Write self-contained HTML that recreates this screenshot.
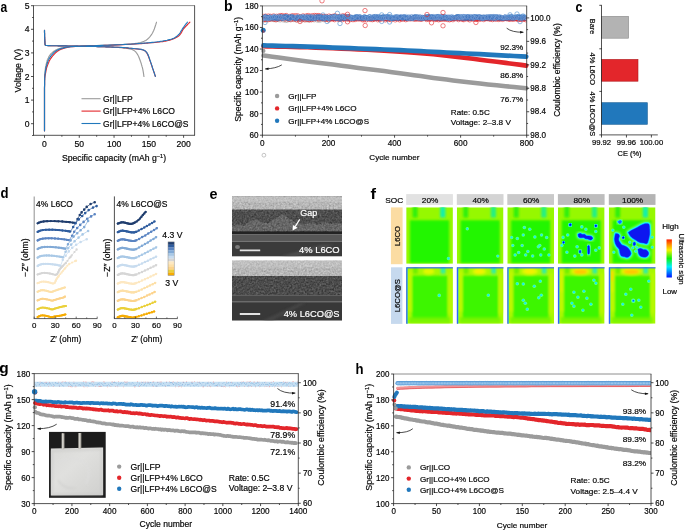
<!DOCTYPE html>
<html><head><meta charset="utf-8"><title>figure</title>
<style>
html,body{margin:0;padding:0;background:#fff;}
svg{display:block;will-change:transform;}
text{font-family:"Liberation Sans",sans-serif;}
</style></head><body>
<svg width="685" height="530" viewBox="0 0 685 530">
<defs>
<filter id="bl1" x="-20%" y="-20%" width="140%" height="140%"><feGaussianBlur stdDeviation="0.9"/></filter>
<filter id="bl2" x="-30%" y="-30%" width="160%" height="160%"><feGaussianBlur stdDeviation="0.45"/></filter>
<filter id="bl3" x="-30%" y="-30%" width="160%" height="160%"><feGaussianBlur stdDeviation="0.8"/></filter>
<filter id="semtexA" x="0" y="0" width="100%" height="100%" color-interpolation-filters="sRGB"><feTurbulence type="fractalNoise" baseFrequency="0.55" numOctaves="2" seed="4" result="n"/><feColorMatrix in="n" type="matrix" values="0.5 0.5 0 0 0  0.5 0.5 0 0 0  0.5 0.5 0 0 0  0 0 0 0 1" result="g"/><feComposite in="SourceGraphic" in2="g" operator="arithmetic" k1="0" k2="1" k3="0.42" k4="-0.21"/></filter>
<filter id="semtexB" x="0" y="0" width="100%" height="100%" color-interpolation-filters="sRGB"><feTurbulence type="fractalNoise" baseFrequency="0.55" numOctaves="2" seed="9" result="n"/><feColorMatrix in="n" type="matrix" values="0.5 0.5 0 0 0  0.5 0.5 0 0 0  0.5 0.5 0 0 0  0 0 0 0 1" result="g"/><feComposite in="SourceGraphic" in2="g" operator="arithmetic" k1="0" k2="1" k3="0.42" k4="-0.21"/></filter>
<clipPath id="clipb"><rect x="262.4" y="0" width="264.3" height="135.2"/></clipPath>
<clipPath id="clipd1"><rect x="34.6" y="195" width="70" height="123.2"/></clipPath>
<clipPath id="clipd2"><rect x="114.8" y="195" width="70" height="123.2"/></clipPath>
<clipPath id="clipg"><rect x="34.2" y="373.6" width="264.1" height="130"/></clipPath>
<clipPath id="cliph"><rect x="393.6" y="374" width="257.4" height="129.6"/></clipPath>
<clipPath id="cf00"><rect x="406.2" y="207.3" width="46.7" height="56.5"/></clipPath>
<clipPath id="cf01"><rect x="406.2" y="267.2" width="46.7" height="56.5"/></clipPath>
<clipPath id="cf10"><rect x="456.8" y="207.3" width="46.7" height="56.5"/></clipPath>
<clipPath id="cf11"><rect x="456.8" y="267.2" width="46.7" height="56.5"/></clipPath>
<clipPath id="cf20"><rect x="507.3" y="207.3" width="46.7" height="56.5"/></clipPath>
<clipPath id="cf21"><rect x="507.3" y="267.2" width="46.7" height="56.5"/></clipPath>
<clipPath id="cf30"><rect x="557.9" y="207.3" width="46.7" height="56.5"/></clipPath>
<clipPath id="cf31"><rect x="557.9" y="267.2" width="46.7" height="56.5"/></clipPath>
<clipPath id="cf40"><rect x="608.8" y="207.3" width="46.7" height="56.5"/></clipPath>
<clipPath id="cf41"><rect x="608.8" y="267.2" width="46.7" height="56.5"/></clipPath>
<linearGradient id="jet" x1="0" y1="1" x2="0" y2="0"><stop offset="0" stop-color="#0010ff"/><stop offset="0.14" stop-color="#0080ff"/><stop offset="0.28" stop-color="#00f0ff"/><stop offset="0.5" stop-color="#10f010"/><stop offset="0.72" stop-color="#f8f000"/><stop offset="0.86" stop-color="#ff9000"/><stop offset="1" stop-color="#ff2000"/></linearGradient>
<linearGradient id="pouch" x1="0" y1="0" x2="1" y2="1"><stop offset="0" stop-color="#d9d9d7"/><stop offset="0.4" stop-color="#e0e0de"/><stop offset="1" stop-color="#d0d0ce"/></linearGradient>
</defs>
<rect width="685" height="530" fill="#fff"/>
<text transform="translate(0.59 11.5) scale(0.79 1)" font-size="15.3" font-weight="bold" fill="#000">a</text>
<text transform="translate(223.97 11.4) scale(0.92 1)" font-size="15.3" font-weight="bold" fill="#000">b</text>
<text transform="translate(575.45 11.7) scale(0.81 1)" font-size="15.3" font-weight="bold" fill="#000">c</text>
<text transform="translate(0.52 198.4) scale(0.86 1)" font-size="15.3" font-weight="bold" fill="#000">d</text>
<text transform="translate(209.58 198.8) scale(0.94 1)" font-size="15.3" font-weight="bold" fill="#000">e</text>
<text transform="translate(370.42 198.6) scale(1.08 1)" font-size="15.3" font-weight="bold" fill="#000">f</text>
<text transform="translate(-0.67 373.3) scale(1.03 1)" font-size="15" font-weight="bold" fill="#000">g</text>
<text transform="translate(355.53 373.5) scale(0.86 1)" font-size="15.3" font-weight="bold" fill="#000">h</text>
<line x1="33.1" y1="5.6" x2="195" y2="5.6" stroke="#8e8e8e" stroke-width="1"/>
<line x1="33.5" y1="5.6" x2="33.5" y2="135.3" stroke="#262626" stroke-width="0.8"/>
<line x1="194.6" y1="5.6" x2="194.6" y2="135.3" stroke="#262626" stroke-width="0.8"/>
<line x1="33.1" y1="135.3" x2="195" y2="135.3" stroke="#262626" stroke-width="0.8"/>
<line x1="31" y1="123.7" x2="33.5" y2="123.7" stroke="#222" stroke-width="0.8"/>
<text x="29.5" y="126.7" font-size="9.12" text-anchor="end" stroke="#111" stroke-width="0.2" textLength="4.78" lengthAdjust="spacingAndGlyphs">0</text>
<line x1="31" y1="100.1" x2="33.5" y2="100.1" stroke="#222" stroke-width="0.8"/>
<text x="29.5" y="103.1" font-size="9.12" text-anchor="end" stroke="#111" stroke-width="0.2" textLength="4.78" lengthAdjust="spacingAndGlyphs">1</text>
<line x1="31" y1="76.5" x2="33.5" y2="76.5" stroke="#222" stroke-width="0.8"/>
<text x="29.5" y="79.5" font-size="9.12" text-anchor="end" stroke="#111" stroke-width="0.2" textLength="4.78" lengthAdjust="spacingAndGlyphs">2</text>
<line x1="31" y1="52.9" x2="33.5" y2="52.9" stroke="#222" stroke-width="0.8"/>
<text x="29.5" y="55.9" font-size="9.12" text-anchor="end" stroke="#111" stroke-width="0.2" textLength="4.78" lengthAdjust="spacingAndGlyphs">3</text>
<line x1="31" y1="29.3" x2="33.5" y2="29.3" stroke="#222" stroke-width="0.8"/>
<text x="29.5" y="32.3" font-size="9.12" text-anchor="end" stroke="#111" stroke-width="0.2" textLength="4.78" lengthAdjust="spacingAndGlyphs">4</text>
<line x1="31" y1="5.7" x2="33.5" y2="5.7" stroke="#222" stroke-width="0.8"/>
<text x="29.5" y="8.7" font-size="9.12" text-anchor="end" stroke="#111" stroke-width="0.2" textLength="4.78" lengthAdjust="spacingAndGlyphs">5</text>
<line x1="32.1" y1="135.5" x2="33.5" y2="135.5" stroke="#222" stroke-width="0.8"/>
<line x1="32.1" y1="111.9" x2="33.5" y2="111.9" stroke="#222" stroke-width="0.8"/>
<line x1="32.1" y1="88.3" x2="33.5" y2="88.3" stroke="#222" stroke-width="0.8"/>
<line x1="32.1" y1="64.7" x2="33.5" y2="64.7" stroke="#222" stroke-width="0.8"/>
<line x1="32.1" y1="41.1" x2="33.5" y2="41.1" stroke="#222" stroke-width="0.8"/>
<line x1="32.1" y1="17.5" x2="33.5" y2="17.5" stroke="#222" stroke-width="0.8"/>
<line x1="44.5" y1="135.3" x2="44.5" y2="137.8" stroke="#222" stroke-width="0.8"/>
<text x="44.5" y="146.6" font-size="9.12" text-anchor="middle" stroke="#111" stroke-width="0.2" textLength="4.78" lengthAdjust="spacingAndGlyphs">0</text>
<line x1="79.28" y1="135.3" x2="79.28" y2="137.8" stroke="#222" stroke-width="0.8"/>
<text x="79.28" y="146.6" font-size="9.12" text-anchor="middle" stroke="#111" stroke-width="0.2" textLength="9.56" lengthAdjust="spacingAndGlyphs">50</text>
<line x1="114.05" y1="135.3" x2="114.05" y2="137.8" stroke="#222" stroke-width="0.8"/>
<text x="114.05" y="146.6" font-size="9.12" text-anchor="middle" stroke="#111" stroke-width="0.2" textLength="14.34" lengthAdjust="spacingAndGlyphs">100</text>
<line x1="148.82" y1="135.3" x2="148.82" y2="137.8" stroke="#222" stroke-width="0.8"/>
<text x="148.82" y="146.6" font-size="9.12" text-anchor="middle" stroke="#111" stroke-width="0.2" textLength="14.34" lengthAdjust="spacingAndGlyphs">150</text>
<line x1="183.6" y1="135.3" x2="183.6" y2="137.8" stroke="#222" stroke-width="0.8"/>
<text x="183.6" y="146.6" font-size="9.12" text-anchor="middle" stroke="#111" stroke-width="0.2" textLength="14.34" lengthAdjust="spacingAndGlyphs">200</text>
<line x1="61.89" y1="135.3" x2="61.89" y2="136.7" stroke="#222" stroke-width="0.8"/>
<line x1="96.66" y1="135.3" x2="96.66" y2="136.7" stroke="#222" stroke-width="0.8"/>
<line x1="131.44" y1="135.3" x2="131.44" y2="136.7" stroke="#222" stroke-width="0.8"/>
<line x1="166.21" y1="135.3" x2="166.21" y2="136.7" stroke="#222" stroke-width="0.8"/>
<text x="61.98" y="161.1" font-size="8.5" textLength="104.15" lengthAdjust="spacingAndGlyphs" stroke="#111" stroke-width="0.2">Specific capacity (mAh g<tspan dy="-3" font-size="5.6">−1</tspan><tspan dy="3">)</tspan></text>
<text x="21.5" y="92.52" font-size="8.5" textLength="43.75" lengthAdjust="spacingAndGlyphs" transform="rotate(-90 21.5 92.52)" stroke="#111" stroke-width="0.2">Voltage (V)</text>
<path d="M44.5 130.8L44.5 125.8L44.5 118.6L44.5 110.2L44.5 101.7L44.5 94L44.5 88.3L44.6 84.6L44.6 82.2L44.6 80.6L44.6 79.6L44.6 78.7L44.7 77.7L44.7 76.6L44.7 75.7L44.8 75L44.8 74.4L44.9 73.7L44.9 73L45 72.1L45.1 71.2L45.2 70.2L45.3 69.3L45.4 68.4L45.5 67.5L45.7 66.7L45.9 65.9L46 65L46.2 64.3L46.4 63.5L46.6 62.8L46.7 62.2L46.9 61.7L47 61.2L47.1 60.7L47.3 60.1L47.6 59.5L47.9 58.8L48.3 58L48.7 57.1L49.1 56.3L49.6 55.5L50.1 54.8L50.6 54.2L51.1 53.6L51.6 53.1L52.2 52.6L52.7 52.1L53.3 51.7L53.8 51.3L54.3 51L54.8 50.7L55.3 50.4L55.8 50.1L56.3 49.8L56.9 49.6L57.4 49.3L57.9 49.1L58.5 48.9L59.2 48.7L60.1 48.4L61.1 48.1L62.3 47.8L63.6 47.5L65 47.3L66.4 47L68 46.8L69.6 46.6L71.3 46.5L73.1 46.3L74.9 46.2L77 46.2L79.3 46.1L81.8 45.9L84.7 45.8L87.7 45.7L90.7 45.6L93.8 45.6L96.7 45.5L99.5 45.4L102.3 45.3L105 45.2L107.7 45.2L110.3 45.1L112.7 45L114.9 44.9L117 44.8L119 44.7L120.9 44.6L122.7 44.5L124.5 44.4L126.2 44.3L127.8 44.2L129.4 44.1L130.8 44L132.2 43.8L133.5 43.7L134.8 43.6L135.9 43.4L137 43.3L138 43.1L138.9 42.9L139.8 42.8L140.6 42.6L141.4 42.3L142 42.1L142.7 41.9L143.3 41.6L144 41.3L144.6 41L145.2 40.7L145.8 40.4L146.4 40L146.9 39.6L147.4 39.2L147.9 38.8L148.4 38.4L148.9 37.9L149.3 37.4L149.8 36.9L150.2 36.4L150.6 35.8L151.1 35.2L151.5 34.6L151.9 34L152.3 33.3L152.7 32.6L153 31.9L153.3 31.2L153.7 30.5L154 29.7L154.3 29L154.6 28.1L154.9 27.2L155.3 26L155.7 24.9L156 23.8L156.3 22.9L156.5 22.2" fill="none" stroke="#9b9b9b" stroke-width="1.15" stroke-linejoin="round" stroke-linecap="round"/>
<path d="M44.5 30.2L44.5 31.1L44.5 32.2L44.6 33.5L44.6 35L44.6 36.3L44.7 37.6L44.7 38.7L44.8 39.8L44.8 40.9L44.9 41.9L44.9 42.7L45 43.5L45 44L45.1 44.4L45.1 44.7L45.2 44.9L45.3 45.1L45.5 45.2L45.7 45.4L45.8 45.5L46 45.5L46.4 45.5L47 45.5L48 45.6L49.4 45.6L51.2 45.7L53.3 45.7L55.5 45.7L57.7 45.8L59.8 45.8L61.8 45.9L63.9 45.9L65.9 45.9L68 46L70.1 46L72.3 46.1L74.6 46.1L76.9 46.1L79.2 46.2L81.5 46.2L83.9 46.2L86.2 46.3L88.6 46.3L90.9 46.4L93.3 46.5L95.6 46.5L97.9 46.6L100.1 46.6L102.4 46.7L104.6 46.8L106.7 46.9L108.8 46.9L110.8 47L112.7 47.1L114.3 47.2L115.9 47.3L117.3 47.4L118.6 47.5L119.8 47.6L121 47.7L122.1 47.8L123.1 47.9L124 48.1L124.9 48.2L125.8 48.3L126.6 48.4L127.4 48.5L128.1 48.6L128.8 48.7L129.5 48.9L130.1 49L130.7 49.1L131.3 49.3L131.8 49.5L132.2 49.6L132.7 49.8L133.1 50.1L133.5 50.3L134 50.6L134.4 50.8L134.8 51.1L135.2 51.4L135.6 51.8L136 52.2L136.3 52.6L136.7 53.1L137 53.6L137.4 54.1L137.7 54.7L138 55.3L138.4 55.9L138.7 56.6L138.9 57.3L139.2 58L139.5 58.7L139.8 59.5L140.1 60.3L140.4 61.2L140.7 62L141 62.9L141.3 63.8L141.5 64.7L141.8 65.5L142 66.4L142.3 67.2L142.5 68.1L142.7 68.9L142.9 69.9L143.1 71L143.3 72.2L143.5 73.5L143.7 74.7L143.8 75.8L144 76.5" fill="none" stroke="#9b9b9b" stroke-width="1.15" stroke-linejoin="round" stroke-linecap="round"/>
<path d="M44.5 130.8L44.5 125.8L44.5 118.6L44.5 110.2L44.5 101.7L44.5 94L44.5 88.3L44.6 84.6L44.6 82.2L44.6 80.6L44.7 79.6L44.7 78.7L44.8 77.7L44.9 76.6L45 75.7L45.2 75L45.3 74.4L45.5 73.7L45.6 73L45.8 72.1L45.9 71.2L46.1 70.2L46.3 69.3L46.5 68.4L46.7 67.5L47 66.7L47.3 65.9L47.6 65L47.9 64.3L48.2 63.5L48.5 62.8L48.8 62.2L49 61.6L49.2 61.1L49.4 60.6L49.7 60.1L50.1 59.5L50.5 58.8L51 58.1L51.5 57.4L52.1 56.7L52.6 55.9L53.2 55.3L53.8 54.6L54.4 54L55 53.3L55.6 52.8L56.2 52.2L56.8 51.7L57.3 51.3L57.8 51L58.3 50.6L58.8 50.4L59.3 50.1L59.8 49.8L60.3 49.6L60.9 49.3L61.4 49.1L62 48.9L62.7 48.6L63.4 48.4L64.2 48.2L65.1 47.9L66.1 47.7L67.1 47.4L68.2 47.2L69.5 47L70.8 46.8L72.2 46.7L73.7 46.6L75.3 46.5L77.2 46.4L79.3 46.3L81.8 46.2L84.6 46.1L87.6 46L90.7 45.9L93.8 45.8L96.7 45.7L99.4 45.6L102.1 45.5L104.8 45.4L107.4 45.3L110 45.2L112.7 45.1L115.3 45L117.9 44.9L120.6 44.8L123.1 44.6L125.6 44.5L128 44.4L130.2 44.3L132.3 44.2L134.3 44L136.2 43.9L138 43.8L139.8 43.7L141.4 43.6L142.9 43.5L144.3 43.4L145.7 43.3L147.2 43.1L148.8 43L150.7 42.8L152.8 42.6L154.9 42.5L157.1 42.3L159.1 42L161 41.8L162.7 41.6L164.2 41.3L165.6 41.1L167 40.8L168.4 40.5L169.7 40.2L171 39.7L172.4 39.3L173.7 38.7L174.9 38.2L176.1 37.6L177.1 37.1L177.9 36.5L178.6 36L179.3 35.4L179.8 34.8L180.3 34.2L180.8 33.5L181.3 32.9L181.6 32.3L181.9 31.6L182.2 31L182.5 30.4L182.9 29.8L183.3 29.2L183.7 28.7L184.2 28.1L184.6 27.6L185.1 27.1L185.7 26.5L186.3 25.8L187.1 25L187.9 24.1L188.7 23.4L189.4 22.7L189.9 22.2" fill="none" stroke="#e3262b" stroke-width="1.15" stroke-linejoin="round" stroke-linecap="round"/>
<path d="M44.5 30.2L44.5 31.1L44.5 32.2L44.6 33.5L44.6 35L44.6 36.3L44.7 37.6L44.7 38.7L44.8 39.8L44.8 40.9L44.9 41.9L44.9 42.7L45 43.5L45 44L45.1 44.4L45.1 44.7L45.2 44.9L45.3 45.1L45.5 45.2L45.7 45.4L45.8 45.5L46 45.5L46.4 45.5L47 45.5L48 45.6L49.4 45.6L51.2 45.7L53.3 45.7L55.5 45.7L57.7 45.8L59.8 45.8L61.8 45.9L63.9 45.9L65.9 45.9L68 46L70.1 46L72.3 46.1L74.6 46.1L76.9 46.1L79.2 46.2L81.5 46.2L83.9 46.2L86.2 46.3L88.6 46.3L90.9 46.4L93.3 46.5L95.6 46.5L97.9 46.6L100.1 46.6L102.3 46.7L104.4 46.8L106.5 46.9L108.6 46.9L110.6 47L112.7 47.1L114.7 47.2L116.8 47.3L118.9 47.4L121 47.5L122.8 47.6L124.5 47.7L125.9 47.8L127 47.9L128 48.1L129 48.2L129.9 48.3L131 48.4L132.2 48.5L133.5 48.7L134.9 48.8L136.1 48.9L137.3 49L138.4 49.1L139.3 49.2L140.1 49.3L140.8 49.4L141.4 49.5L142 49.7L142.6 49.8L143.1 50L143.6 50.2L144.1 50.4L144.5 50.6L144.9 50.9L145.3 51.2L145.7 51.6L146.1 52L146.4 52.4L146.8 52.9L147.1 53.5L147.4 54.1L147.8 54.8L148.1 55.6L148.5 56.5L148.9 57.5L149.2 58.4L149.5 59.3L149.8 60.1L150.1 60.9L150.4 61.8L150.7 62.6L151 63.4L151.3 64.2L151.6 65.1L151.9 66L152.2 66.9L152.4 67.8L152.7 68.6L153 69.4L153.3 70.2L153.5 70.9L153.7 71.6L154 72.2L154.2 72.8L154.4 73.4L154.6 74L154.8 74.6L155 75.2L155.2 75.7L155.3 76.2L155.4 76.5" fill="none" stroke="#e3262b" stroke-width="1.15" stroke-linejoin="round" stroke-linecap="round"/>
<path d="M44.5 130.8L44.5 125.8L44.5 118.6L44.5 110.2L44.5 101.7L44.5 94L44.5 88.3L44.6 84.6L44.6 82.2L44.6 80.6L44.7 79.6L44.7 78.7L44.7 77.7L44.8 76.6L44.9 75.7L44.9 75L45 74.4L45.1 73.7L45.2 73L45.3 72.1L45.4 71.2L45.6 70.2L45.7 69.3L45.9 68.4L46 67.5L46.2 66.7L46.5 65.9L46.7 65L46.9 64.3L47.2 63.5L47.4 62.8L47.6 62.2L47.8 61.6L48 61.1L48.1 60.6L48.4 60.1L48.7 59.5L49 58.8L49.5 58.1L49.9 57.4L50.4 56.7L50.9 55.9L51.5 55.3L52 54.6L52.6 54L53.2 53.3L53.8 52.8L54.4 52.2L54.9 51.7L55.5 51.3L56 51L56.5 50.6L57 50.4L57.5 50.1L58.1 49.8L58.6 49.6L59.1 49.3L59.5 49.1L60.1 48.9L60.7 48.7L61.5 48.4L62.5 48.2L63.6 47.9L64.8 47.6L66 47.3L67.4 47.1L68.8 46.9L70.3 46.7L71.8 46.6L73.4 46.5L75.2 46.4L77.1 46.3L79.3 46.2L81.8 46.1L84.6 46L87.6 45.9L90.7 45.8L93.8 45.7L96.7 45.6L99.4 45.5L102.1 45.4L104.8 45.3L107.4 45.2L110 45.1L112.7 45L115.3 44.9L117.9 44.8L120.6 44.7L123.1 44.5L125.6 44.4L128 44.3L130.2 44.2L132.3 44L134.3 43.9L136.2 43.7L138 43.6L139.8 43.5L141.4 43.3L143 43.2L144.4 43.1L145.8 43L147.3 42.9L148.8 42.8L150.5 42.6L152.3 42.4L154 42.2L155.8 42L157.6 41.8L159.3 41.6L160.9 41.3L162.5 41.1L164 40.8L165.5 40.5L167 40.2L168.3 39.9L169.5 39.6L170.7 39.3L171.7 39L172.7 38.6L173.7 38.2L174.6 37.8L175.4 37.3L176.1 36.8L176.8 36.3L177.5 35.7L178.1 35.1L178.7 34.5L179.3 33.8L179.9 33L180.4 32.2L180.9 31.3L181.4 30.5L181.9 29.8L182.3 29.1L182.8 28.4L183.3 27.7L183.7 27L184.2 26.4L184.6 25.8L185.1 25.1L185.7 24.4L186.2 23.7L186.7 23.1L187.1 22.6L187.4 22.2" fill="none" stroke="#2178bc" stroke-width="1.15" stroke-linejoin="round" stroke-linecap="round"/>
<path d="M44.5 30.2L44.5 31.1L44.5 32.2L44.6 33.5L44.6 35L44.6 36.3L44.7 37.6L44.7 38.7L44.8 39.8L44.8 40.9L44.9 41.9L44.9 42.7L45 43.5L45 44L45.1 44.4L45.1 44.7L45.2 44.9L45.3 45.1L45.5 45.2L45.7 45.4L45.8 45.5L46 45.5L46.4 45.5L47 45.5L48 45.6L49.4 45.6L51.2 45.7L53.3 45.7L55.5 45.7L57.7 45.8L59.8 45.8L61.8 45.9L63.9 45.9L65.9 45.9L68 46L70.1 46L72.3 46.1L74.6 46.1L76.9 46.1L79.2 46.2L81.5 46.2L83.9 46.2L86.2 46.3L88.6 46.3L90.9 46.4L93.3 46.5L95.6 46.5L97.9 46.6L100.1 46.6L102.3 46.7L104.4 46.8L106.5 46.9L108.6 46.9L110.6 47L112.7 47.1L114.7 47.2L116.8 47.2L118.9 47.3L121 47.4L122.8 47.5L124.5 47.6L125.9 47.7L127 47.8L128 47.9L129 48.1L129.9 48.2L131 48.3L132.2 48.4L133.5 48.5L134.9 48.7L136.1 48.8L137.3 48.9L138.4 49L139.3 49.1L140.1 49.2L140.8 49.3L141.4 49.4L142 49.6L142.6 49.7L143.1 49.9L143.6 50.1L144.1 50.2L144.5 50.5L144.9 50.7L145.3 51L145.7 51.3L146.1 51.7L146.4 52.1L146.8 52.5L147.1 53L147.4 53.6L147.8 54.3L148.1 55.1L148.5 56L148.9 57L149.2 57.9L149.5 58.8L149.8 59.7L150.1 60.5L150.4 61.4L150.7 62.3L151 63.1L151.3 64L151.6 64.9L151.9 65.8L152.2 66.6L152.4 67.5L152.7 68.4L153 69.2L153.3 70L153.5 70.7L153.7 71.4L154 72.1L154.2 72.8L154.4 73.4L154.6 74L154.8 74.7L155 75.2L155.2 75.7L155.3 76.2L155.4 76.5" fill="none" stroke="#2178bc" stroke-width="1.15" stroke-linejoin="round" stroke-linecap="round"/>
<line x1="81.5" y1="98.7" x2="100.6" y2="98.7" stroke="#9b9b9b" stroke-width="1.1"/>
<text x="103.08" y="101.7" font-size="8.45" textLength="29.54" lengthAdjust="spacingAndGlyphs" stroke="#111" stroke-width="0.2">Gr||LFP</text>
<line x1="81.5" y1="111.1" x2="100.6" y2="111.1" stroke="#e3262b" stroke-width="1.1"/>
<text x="103.08" y="114.1" font-size="8.45" textLength="71.94" lengthAdjust="spacingAndGlyphs" stroke="#111" stroke-width="0.2">Gr||LFP+4% L6CO</text>
<line x1="81.5" y1="123.5" x2="100.6" y2="123.5" stroke="#2178bc" stroke-width="1.1"/>
<text x="103.08" y="126.5" font-size="8.45" textLength="85.44" lengthAdjust="spacingAndGlyphs" stroke="#111" stroke-width="0.2">Gr||LFP+4% L6CO@S</text>
<g clip-path="url(#clipb)">
<path d="M261.4 19.8a2.1 2.1 0 1 0 4.2 0a2.1 2.1 0 1 0 -4.2 0M263.1 20.2a2.1 2.1 0 1 0 4.2 0a2.1 2.1 0 1 0 -4.2 0M264.7 20a2.1 2.1 0 1 0 4.2 0a2.1 2.1 0 1 0 -4.2 0M266.9 19.6a2.1 2.1 0 1 0 4.2 0a2.1 2.1 0 1 0 -4.2 0M269.3 19.5a2.1 2.1 0 1 0 4.2 0a2.1 2.1 0 1 0 -4.2 0M271.5 19.6a2.1 2.1 0 1 0 4.2 0a2.1 2.1 0 1 0 -4.2 0M273.2 19.9a2.1 2.1 0 1 0 4.2 0a2.1 2.1 0 1 0 -4.2 0M276.2 19.6a2.1 2.1 0 1 0 4.2 0a2.1 2.1 0 1 0 -4.2 0M278 20.1a2.1 2.1 0 1 0 4.2 0a2.1 2.1 0 1 0 -4.2 0M281.3 20.1a2.1 2.1 0 1 0 4.2 0a2.1 2.1 0 1 0 -4.2 0M283.5 20.5a2.1 2.1 0 1 0 4.2 0a2.1 2.1 0 1 0 -4.2 0M285 20.4a2.1 2.1 0 1 0 4.2 0a2.1 2.1 0 1 0 -4.2 0M287 19.6a2.1 2.1 0 1 0 4.2 0a2.1 2.1 0 1 0 -4.2 0M288.7 19.8a2.1 2.1 0 1 0 4.2 0a2.1 2.1 0 1 0 -4.2 0M291.7 19.7a2.1 2.1 0 1 0 4.2 0a2.1 2.1 0 1 0 -4.2 0M294.3 20.1a2.1 2.1 0 1 0 4.2 0a2.1 2.1 0 1 0 -4.2 0M296.4 20a2.1 2.1 0 1 0 4.2 0a2.1 2.1 0 1 0 -4.2 0M298 19.6a2.1 2.1 0 1 0 4.2 0a2.1 2.1 0 1 0 -4.2 0M299.8 20.2a2.1 2.1 0 1 0 4.2 0a2.1 2.1 0 1 0 -4.2 0M302.1 19.8a2.1 2.1 0 1 0 4.2 0a2.1 2.1 0 1 0 -4.2 0M304.6 20a2.1 2.1 0 1 0 4.2 0a2.1 2.1 0 1 0 -4.2 0M306.7 20.3a2.1 2.1 0 1 0 4.2 0a2.1 2.1 0 1 0 -4.2 0M309.4 19.7a2.1 2.1 0 1 0 4.2 0a2.1 2.1 0 1 0 -4.2 0M312 20a2.1 2.1 0 1 0 4.2 0a2.1 2.1 0 1 0 -4.2 0M315.1 20.2a2.1 2.1 0 1 0 4.2 0a2.1 2.1 0 1 0 -4.2 0M317.1 20.5a2.1 2.1 0 1 0 4.2 0a2.1 2.1 0 1 0 -4.2 0M318.8 19.9a2.1 2.1 0 1 0 4.2 0a2.1 2.1 0 1 0 -4.2 0M321.7 19.7a2.1 2.1 0 1 0 4.2 0a2.1 2.1 0 1 0 -4.2 0M324 19.5a2.1 2.1 0 1 0 4.2 0a2.1 2.1 0 1 0 -4.2 0M326.8 20.3a2.1 2.1 0 1 0 4.2 0a2.1 2.1 0 1 0 -4.2 0" fill="none" stroke="#a8a8a8" stroke-width="0.55"/>
<path d="M261.4 19.8a2.1 2.1 0 1 0 4.2 0a2.1 2.1 0 1 0 -4.2 0M262.8 19.6a2.1 2.1 0 1 0 4.2 0a2.1 2.1 0 1 0 -4.2 0M264.5 19.4a2.1 2.1 0 1 0 4.2 0a2.1 2.1 0 1 0 -4.2 0M266 19.8a2.1 2.1 0 1 0 4.2 0a2.1 2.1 0 1 0 -4.2 0M268.2 19.3a2.1 2.1 0 1 0 4.2 0a2.1 2.1 0 1 0 -4.2 0M270 18.7a2.1 2.1 0 1 0 4.2 0a2.1 2.1 0 1 0 -4.2 0M271.9 19.5a2.1 2.1 0 1 0 4.2 0a2.1 2.1 0 1 0 -4.2 0M274.1 19.8a2.1 2.1 0 1 0 4.2 0a2.1 2.1 0 1 0 -4.2 0M275.4 19.1a2.1 2.1 0 1 0 4.2 0a2.1 2.1 0 1 0 -4.2 0M277.2 18.6a2.1 2.1 0 1 0 4.2 0a2.1 2.1 0 1 0 -4.2 0M278.8 18.8a2.1 2.1 0 1 0 4.2 0a2.1 2.1 0 1 0 -4.2 0M279.9 18.7a2.1 2.1 0 1 0 4.2 0a2.1 2.1 0 1 0 -4.2 0M281.8 18.8a2.1 2.1 0 1 0 4.2 0a2.1 2.1 0 1 0 -4.2 0M283.1 19.1a2.1 2.1 0 1 0 4.2 0a2.1 2.1 0 1 0 -4.2 0M285.2 18.7a2.1 2.1 0 1 0 4.2 0a2.1 2.1 0 1 0 -4.2 0M286.7 19.4a2.1 2.1 0 1 0 4.2 0a2.1 2.1 0 1 0 -4.2 0M288.8 19.7a2.1 2.1 0 1 0 4.2 0a2.1 2.1 0 1 0 -4.2 0M290.9 19a2.1 2.1 0 1 0 4.2 0a2.1 2.1 0 1 0 -4.2 0M292.4 19.1a2.1 2.1 0 1 0 4.2 0a2.1 2.1 0 1 0 -4.2 0M294.5 19.9a2.1 2.1 0 1 0 4.2 0a2.1 2.1 0 1 0 -4.2 0M295.6 18.8a2.1 2.1 0 1 0 4.2 0a2.1 2.1 0 1 0 -4.2 0M296.9 18.9a2.1 2.1 0 1 0 4.2 0a2.1 2.1 0 1 0 -4.2 0M298.5 19.4a2.1 2.1 0 1 0 4.2 0a2.1 2.1 0 1 0 -4.2 0M299.8 18.6a2.1 2.1 0 1 0 4.2 0a2.1 2.1 0 1 0 -4.2 0M301.2 19.1a2.1 2.1 0 1 0 4.2 0a2.1 2.1 0 1 0 -4.2 0M302.9 19.9a2.1 2.1 0 1 0 4.2 0a2.1 2.1 0 1 0 -4.2 0M304.8 19.3a2.1 2.1 0 1 0 4.2 0a2.1 2.1 0 1 0 -4.2 0M306.5 19.5a2.1 2.1 0 1 0 4.2 0a2.1 2.1 0 1 0 -4.2 0M307.6 19.9a2.1 2.1 0 1 0 4.2 0a2.1 2.1 0 1 0 -4.2 0M309.5 19.8a2.1 2.1 0 1 0 4.2 0a2.1 2.1 0 1 0 -4.2 0M311.5 19.1a2.1 2.1 0 1 0 4.2 0a2.1 2.1 0 1 0 -4.2 0M313 18.7a2.1 2.1 0 1 0 4.2 0a2.1 2.1 0 1 0 -4.2 0M314.7 18.7a2.1 2.1 0 1 0 4.2 0a2.1 2.1 0 1 0 -4.2 0M315.8 18.9a2.1 2.1 0 1 0 4.2 0a2.1 2.1 0 1 0 -4.2 0M317 19.1a2.1 2.1 0 1 0 4.2 0a2.1 2.1 0 1 0 -4.2 0M318 18.6a2.1 2.1 0 1 0 4.2 0a2.1 2.1 0 1 0 -4.2 0M319.1 18.7a2.1 2.1 0 1 0 4.2 0a2.1 2.1 0 1 0 -4.2 0M320.6 18.6a2.1 2.1 0 1 0 4.2 0a2.1 2.1 0 1 0 -4.2 0M322.6 19.5a2.1 2.1 0 1 0 4.2 0a2.1 2.1 0 1 0 -4.2 0M323.8 19a2.1 2.1 0 1 0 4.2 0a2.1 2.1 0 1 0 -4.2 0M325.2 19.1a2.1 2.1 0 1 0 4.2 0a2.1 2.1 0 1 0 -4.2 0M326.3 19.8a2.1 2.1 0 1 0 4.2 0a2.1 2.1 0 1 0 -4.2 0M328.5 19.3a2.1 2.1 0 1 0 4.2 0a2.1 2.1 0 1 0 -4.2 0M330.1 18.7a2.1 2.1 0 1 0 4.2 0a2.1 2.1 0 1 0 -4.2 0M331.2 19.1a2.1 2.1 0 1 0 4.2 0a2.1 2.1 0 1 0 -4.2 0M332.5 19.8a2.1 2.1 0 1 0 4.2 0a2.1 2.1 0 1 0 -4.2 0M333.7 18.6a2.1 2.1 0 1 0 4.2 0a2.1 2.1 0 1 0 -4.2 0M335.9 19.3a2.1 2.1 0 1 0 4.2 0a2.1 2.1 0 1 0 -4.2 0M337 19.4a2.1 2.1 0 1 0 4.2 0a2.1 2.1 0 1 0 -4.2 0M338 19.3a2.1 2.1 0 1 0 4.2 0a2.1 2.1 0 1 0 -4.2 0M340.2 19.8a2.1 2.1 0 1 0 4.2 0a2.1 2.1 0 1 0 -4.2 0M342.1 19a2.1 2.1 0 1 0 4.2 0a2.1 2.1 0 1 0 -4.2 0M343.5 18.8a2.1 2.1 0 1 0 4.2 0a2.1 2.1 0 1 0 -4.2 0M345.4 19.3a2.1 2.1 0 1 0 4.2 0a2.1 2.1 0 1 0 -4.2 0M347.4 19.1a2.1 2.1 0 1 0 4.2 0a2.1 2.1 0 1 0 -4.2 0M348.6 19.7a2.1 2.1 0 1 0 4.2 0a2.1 2.1 0 1 0 -4.2 0M350.9 19.8a2.1 2.1 0 1 0 4.2 0a2.1 2.1 0 1 0 -4.2 0M352.9 19.7a2.1 2.1 0 1 0 4.2 0a2.1 2.1 0 1 0 -4.2 0M354.8 18.9a2.1 2.1 0 1 0 4.2 0a2.1 2.1 0 1 0 -4.2 0M356.4 19.1a2.1 2.1 0 1 0 4.2 0a2.1 2.1 0 1 0 -4.2 0M357.4 18.6a2.1 2.1 0 1 0 4.2 0a2.1 2.1 0 1 0 -4.2 0M358.7 19a2.1 2.1 0 1 0 4.2 0a2.1 2.1 0 1 0 -4.2 0M360.5 19.9a2.1 2.1 0 1 0 4.2 0a2.1 2.1 0 1 0 -4.2 0M362.1 19.9a2.1 2.1 0 1 0 4.2 0a2.1 2.1 0 1 0 -4.2 0M364.3 19.9a2.1 2.1 0 1 0 4.2 0a2.1 2.1 0 1 0 -4.2 0M365.7 18.9a2.1 2.1 0 1 0 4.2 0a2.1 2.1 0 1 0 -4.2 0M367 18.9a2.1 2.1 0 1 0 4.2 0a2.1 2.1 0 1 0 -4.2 0M368.2 19.5a2.1 2.1 0 1 0 4.2 0a2.1 2.1 0 1 0 -4.2 0M370.3 19.8a2.1 2.1 0 1 0 4.2 0a2.1 2.1 0 1 0 -4.2 0M371.9 19.5a2.1 2.1 0 1 0 4.2 0a2.1 2.1 0 1 0 -4.2 0M373.9 18.7a2.1 2.1 0 1 0 4.2 0a2.1 2.1 0 1 0 -4.2 0M375.7 19.9a2.1 2.1 0 1 0 4.2 0a2.1 2.1 0 1 0 -4.2 0M377.6 19.7a2.1 2.1 0 1 0 4.2 0a2.1 2.1 0 1 0 -4.2 0M379.2 18.8a2.1 2.1 0 1 0 4.2 0a2.1 2.1 0 1 0 -4.2 0M381.2 19.1a2.1 2.1 0 1 0 4.2 0a2.1 2.1 0 1 0 -4.2 0M383.2 20a2.1 2.1 0 1 0 4.2 0a2.1 2.1 0 1 0 -4.2 0M384.6 19.2a2.1 2.1 0 1 0 4.2 0a2.1 2.1 0 1 0 -4.2 0M386.8 19.6a2.1 2.1 0 1 0 4.2 0a2.1 2.1 0 1 0 -4.2 0M388 18.8a2.1 2.1 0 1 0 4.2 0a2.1 2.1 0 1 0 -4.2 0M389.1 19.9a2.1 2.1 0 1 0 4.2 0a2.1 2.1 0 1 0 -4.2 0M391.1 18.8a2.1 2.1 0 1 0 4.2 0a2.1 2.1 0 1 0 -4.2 0M393.1 20a2.1 2.1 0 1 0 4.2 0a2.1 2.1 0 1 0 -4.2 0M394.9 19.1a2.1 2.1 0 1 0 4.2 0a2.1 2.1 0 1 0 -4.2 0M396.6 18.8a2.1 2.1 0 1 0 4.2 0a2.1 2.1 0 1 0 -4.2 0M397.6 20a2.1 2.1 0 1 0 4.2 0a2.1 2.1 0 1 0 -4.2 0M399.4 19.3a2.1 2.1 0 1 0 4.2 0a2.1 2.1 0 1 0 -4.2 0M401.5 19.2a2.1 2.1 0 1 0 4.2 0a2.1 2.1 0 1 0 -4.2 0M403.6 19.8a2.1 2.1 0 1 0 4.2 0a2.1 2.1 0 1 0 -4.2 0M404.8 19a2.1 2.1 0 1 0 4.2 0a2.1 2.1 0 1 0 -4.2 0M406.2 18.9a2.1 2.1 0 1 0 4.2 0a2.1 2.1 0 1 0 -4.2 0M407.9 19a2.1 2.1 0 1 0 4.2 0a2.1 2.1 0 1 0 -4.2 0M409.4 18.8a2.1 2.1 0 1 0 4.2 0a2.1 2.1 0 1 0 -4.2 0M411.5 19.1a2.1 2.1 0 1 0 4.2 0a2.1 2.1 0 1 0 -4.2 0M413.1 19.4a2.1 2.1 0 1 0 4.2 0a2.1 2.1 0 1 0 -4.2 0M415.2 19.2a2.1 2.1 0 1 0 4.2 0a2.1 2.1 0 1 0 -4.2 0M417.3 19.3a2.1 2.1 0 1 0 4.2 0a2.1 2.1 0 1 0 -4.2 0M418.9 19.3a2.1 2.1 0 1 0 4.2 0a2.1 2.1 0 1 0 -4.2 0M419.9 19.2a2.1 2.1 0 1 0 4.2 0a2.1 2.1 0 1 0 -4.2 0M421.1 18.6a2.1 2.1 0 1 0 4.2 0a2.1 2.1 0 1 0 -4.2 0M423.1 18.8a2.1 2.1 0 1 0 4.2 0a2.1 2.1 0 1 0 -4.2 0M424.7 19.6a2.1 2.1 0 1 0 4.2 0a2.1 2.1 0 1 0 -4.2 0M426.3 19.1a2.1 2.1 0 1 0 4.2 0a2.1 2.1 0 1 0 -4.2 0M428 19.4a2.1 2.1 0 1 0 4.2 0a2.1 2.1 0 1 0 -4.2 0M429.9 18.7a2.1 2.1 0 1 0 4.2 0a2.1 2.1 0 1 0 -4.2 0M431.6 18.9a2.1 2.1 0 1 0 4.2 0a2.1 2.1 0 1 0 -4.2 0M432.9 19.7a2.1 2.1 0 1 0 4.2 0a2.1 2.1 0 1 0 -4.2 0M434.5 19.4a2.1 2.1 0 1 0 4.2 0a2.1 2.1 0 1 0 -4.2 0M436.5 19.9a2.1 2.1 0 1 0 4.2 0a2.1 2.1 0 1 0 -4.2 0M438 19.5a2.1 2.1 0 1 0 4.2 0a2.1 2.1 0 1 0 -4.2 0M439.6 19.3a2.1 2.1 0 1 0 4.2 0a2.1 2.1 0 1 0 -4.2 0M441.4 19.2a2.1 2.1 0 1 0 4.2 0a2.1 2.1 0 1 0 -4.2 0M443.1 19.3a2.1 2.1 0 1 0 4.2 0a2.1 2.1 0 1 0 -4.2 0M445.3 19.6a2.1 2.1 0 1 0 4.2 0a2.1 2.1 0 1 0 -4.2 0M447.3 19.9a2.1 2.1 0 1 0 4.2 0a2.1 2.1 0 1 0 -4.2 0M448.6 19.4a2.1 2.1 0 1 0 4.2 0a2.1 2.1 0 1 0 -4.2 0M450.8 19.8a2.1 2.1 0 1 0 4.2 0a2.1 2.1 0 1 0 -4.2 0M451.9 18.8a2.1 2.1 0 1 0 4.2 0a2.1 2.1 0 1 0 -4.2 0M453.5 18.7a2.1 2.1 0 1 0 4.2 0a2.1 2.1 0 1 0 -4.2 0M454.7 18.7a2.1 2.1 0 1 0 4.2 0a2.1 2.1 0 1 0 -4.2 0M456.5 19.7a2.1 2.1 0 1 0 4.2 0a2.1 2.1 0 1 0 -4.2 0M458.7 18.8a2.1 2.1 0 1 0 4.2 0a2.1 2.1 0 1 0 -4.2 0M460.5 19.5a2.1 2.1 0 1 0 4.2 0a2.1 2.1 0 1 0 -4.2 0M461.7 19.8a2.1 2.1 0 1 0 4.2 0a2.1 2.1 0 1 0 -4.2 0M463.9 18.9a2.1 2.1 0 1 0 4.2 0a2.1 2.1 0 1 0 -4.2 0M466 19.2a2.1 2.1 0 1 0 4.2 0a2.1 2.1 0 1 0 -4.2 0M467.6 20a2.1 2.1 0 1 0 4.2 0a2.1 2.1 0 1 0 -4.2 0M469.7 18.8a2.1 2.1 0 1 0 4.2 0a2.1 2.1 0 1 0 -4.2 0M471.2 19.3a2.1 2.1 0 1 0 4.2 0a2.1 2.1 0 1 0 -4.2 0M472.6 18.9a2.1 2.1 0 1 0 4.2 0a2.1 2.1 0 1 0 -4.2 0M473.9 19.6a2.1 2.1 0 1 0 4.2 0a2.1 2.1 0 1 0 -4.2 0M474.9 19.4a2.1 2.1 0 1 0 4.2 0a2.1 2.1 0 1 0 -4.2 0M476.4 18.6a2.1 2.1 0 1 0 4.2 0a2.1 2.1 0 1 0 -4.2 0M477.8 19.5a2.1 2.1 0 1 0 4.2 0a2.1 2.1 0 1 0 -4.2 0M479.4 18.7a2.1 2.1 0 1 0 4.2 0a2.1 2.1 0 1 0 -4.2 0M481.7 19.7a2.1 2.1 0 1 0 4.2 0a2.1 2.1 0 1 0 -4.2 0M483.9 18.7a2.1 2.1 0 1 0 4.2 0a2.1 2.1 0 1 0 -4.2 0M485.2 18.7a2.1 2.1 0 1 0 4.2 0a2.1 2.1 0 1 0 -4.2 0M487.1 19a2.1 2.1 0 1 0 4.2 0a2.1 2.1 0 1 0 -4.2 0M488.2 19.2a2.1 2.1 0 1 0 4.2 0a2.1 2.1 0 1 0 -4.2 0M490.4 19.7a2.1 2.1 0 1 0 4.2 0a2.1 2.1 0 1 0 -4.2 0M491.7 18.8a2.1 2.1 0 1 0 4.2 0a2.1 2.1 0 1 0 -4.2 0M493.8 19.4a2.1 2.1 0 1 0 4.2 0a2.1 2.1 0 1 0 -4.2 0M495.7 18.7a2.1 2.1 0 1 0 4.2 0a2.1 2.1 0 1 0 -4.2 0M496.7 19.6a2.1 2.1 0 1 0 4.2 0a2.1 2.1 0 1 0 -4.2 0M498.2 18.7a2.1 2.1 0 1 0 4.2 0a2.1 2.1 0 1 0 -4.2 0M500.4 19.5a2.1 2.1 0 1 0 4.2 0a2.1 2.1 0 1 0 -4.2 0M502.3 18.7a2.1 2.1 0 1 0 4.2 0a2.1 2.1 0 1 0 -4.2 0M504.4 18.7a2.1 2.1 0 1 0 4.2 0a2.1 2.1 0 1 0 -4.2 0M506.5 19.2a2.1 2.1 0 1 0 4.2 0a2.1 2.1 0 1 0 -4.2 0M507.9 19.4a2.1 2.1 0 1 0 4.2 0a2.1 2.1 0 1 0 -4.2 0M510 19a2.1 2.1 0 1 0 4.2 0a2.1 2.1 0 1 0 -4.2 0M511.1 19.3a2.1 2.1 0 1 0 4.2 0a2.1 2.1 0 1 0 -4.2 0M512.4 18.8a2.1 2.1 0 1 0 4.2 0a2.1 2.1 0 1 0 -4.2 0M513.6 18.7a2.1 2.1 0 1 0 4.2 0a2.1 2.1 0 1 0 -4.2 0M514.8 19a2.1 2.1 0 1 0 4.2 0a2.1 2.1 0 1 0 -4.2 0M516.1 19.7a2.1 2.1 0 1 0 4.2 0a2.1 2.1 0 1 0 -4.2 0M517.5 19.3a2.1 2.1 0 1 0 4.2 0a2.1 2.1 0 1 0 -4.2 0M518.6 19.1a2.1 2.1 0 1 0 4.2 0a2.1 2.1 0 1 0 -4.2 0M519.6 19a2.1 2.1 0 1 0 4.2 0a2.1 2.1 0 1 0 -4.2 0M520.6 19.6a2.1 2.1 0 1 0 4.2 0a2.1 2.1 0 1 0 -4.2 0M522.3 18.9a2.1 2.1 0 1 0 4.2 0a2.1 2.1 0 1 0 -4.2 0M523.8 19.9a2.1 2.1 0 1 0 4.2 0a2.1 2.1 0 1 0 -4.2 0M261.4 16.4a2.1 2.1 0 1 0 4.2 0a2.1 2.1 0 1 0 -4.2 0M263.5 16a2.1 2.1 0 1 0 4.2 0a2.1 2.1 0 1 0 -4.2 0M266.3 15.9a2.1 2.1 0 1 0 4.2 0a2.1 2.1 0 1 0 -4.2 0M268.5 16.2a2.1 2.1 0 1 0 4.2 0a2.1 2.1 0 1 0 -4.2 0M271.5 15.8a2.1 2.1 0 1 0 4.2 0a2.1 2.1 0 1 0 -4.2 0M274.3 16.2a2.1 2.1 0 1 0 4.2 0a2.1 2.1 0 1 0 -4.2 0M276.8 15.9a2.1 2.1 0 1 0 4.2 0a2.1 2.1 0 1 0 -4.2 0M278.7 15.5a2.1 2.1 0 1 0 4.2 0a2.1 2.1 0 1 0 -4.2 0M280.2 15.5a2.1 2.1 0 1 0 4.2 0a2.1 2.1 0 1 0 -4.2 0M282.9 15.7a2.1 2.1 0 1 0 4.2 0a2.1 2.1 0 1 0 -4.2 0M284.5 15.5a2.1 2.1 0 1 0 4.2 0a2.1 2.1 0 1 0 -4.2 0M287.3 16.4a2.1 2.1 0 1 0 4.2 0a2.1 2.1 0 1 0 -4.2 0M289.8 15.7a2.1 2.1 0 1 0 4.2 0a2.1 2.1 0 1 0 -4.2 0M291.5 15.8a2.1 2.1 0 1 0 4.2 0a2.1 2.1 0 1 0 -4.2 0M293.6 15.6a2.1 2.1 0 1 0 4.2 0a2.1 2.1 0 1 0 -4.2 0M295.7 15.7a2.1 2.1 0 1 0 4.2 0a2.1 2.1 0 1 0 -4.2 0M298.8 16.6a2.1 2.1 0 1 0 4.2 0a2.1 2.1 0 1 0 -4.2 0M301 15.7a2.1 2.1 0 1 0 4.2 0a2.1 2.1 0 1 0 -4.2 0M304.1 15.8a2.1 2.1 0 1 0 4.2 0a2.1 2.1 0 1 0 -4.2 0M306 15.4a2.1 2.1 0 1 0 4.2 0a2.1 2.1 0 1 0 -4.2 0M308 16a2.1 2.1 0 1 0 4.2 0a2.1 2.1 0 1 0 -4.2 0M310.2 15.6a2.1 2.1 0 1 0 4.2 0a2.1 2.1 0 1 0 -4.2 0M312.4 15.4a2.1 2.1 0 1 0 4.2 0a2.1 2.1 0 1 0 -4.2 0M314.2 15.5a2.1 2.1 0 1 0 4.2 0a2.1 2.1 0 1 0 -4.2 0M316.2 15.5a2.1 2.1 0 1 0 4.2 0a2.1 2.1 0 1 0 -4.2 0M317.6 15.8a2.1 2.1 0 1 0 4.2 0a2.1 2.1 0 1 0 -4.2 0M319.3 16.1a2.1 2.1 0 1 0 4.2 0a2.1 2.1 0 1 0 -4.2 0M321.6 16.3a2.1 2.1 0 1 0 4.2 0a2.1 2.1 0 1 0 -4.2 0M324 16.3a2.1 2.1 0 1 0 4.2 0a2.1 2.1 0 1 0 -4.2 0M326.9 15.9a2.1 2.1 0 1 0 4.2 0a2.1 2.1 0 1 0 -4.2 0M328.8 16.6a2.1 2.1 0 1 0 4.2 0a2.1 2.1 0 1 0 -4.2 0M330.4 16.3a2.1 2.1 0 1 0 4.2 0a2.1 2.1 0 1 0 -4.2 0M332.8 15.5a2.1 2.1 0 1 0 4.2 0a2.1 2.1 0 1 0 -4.2 0M335.6 16.5a2.1 2.1 0 1 0 4.2 0a2.1 2.1 0 1 0 -4.2 0M338.1 16.3a2.1 2.1 0 1 0 4.2 0a2.1 2.1 0 1 0 -4.2 0M340.8 15.6a2.1 2.1 0 1 0 4.2 0a2.1 2.1 0 1 0 -4.2 0M343 16a2.1 2.1 0 1 0 4.2 0a2.1 2.1 0 1 0 -4.2 0M345.8 16.4a2.1 2.1 0 1 0 4.2 0a2.1 2.1 0 1 0 -4.2 0" fill="none" stroke="#e3262b" stroke-width="0.55"/>
<path d="M330 20.4L526 20.6" fill="none" stroke="#e3262b" stroke-width="1" stroke-linejoin="round" stroke-linecap="round"/>
<path d="M261.4 17.8a2.1 2.1 0 1 0 4.2 0a2.1 2.1 0 1 0 -4.2 0M262.1 18a2.1 2.1 0 1 0 4.2 0a2.1 2.1 0 1 0 -4.2 0M262.8 17a2.1 2.1 0 1 0 4.2 0a2.1 2.1 0 1 0 -4.2 0M263.1 16.8a2.1 2.1 0 1 0 4.2 0a2.1 2.1 0 1 0 -4.2 0M263.6 16.7a2.1 2.1 0 1 0 4.2 0a2.1 2.1 0 1 0 -4.2 0M264.3 17.7a2.1 2.1 0 1 0 4.2 0a2.1 2.1 0 1 0 -4.2 0M264.9 17.9a2.1 2.1 0 1 0 4.2 0a2.1 2.1 0 1 0 -4.2 0M265.5 17.6a2.1 2.1 0 1 0 4.2 0a2.1 2.1 0 1 0 -4.2 0M265.9 18.3a2.1 2.1 0 1 0 4.2 0a2.1 2.1 0 1 0 -4.2 0M266.5 17.6a2.1 2.1 0 1 0 4.2 0a2.1 2.1 0 1 0 -4.2 0M267.1 18a2.1 2.1 0 1 0 4.2 0a2.1 2.1 0 1 0 -4.2 0M267.4 18.1a2.1 2.1 0 1 0 4.2 0a2.1 2.1 0 1 0 -4.2 0M267.9 16.7a2.1 2.1 0 1 0 4.2 0a2.1 2.1 0 1 0 -4.2 0M268.3 18.1a2.1 2.1 0 1 0 4.2 0a2.1 2.1 0 1 0 -4.2 0M268.7 18.1a2.1 2.1 0 1 0 4.2 0a2.1 2.1 0 1 0 -4.2 0M269.5 17.6a2.1 2.1 0 1 0 4.2 0a2.1 2.1 0 1 0 -4.2 0M270 17.6a2.1 2.1 0 1 0 4.2 0a2.1 2.1 0 1 0 -4.2 0M270.6 18.2a2.1 2.1 0 1 0 4.2 0a2.1 2.1 0 1 0 -4.2 0M271.2 17.9a2.1 2.1 0 1 0 4.2 0a2.1 2.1 0 1 0 -4.2 0M271.6 16.8a2.1 2.1 0 1 0 4.2 0a2.1 2.1 0 1 0 -4.2 0M272 18.1a2.1 2.1 0 1 0 4.2 0a2.1 2.1 0 1 0 -4.2 0M272.5 17.7a2.1 2.1 0 1 0 4.2 0a2.1 2.1 0 1 0 -4.2 0M272.8 16.6a2.1 2.1 0 1 0 4.2 0a2.1 2.1 0 1 0 -4.2 0M273.3 18a2.1 2.1 0 1 0 4.2 0a2.1 2.1 0 1 0 -4.2 0M273.9 18a2.1 2.1 0 1 0 4.2 0a2.1 2.1 0 1 0 -4.2 0M274.4 17.6a2.1 2.1 0 1 0 4.2 0a2.1 2.1 0 1 0 -4.2 0M274.9 17.5a2.1 2.1 0 1 0 4.2 0a2.1 2.1 0 1 0 -4.2 0M275.3 18.5a2.1 2.1 0 1 0 4.2 0a2.1 2.1 0 1 0 -4.2 0M275.7 18.7a2.1 2.1 0 1 0 4.2 0a2.1 2.1 0 1 0 -4.2 0M276.5 16.5a2.1 2.1 0 1 0 4.2 0a2.1 2.1 0 1 0 -4.2 0M277 18.3a2.1 2.1 0 1 0 4.2 0a2.1 2.1 0 1 0 -4.2 0M277.7 17.5a2.1 2.1 0 1 0 4.2 0a2.1 2.1 0 1 0 -4.2 0M278.2 17a2.1 2.1 0 1 0 4.2 0a2.1 2.1 0 1 0 -4.2 0M278.9 17a2.1 2.1 0 1 0 4.2 0a2.1 2.1 0 1 0 -4.2 0M279.5 16.8a2.1 2.1 0 1 0 4.2 0a2.1 2.1 0 1 0 -4.2 0M280.1 18.6a2.1 2.1 0 1 0 4.2 0a2.1 2.1 0 1 0 -4.2 0M280.5 18.3a2.1 2.1 0 1 0 4.2 0a2.1 2.1 0 1 0 -4.2 0M281 18.5a2.1 2.1 0 1 0 4.2 0a2.1 2.1 0 1 0 -4.2 0M281.7 17a2.1 2.1 0 1 0 4.2 0a2.1 2.1 0 1 0 -4.2 0M282.4 17.6a2.1 2.1 0 1 0 4.2 0a2.1 2.1 0 1 0 -4.2 0M282.7 16.5a2.1 2.1 0 1 0 4.2 0a2.1 2.1 0 1 0 -4.2 0M283.3 17.5a2.1 2.1 0 1 0 4.2 0a2.1 2.1 0 1 0 -4.2 0M283.7 16.8a2.1 2.1 0 1 0 4.2 0a2.1 2.1 0 1 0 -4.2 0M284.2 17.2a2.1 2.1 0 1 0 4.2 0a2.1 2.1 0 1 0 -4.2 0M284.9 16.5a2.1 2.1 0 1 0 4.2 0a2.1 2.1 0 1 0 -4.2 0M285.6 18.3a2.1 2.1 0 1 0 4.2 0a2.1 2.1 0 1 0 -4.2 0M286 18.5a2.1 2.1 0 1 0 4.2 0a2.1 2.1 0 1 0 -4.2 0M286.6 18.5a2.1 2.1 0 1 0 4.2 0a2.1 2.1 0 1 0 -4.2 0M287.1 17.3a2.1 2.1 0 1 0 4.2 0a2.1 2.1 0 1 0 -4.2 0M287.6 18.7a2.1 2.1 0 1 0 4.2 0a2.1 2.1 0 1 0 -4.2 0M288.2 17.3a2.1 2.1 0 1 0 4.2 0a2.1 2.1 0 1 0 -4.2 0M288.7 17.1a2.1 2.1 0 1 0 4.2 0a2.1 2.1 0 1 0 -4.2 0M289 16.7a2.1 2.1 0 1 0 4.2 0a2.1 2.1 0 1 0 -4.2 0M289.7 17.1a2.1 2.1 0 1 0 4.2 0a2.1 2.1 0 1 0 -4.2 0M290.5 17a2.1 2.1 0 1 0 4.2 0a2.1 2.1 0 1 0 -4.2 0M290.9 17.6a2.1 2.1 0 1 0 4.2 0a2.1 2.1 0 1 0 -4.2 0M291.3 17.3a2.1 2.1 0 1 0 4.2 0a2.1 2.1 0 1 0 -4.2 0M292.1 18.4a2.1 2.1 0 1 0 4.2 0a2.1 2.1 0 1 0 -4.2 0M292.8 17.9a2.1 2.1 0 1 0 4.2 0a2.1 2.1 0 1 0 -4.2 0M293.5 18.6a2.1 2.1 0 1 0 4.2 0a2.1 2.1 0 1 0 -4.2 0M294.1 18.1a2.1 2.1 0 1 0 4.2 0a2.1 2.1 0 1 0 -4.2 0M294.4 18.1a2.1 2.1 0 1 0 4.2 0a2.1 2.1 0 1 0 -4.2 0M295 18.2a2.1 2.1 0 1 0 4.2 0a2.1 2.1 0 1 0 -4.2 0M295.6 17.1a2.1 2.1 0 1 0 4.2 0a2.1 2.1 0 1 0 -4.2 0M295.9 18.5a2.1 2.1 0 1 0 4.2 0a2.1 2.1 0 1 0 -4.2 0M296.3 17.5a2.1 2.1 0 1 0 4.2 0a2.1 2.1 0 1 0 -4.2 0M296.8 17.2a2.1 2.1 0 1 0 4.2 0a2.1 2.1 0 1 0 -4.2 0M297.4 18.6a2.1 2.1 0 1 0 4.2 0a2.1 2.1 0 1 0 -4.2 0M297.9 17.9a2.1 2.1 0 1 0 4.2 0a2.1 2.1 0 1 0 -4.2 0M298.3 17.7a2.1 2.1 0 1 0 4.2 0a2.1 2.1 0 1 0 -4.2 0M298.9 16.9a2.1 2.1 0 1 0 4.2 0a2.1 2.1 0 1 0 -4.2 0M299.3 17a2.1 2.1 0 1 0 4.2 0a2.1 2.1 0 1 0 -4.2 0M300 17.6a2.1 2.1 0 1 0 4.2 0a2.1 2.1 0 1 0 -4.2 0M300.4 18.5a2.1 2.1 0 1 0 4.2 0a2.1 2.1 0 1 0 -4.2 0M301.2 17.5a2.1 2.1 0 1 0 4.2 0a2.1 2.1 0 1 0 -4.2 0M301.6 16.9a2.1 2.1 0 1 0 4.2 0a2.1 2.1 0 1 0 -4.2 0M301.9 17.3a2.1 2.1 0 1 0 4.2 0a2.1 2.1 0 1 0 -4.2 0M302.3 17a2.1 2.1 0 1 0 4.2 0a2.1 2.1 0 1 0 -4.2 0M302.8 17.8a2.1 2.1 0 1 0 4.2 0a2.1 2.1 0 1 0 -4.2 0M303.5 18.1a2.1 2.1 0 1 0 4.2 0a2.1 2.1 0 1 0 -4.2 0M304 17.4a2.1 2.1 0 1 0 4.2 0a2.1 2.1 0 1 0 -4.2 0M304.5 17.3a2.1 2.1 0 1 0 4.2 0a2.1 2.1 0 1 0 -4.2 0M305 16.6a2.1 2.1 0 1 0 4.2 0a2.1 2.1 0 1 0 -4.2 0M305.5 18.6a2.1 2.1 0 1 0 4.2 0a2.1 2.1 0 1 0 -4.2 0M305.9 17.6a2.1 2.1 0 1 0 4.2 0a2.1 2.1 0 1 0 -4.2 0M306.5 18.4a2.1 2.1 0 1 0 4.2 0a2.1 2.1 0 1 0 -4.2 0M306.9 17.1a2.1 2.1 0 1 0 4.2 0a2.1 2.1 0 1 0 -4.2 0M307.3 17.4a2.1 2.1 0 1 0 4.2 0a2.1 2.1 0 1 0 -4.2 0M307.9 18.6a2.1 2.1 0 1 0 4.2 0a2.1 2.1 0 1 0 -4.2 0M308.6 18.4a2.1 2.1 0 1 0 4.2 0a2.1 2.1 0 1 0 -4.2 0M308.9 16.6a2.1 2.1 0 1 0 4.2 0a2.1 2.1 0 1 0 -4.2 0M309.5 18.5a2.1 2.1 0 1 0 4.2 0a2.1 2.1 0 1 0 -4.2 0M310.1 17.8a2.1 2.1 0 1 0 4.2 0a2.1 2.1 0 1 0 -4.2 0M310.4 17.4a2.1 2.1 0 1 0 4.2 0a2.1 2.1 0 1 0 -4.2 0M311.1 18.3a2.1 2.1 0 1 0 4.2 0a2.1 2.1 0 1 0 -4.2 0M311.9 18.6a2.1 2.1 0 1 0 4.2 0a2.1 2.1 0 1 0 -4.2 0M312.3 16.7a2.1 2.1 0 1 0 4.2 0a2.1 2.1 0 1 0 -4.2 0M312.7 17.6a2.1 2.1 0 1 0 4.2 0a2.1 2.1 0 1 0 -4.2 0M313.3 18.6a2.1 2.1 0 1 0 4.2 0a2.1 2.1 0 1 0 -4.2 0M314 17.9a2.1 2.1 0 1 0 4.2 0a2.1 2.1 0 1 0 -4.2 0M314.6 17.5a2.1 2.1 0 1 0 4.2 0a2.1 2.1 0 1 0 -4.2 0M315.2 16.6a2.1 2.1 0 1 0 4.2 0a2.1 2.1 0 1 0 -4.2 0M315.9 17a2.1 2.1 0 1 0 4.2 0a2.1 2.1 0 1 0 -4.2 0M316.6 17.9a2.1 2.1 0 1 0 4.2 0a2.1 2.1 0 1 0 -4.2 0M317.1 16.8a2.1 2.1 0 1 0 4.2 0a2.1 2.1 0 1 0 -4.2 0M317.5 17.9a2.1 2.1 0 1 0 4.2 0a2.1 2.1 0 1 0 -4.2 0M318.2 16.7a2.1 2.1 0 1 0 4.2 0a2.1 2.1 0 1 0 -4.2 0M318.5 17.7a2.1 2.1 0 1 0 4.2 0a2.1 2.1 0 1 0 -4.2 0M319.1 17.4a2.1 2.1 0 1 0 4.2 0a2.1 2.1 0 1 0 -4.2 0M319.5 17.8a2.1 2.1 0 1 0 4.2 0a2.1 2.1 0 1 0 -4.2 0M319.9 17.2a2.1 2.1 0 1 0 4.2 0a2.1 2.1 0 1 0 -4.2 0M320.4 18.6a2.1 2.1 0 1 0 4.2 0a2.1 2.1 0 1 0 -4.2 0M321 18.4a2.1 2.1 0 1 0 4.2 0a2.1 2.1 0 1 0 -4.2 0M321.6 17a2.1 2.1 0 1 0 4.2 0a2.1 2.1 0 1 0 -4.2 0M322 18.6a2.1 2.1 0 1 0 4.2 0a2.1 2.1 0 1 0 -4.2 0M322.6 17.2a2.1 2.1 0 1 0 4.2 0a2.1 2.1 0 1 0 -4.2 0M323 17.6a2.1 2.1 0 1 0 4.2 0a2.1 2.1 0 1 0 -4.2 0M323.6 17.4a2.1 2.1 0 1 0 4.2 0a2.1 2.1 0 1 0 -4.2 0M324 18a2.1 2.1 0 1 0 4.2 0a2.1 2.1 0 1 0 -4.2 0M324.8 17a2.1 2.1 0 1 0 4.2 0a2.1 2.1 0 1 0 -4.2 0M325.1 17.2a2.1 2.1 0 1 0 4.2 0a2.1 2.1 0 1 0 -4.2 0M325.6 18a2.1 2.1 0 1 0 4.2 0a2.1 2.1 0 1 0 -4.2 0M326.1 18.3a2.1 2.1 0 1 0 4.2 0a2.1 2.1 0 1 0 -4.2 0M326.7 17.6a2.1 2.1 0 1 0 4.2 0a2.1 2.1 0 1 0 -4.2 0M327.1 18.6a2.1 2.1 0 1 0 4.2 0a2.1 2.1 0 1 0 -4.2 0M327.6 18.3a2.1 2.1 0 1 0 4.2 0a2.1 2.1 0 1 0 -4.2 0M328 17a2.1 2.1 0 1 0 4.2 0a2.1 2.1 0 1 0 -4.2 0M328.7 17.1a2.1 2.1 0 1 0 4.2 0a2.1 2.1 0 1 0 -4.2 0M329.4 17.6a2.1 2.1 0 1 0 4.2 0a2.1 2.1 0 1 0 -4.2 0M329.9 17a2.1 2.1 0 1 0 4.2 0a2.1 2.1 0 1 0 -4.2 0M330.4 18a2.1 2.1 0 1 0 4.2 0a2.1 2.1 0 1 0 -4.2 0M331.1 16.8a2.1 2.1 0 1 0 4.2 0a2.1 2.1 0 1 0 -4.2 0M331.6 17a2.1 2.1 0 1 0 4.2 0a2.1 2.1 0 1 0 -4.2 0M332.4 16.8a2.1 2.1 0 1 0 4.2 0a2.1 2.1 0 1 0 -4.2 0M332.7 16.6a2.1 2.1 0 1 0 4.2 0a2.1 2.1 0 1 0 -4.2 0M333.2 18.5a2.1 2.1 0 1 0 4.2 0a2.1 2.1 0 1 0 -4.2 0M334 18.1a2.1 2.1 0 1 0 4.2 0a2.1 2.1 0 1 0 -4.2 0M334.7 18.5a2.1 2.1 0 1 0 4.2 0a2.1 2.1 0 1 0 -4.2 0M335.2 16.9a2.1 2.1 0 1 0 4.2 0a2.1 2.1 0 1 0 -4.2 0M335.9 18.1a2.1 2.1 0 1 0 4.2 0a2.1 2.1 0 1 0 -4.2 0M336.3 18a2.1 2.1 0 1 0 4.2 0a2.1 2.1 0 1 0 -4.2 0M336.8 17.3a2.1 2.1 0 1 0 4.2 0a2.1 2.1 0 1 0 -4.2 0M337.3 16.9a2.1 2.1 0 1 0 4.2 0a2.1 2.1 0 1 0 -4.2 0M337.6 17.1a2.1 2.1 0 1 0 4.2 0a2.1 2.1 0 1 0 -4.2 0M338.1 18.6a2.1 2.1 0 1 0 4.2 0a2.1 2.1 0 1 0 -4.2 0M338.5 18.6a2.1 2.1 0 1 0 4.2 0a2.1 2.1 0 1 0 -4.2 0M338.9 17.3a2.1 2.1 0 1 0 4.2 0a2.1 2.1 0 1 0 -4.2 0M339.6 18.3a2.1 2.1 0 1 0 4.2 0a2.1 2.1 0 1 0 -4.2 0M340.1 16.6a2.1 2.1 0 1 0 4.2 0a2.1 2.1 0 1 0 -4.2 0M340.6 17.3a2.1 2.1 0 1 0 4.2 0a2.1 2.1 0 1 0 -4.2 0M341.4 16.9a2.1 2.1 0 1 0 4.2 0a2.1 2.1 0 1 0 -4.2 0M341.9 18.5a2.1 2.1 0 1 0 4.2 0a2.1 2.1 0 1 0 -4.2 0M342.2 17.4a2.1 2.1 0 1 0 4.2 0a2.1 2.1 0 1 0 -4.2 0M342.9 18.2a2.1 2.1 0 1 0 4.2 0a2.1 2.1 0 1 0 -4.2 0M343.2 16.6a2.1 2.1 0 1 0 4.2 0a2.1 2.1 0 1 0 -4.2 0M343.6 18.5a2.1 2.1 0 1 0 4.2 0a2.1 2.1 0 1 0 -4.2 0M344 18.1a2.1 2.1 0 1 0 4.2 0a2.1 2.1 0 1 0 -4.2 0M344.8 17.2a2.1 2.1 0 1 0 4.2 0a2.1 2.1 0 1 0 -4.2 0M345.2 18.6a2.1 2.1 0 1 0 4.2 0a2.1 2.1 0 1 0 -4.2 0M345.8 17.1a2.1 2.1 0 1 0 4.2 0a2.1 2.1 0 1 0 -4.2 0M346.5 17.2a2.1 2.1 0 1 0 4.2 0a2.1 2.1 0 1 0 -4.2 0M346.9 16.5a2.1 2.1 0 1 0 4.2 0a2.1 2.1 0 1 0 -4.2 0M347.6 18.5a2.1 2.1 0 1 0 4.2 0a2.1 2.1 0 1 0 -4.2 0M348.2 18.6a2.1 2.1 0 1 0 4.2 0a2.1 2.1 0 1 0 -4.2 0M348.5 17a2.1 2.1 0 1 0 4.2 0a2.1 2.1 0 1 0 -4.2 0M349.1 18.6a2.1 2.1 0 1 0 4.2 0a2.1 2.1 0 1 0 -4.2 0M349.8 17.4a2.1 2.1 0 1 0 4.2 0a2.1 2.1 0 1 0 -4.2 0M350.2 17.4a2.1 2.1 0 1 0 4.2 0a2.1 2.1 0 1 0 -4.2 0M350.8 18.5a2.1 2.1 0 1 0 4.2 0a2.1 2.1 0 1 0 -4.2 0M351.2 18.3a2.1 2.1 0 1 0 4.2 0a2.1 2.1 0 1 0 -4.2 0M351.9 18.3a2.1 2.1 0 1 0 4.2 0a2.1 2.1 0 1 0 -4.2 0M352.5 17.8a2.1 2.1 0 1 0 4.2 0a2.1 2.1 0 1 0 -4.2 0M353 17.2a2.1 2.1 0 1 0 4.2 0a2.1 2.1 0 1 0 -4.2 0M353.5 18.2a2.1 2.1 0 1 0 4.2 0a2.1 2.1 0 1 0 -4.2 0M353.9 16.9a2.1 2.1 0 1 0 4.2 0a2.1 2.1 0 1 0 -4.2 0M354.5 17a2.1 2.1 0 1 0 4.2 0a2.1 2.1 0 1 0 -4.2 0M354.9 16.6a2.1 2.1 0 1 0 4.2 0a2.1 2.1 0 1 0 -4.2 0M355.5 17.2a2.1 2.1 0 1 0 4.2 0a2.1 2.1 0 1 0 -4.2 0M356.2 18.4a2.1 2.1 0 1 0 4.2 0a2.1 2.1 0 1 0 -4.2 0M357 17.1a2.1 2.1 0 1 0 4.2 0a2.1 2.1 0 1 0 -4.2 0M357.3 16.7a2.1 2.1 0 1 0 4.2 0a2.1 2.1 0 1 0 -4.2 0M357.9 18.1a2.1 2.1 0 1 0 4.2 0a2.1 2.1 0 1 0 -4.2 0M358.4 17a2.1 2.1 0 1 0 4.2 0a2.1 2.1 0 1 0 -4.2 0M358.9 17.9a2.1 2.1 0 1 0 4.2 0a2.1 2.1 0 1 0 -4.2 0M359.6 18.1a2.1 2.1 0 1 0 4.2 0a2.1 2.1 0 1 0 -4.2 0M360.3 18a2.1 2.1 0 1 0 4.2 0a2.1 2.1 0 1 0 -4.2 0M360.6 18.3a2.1 2.1 0 1 0 4.2 0a2.1 2.1 0 1 0 -4.2 0M361.1 17.7a2.1 2.1 0 1 0 4.2 0a2.1 2.1 0 1 0 -4.2 0M361.6 18.1a2.1 2.1 0 1 0 4.2 0a2.1 2.1 0 1 0 -4.2 0M362 17a2.1 2.1 0 1 0 4.2 0a2.1 2.1 0 1 0 -4.2 0M362.5 16.8a2.1 2.1 0 1 0 4.2 0a2.1 2.1 0 1 0 -4.2 0M363.2 17.8a2.1 2.1 0 1 0 4.2 0a2.1 2.1 0 1 0 -4.2 0M363.6 17.4a2.1 2.1 0 1 0 4.2 0a2.1 2.1 0 1 0 -4.2 0M364.4 17.6a2.1 2.1 0 1 0 4.2 0a2.1 2.1 0 1 0 -4.2 0M364.8 18.3a2.1 2.1 0 1 0 4.2 0a2.1 2.1 0 1 0 -4.2 0M365.5 18.7a2.1 2.1 0 1 0 4.2 0a2.1 2.1 0 1 0 -4.2 0M365.8 17.5a2.1 2.1 0 1 0 4.2 0a2.1 2.1 0 1 0 -4.2 0M366.5 18.3a2.1 2.1 0 1 0 4.2 0a2.1 2.1 0 1 0 -4.2 0M367.3 16.6a2.1 2.1 0 1 0 4.2 0a2.1 2.1 0 1 0 -4.2 0M367.7 16.8a2.1 2.1 0 1 0 4.2 0a2.1 2.1 0 1 0 -4.2 0M368.1 18.6a2.1 2.1 0 1 0 4.2 0a2.1 2.1 0 1 0 -4.2 0M368.7 18.5a2.1 2.1 0 1 0 4.2 0a2.1 2.1 0 1 0 -4.2 0M369.2 18.4a2.1 2.1 0 1 0 4.2 0a2.1 2.1 0 1 0 -4.2 0M369.7 17.1a2.1 2.1 0 1 0 4.2 0a2.1 2.1 0 1 0 -4.2 0M370.4 18.6a2.1 2.1 0 1 0 4.2 0a2.1 2.1 0 1 0 -4.2 0M370.8 17.8a2.1 2.1 0 1 0 4.2 0a2.1 2.1 0 1 0 -4.2 0M371.4 17a2.1 2.1 0 1 0 4.2 0a2.1 2.1 0 1 0 -4.2 0M371.9 16.8a2.1 2.1 0 1 0 4.2 0a2.1 2.1 0 1 0 -4.2 0M372.3 17.1a2.1 2.1 0 1 0 4.2 0a2.1 2.1 0 1 0 -4.2 0M372.9 17.9a2.1 2.1 0 1 0 4.2 0a2.1 2.1 0 1 0 -4.2 0M373.3 16.5a2.1 2.1 0 1 0 4.2 0a2.1 2.1 0 1 0 -4.2 0M373.8 18a2.1 2.1 0 1 0 4.2 0a2.1 2.1 0 1 0 -4.2 0M374.2 17.2a2.1 2.1 0 1 0 4.2 0a2.1 2.1 0 1 0 -4.2 0M374.6 18.2a2.1 2.1 0 1 0 4.2 0a2.1 2.1 0 1 0 -4.2 0M375.2 16.6a2.1 2.1 0 1 0 4.2 0a2.1 2.1 0 1 0 -4.2 0M375.6 17.4a2.1 2.1 0 1 0 4.2 0a2.1 2.1 0 1 0 -4.2 0M376.1 17.9a2.1 2.1 0 1 0 4.2 0a2.1 2.1 0 1 0 -4.2 0M376.5 16.9a2.1 2.1 0 1 0 4.2 0a2.1 2.1 0 1 0 -4.2 0M377.1 17.4a2.1 2.1 0 1 0 4.2 0a2.1 2.1 0 1 0 -4.2 0M377.6 17.2a2.1 2.1 0 1 0 4.2 0a2.1 2.1 0 1 0 -4.2 0M378.4 17.2a2.1 2.1 0 1 0 4.2 0a2.1 2.1 0 1 0 -4.2 0M378.9 17.3a2.1 2.1 0 1 0 4.2 0a2.1 2.1 0 1 0 -4.2 0M379.4 18.4a2.1 2.1 0 1 0 4.2 0a2.1 2.1 0 1 0 -4.2 0M380.2 17.3a2.1 2.1 0 1 0 4.2 0a2.1 2.1 0 1 0 -4.2 0M380.6 18.1a2.1 2.1 0 1 0 4.2 0a2.1 2.1 0 1 0 -4.2 0M381 16.5a2.1 2.1 0 1 0 4.2 0a2.1 2.1 0 1 0 -4.2 0M381.8 17.4a2.1 2.1 0 1 0 4.2 0a2.1 2.1 0 1 0 -4.2 0M382.5 17.4a2.1 2.1 0 1 0 4.2 0a2.1 2.1 0 1 0 -4.2 0M383.2 17.5a2.1 2.1 0 1 0 4.2 0a2.1 2.1 0 1 0 -4.2 0M383.6 16.5a2.1 2.1 0 1 0 4.2 0a2.1 2.1 0 1 0 -4.2 0M384.2 17.9a2.1 2.1 0 1 0 4.2 0a2.1 2.1 0 1 0 -4.2 0M384.9 16.7a2.1 2.1 0 1 0 4.2 0a2.1 2.1 0 1 0 -4.2 0M385.5 17.3a2.1 2.1 0 1 0 4.2 0a2.1 2.1 0 1 0 -4.2 0M386 16.8a2.1 2.1 0 1 0 4.2 0a2.1 2.1 0 1 0 -4.2 0M386.5 17.6a2.1 2.1 0 1 0 4.2 0a2.1 2.1 0 1 0 -4.2 0M387.2 16.7a2.1 2.1 0 1 0 4.2 0a2.1 2.1 0 1 0 -4.2 0M387.8 18.3a2.1 2.1 0 1 0 4.2 0a2.1 2.1 0 1 0 -4.2 0M388.5 16.9a2.1 2.1 0 1 0 4.2 0a2.1 2.1 0 1 0 -4.2 0M388.9 18.6a2.1 2.1 0 1 0 4.2 0a2.1 2.1 0 1 0 -4.2 0M389.7 17.6a2.1 2.1 0 1 0 4.2 0a2.1 2.1 0 1 0 -4.2 0M390 18.5a2.1 2.1 0 1 0 4.2 0a2.1 2.1 0 1 0 -4.2 0M390.5 18.5a2.1 2.1 0 1 0 4.2 0a2.1 2.1 0 1 0 -4.2 0M391.1 18.3a2.1 2.1 0 1 0 4.2 0a2.1 2.1 0 1 0 -4.2 0M391.5 18.2a2.1 2.1 0 1 0 4.2 0a2.1 2.1 0 1 0 -4.2 0M392 17.4a2.1 2.1 0 1 0 4.2 0a2.1 2.1 0 1 0 -4.2 0M392.7 18.3a2.1 2.1 0 1 0 4.2 0a2.1 2.1 0 1 0 -4.2 0M393.1 17a2.1 2.1 0 1 0 4.2 0a2.1 2.1 0 1 0 -4.2 0M393.6 17.6a2.1 2.1 0 1 0 4.2 0a2.1 2.1 0 1 0 -4.2 0M394.1 16.8a2.1 2.1 0 1 0 4.2 0a2.1 2.1 0 1 0 -4.2 0M394.5 18.1a2.1 2.1 0 1 0 4.2 0a2.1 2.1 0 1 0 -4.2 0M395.3 16.6a2.1 2.1 0 1 0 4.2 0a2.1 2.1 0 1 0 -4.2 0M395.8 18.2a2.1 2.1 0 1 0 4.2 0a2.1 2.1 0 1 0 -4.2 0M396.2 18.3a2.1 2.1 0 1 0 4.2 0a2.1 2.1 0 1 0 -4.2 0M396.6 17.8a2.1 2.1 0 1 0 4.2 0a2.1 2.1 0 1 0 -4.2 0M397.1 17.9a2.1 2.1 0 1 0 4.2 0a2.1 2.1 0 1 0 -4.2 0M397.6 17.4a2.1 2.1 0 1 0 4.2 0a2.1 2.1 0 1 0 -4.2 0M398.2 17.4a2.1 2.1 0 1 0 4.2 0a2.1 2.1 0 1 0 -4.2 0M398.8 17.5a2.1 2.1 0 1 0 4.2 0a2.1 2.1 0 1 0 -4.2 0M399.3 16.6a2.1 2.1 0 1 0 4.2 0a2.1 2.1 0 1 0 -4.2 0M399.9 17.6a2.1 2.1 0 1 0 4.2 0a2.1 2.1 0 1 0 -4.2 0M400.4 18.2a2.1 2.1 0 1 0 4.2 0a2.1 2.1 0 1 0 -4.2 0M401 17.5a2.1 2.1 0 1 0 4.2 0a2.1 2.1 0 1 0 -4.2 0M401.4 17.5a2.1 2.1 0 1 0 4.2 0a2.1 2.1 0 1 0 -4.2 0M401.8 16.8a2.1 2.1 0 1 0 4.2 0a2.1 2.1 0 1 0 -4.2 0M402.3 16.7a2.1 2.1 0 1 0 4.2 0a2.1 2.1 0 1 0 -4.2 0M402.9 17.6a2.1 2.1 0 1 0 4.2 0a2.1 2.1 0 1 0 -4.2 0M403.2 17.9a2.1 2.1 0 1 0 4.2 0a2.1 2.1 0 1 0 -4.2 0M403.6 18.1a2.1 2.1 0 1 0 4.2 0a2.1 2.1 0 1 0 -4.2 0M404.2 17.6a2.1 2.1 0 1 0 4.2 0a2.1 2.1 0 1 0 -4.2 0M404.6 17.6a2.1 2.1 0 1 0 4.2 0a2.1 2.1 0 1 0 -4.2 0M405.1 18.6a2.1 2.1 0 1 0 4.2 0a2.1 2.1 0 1 0 -4.2 0M405.5 18.4a2.1 2.1 0 1 0 4.2 0a2.1 2.1 0 1 0 -4.2 0M406.3 18.1a2.1 2.1 0 1 0 4.2 0a2.1 2.1 0 1 0 -4.2 0M406.9 16.9a2.1 2.1 0 1 0 4.2 0a2.1 2.1 0 1 0 -4.2 0M407.7 17.6a2.1 2.1 0 1 0 4.2 0a2.1 2.1 0 1 0 -4.2 0M408.5 18.5a2.1 2.1 0 1 0 4.2 0a2.1 2.1 0 1 0 -4.2 0M408.9 18.2a2.1 2.1 0 1 0 4.2 0a2.1 2.1 0 1 0 -4.2 0M409.6 16.6a2.1 2.1 0 1 0 4.2 0a2.1 2.1 0 1 0 -4.2 0M410.1 18.2a2.1 2.1 0 1 0 4.2 0a2.1 2.1 0 1 0 -4.2 0M410.5 18.5a2.1 2.1 0 1 0 4.2 0a2.1 2.1 0 1 0 -4.2 0M410.9 18.3a2.1 2.1 0 1 0 4.2 0a2.1 2.1 0 1 0 -4.2 0M411.3 17.6a2.1 2.1 0 1 0 4.2 0a2.1 2.1 0 1 0 -4.2 0M412.1 17a2.1 2.1 0 1 0 4.2 0a2.1 2.1 0 1 0 -4.2 0M412.5 17.6a2.1 2.1 0 1 0 4.2 0a2.1 2.1 0 1 0 -4.2 0M413 16.6a2.1 2.1 0 1 0 4.2 0a2.1 2.1 0 1 0 -4.2 0M413.4 16.9a2.1 2.1 0 1 0 4.2 0a2.1 2.1 0 1 0 -4.2 0M414.1 18a2.1 2.1 0 1 0 4.2 0a2.1 2.1 0 1 0 -4.2 0M414.9 16.9a2.1 2.1 0 1 0 4.2 0a2.1 2.1 0 1 0 -4.2 0M415.5 16.8a2.1 2.1 0 1 0 4.2 0a2.1 2.1 0 1 0 -4.2 0M416.1 17.9a2.1 2.1 0 1 0 4.2 0a2.1 2.1 0 1 0 -4.2 0M416.6 18.4a2.1 2.1 0 1 0 4.2 0a2.1 2.1 0 1 0 -4.2 0M417.2 17.8a2.1 2.1 0 1 0 4.2 0a2.1 2.1 0 1 0 -4.2 0M417.9 16.7a2.1 2.1 0 1 0 4.2 0a2.1 2.1 0 1 0 -4.2 0M418.6 17.9a2.1 2.1 0 1 0 4.2 0a2.1 2.1 0 1 0 -4.2 0M419.1 18.3a2.1 2.1 0 1 0 4.2 0a2.1 2.1 0 1 0 -4.2 0M419.6 18.7a2.1 2.1 0 1 0 4.2 0a2.1 2.1 0 1 0 -4.2 0M420.2 17.3a2.1 2.1 0 1 0 4.2 0a2.1 2.1 0 1 0 -4.2 0M420.8 17.5a2.1 2.1 0 1 0 4.2 0a2.1 2.1 0 1 0 -4.2 0M421.3 18.1a2.1 2.1 0 1 0 4.2 0a2.1 2.1 0 1 0 -4.2 0M421.6 18.3a2.1 2.1 0 1 0 4.2 0a2.1 2.1 0 1 0 -4.2 0M422 17.9a2.1 2.1 0 1 0 4.2 0a2.1 2.1 0 1 0 -4.2 0M422.8 17.8a2.1 2.1 0 1 0 4.2 0a2.1 2.1 0 1 0 -4.2 0M423.4 17.2a2.1 2.1 0 1 0 4.2 0a2.1 2.1 0 1 0 -4.2 0M423.8 16.6a2.1 2.1 0 1 0 4.2 0a2.1 2.1 0 1 0 -4.2 0M424.2 17.9a2.1 2.1 0 1 0 4.2 0a2.1 2.1 0 1 0 -4.2 0M424.7 17.6a2.1 2.1 0 1 0 4.2 0a2.1 2.1 0 1 0 -4.2 0M425.4 16.8a2.1 2.1 0 1 0 4.2 0a2.1 2.1 0 1 0 -4.2 0M425.8 17.9a2.1 2.1 0 1 0 4.2 0a2.1 2.1 0 1 0 -4.2 0M426.2 16.5a2.1 2.1 0 1 0 4.2 0a2.1 2.1 0 1 0 -4.2 0M426.7 16.7a2.1 2.1 0 1 0 4.2 0a2.1 2.1 0 1 0 -4.2 0M427.1 17a2.1 2.1 0 1 0 4.2 0a2.1 2.1 0 1 0 -4.2 0M427.7 17.8a2.1 2.1 0 1 0 4.2 0a2.1 2.1 0 1 0 -4.2 0M428.1 17.9a2.1 2.1 0 1 0 4.2 0a2.1 2.1 0 1 0 -4.2 0M428.7 16.8a2.1 2.1 0 1 0 4.2 0a2.1 2.1 0 1 0 -4.2 0M429.4 17a2.1 2.1 0 1 0 4.2 0a2.1 2.1 0 1 0 -4.2 0M429.8 16.7a2.1 2.1 0 1 0 4.2 0a2.1 2.1 0 1 0 -4.2 0M430.4 18.4a2.1 2.1 0 1 0 4.2 0a2.1 2.1 0 1 0 -4.2 0M431.1 17.4a2.1 2.1 0 1 0 4.2 0a2.1 2.1 0 1 0 -4.2 0M431.6 16.5a2.1 2.1 0 1 0 4.2 0a2.1 2.1 0 1 0 -4.2 0M432.2 17.7a2.1 2.1 0 1 0 4.2 0a2.1 2.1 0 1 0 -4.2 0M432.7 17.9a2.1 2.1 0 1 0 4.2 0a2.1 2.1 0 1 0 -4.2 0M433.2 18.6a2.1 2.1 0 1 0 4.2 0a2.1 2.1 0 1 0 -4.2 0M433.8 17a2.1 2.1 0 1 0 4.2 0a2.1 2.1 0 1 0 -4.2 0M434.6 16.6a2.1 2.1 0 1 0 4.2 0a2.1 2.1 0 1 0 -4.2 0M435.1 17.4a2.1 2.1 0 1 0 4.2 0a2.1 2.1 0 1 0 -4.2 0M435.6 16.6a2.1 2.1 0 1 0 4.2 0a2.1 2.1 0 1 0 -4.2 0M436.2 16.5a2.1 2.1 0 1 0 4.2 0a2.1 2.1 0 1 0 -4.2 0M436.8 18.6a2.1 2.1 0 1 0 4.2 0a2.1 2.1 0 1 0 -4.2 0M437.2 16.9a2.1 2.1 0 1 0 4.2 0a2.1 2.1 0 1 0 -4.2 0M437.8 17.6a2.1 2.1 0 1 0 4.2 0a2.1 2.1 0 1 0 -4.2 0M438.4 18.3a2.1 2.1 0 1 0 4.2 0a2.1 2.1 0 1 0 -4.2 0M438.8 17.2a2.1 2.1 0 1 0 4.2 0a2.1 2.1 0 1 0 -4.2 0M439.3 16.6a2.1 2.1 0 1 0 4.2 0a2.1 2.1 0 1 0 -4.2 0M440 18.2a2.1 2.1 0 1 0 4.2 0a2.1 2.1 0 1 0 -4.2 0M440.6 16.5a2.1 2.1 0 1 0 4.2 0a2.1 2.1 0 1 0 -4.2 0M441.3 18.1a2.1 2.1 0 1 0 4.2 0a2.1 2.1 0 1 0 -4.2 0M441.9 18.1a2.1 2.1 0 1 0 4.2 0a2.1 2.1 0 1 0 -4.2 0M442.4 17a2.1 2.1 0 1 0 4.2 0a2.1 2.1 0 1 0 -4.2 0M442.8 17a2.1 2.1 0 1 0 4.2 0a2.1 2.1 0 1 0 -4.2 0M443.1 17.2a2.1 2.1 0 1 0 4.2 0a2.1 2.1 0 1 0 -4.2 0M443.8 18a2.1 2.1 0 1 0 4.2 0a2.1 2.1 0 1 0 -4.2 0M444.5 18.1a2.1 2.1 0 1 0 4.2 0a2.1 2.1 0 1 0 -4.2 0M444.9 17.7a2.1 2.1 0 1 0 4.2 0a2.1 2.1 0 1 0 -4.2 0M445.5 18.2a2.1 2.1 0 1 0 4.2 0a2.1 2.1 0 1 0 -4.2 0M446 17.1a2.1 2.1 0 1 0 4.2 0a2.1 2.1 0 1 0 -4.2 0M446.6 18.6a2.1 2.1 0 1 0 4.2 0a2.1 2.1 0 1 0 -4.2 0M447.1 18.4a2.1 2.1 0 1 0 4.2 0a2.1 2.1 0 1 0 -4.2 0M447.4 17.1a2.1 2.1 0 1 0 4.2 0a2.1 2.1 0 1 0 -4.2 0M447.8 18.1a2.1 2.1 0 1 0 4.2 0a2.1 2.1 0 1 0 -4.2 0M448.6 18.1a2.1 2.1 0 1 0 4.2 0a2.1 2.1 0 1 0 -4.2 0M449 18.4a2.1 2.1 0 1 0 4.2 0a2.1 2.1 0 1 0 -4.2 0M449.5 17a2.1 2.1 0 1 0 4.2 0a2.1 2.1 0 1 0 -4.2 0M450.3 17.9a2.1 2.1 0 1 0 4.2 0a2.1 2.1 0 1 0 -4.2 0M450.9 18a2.1 2.1 0 1 0 4.2 0a2.1 2.1 0 1 0 -4.2 0M451.6 17.5a2.1 2.1 0 1 0 4.2 0a2.1 2.1 0 1 0 -4.2 0M452.3 18a2.1 2.1 0 1 0 4.2 0a2.1 2.1 0 1 0 -4.2 0M453.1 17.5a2.1 2.1 0 1 0 4.2 0a2.1 2.1 0 1 0 -4.2 0M453.7 17.8a2.1 2.1 0 1 0 4.2 0a2.1 2.1 0 1 0 -4.2 0M454.2 17a2.1 2.1 0 1 0 4.2 0a2.1 2.1 0 1 0 -4.2 0M454.8 16.7a2.1 2.1 0 1 0 4.2 0a2.1 2.1 0 1 0 -4.2 0M455.5 16.8a2.1 2.1 0 1 0 4.2 0a2.1 2.1 0 1 0 -4.2 0M455.8 16.7a2.1 2.1 0 1 0 4.2 0a2.1 2.1 0 1 0 -4.2 0M456.6 17.3a2.1 2.1 0 1 0 4.2 0a2.1 2.1 0 1 0 -4.2 0M457 16.6a2.1 2.1 0 1 0 4.2 0a2.1 2.1 0 1 0 -4.2 0M457.3 18a2.1 2.1 0 1 0 4.2 0a2.1 2.1 0 1 0 -4.2 0M457.9 18a2.1 2.1 0 1 0 4.2 0a2.1 2.1 0 1 0 -4.2 0M458.6 16.6a2.1 2.1 0 1 0 4.2 0a2.1 2.1 0 1 0 -4.2 0M459.2 17.3a2.1 2.1 0 1 0 4.2 0a2.1 2.1 0 1 0 -4.2 0M459.9 18.3a2.1 2.1 0 1 0 4.2 0a2.1 2.1 0 1 0 -4.2 0M460.6 16.6a2.1 2.1 0 1 0 4.2 0a2.1 2.1 0 1 0 -4.2 0M461.3 18.5a2.1 2.1 0 1 0 4.2 0a2.1 2.1 0 1 0 -4.2 0M462 16.7a2.1 2.1 0 1 0 4.2 0a2.1 2.1 0 1 0 -4.2 0M462.5 16.7a2.1 2.1 0 1 0 4.2 0a2.1 2.1 0 1 0 -4.2 0M462.8 18.4a2.1 2.1 0 1 0 4.2 0a2.1 2.1 0 1 0 -4.2 0M463.5 17.9a2.1 2.1 0 1 0 4.2 0a2.1 2.1 0 1 0 -4.2 0M464.2 17.9a2.1 2.1 0 1 0 4.2 0a2.1 2.1 0 1 0 -4.2 0M464.6 16.7a2.1 2.1 0 1 0 4.2 0a2.1 2.1 0 1 0 -4.2 0M465 18.2a2.1 2.1 0 1 0 4.2 0a2.1 2.1 0 1 0 -4.2 0M465.4 17.2a2.1 2.1 0 1 0 4.2 0a2.1 2.1 0 1 0 -4.2 0M466 16.5a2.1 2.1 0 1 0 4.2 0a2.1 2.1 0 1 0 -4.2 0M466.4 17.1a2.1 2.1 0 1 0 4.2 0a2.1 2.1 0 1 0 -4.2 0M467 17.3a2.1 2.1 0 1 0 4.2 0a2.1 2.1 0 1 0 -4.2 0M467.5 18.6a2.1 2.1 0 1 0 4.2 0a2.1 2.1 0 1 0 -4.2 0M468.1 18.4a2.1 2.1 0 1 0 4.2 0a2.1 2.1 0 1 0 -4.2 0M468.7 16.6a2.1 2.1 0 1 0 4.2 0a2.1 2.1 0 1 0 -4.2 0M469.2 17.5a2.1 2.1 0 1 0 4.2 0a2.1 2.1 0 1 0 -4.2 0M469.9 17.3a2.1 2.1 0 1 0 4.2 0a2.1 2.1 0 1 0 -4.2 0M470.5 17.7a2.1 2.1 0 1 0 4.2 0a2.1 2.1 0 1 0 -4.2 0M470.9 18.4a2.1 2.1 0 1 0 4.2 0a2.1 2.1 0 1 0 -4.2 0M471.3 18.3a2.1 2.1 0 1 0 4.2 0a2.1 2.1 0 1 0 -4.2 0M471.7 16.5a2.1 2.1 0 1 0 4.2 0a2.1 2.1 0 1 0 -4.2 0M472.1 18.2a2.1 2.1 0 1 0 4.2 0a2.1 2.1 0 1 0 -4.2 0M472.9 16.5a2.1 2.1 0 1 0 4.2 0a2.1 2.1 0 1 0 -4.2 0M473.4 17.6a2.1 2.1 0 1 0 4.2 0a2.1 2.1 0 1 0 -4.2 0M474.1 16.9a2.1 2.1 0 1 0 4.2 0a2.1 2.1 0 1 0 -4.2 0M474.6 17.3a2.1 2.1 0 1 0 4.2 0a2.1 2.1 0 1 0 -4.2 0M475.3 17.1a2.1 2.1 0 1 0 4.2 0a2.1 2.1 0 1 0 -4.2 0M476.1 17.1a2.1 2.1 0 1 0 4.2 0a2.1 2.1 0 1 0 -4.2 0M476.5 18a2.1 2.1 0 1 0 4.2 0a2.1 2.1 0 1 0 -4.2 0M477.1 16.7a2.1 2.1 0 1 0 4.2 0a2.1 2.1 0 1 0 -4.2 0M477.7 16.7a2.1 2.1 0 1 0 4.2 0a2.1 2.1 0 1 0 -4.2 0M478.3 18a2.1 2.1 0 1 0 4.2 0a2.1 2.1 0 1 0 -4.2 0M479 17.9a2.1 2.1 0 1 0 4.2 0a2.1 2.1 0 1 0 -4.2 0M479.5 17.4a2.1 2.1 0 1 0 4.2 0a2.1 2.1 0 1 0 -4.2 0M480 18.5a2.1 2.1 0 1 0 4.2 0a2.1 2.1 0 1 0 -4.2 0M480.4 18.5a2.1 2.1 0 1 0 4.2 0a2.1 2.1 0 1 0 -4.2 0M480.7 17a2.1 2.1 0 1 0 4.2 0a2.1 2.1 0 1 0 -4.2 0M481.2 18.5a2.1 2.1 0 1 0 4.2 0a2.1 2.1 0 1 0 -4.2 0M481.7 17.3a2.1 2.1 0 1 0 4.2 0a2.1 2.1 0 1 0 -4.2 0M482.4 17a2.1 2.1 0 1 0 4.2 0a2.1 2.1 0 1 0 -4.2 0M483 17.7a2.1 2.1 0 1 0 4.2 0a2.1 2.1 0 1 0 -4.2 0M483.6 18.2a2.1 2.1 0 1 0 4.2 0a2.1 2.1 0 1 0 -4.2 0M484.2 17.3a2.1 2.1 0 1 0 4.2 0a2.1 2.1 0 1 0 -4.2 0M484.7 16.8a2.1 2.1 0 1 0 4.2 0a2.1 2.1 0 1 0 -4.2 0M485.4 18a2.1 2.1 0 1 0 4.2 0a2.1 2.1 0 1 0 -4.2 0M486.1 16.9a2.1 2.1 0 1 0 4.2 0a2.1 2.1 0 1 0 -4.2 0M486.6 18.2a2.1 2.1 0 1 0 4.2 0a2.1 2.1 0 1 0 -4.2 0M487.2 16.8a2.1 2.1 0 1 0 4.2 0a2.1 2.1 0 1 0 -4.2 0M487.7 18.4a2.1 2.1 0 1 0 4.2 0a2.1 2.1 0 1 0 -4.2 0M488.2 16.9a2.1 2.1 0 1 0 4.2 0a2.1 2.1 0 1 0 -4.2 0M488.6 18a2.1 2.1 0 1 0 4.2 0a2.1 2.1 0 1 0 -4.2 0M489.3 16.8a2.1 2.1 0 1 0 4.2 0a2.1 2.1 0 1 0 -4.2 0M489.7 17a2.1 2.1 0 1 0 4.2 0a2.1 2.1 0 1 0 -4.2 0M490.2 17.6a2.1 2.1 0 1 0 4.2 0a2.1 2.1 0 1 0 -4.2 0M490.6 17.2a2.1 2.1 0 1 0 4.2 0a2.1 2.1 0 1 0 -4.2 0M491 18.6a2.1 2.1 0 1 0 4.2 0a2.1 2.1 0 1 0 -4.2 0M491.7 16.7a2.1 2.1 0 1 0 4.2 0a2.1 2.1 0 1 0 -4.2 0M492.4 16.7a2.1 2.1 0 1 0 4.2 0a2.1 2.1 0 1 0 -4.2 0M492.9 18.7a2.1 2.1 0 1 0 4.2 0a2.1 2.1 0 1 0 -4.2 0M493.6 18.1a2.1 2.1 0 1 0 4.2 0a2.1 2.1 0 1 0 -4.2 0M494.1 16.9a2.1 2.1 0 1 0 4.2 0a2.1 2.1 0 1 0 -4.2 0M494.7 16.7a2.1 2.1 0 1 0 4.2 0a2.1 2.1 0 1 0 -4.2 0M495.1 17.4a2.1 2.1 0 1 0 4.2 0a2.1 2.1 0 1 0 -4.2 0M495.5 17.4a2.1 2.1 0 1 0 4.2 0a2.1 2.1 0 1 0 -4.2 0M496.2 18a2.1 2.1 0 1 0 4.2 0a2.1 2.1 0 1 0 -4.2 0M496.7 17.9a2.1 2.1 0 1 0 4.2 0a2.1 2.1 0 1 0 -4.2 0M497.2 16.8a2.1 2.1 0 1 0 4.2 0a2.1 2.1 0 1 0 -4.2 0M497.8 17.4a2.1 2.1 0 1 0 4.2 0a2.1 2.1 0 1 0 -4.2 0M498.5 18.5a2.1 2.1 0 1 0 4.2 0a2.1 2.1 0 1 0 -4.2 0M499 17.8a2.1 2.1 0 1 0 4.2 0a2.1 2.1 0 1 0 -4.2 0M499.7 17.4a2.1 2.1 0 1 0 4.2 0a2.1 2.1 0 1 0 -4.2 0M500.1 18.1a2.1 2.1 0 1 0 4.2 0a2.1 2.1 0 1 0 -4.2 0M500.8 18.2a2.1 2.1 0 1 0 4.2 0a2.1 2.1 0 1 0 -4.2 0M501.5 18.4a2.1 2.1 0 1 0 4.2 0a2.1 2.1 0 1 0 -4.2 0M502.1 17.9a2.1 2.1 0 1 0 4.2 0a2.1 2.1 0 1 0 -4.2 0M502.6 17.2a2.1 2.1 0 1 0 4.2 0a2.1 2.1 0 1 0 -4.2 0M503.2 16.7a2.1 2.1 0 1 0 4.2 0a2.1 2.1 0 1 0 -4.2 0M503.7 18.2a2.1 2.1 0 1 0 4.2 0a2.1 2.1 0 1 0 -4.2 0M504.4 17.9a2.1 2.1 0 1 0 4.2 0a2.1 2.1 0 1 0 -4.2 0M504.8 17.4a2.1 2.1 0 1 0 4.2 0a2.1 2.1 0 1 0 -4.2 0M505.4 17.9a2.1 2.1 0 1 0 4.2 0a2.1 2.1 0 1 0 -4.2 0M505.9 18a2.1 2.1 0 1 0 4.2 0a2.1 2.1 0 1 0 -4.2 0M506.6 16.9a2.1 2.1 0 1 0 4.2 0a2.1 2.1 0 1 0 -4.2 0M507.2 18.2a2.1 2.1 0 1 0 4.2 0a2.1 2.1 0 1 0 -4.2 0M507.7 17.6a2.1 2.1 0 1 0 4.2 0a2.1 2.1 0 1 0 -4.2 0M508.5 16.6a2.1 2.1 0 1 0 4.2 0a2.1 2.1 0 1 0 -4.2 0M509.1 16.9a2.1 2.1 0 1 0 4.2 0a2.1 2.1 0 1 0 -4.2 0M509.7 18.6a2.1 2.1 0 1 0 4.2 0a2.1 2.1 0 1 0 -4.2 0M510.3 16.7a2.1 2.1 0 1 0 4.2 0a2.1 2.1 0 1 0 -4.2 0M510.9 17.7a2.1 2.1 0 1 0 4.2 0a2.1 2.1 0 1 0 -4.2 0M511.5 17.6a2.1 2.1 0 1 0 4.2 0a2.1 2.1 0 1 0 -4.2 0M512.1 18.3a2.1 2.1 0 1 0 4.2 0a2.1 2.1 0 1 0 -4.2 0M512.7 17.4a2.1 2.1 0 1 0 4.2 0a2.1 2.1 0 1 0 -4.2 0M513.4 17a2.1 2.1 0 1 0 4.2 0a2.1 2.1 0 1 0 -4.2 0M514.1 17.4a2.1 2.1 0 1 0 4.2 0a2.1 2.1 0 1 0 -4.2 0M514.7 16.8a2.1 2.1 0 1 0 4.2 0a2.1 2.1 0 1 0 -4.2 0M515.5 17.3a2.1 2.1 0 1 0 4.2 0a2.1 2.1 0 1 0 -4.2 0M515.8 17.1a2.1 2.1 0 1 0 4.2 0a2.1 2.1 0 1 0 -4.2 0M516.4 16.5a2.1 2.1 0 1 0 4.2 0a2.1 2.1 0 1 0 -4.2 0M516.9 17.4a2.1 2.1 0 1 0 4.2 0a2.1 2.1 0 1 0 -4.2 0M517.5 17.3a2.1 2.1 0 1 0 4.2 0a2.1 2.1 0 1 0 -4.2 0M518 17a2.1 2.1 0 1 0 4.2 0a2.1 2.1 0 1 0 -4.2 0M518.6 18.6a2.1 2.1 0 1 0 4.2 0a2.1 2.1 0 1 0 -4.2 0M519.2 17a2.1 2.1 0 1 0 4.2 0a2.1 2.1 0 1 0 -4.2 0M519.9 17.4a2.1 2.1 0 1 0 4.2 0a2.1 2.1 0 1 0 -4.2 0M520.3 16.8a2.1 2.1 0 1 0 4.2 0a2.1 2.1 0 1 0 -4.2 0M520.9 18.3a2.1 2.1 0 1 0 4.2 0a2.1 2.1 0 1 0 -4.2 0M521.6 17.5a2.1 2.1 0 1 0 4.2 0a2.1 2.1 0 1 0 -4.2 0M522.1 17a2.1 2.1 0 1 0 4.2 0a2.1 2.1 0 1 0 -4.2 0M522.9 17.3a2.1 2.1 0 1 0 4.2 0a2.1 2.1 0 1 0 -4.2 0M523.5 18.3a2.1 2.1 0 1 0 4.2 0a2.1 2.1 0 1 0 -4.2 0" fill="none" stroke="#4279c2" stroke-width="0.6"/>
<path d="M261.4 17.5a2.1 2.1 0 1 0 4.2 0a2.1 2.1 0 1 0 -4.2 0M263.2 17.7a2.1 2.1 0 1 0 4.2 0a2.1 2.1 0 1 0 -4.2 0M264.8 18.4a2.1 2.1 0 1 0 4.2 0a2.1 2.1 0 1 0 -4.2 0M266.7 18.4a2.1 2.1 0 1 0 4.2 0a2.1 2.1 0 1 0 -4.2 0M268.5 17.3a2.1 2.1 0 1 0 4.2 0a2.1 2.1 0 1 0 -4.2 0M270.3 17.4a2.1 2.1 0 1 0 4.2 0a2.1 2.1 0 1 0 -4.2 0M271.9 16.4a2.1 2.1 0 1 0 4.2 0a2.1 2.1 0 1 0 -4.2 0M274.5 17.1a2.1 2.1 0 1 0 4.2 0a2.1 2.1 0 1 0 -4.2 0M276.3 17.1a2.1 2.1 0 1 0 4.2 0a2.1 2.1 0 1 0 -4.2 0M278.4 17.4a2.1 2.1 0 1 0 4.2 0a2.1 2.1 0 1 0 -4.2 0M280.9 18a2.1 2.1 0 1 0 4.2 0a2.1 2.1 0 1 0 -4.2 0M282.8 18.6a2.1 2.1 0 1 0 4.2 0a2.1 2.1 0 1 0 -4.2 0M285.7 16.5a2.1 2.1 0 1 0 4.2 0a2.1 2.1 0 1 0 -4.2 0M288.4 18.6a2.1 2.1 0 1 0 4.2 0a2.1 2.1 0 1 0 -4.2 0M291.1 16.7a2.1 2.1 0 1 0 4.2 0a2.1 2.1 0 1 0 -4.2 0M293.9 17.9a2.1 2.1 0 1 0 4.2 0a2.1 2.1 0 1 0 -4.2 0M295.3 16.4a2.1 2.1 0 1 0 4.2 0a2.1 2.1 0 1 0 -4.2 0M298.3 18a2.1 2.1 0 1 0 4.2 0a2.1 2.1 0 1 0 -4.2 0M300 16.6a2.1 2.1 0 1 0 4.2 0a2.1 2.1 0 1 0 -4.2 0M301.6 17a2.1 2.1 0 1 0 4.2 0a2.1 2.1 0 1 0 -4.2 0M304.3 17.2a2.1 2.1 0 1 0 4.2 0a2.1 2.1 0 1 0 -4.2 0M305.9 18.6a2.1 2.1 0 1 0 4.2 0a2.1 2.1 0 1 0 -4.2 0M308.6 16.8a2.1 2.1 0 1 0 4.2 0a2.1 2.1 0 1 0 -4.2 0M311.5 17.9a2.1 2.1 0 1 0 4.2 0a2.1 2.1 0 1 0 -4.2 0M314.2 18a2.1 2.1 0 1 0 4.2 0a2.1 2.1 0 1 0 -4.2 0M317.1 18.3a2.1 2.1 0 1 0 4.2 0a2.1 2.1 0 1 0 -4.2 0M319.8 16.9a2.1 2.1 0 1 0 4.2 0a2.1 2.1 0 1 0 -4.2 0M322.4 17.7a2.1 2.1 0 1 0 4.2 0a2.1 2.1 0 1 0 -4.2 0M325 17.5a2.1 2.1 0 1 0 4.2 0a2.1 2.1 0 1 0 -4.2 0M327.9 17.7a2.1 2.1 0 1 0 4.2 0a2.1 2.1 0 1 0 -4.2 0M329.7 17a2.1 2.1 0 1 0 4.2 0a2.1 2.1 0 1 0 -4.2 0M331.2 17.6a2.1 2.1 0 1 0 4.2 0a2.1 2.1 0 1 0 -4.2 0M332.7 17.5a2.1 2.1 0 1 0 4.2 0a2.1 2.1 0 1 0 -4.2 0M334.2 17.6a2.1 2.1 0 1 0 4.2 0a2.1 2.1 0 1 0 -4.2 0M336.4 17.7a2.1 2.1 0 1 0 4.2 0a2.1 2.1 0 1 0 -4.2 0M339.3 16.4a2.1 2.1 0 1 0 4.2 0a2.1 2.1 0 1 0 -4.2 0M342.1 17.5a2.1 2.1 0 1 0 4.2 0a2.1 2.1 0 1 0 -4.2 0M344.4 18a2.1 2.1 0 1 0 4.2 0a2.1 2.1 0 1 0 -4.2 0M347.2 17.3a2.1 2.1 0 1 0 4.2 0a2.1 2.1 0 1 0 -4.2 0M349.2 18.7a2.1 2.1 0 1 0 4.2 0a2.1 2.1 0 1 0 -4.2 0M350.7 17.9a2.1 2.1 0 1 0 4.2 0a2.1 2.1 0 1 0 -4.2 0M353.1 16.5a2.1 2.1 0 1 0 4.2 0a2.1 2.1 0 1 0 -4.2 0M355.5 18a2.1 2.1 0 1 0 4.2 0a2.1 2.1 0 1 0 -4.2 0M358.5 17.2a2.1 2.1 0 1 0 4.2 0a2.1 2.1 0 1 0 -4.2 0M361.5 17.6a2.1 2.1 0 1 0 4.2 0a2.1 2.1 0 1 0 -4.2 0M363.7 18.6a2.1 2.1 0 1 0 4.2 0a2.1 2.1 0 1 0 -4.2 0M365.1 18.1a2.1 2.1 0 1 0 4.2 0a2.1 2.1 0 1 0 -4.2 0M367.5 17.2a2.1 2.1 0 1 0 4.2 0a2.1 2.1 0 1 0 -4.2 0M370.3 17.3a2.1 2.1 0 1 0 4.2 0a2.1 2.1 0 1 0 -4.2 0M372.5 17.7a2.1 2.1 0 1 0 4.2 0a2.1 2.1 0 1 0 -4.2 0M375.2 16.9a2.1 2.1 0 1 0 4.2 0a2.1 2.1 0 1 0 -4.2 0M377.3 17.4a2.1 2.1 0 1 0 4.2 0a2.1 2.1 0 1 0 -4.2 0M379.6 18.4a2.1 2.1 0 1 0 4.2 0a2.1 2.1 0 1 0 -4.2 0M381.4 18.4a2.1 2.1 0 1 0 4.2 0a2.1 2.1 0 1 0 -4.2 0M383.4 17.6a2.1 2.1 0 1 0 4.2 0a2.1 2.1 0 1 0 -4.2 0M385.2 17.6a2.1 2.1 0 1 0 4.2 0a2.1 2.1 0 1 0 -4.2 0M388.3 18a2.1 2.1 0 1 0 4.2 0a2.1 2.1 0 1 0 -4.2 0M391 17.2a2.1 2.1 0 1 0 4.2 0a2.1 2.1 0 1 0 -4.2 0M392.8 17.1a2.1 2.1 0 1 0 4.2 0a2.1 2.1 0 1 0 -4.2 0M395.2 17.9a2.1 2.1 0 1 0 4.2 0a2.1 2.1 0 1 0 -4.2 0M397.9 16.5a2.1 2.1 0 1 0 4.2 0a2.1 2.1 0 1 0 -4.2 0M400.5 18.5a2.1 2.1 0 1 0 4.2 0a2.1 2.1 0 1 0 -4.2 0M402.8 16.5a2.1 2.1 0 1 0 4.2 0a2.1 2.1 0 1 0 -4.2 0M404.6 16.4a2.1 2.1 0 1 0 4.2 0a2.1 2.1 0 1 0 -4.2 0M406.3 18.6a2.1 2.1 0 1 0 4.2 0a2.1 2.1 0 1 0 -4.2 0M408.7 18a2.1 2.1 0 1 0 4.2 0a2.1 2.1 0 1 0 -4.2 0M411.4 18.6a2.1 2.1 0 1 0 4.2 0a2.1 2.1 0 1 0 -4.2 0M413.8 17.9a2.1 2.1 0 1 0 4.2 0a2.1 2.1 0 1 0 -4.2 0M416.2 18.1a2.1 2.1 0 1 0 4.2 0a2.1 2.1 0 1 0 -4.2 0M418.6 18a2.1 2.1 0 1 0 4.2 0a2.1 2.1 0 1 0 -4.2 0M420.3 18a2.1 2.1 0 1 0 4.2 0a2.1 2.1 0 1 0 -4.2 0M422.4 18.2a2.1 2.1 0 1 0 4.2 0a2.1 2.1 0 1 0 -4.2 0M423.9 16.8a2.1 2.1 0 1 0 4.2 0a2.1 2.1 0 1 0 -4.2 0M425.3 18.3a2.1 2.1 0 1 0 4.2 0a2.1 2.1 0 1 0 -4.2 0M428.2 18a2.1 2.1 0 1 0 4.2 0a2.1 2.1 0 1 0 -4.2 0M430.2 18.4a2.1 2.1 0 1 0 4.2 0a2.1 2.1 0 1 0 -4.2 0M432.9 17.7a2.1 2.1 0 1 0 4.2 0a2.1 2.1 0 1 0 -4.2 0M434.6 17.1a2.1 2.1 0 1 0 4.2 0a2.1 2.1 0 1 0 -4.2 0M436.7 17.2a2.1 2.1 0 1 0 4.2 0a2.1 2.1 0 1 0 -4.2 0M438.8 17.9a2.1 2.1 0 1 0 4.2 0a2.1 2.1 0 1 0 -4.2 0M441.7 16.5a2.1 2.1 0 1 0 4.2 0a2.1 2.1 0 1 0 -4.2 0M444.1 16.5a2.1 2.1 0 1 0 4.2 0a2.1 2.1 0 1 0 -4.2 0M445.6 18.3a2.1 2.1 0 1 0 4.2 0a2.1 2.1 0 1 0 -4.2 0M447.9 18.6a2.1 2.1 0 1 0 4.2 0a2.1 2.1 0 1 0 -4.2 0M450 16.4a2.1 2.1 0 1 0 4.2 0a2.1 2.1 0 1 0 -4.2 0M452 17.8a2.1 2.1 0 1 0 4.2 0a2.1 2.1 0 1 0 -4.2 0M455 18.8a2.1 2.1 0 1 0 4.2 0a2.1 2.1 0 1 0 -4.2 0M457.2 17.4a2.1 2.1 0 1 0 4.2 0a2.1 2.1 0 1 0 -4.2 0M458.7 17.9a2.1 2.1 0 1 0 4.2 0a2.1 2.1 0 1 0 -4.2 0M460.4 16.8a2.1 2.1 0 1 0 4.2 0a2.1 2.1 0 1 0 -4.2 0M461.7 16.4a2.1 2.1 0 1 0 4.2 0a2.1 2.1 0 1 0 -4.2 0M464.2 16.7a2.1 2.1 0 1 0 4.2 0a2.1 2.1 0 1 0 -4.2 0M467.2 16.6a2.1 2.1 0 1 0 4.2 0a2.1 2.1 0 1 0 -4.2 0M470.1 16.7a2.1 2.1 0 1 0 4.2 0a2.1 2.1 0 1 0 -4.2 0M471.4 18.1a2.1 2.1 0 1 0 4.2 0a2.1 2.1 0 1 0 -4.2 0M473.2 18.2a2.1 2.1 0 1 0 4.2 0a2.1 2.1 0 1 0 -4.2 0M474.8 16.5a2.1 2.1 0 1 0 4.2 0a2.1 2.1 0 1 0 -4.2 0M477.5 18.1a2.1 2.1 0 1 0 4.2 0a2.1 2.1 0 1 0 -4.2 0M480.4 18.2a2.1 2.1 0 1 0 4.2 0a2.1 2.1 0 1 0 -4.2 0M481.8 17.9a2.1 2.1 0 1 0 4.2 0a2.1 2.1 0 1 0 -4.2 0M484.4 17.5a2.1 2.1 0 1 0 4.2 0a2.1 2.1 0 1 0 -4.2 0M487.3 17a2.1 2.1 0 1 0 4.2 0a2.1 2.1 0 1 0 -4.2 0M490.4 18.1a2.1 2.1 0 1 0 4.2 0a2.1 2.1 0 1 0 -4.2 0M491.7 16.4a2.1 2.1 0 1 0 4.2 0a2.1 2.1 0 1 0 -4.2 0M494.2 18.4a2.1 2.1 0 1 0 4.2 0a2.1 2.1 0 1 0 -4.2 0M495.6 17.1a2.1 2.1 0 1 0 4.2 0a2.1 2.1 0 1 0 -4.2 0M498.2 16.8a2.1 2.1 0 1 0 4.2 0a2.1 2.1 0 1 0 -4.2 0M501.1 17.6a2.1 2.1 0 1 0 4.2 0a2.1 2.1 0 1 0 -4.2 0M502.5 17.3a2.1 2.1 0 1 0 4.2 0a2.1 2.1 0 1 0 -4.2 0M504.8 17.5a2.1 2.1 0 1 0 4.2 0a2.1 2.1 0 1 0 -4.2 0M507.3 16.7a2.1 2.1 0 1 0 4.2 0a2.1 2.1 0 1 0 -4.2 0M510.1 17.3a2.1 2.1 0 1 0 4.2 0a2.1 2.1 0 1 0 -4.2 0M512.5 17.9a2.1 2.1 0 1 0 4.2 0a2.1 2.1 0 1 0 -4.2 0M514.6 17.3a2.1 2.1 0 1 0 4.2 0a2.1 2.1 0 1 0 -4.2 0M517.3 18.7a2.1 2.1 0 1 0 4.2 0a2.1 2.1 0 1 0 -4.2 0M520 17.8a2.1 2.1 0 1 0 4.2 0a2.1 2.1 0 1 0 -4.2 0M521.8 16.5a2.1 2.1 0 1 0 4.2 0a2.1 2.1 0 1 0 -4.2 0" fill="none" stroke="#7da6dc" stroke-width="0.45"/>
<path d="M319.8 0.8a2.2 2.2 0 1 0 4.4 0a2.2 2.2 0 1 0 -4.4 0M362.8 10.6a2.2 2.2 0 1 0 4.4 0a2.2 2.2 0 1 0 -4.4 0M363 25.5a2.2 2.2 0 1 0 4.4 0a2.2 2.2 0 1 0 -4.4 0M440.8 12.5a2.2 2.2 0 1 0 4.4 0a2.2 2.2 0 1 0 -4.4 0M440.8 25.8a2.2 2.2 0 1 0 4.4 0a2.2 2.2 0 1 0 -4.4 0M473.7 22.5a2.2 2.2 0 1 0 4.4 0a2.2 2.2 0 1 0 -4.4 0M424.8 14.5a2.2 2.2 0 1 0 4.4 0a2.2 2.2 0 1 0 -4.4 0M429.3 22.8a2.2 2.2 0 1 0 4.4 0a2.2 2.2 0 1 0 -4.4 0M345.3 14.3a2.2 2.2 0 1 0 4.4 0a2.2 2.2 0 1 0 -4.4 0M345.3 21.8a2.2 2.2 0 1 0 4.4 0a2.2 2.2 0 1 0 -4.4 0M297.8 21.5a2.2 2.2 0 1 0 4.4 0a2.2 2.2 0 1 0 -4.4 0" fill="none" stroke="#e3262b" stroke-width="0.6"/>
<path d="M262.8 22.5a2.2 2.2 0 1 0 4.4 0a2.2 2.2 0 1 0 -4.4 0M335.2 13.3a2.2 2.2 0 1 0 4.4 0a2.2 2.2 0 1 0 -4.4 0M337.8 23.5a2.2 2.2 0 1 0 4.4 0a2.2 2.2 0 1 0 -4.4 0M379.5 14.9a2.2 2.2 0 1 0 4.4 0a2.2 2.2 0 1 0 -4.4 0M379.5 21.4a2.2 2.2 0 1 0 4.4 0a2.2 2.2 0 1 0 -4.4 0M387.4 14.6a2.2 2.2 0 1 0 4.4 0a2.2 2.2 0 1 0 -4.4 0M387.4 22a2.2 2.2 0 1 0 4.4 0a2.2 2.2 0 1 0 -4.4 0M320.8 15a2.2 2.2 0 1 0 4.4 0a2.2 2.2 0 1 0 -4.4 0M324.8 21.5a2.2 2.2 0 1 0 4.4 0a2.2 2.2 0 1 0 -4.4 0M507.8 14.8a2.2 2.2 0 1 0 4.4 0a2.2 2.2 0 1 0 -4.4 0M514.8 14a2.2 2.2 0 1 0 4.4 0a2.2 2.2 0 1 0 -4.4 0M517.8 21.6a2.2 2.2 0 1 0 4.4 0a2.2 2.2 0 1 0 -4.4 0M520.8 16a2.2 2.2 0 1 0 4.4 0a2.2 2.2 0 1 0 -4.4 0" fill="none" stroke="#4a8fd0" stroke-width="0.6"/>
</g>
<path d="M262 155.2a1.9 1.9 0 1 0 3.8 0a1.9 1.9 0 1 0 -3.8 0" fill="none" stroke="#a0a0a0" stroke-width="0.6"/>
<path d="M263.5 55.5L267.3 56L272.5 56.7L278.6 57.6L285.5 58.6L292.7 59.5L300 60.5L307.6 61.5L315.7 62.5L324.2 63.6L332.8 64.6L341.5 65.7L350 66.8L358.4 67.9L367 69L375.6 70L384.1 71.1L392.2 72.2L400 73.2L407.2 74.2L414.1 75.2L420.6 76.1L427 77L433.4 77.9L440 78.8L446.6 79.6L453.1 80.5L459.6 81.3L466.2 82L473 82.8L480 83.6L487.9 84.4L496.7 85.3L505.6 86.2L514 87L521.1 87.7L526.2 88.2" fill="none" stroke="#9b9b9b" stroke-width="4.5" stroke-linejoin="round" stroke-linecap="round"/>
<path d="M263.5 46.3L267.3 46.4L272.5 46.5L278.6 46.6L285.5 46.7L292.7 46.9L300 47.1L307.6 47.3L315.7 47.6L324.2 47.9L332.8 48.3L341.5 48.6L350 49L358.4 49.4L367 49.8L375.6 50.2L384.1 50.6L392.2 51.1L400 51.6L407.2 52.1L414.1 52.6L420.6 53.2L427 53.7L433.4 54.3L440 55L446.6 55.7L453.1 56.4L459.6 57.2L466.2 58L473 58.8L480 59.7L487.9 60.7L496.7 61.8L505.6 62.9L514 64L521.1 64.9L526.2 65.6" fill="none" stroke="#e3262b" stroke-width="4.6" stroke-linejoin="round" stroke-linecap="round"/>
<path d="M263.5 45.4L267.3 45.5L272.5 45.6L278.6 45.8L285.5 46L292.7 46.2L300 46.4L307.6 46.7L315.7 46.9L324.2 47.2L332.8 47.6L341.5 47.9L350 48.2L358.4 48.5L367 48.9L375.6 49.2L384.1 49.5L392.2 49.9L400 50.2L407.2 50.5L414.1 50.9L420.6 51.2L427 51.5L433.4 51.9L440 52.2L446.6 52.5L453.1 52.8L459.6 53.2L466.2 53.5L473 53.8L480 54.2L487.9 54.6L496.7 55.1L505.6 55.6L514 56L521.1 56.4L526.2 56.7" fill="none" stroke="#2178bc" stroke-width="4.7" stroke-linejoin="round" stroke-linecap="round"/>
<path d="M261.3 50.9a2.1 2.1 0 1 0 4.2 0a2.1 2.1 0 1 0 -4.2 0" fill="#9b9b9b"/>
<path d="M260.7 30.2a2.5 2.5 0 1 0 5 0a2.5 2.5 0 1 0 -5 0" fill="#2178bc"/>
<path d="M262 31.6a1.4 1.4 0 1 0 2.8 0a1.4 1.4 0 1 0 -2.8 0" fill="#e3262b" opacity="0.5"/>
<line x1="262" y1="5.9" x2="527.1" y2="5.9" stroke="#8e8e8e" stroke-width="1"/>
<line x1="262.4" y1="5.9" x2="262.4" y2="135.2" stroke="#262626" stroke-width="0.8"/>
<line x1="526.7" y1="5.9" x2="526.7" y2="135.2" stroke="#262626" stroke-width="0.8"/>
<line x1="262" y1="135.2" x2="527.1" y2="135.2" stroke="#262626" stroke-width="0.8"/>
<line x1="259.9" y1="135.2" x2="262.4" y2="135.2" stroke="#222" stroke-width="0.8"/>
<text x="258.5" y="138.1" font-size="8.91" text-anchor="end" stroke="#111" stroke-width="0.2" textLength="9.01" lengthAdjust="spacingAndGlyphs">60</text>
<line x1="259.9" y1="113.65" x2="262.4" y2="113.65" stroke="#222" stroke-width="0.8"/>
<text x="258.5" y="116.55" font-size="8.91" text-anchor="end" stroke="#111" stroke-width="0.2" textLength="9.01" lengthAdjust="spacingAndGlyphs">80</text>
<line x1="259.9" y1="92.1" x2="262.4" y2="92.1" stroke="#222" stroke-width="0.8"/>
<text x="258.5" y="95" font-size="8.91" text-anchor="end" stroke="#111" stroke-width="0.2" textLength="13.51" lengthAdjust="spacingAndGlyphs">100</text>
<line x1="259.9" y1="70.55" x2="262.4" y2="70.55" stroke="#222" stroke-width="0.8"/>
<text x="258.5" y="73.45" font-size="8.91" text-anchor="end" stroke="#111" stroke-width="0.2" textLength="13.51" lengthAdjust="spacingAndGlyphs">120</text>
<line x1="259.9" y1="49" x2="262.4" y2="49" stroke="#222" stroke-width="0.8"/>
<text x="258.5" y="51.9" font-size="8.91" text-anchor="end" stroke="#111" stroke-width="0.2" textLength="13.51" lengthAdjust="spacingAndGlyphs">140</text>
<line x1="259.9" y1="27.45" x2="262.4" y2="27.45" stroke="#222" stroke-width="0.8"/>
<text x="258.5" y="30.35" font-size="8.91" text-anchor="end" stroke="#111" stroke-width="0.2" textLength="13.51" lengthAdjust="spacingAndGlyphs">160</text>
<line x1="259.9" y1="5.9" x2="262.4" y2="5.9" stroke="#222" stroke-width="0.8"/>
<text x="258.5" y="8.8" font-size="8.91" text-anchor="end" stroke="#111" stroke-width="0.2" textLength="13.51" lengthAdjust="spacingAndGlyphs">180</text>
<line x1="261" y1="124.42" x2="262.4" y2="124.42" stroke="#222" stroke-width="0.8"/>
<line x1="261" y1="102.87" x2="262.4" y2="102.87" stroke="#222" stroke-width="0.8"/>
<line x1="261" y1="81.32" x2="262.4" y2="81.32" stroke="#222" stroke-width="0.8"/>
<line x1="261" y1="59.77" x2="262.4" y2="59.77" stroke="#222" stroke-width="0.8"/>
<line x1="261" y1="38.22" x2="262.4" y2="38.22" stroke="#222" stroke-width="0.8"/>
<line x1="261" y1="16.67" x2="262.4" y2="16.67" stroke="#222" stroke-width="0.8"/>
<line x1="526.7" y1="135.2" x2="529.2" y2="135.2" stroke="#222" stroke-width="0.8"/>
<text x="530.2" y="137.95" font-size="8.91" stroke="#111" stroke-width="0.2" textLength="15.76" lengthAdjust="spacingAndGlyphs">98.0</text>
<line x1="526.7" y1="123.47" x2="528.1" y2="123.47" stroke="#222" stroke-width="0.8"/>
<line x1="526.7" y1="111.74" x2="529.2" y2="111.74" stroke="#222" stroke-width="0.8"/>
<text x="530.2" y="114.49" font-size="8.91" stroke="#111" stroke-width="0.2" textLength="15.76" lengthAdjust="spacingAndGlyphs">98.4</text>
<line x1="526.7" y1="100.01" x2="528.1" y2="100.01" stroke="#222" stroke-width="0.8"/>
<line x1="526.7" y1="88.28" x2="529.2" y2="88.28" stroke="#222" stroke-width="0.8"/>
<text x="530.2" y="91.03" font-size="8.91" stroke="#111" stroke-width="0.2" textLength="15.76" lengthAdjust="spacingAndGlyphs">98.8</text>
<line x1="526.7" y1="76.55" x2="528.1" y2="76.55" stroke="#222" stroke-width="0.8"/>
<line x1="526.7" y1="64.82" x2="529.2" y2="64.82" stroke="#222" stroke-width="0.8"/>
<text x="530.2" y="67.57" font-size="8.91" stroke="#111" stroke-width="0.2" textLength="15.76" lengthAdjust="spacingAndGlyphs">99.2</text>
<line x1="526.7" y1="53.09" x2="528.1" y2="53.09" stroke="#222" stroke-width="0.8"/>
<line x1="526.7" y1="41.36" x2="529.2" y2="41.36" stroke="#222" stroke-width="0.8"/>
<text x="530.2" y="44.11" font-size="8.91" stroke="#111" stroke-width="0.2" textLength="15.76" lengthAdjust="spacingAndGlyphs">99.6</text>
<line x1="526.7" y1="29.63" x2="528.1" y2="29.63" stroke="#222" stroke-width="0.8"/>
<line x1="526.7" y1="17.9" x2="529.2" y2="17.9" stroke="#222" stroke-width="0.8"/>
<text x="530.2" y="20.65" font-size="8.91" stroke="#111" stroke-width="0.2" textLength="20.27" lengthAdjust="spacingAndGlyphs">100.0</text>
<line x1="262.4" y1="135.2" x2="262.4" y2="137.7" stroke="#222" stroke-width="0.8"/>
<text x="262.4" y="146.3" font-size="9.02" text-anchor="middle" stroke="#111" stroke-width="0.2" textLength="4.56" lengthAdjust="spacingAndGlyphs">0</text>
<line x1="328.48" y1="135.2" x2="328.48" y2="137.7" stroke="#222" stroke-width="0.8"/>
<text x="328.48" y="146.3" font-size="9.02" text-anchor="middle" stroke="#111" stroke-width="0.2" textLength="13.68" lengthAdjust="spacingAndGlyphs">200</text>
<line x1="394.55" y1="135.2" x2="394.55" y2="137.7" stroke="#222" stroke-width="0.8"/>
<text x="394.55" y="146.3" font-size="9.02" text-anchor="middle" stroke="#111" stroke-width="0.2" textLength="13.68" lengthAdjust="spacingAndGlyphs">400</text>
<line x1="460.62" y1="135.2" x2="460.62" y2="137.7" stroke="#222" stroke-width="0.8"/>
<text x="460.62" y="146.3" font-size="9.02" text-anchor="middle" stroke="#111" stroke-width="0.2" textLength="13.68" lengthAdjust="spacingAndGlyphs">600</text>
<line x1="526.7" y1="135.2" x2="526.7" y2="137.7" stroke="#222" stroke-width="0.8"/>
<text x="526.7" y="146.3" font-size="9.02" text-anchor="middle" stroke="#111" stroke-width="0.2" textLength="13.68" lengthAdjust="spacingAndGlyphs">800</text>
<line x1="295.44" y1="135.2" x2="295.44" y2="136.6" stroke="#222" stroke-width="0.8"/>
<line x1="361.51" y1="135.2" x2="361.51" y2="136.6" stroke="#222" stroke-width="0.8"/>
<line x1="427.59" y1="135.2" x2="427.59" y2="136.6" stroke="#222" stroke-width="0.8"/>
<line x1="493.66" y1="135.2" x2="493.66" y2="136.6" stroke="#222" stroke-width="0.8"/>
<text x="369.3" y="159.5" font-size="8" textLength="50.2" lengthAdjust="spacingAndGlyphs" stroke="#111" stroke-width="0.2">Cycle number</text>
<text x="241.3" y="121.83" font-size="8.5" textLength="105.05" lengthAdjust="spacingAndGlyphs" transform="rotate(-90 241.3 121.83)" stroke="#111" stroke-width="0.2">Specific capacity (mAh g<tspan dy="-3" font-size="5.6">−1</tspan><tspan dy="3">)</tspan></text>
<text x="559.7" y="116.83" font-size="8.5" textLength="93.65" lengthAdjust="spacingAndGlyphs" transform="rotate(-90 559.7 116.83)" stroke="#111" stroke-width="0.2">Coulombic efficiency (%)</text>
<path d="M274.9 96a2.2 2.2 0 1 0 4.4 0a2.2 2.2 0 1 0 -4.4 0" fill="#9b9b9b"/>
<text x="288.3" y="98.9" font-size="8.05" textLength="28.11" lengthAdjust="spacingAndGlyphs" stroke="#111" stroke-width="0.2">Gr||LFP</text>
<path d="M274.9 108.4a2.2 2.2 0 1 0 4.4 0a2.2 2.2 0 1 0 -4.4 0" fill="#e3262b"/>
<text x="288.3" y="111.3" font-size="8.05" textLength="68.21" lengthAdjust="spacingAndGlyphs" stroke="#111" stroke-width="0.2">Gr||LFP+4% L6CO</text>
<path d="M274.9 120.8a2.2 2.2 0 1 0 4.4 0a2.2 2.2 0 1 0 -4.4 0" fill="#2178bc"/>
<text x="288.3" y="123.7" font-size="8.05" textLength="80.71" lengthAdjust="spacingAndGlyphs" stroke="#111" stroke-width="0.2">Gr||LFP+4% L6CO@S</text>
<text x="500.2" y="50.4" font-size="8" textLength="23.1" lengthAdjust="spacingAndGlyphs" stroke="#111" stroke-width="0.2">92.3%</text>
<text x="500.2" y="77.5" font-size="8" textLength="23.1" lengthAdjust="spacingAndGlyphs" stroke="#111" stroke-width="0.2">86.8%</text>
<text x="500.2" y="101.8" font-size="8" textLength="23.1" lengthAdjust="spacingAndGlyphs" stroke="#111" stroke-width="0.2">76.7%</text>
<text x="450.8" y="114.6" font-size="8.05" textLength="39" lengthAdjust="spacingAndGlyphs" stroke="#111" stroke-width="0.2">Rate: 0.5C</text>
<text x="450.8" y="124.5" font-size="8.1" textLength="60.11" lengthAdjust="spacingAndGlyphs" stroke="#111" stroke-width="0.2">Voltage: 2–3.8 V</text>
<path d="M281.8 64.9 Q276 68.5 265.3 68.9" fill="none" stroke="#111" stroke-width="0.75"/>
<path d="M264.8 68.92 L268.45 67.48 L268.55 70.08 Z" fill="#111"/>
<path d="M506.7 28.2 Q512 32.5 523.3 32.2" fill="none" stroke="#111" stroke-width="0.75"/>
<path d="M523.8 32.19 L520.14 33.58 L520.07 30.99 Z" fill="#111"/>
<rect x="601.5" y="16.3" width="27.13" height="21.9" fill="#b3b3b3" stroke="#8a8a8a" stroke-width="0.6"/>
<rect x="601.5" y="59.4" width="36.49" height="21.8" fill="#e3262b" stroke="#b0181c" stroke-width="0.6"/>
<rect x="601.5" y="102.7" width="45.85" height="21.6" fill="#2178bc" stroke="#1a5f96" stroke-width="0.6"/>
<line x1="601.5" y1="5.3" x2="601.5" y2="134.9" stroke="#262626" stroke-width="0.8"/>
<line x1="601.5" y1="134.9" x2="657.8" y2="134.9" stroke="#555" stroke-width="1"/>
<line x1="599.3" y1="5.3" x2="601.9" y2="5.3" stroke="#222" stroke-width="0.8"/>
<line x1="599.3" y1="48.8" x2="601.9" y2="48.8" stroke="#222" stroke-width="0.8"/>
<line x1="599.3" y1="91.4" x2="601.9" y2="91.4" stroke="#222" stroke-width="0.8"/>
<line x1="599.3" y1="134.9" x2="601.9" y2="134.9" stroke="#222" stroke-width="0.8"/>
<line x1="601.5" y1="134.9" x2="601.5" y2="137.5" stroke="#222" stroke-width="0.8"/>
<line x1="626.45" y1="134.9" x2="626.45" y2="137.5" stroke="#222" stroke-width="0.8"/>
<line x1="651.4" y1="134.9" x2="651.4" y2="137.5" stroke="#222" stroke-width="0.8"/>
<text x="601.5" y="144.7" font-size="7.7" text-anchor="middle" stroke="#111" stroke-width="0.2">99.92</text>
<text x="626.45" y="144.7" font-size="7.7" text-anchor="middle" stroke="#111" stroke-width="0.2">99.96</text>
<text x="651.4" y="144.7" font-size="7.7" text-anchor="middle" stroke="#111" stroke-width="0.2">100.00</text>
<text x="617.52" y="156.4" font-size="7.6" textLength="23.96" lengthAdjust="spacingAndGlyphs" stroke="#111" stroke-width="0.2">CE (%)</text>
<text x="590.2" y="18.73" font-size="7.5" textLength="15.55" lengthAdjust="spacingAndGlyphs" transform="rotate(90 590.2 18.73)" stroke="#111" stroke-width="0.2">Bare</text>
<text x="590.2" y="52.62" font-size="7.5" textLength="32.35" lengthAdjust="spacingAndGlyphs" transform="rotate(90 590.2 52.62)" stroke="#111" stroke-width="0.2">4% L6CO</text>
<text x="590.2" y="91.62" font-size="7.5" textLength="44.65" lengthAdjust="spacingAndGlyphs" transform="rotate(90 590.2 91.62)" stroke="#111" stroke-width="0.2">4% L6CO@S</text>
<g clip-path="url(#clipd1)">
<path d="M37.6 223.3L38.2 223.1L38.9 222.7L39.8 222.3L40.9 222L42.1 221.7L43.6 221.5L45.3 221.3L47.1 221.2L49 221.1L50.9 221.1L52.7 221.1L54.6 221.1L56.5 221.2L58.4 221.3L60.3 221.4L62.3 221.5L64.3 221.7L66.3 221.9L68.2 222L69.8 222.2L71.3 222.4L72.6 222.6L73.8 222.7L74.8 222.9L75.5 223" fill="none" stroke="#1f3d6e" stroke-width="1.9" stroke-linejoin="round" stroke-linecap="round"/>
<path d="M36.5 223.3a1.15 1.15 0 1 0 2.3 0a1.15 1.15 0 1 0 -2.3 0M37.7 222.7a1.15 1.15 0 1 0 2.3 0a1.15 1.15 0 1 0 -2.3 0M39.7 222a1.15 1.15 0 1 0 2.3 0a1.15 1.15 0 1 0 -2.3 0M42.5 221.5a1.15 1.15 0 1 0 2.3 0a1.15 1.15 0 1 0 -2.3 0M46 221.2a1.15 1.15 0 1 0 2.3 0a1.15 1.15 0 1 0 -2.3 0M49.7 221.1a1.15 1.15 0 1 0 2.3 0a1.15 1.15 0 1 0 -2.3 0M53.5 221.1a1.15 1.15 0 1 0 2.3 0a1.15 1.15 0 1 0 -2.3 0M57.3 221.3a1.15 1.15 0 1 0 2.3 0a1.15 1.15 0 1 0 -2.3 0M61.1 221.5a1.15 1.15 0 1 0 2.3 0a1.15 1.15 0 1 0 -2.3 0M65.1 221.9a1.15 1.15 0 1 0 2.3 0a1.15 1.15 0 1 0 -2.3 0M68.7 222.2a1.15 1.15 0 1 0 2.3 0a1.15 1.15 0 1 0 -2.3 0M71.5 222.6a1.15 1.15 0 1 0 2.3 0a1.15 1.15 0 1 0 -2.3 0M73.6 222.9a1.15 1.15 0 1 0 2.3 0a1.15 1.15 0 1 0 -2.3 0" fill="#1f3d6e"/>
<path d="M75.5 223L77.6 219L79.8 215L81.6 212.4L84.2 209.6L86.7 206.9L90.6 204L94.7 202.2" fill="none" stroke="#1f3d6e" stroke-width="0.7" stroke-linejoin="round" stroke-linecap="round"/>
<path d="M76.3 219a1.3 1.3 0 1 0 2.6 0a1.3 1.3 0 1 0 -2.6 0M78.5 215a1.3 1.3 0 1 0 2.6 0a1.3 1.3 0 1 0 -2.6 0M80.3 212.4a1.3 1.3 0 1 0 2.6 0a1.3 1.3 0 1 0 -2.6 0M82.9 209.6a1.3 1.3 0 1 0 2.6 0a1.3 1.3 0 1 0 -2.6 0M85.4 206.9a1.3 1.3 0 1 0 2.6 0a1.3 1.3 0 1 0 -2.6 0M89.3 204a1.3 1.3 0 1 0 2.6 0a1.3 1.3 0 1 0 -2.6 0M93.4 202.2a1.3 1.3 0 1 0 2.6 0a1.3 1.3 0 1 0 -2.6 0" fill="#1f3d6e"/>
<path d="M37.6 231.9L38.1 231.7L38.7 231.3L39.5 230.9L40.5 230.6L41.5 230.3L42.8 230.1L44.3 229.9L45.9 229.8L47.5 229.7L49.1 229.7L50.7 229.7L52.4 229.7L54 229.8L55.7 229.9L57.3 230L59 230.1L60.8 230.3L62.5 230.5L64.1 230.6L65.6 230.8L66.8 231L68 231.2L69 231.3L69.9 231.5L70.5 231.6" fill="none" stroke="#2e5c9e" stroke-width="1.9" stroke-linejoin="round" stroke-linecap="round"/>
<path d="M36.5 231.9a1.15 1.15 0 1 0 2.3 0a1.15 1.15 0 1 0 -2.3 0M37.6 231.3a1.15 1.15 0 1 0 2.3 0a1.15 1.15 0 1 0 -2.3 0M39.3 230.6a1.15 1.15 0 1 0 2.3 0a1.15 1.15 0 1 0 -2.3 0M41.7 230.1a1.15 1.15 0 1 0 2.3 0a1.15 1.15 0 1 0 -2.3 0M44.7 229.8a1.15 1.15 0 1 0 2.3 0a1.15 1.15 0 1 0 -2.3 0M48 229.7a1.15 1.15 0 1 0 2.3 0a1.15 1.15 0 1 0 -2.3 0M51.2 229.7a1.15 1.15 0 1 0 2.3 0a1.15 1.15 0 1 0 -2.3 0M54.5 229.9a1.15 1.15 0 1 0 2.3 0a1.15 1.15 0 1 0 -2.3 0M57.9 230.1a1.15 1.15 0 1 0 2.3 0a1.15 1.15 0 1 0 -2.3 0M61.4 230.5a1.15 1.15 0 1 0 2.3 0a1.15 1.15 0 1 0 -2.3 0M64.4 230.8a1.15 1.15 0 1 0 2.3 0a1.15 1.15 0 1 0 -2.3 0M66.9 231.2a1.15 1.15 0 1 0 2.3 0a1.15 1.15 0 1 0 -2.3 0M68.7 231.5a1.15 1.15 0 1 0 2.3 0a1.15 1.15 0 1 0 -2.3 0" fill="#2e5c9e"/>
<path d="M70.5 231.6L73.2 227L75.6 223.2L78.8 219.4L82.2 216L85.2 213.1L88.7 210.1L93 207.6L96.6 206.1" fill="none" stroke="#2e5c9e" stroke-width="0.7" stroke-linejoin="round" stroke-linecap="round"/>
<path d="M71.9 227a1.3 1.3 0 1 0 2.6 0a1.3 1.3 0 1 0 -2.6 0M74.3 223.2a1.3 1.3 0 1 0 2.6 0a1.3 1.3 0 1 0 -2.6 0M77.5 219.4a1.3 1.3 0 1 0 2.6 0a1.3 1.3 0 1 0 -2.6 0M80.9 216a1.3 1.3 0 1 0 2.6 0a1.3 1.3 0 1 0 -2.6 0M83.9 213.1a1.3 1.3 0 1 0 2.6 0a1.3 1.3 0 1 0 -2.6 0M87.4 210.1a1.3 1.3 0 1 0 2.6 0a1.3 1.3 0 1 0 -2.6 0M91.7 207.6a1.3 1.3 0 1 0 2.6 0a1.3 1.3 0 1 0 -2.6 0M95.3 206.1a1.3 1.3 0 1 0 2.6 0a1.3 1.3 0 1 0 -2.6 0" fill="#2e5c9e"/>
<path d="M37.6 240.5L38.1 240.3L38.7 239.9L39.4 239.5L40.4 239.2L41.4 238.9L42.6 238.7L44 238.5L45.5 238.4L47.1 238.3L48.7 238.3L50.2 238.3L51.8 238.3L53.4 238.4L55 238.5L56.6 238.6L58.2 238.7L59.9 238.9L61.5 239.1L63.1 239.2L64.5 239.4L65.7 239.6L66.8 239.8L67.8 239.9L68.6 240.1L69.2 240.2" fill="none" stroke="#5a84c2" stroke-width="1.9" stroke-linejoin="round" stroke-linecap="round"/>
<path d="M36.5 240.5a1.15 1.15 0 1 0 2.3 0a1.15 1.15 0 1 0 -2.3 0M37.5 239.9a1.15 1.15 0 1 0 2.3 0a1.15 1.15 0 1 0 -2.3 0M39.2 239.2a1.15 1.15 0 1 0 2.3 0a1.15 1.15 0 1 0 -2.3 0M41.5 238.7a1.15 1.15 0 1 0 2.3 0a1.15 1.15 0 1 0 -2.3 0M44.4 238.4a1.15 1.15 0 1 0 2.3 0a1.15 1.15 0 1 0 -2.3 0M47.5 238.3a1.15 1.15 0 1 0 2.3 0a1.15 1.15 0 1 0 -2.3 0M50.6 238.3a1.15 1.15 0 1 0 2.3 0a1.15 1.15 0 1 0 -2.3 0M53.8 238.5a1.15 1.15 0 1 0 2.3 0a1.15 1.15 0 1 0 -2.3 0M57 238.7a1.15 1.15 0 1 0 2.3 0a1.15 1.15 0 1 0 -2.3 0M60.4 239.1a1.15 1.15 0 1 0 2.3 0a1.15 1.15 0 1 0 -2.3 0M63.3 239.4a1.15 1.15 0 1 0 2.3 0a1.15 1.15 0 1 0 -2.3 0M65.7 239.8a1.15 1.15 0 1 0 2.3 0a1.15 1.15 0 1 0 -2.3 0M67.5 240.1a1.15 1.15 0 1 0 2.3 0a1.15 1.15 0 1 0 -2.3 0" fill="#5a84c2"/>
<path d="M69.2 240.2L72.1 235.7L74.2 231.8L77.2 228L80.2 224.9L83.6 221.9L87.2 218.8L91.1 216.4L94.7 214.2" fill="none" stroke="#5a84c2" stroke-width="0.7" stroke-linejoin="round" stroke-linecap="round"/>
<path d="M70.8 235.7a1.3 1.3 0 1 0 2.6 0a1.3 1.3 0 1 0 -2.6 0M72.9 231.8a1.3 1.3 0 1 0 2.6 0a1.3 1.3 0 1 0 -2.6 0M75.9 228a1.3 1.3 0 1 0 2.6 0a1.3 1.3 0 1 0 -2.6 0M78.9 224.9a1.3 1.3 0 1 0 2.6 0a1.3 1.3 0 1 0 -2.6 0M82.3 221.9a1.3 1.3 0 1 0 2.6 0a1.3 1.3 0 1 0 -2.6 0M85.9 218.8a1.3 1.3 0 1 0 2.6 0a1.3 1.3 0 1 0 -2.6 0M89.8 216.4a1.3 1.3 0 1 0 2.6 0a1.3 1.3 0 1 0 -2.6 0M93.4 214.2a1.3 1.3 0 1 0 2.6 0a1.3 1.3 0 1 0 -2.6 0" fill="#5a84c2"/>
<path d="M37.6 249.1L38 248.9L38.6 248.5L39.2 248.1L40 247.8L41 247.5L42 247.3L43.3 247.1L44.6 247L46 246.9L47.4 246.9L48.8 246.9L50.2 246.9L51.6 247L53 247.1L54.4 247.2L55.8 247.3L57.3 247.5L58.8 247.7L60.2 247.8L61.4 248L62.5 248.2L63.5 248.4L64.4 248.5L65.1 248.7L65.6 248.8" fill="none" stroke="#80a9d6" stroke-width="1.9" stroke-linejoin="round" stroke-linecap="round"/>
<path d="M36.5 249.1a1.15 1.15 0 1 0 2.3 0a1.15 1.15 0 1 0 -2.3 0M37.4 248.5a1.15 1.15 0 1 0 2.3 0a1.15 1.15 0 1 0 -2.3 0M38.9 247.8a1.15 1.15 0 1 0 2.3 0a1.15 1.15 0 1 0 -2.3 0M40.9 247.3a1.15 1.15 0 1 0 2.3 0a1.15 1.15 0 1 0 -2.3 0M43.5 247a1.15 1.15 0 1 0 2.3 0a1.15 1.15 0 1 0 -2.3 0M46.2 246.9a1.15 1.15 0 1 0 2.3 0a1.15 1.15 0 1 0 -2.3 0M49 246.9a1.15 1.15 0 1 0 2.3 0a1.15 1.15 0 1 0 -2.3 0M51.8 247.1a1.15 1.15 0 1 0 2.3 0a1.15 1.15 0 1 0 -2.3 0M54.7 247.3a1.15 1.15 0 1 0 2.3 0a1.15 1.15 0 1 0 -2.3 0M57.7 247.7a1.15 1.15 0 1 0 2.3 0a1.15 1.15 0 1 0 -2.3 0M60.3 248a1.15 1.15 0 1 0 2.3 0a1.15 1.15 0 1 0 -2.3 0M62.3 248.4a1.15 1.15 0 1 0 2.3 0a1.15 1.15 0 1 0 -2.3 0M63.9 248.7a1.15 1.15 0 1 0 2.3 0a1.15 1.15 0 1 0 -2.3 0" fill="#80a9d6"/>
<path d="M65.6 248.8L68 244.2L70.6 240.4L73.6 236.6L77.2 233.2L80.6 230.2L84.2 227.1L88.1 220.9" fill="none" stroke="#80a9d6" stroke-width="0.7" stroke-linejoin="round" stroke-linecap="round"/>
<path d="M66.7 244.2a1.3 1.3 0 1 0 2.6 0a1.3 1.3 0 1 0 -2.6 0M69.3 240.4a1.3 1.3 0 1 0 2.6 0a1.3 1.3 0 1 0 -2.6 0M72.3 236.6a1.3 1.3 0 1 0 2.6 0a1.3 1.3 0 1 0 -2.6 0M75.9 233.2a1.3 1.3 0 1 0 2.6 0a1.3 1.3 0 1 0 -2.6 0M79.3 230.2a1.3 1.3 0 1 0 2.6 0a1.3 1.3 0 1 0 -2.6 0M82.9 227.1a1.3 1.3 0 1 0 2.6 0a1.3 1.3 0 1 0 -2.6 0M86.8 220.9a1.3 1.3 0 1 0 2.6 0a1.3 1.3 0 1 0 -2.6 0" fill="#80a9d6"/>
<path d="M37.6 257.7L38 257.5L38.5 257.1L39.1 256.7L39.8 256.4L40.7 256.1L41.6 255.9L42.8 255.7L44 255.6L45.3 255.5L46.5 255.5L47.8 255.5L49 255.5L50.3 255.6L51.6 255.7L52.9 255.8L54.2 255.9L55.6 256.1L56.9 256.3L58.2 256.4L59.3 256.6L60.3 256.8L61.2 257L62 257.1L62.6 257.3L63.1 257.4" fill="none" stroke="#a8c8e6" stroke-width="1.9" stroke-linejoin="round" stroke-linecap="round"/>
<path d="M36.5 257.7a1.15 1.15 0 1 0 2.3 0a1.15 1.15 0 1 0 -2.3 0M37.3 257.1a1.15 1.15 0 1 0 2.3 0a1.15 1.15 0 1 0 -2.3 0M38.7 256.4a1.15 1.15 0 1 0 2.3 0a1.15 1.15 0 1 0 -2.3 0M40.5 255.9a1.15 1.15 0 1 0 2.3 0a1.15 1.15 0 1 0 -2.3 0M42.9 255.6a1.15 1.15 0 1 0 2.3 0a1.15 1.15 0 1 0 -2.3 0M45.4 255.5a1.15 1.15 0 1 0 2.3 0a1.15 1.15 0 1 0 -2.3 0M47.9 255.5a1.15 1.15 0 1 0 2.3 0a1.15 1.15 0 1 0 -2.3 0M50.5 255.7a1.15 1.15 0 1 0 2.3 0a1.15 1.15 0 1 0 -2.3 0M53.1 255.9a1.15 1.15 0 1 0 2.3 0a1.15 1.15 0 1 0 -2.3 0M55.8 256.3a1.15 1.15 0 1 0 2.3 0a1.15 1.15 0 1 0 -2.3 0M58.1 256.6a1.15 1.15 0 1 0 2.3 0a1.15 1.15 0 1 0 -2.3 0M60 257a1.15 1.15 0 1 0 2.3 0a1.15 1.15 0 1 0 -2.3 0M61.5 257.3a1.15 1.15 0 1 0 2.3 0a1.15 1.15 0 1 0 -2.3 0" fill="#a8c8e6"/>
<path d="M63.1 257.4L65.6 251.8L68.2 248.1L71.2 244.6L74.6 241.2L78.6 237.6L82.6 234.4L88.1 231" fill="none" stroke="#a8c8e6" stroke-width="0.7" stroke-linejoin="round" stroke-linecap="round"/>
<path d="M64.3 251.8a1.3 1.3 0 1 0 2.6 0a1.3 1.3 0 1 0 -2.6 0M66.9 248.1a1.3 1.3 0 1 0 2.6 0a1.3 1.3 0 1 0 -2.6 0M69.9 244.6a1.3 1.3 0 1 0 2.6 0a1.3 1.3 0 1 0 -2.6 0M73.3 241.2a1.3 1.3 0 1 0 2.6 0a1.3 1.3 0 1 0 -2.6 0M77.3 237.6a1.3 1.3 0 1 0 2.6 0a1.3 1.3 0 1 0 -2.6 0M81.3 234.4a1.3 1.3 0 1 0 2.6 0a1.3 1.3 0 1 0 -2.6 0M86.8 231a1.3 1.3 0 1 0 2.6 0a1.3 1.3 0 1 0 -2.6 0" fill="#a8c8e6"/>
<path d="M37.6 266.1L37.9 265.9L38.4 265.5L38.9 265.1L39.6 264.8L40.4 264.5L41.2 264.3L42.3 264.1L43.4 264L44.5 263.9L45.6 263.9L46.8 263.9L47.9 263.9L49.1 264L50.2 264.1L51.4 264.2L52.6 264.3L53.8 264.5L55 264.7L56.1 264.8L57.2 265L58 265.2L58.9 265.4L59.6 265.5L60.2 265.7L60.6 265.8" fill="none" stroke="#c8dcef" stroke-width="1.9" stroke-linejoin="round" stroke-linecap="round"/>
<path d="M36.5 266.1a1.15 1.15 0 1 0 2.3 0a1.15 1.15 0 1 0 -2.3 0M37.2 265.5a1.15 1.15 0 1 0 2.3 0a1.15 1.15 0 1 0 -2.3 0M38.5 264.8a1.15 1.15 0 1 0 2.3 0a1.15 1.15 0 1 0 -2.3 0M40.1 264.3a1.15 1.15 0 1 0 2.3 0a1.15 1.15 0 1 0 -2.3 0M42.2 264a1.15 1.15 0 1 0 2.3 0a1.15 1.15 0 1 0 -2.3 0M44.5 263.9a1.15 1.15 0 1 0 2.3 0a1.15 1.15 0 1 0 -2.3 0M46.8 263.9a1.15 1.15 0 1 0 2.3 0a1.15 1.15 0 1 0 -2.3 0M49.1 264.1a1.15 1.15 0 1 0 2.3 0a1.15 1.15 0 1 0 -2.3 0M51.4 264.3a1.15 1.15 0 1 0 2.3 0a1.15 1.15 0 1 0 -2.3 0M53.9 264.7a1.15 1.15 0 1 0 2.3 0a1.15 1.15 0 1 0 -2.3 0M56 265a1.15 1.15 0 1 0 2.3 0a1.15 1.15 0 1 0 -2.3 0M57.7 265.4a1.15 1.15 0 1 0 2.3 0a1.15 1.15 0 1 0 -2.3 0M59 265.7a1.15 1.15 0 1 0 2.3 0a1.15 1.15 0 1 0 -2.3 0" fill="#c8dcef"/>
<path d="M60.6 265.8L62.8 259.8L65.6 255.8L68.8 251.4L72.2 247.8L76.2 244.8L80.6 242L86.7 239.2" fill="none" stroke="#c8dcef" stroke-width="0.7" stroke-linejoin="round" stroke-linecap="round"/>
<path d="M61.5 259.8a1.3 1.3 0 1 0 2.6 0a1.3 1.3 0 1 0 -2.6 0M64.3 255.8a1.3 1.3 0 1 0 2.6 0a1.3 1.3 0 1 0 -2.6 0M67.5 251.4a1.3 1.3 0 1 0 2.6 0a1.3 1.3 0 1 0 -2.6 0M70.9 247.8a1.3 1.3 0 1 0 2.6 0a1.3 1.3 0 1 0 -2.6 0M74.9 244.8a1.3 1.3 0 1 0 2.6 0a1.3 1.3 0 1 0 -2.6 0M79.3 242a1.3 1.3 0 1 0 2.6 0a1.3 1.3 0 1 0 -2.6 0M85.4 239.2a1.3 1.3 0 1 0 2.6 0a1.3 1.3 0 1 0 -2.6 0" fill="#c8dcef"/>
<path d="M37.6 274.5L38.4 274.2L39.4 273.9L40.6 273.5L42 273.1L43.2 272.9L44.5 272.9L45.8 273L47.1 273.1L48.5 273.3L49.8 273.5L51.2 273.8L52.6 274.2L54 274.6L55.3 274.8L56.4 274.7L57.2 274.1L57.8 273.1L58.4 271.9L58.8 270.7L59.4 269.7L60.1 268.8L60.8 268L61.5 267.2L62.2 266.6L62.6 266.1" fill="none" stroke="#d6d6d6" stroke-width="1.9" stroke-linejoin="round" stroke-linecap="round"/>
<path d="M62.6 266.1L65.8 262.9L70.5 256.9L76.6 249.5" fill="none" stroke="#d6d6d6" stroke-width="0.7" stroke-linejoin="round" stroke-linecap="round"/>
<path d="M61.4 266.1a1.2 1.2 0 1 0 2.4 0a1.2 1.2 0 1 0 -2.4 0M64.6 262.9a1.2 1.2 0 1 0 2.4 0a1.2 1.2 0 1 0 -2.4 0M69.3 256.9a1.2 1.2 0 1 0 2.4 0a1.2 1.2 0 1 0 -2.4 0M75.4 249.5a1.2 1.2 0 1 0 2.4 0a1.2 1.2 0 1 0 -2.4 0M36.5 274.5a1.1 1.1 0 1 0 2.2 0a1.1 1.1 0 1 0 -2.2 0M38.3 273.9a1.1 1.1 0 1 0 2.2 0a1.1 1.1 0 1 0 -2.2 0M40.9 273.1a1.1 1.1 0 1 0 2.2 0a1.1 1.1 0 1 0 -2.2 0M43.4 272.9a1.1 1.1 0 1 0 2.2 0a1.1 1.1 0 1 0 -2.2 0M46 273.1a1.1 1.1 0 1 0 2.2 0a1.1 1.1 0 1 0 -2.2 0M48.7 273.5a1.1 1.1 0 1 0 2.2 0a1.1 1.1 0 1 0 -2.2 0M51.5 274.2a1.1 1.1 0 1 0 2.2 0a1.1 1.1 0 1 0 -2.2 0M54.2 274.8a1.1 1.1 0 1 0 2.2 0a1.1 1.1 0 1 0 -2.2 0M56.1 274.1a1.1 1.1 0 1 0 2.2 0a1.1 1.1 0 1 0 -2.2 0M57.3 271.9a1.1 1.1 0 1 0 2.2 0a1.1 1.1 0 1 0 -2.2 0M58.3 269.7a1.1 1.1 0 1 0 2.2 0a1.1 1.1 0 1 0 -2.2 0M59.6 268.1a1.1 1.1 0 1 0 2.2 0a1.1 1.1 0 1 0 -2.2 0M60.9 266.8a1.1 1.1 0 1 0 2.2 0a1.1 1.1 0 1 0 -2.2 0M62.1 265.5a1.1 1.1 0 1 0 2.2 0a1.1 1.1 0 1 0 -2.2 0M63.3 264.4a1.1 1.1 0 1 0 2.2 0a1.1 1.1 0 1 0 -2.2 0M64.7 262.9a1.1 1.1 0 1 0 2.2 0a1.1 1.1 0 1 0 -2.2 0M66.4 260.8a1.1 1.1 0 1 0 2.2 0a1.1 1.1 0 1 0 -2.2 0M68.3 258.2a1.1 1.1 0 1 0 2.2 0a1.1 1.1 0 1 0 -2.2 0M70.6 255.4a1.1 1.1 0 1 0 2.2 0a1.1 1.1 0 1 0 -2.2 0M73.4 252a1.1 1.1 0 1 0 2.2 0a1.1 1.1 0 1 0 -2.2 0M75.5 249.5a1.1 1.1 0 1 0 2.2 0a1.1 1.1 0 1 0 -2.2 0" fill="#d6d6d6"/>
<path d="M37.6 283.2L38.3 282.9L39.2 282.6L40.2 282.2L41.4 281.8L42.5 281.6L43.6 281.6L44.7 281.7L45.9 281.8L47 282L48.2 282.2L49.4 282.5L50.6 282.9L51.9 283.3L53 283.5L53.9 283.4L54.6 283L55.1 282.2L55.5 281.3L55.8 280.4L56.2 279.6L56.7 278.9L57.2 278.1L57.7 277.4L58.1 276.8L58.4 276.4" fill="none" stroke="#fde8c2" stroke-width="1.9" stroke-linejoin="round" stroke-linecap="round"/>
<path d="M58.4 276.4L61.6 272.4L64.9 268.5L69.2 264L76 260.8" fill="none" stroke="#fde8c2" stroke-width="0.7" stroke-linejoin="round" stroke-linecap="round"/>
<path d="M57.2 276.4a1.2 1.2 0 1 0 2.4 0a1.2 1.2 0 1 0 -2.4 0M60.4 272.4a1.2 1.2 0 1 0 2.4 0a1.2 1.2 0 1 0 -2.4 0M63.7 268.5a1.2 1.2 0 1 0 2.4 0a1.2 1.2 0 1 0 -2.4 0M68 264a1.2 1.2 0 1 0 2.4 0a1.2 1.2 0 1 0 -2.4 0M74.8 260.8a1.2 1.2 0 1 0 2.4 0a1.2 1.2 0 1 0 -2.4 0M36.5 283.2a1.1 1.1 0 1 0 2.2 0a1.1 1.1 0 1 0 -2.2 0M38.1 282.6a1.1 1.1 0 1 0 2.2 0a1.1 1.1 0 1 0 -2.2 0M40.3 281.8a1.1 1.1 0 1 0 2.2 0a1.1 1.1 0 1 0 -2.2 0M42.5 281.6a1.1 1.1 0 1 0 2.2 0a1.1 1.1 0 1 0 -2.2 0M44.8 281.8a1.1 1.1 0 1 0 2.2 0a1.1 1.1 0 1 0 -2.2 0M47.1 282.2a1.1 1.1 0 1 0 2.2 0a1.1 1.1 0 1 0 -2.2 0M49.5 282.9a1.1 1.1 0 1 0 2.2 0a1.1 1.1 0 1 0 -2.2 0M51.9 283.5a1.1 1.1 0 1 0 2.2 0a1.1 1.1 0 1 0 -2.2 0M53.5 283a1.1 1.1 0 1 0 2.2 0a1.1 1.1 0 1 0 -2.2 0M54.4 281.3a1.1 1.1 0 1 0 2.2 0a1.1 1.1 0 1 0 -2.2 0M55.1 279.6a1.1 1.1 0 1 0 2.2 0a1.1 1.1 0 1 0 -2.2 0M55.9 278.3a1.1 1.1 0 1 0 2.2 0a1.1 1.1 0 1 0 -2.2 0M56.8 277.1a1.1 1.1 0 1 0 2.2 0a1.1 1.1 0 1 0 -2.2 0M57.9 275.6a1.1 1.1 0 1 0 2.2 0a1.1 1.1 0 1 0 -2.2 0M59.2 274a1.1 1.1 0 1 0 2.2 0a1.1 1.1 0 1 0 -2.2 0M60.5 272.4a1.1 1.1 0 1 0 2.2 0a1.1 1.1 0 1 0 -2.2 0M61.8 270.9a1.1 1.1 0 1 0 2.2 0a1.1 1.1 0 1 0 -2.2 0M63.1 269.3a1.1 1.1 0 1 0 2.2 0a1.1 1.1 0 1 0 -2.2 0M64.6 267.6a1.1 1.1 0 1 0 2.2 0a1.1 1.1 0 1 0 -2.2 0M66.2 265.7a1.1 1.1 0 1 0 2.2 0a1.1 1.1 0 1 0 -2.2 0M68.1 264a1.1 1.1 0 1 0 2.2 0a1.1 1.1 0 1 0 -2.2 0M71 262.5a1.1 1.1 0 1 0 2.2 0a1.1 1.1 0 1 0 -2.2 0M73.9 261.2a1.1 1.1 0 1 0 2.2 0a1.1 1.1 0 1 0 -2.2 0" fill="#fde8c2"/>
<path d="M37.6 291.8L38.1 291.5L38.9 291.2L39.8 290.8L40.7 290.4L41.6 290.2L42.6 290.2L43.5 290.3L44.5 290.4L45.4 290.6L46.4 290.8L47.3 291L48.3 291.3L49.3 291.6L50.3 291.9L51.1 292L51.8 291.9L52.4 291.8L52.9 291.5L53.5 291.3L54.1 291L54.8 290.7L55.6 290.5L56.5 290.2L57.3 289.9L58.1 289.6L58.9 289.3L59.7 289.1L60.6 288.8L61.4 288.5L62.1 288.3L62.8 288.1L63.5 287.9L64.2 287.7L64.7 287.5L65.1 287.4" fill="none" stroke="#fde0a8" stroke-width="1.9" stroke-linejoin="round" stroke-linecap="round"/>
<path d="M36.5 291.8a1.1 1.1 0 1 0 2.2 0a1.1 1.1 0 1 0 -2.2 0M37.8 291.2a1.1 1.1 0 1 0 2.2 0a1.1 1.1 0 1 0 -2.2 0M39.6 290.4a1.1 1.1 0 1 0 2.2 0a1.1 1.1 0 1 0 -2.2 0M41.5 290.2a1.1 1.1 0 1 0 2.2 0a1.1 1.1 0 1 0 -2.2 0M43.4 290.4a1.1 1.1 0 1 0 2.2 0a1.1 1.1 0 1 0 -2.2 0M45.3 290.8a1.1 1.1 0 1 0 2.2 0a1.1 1.1 0 1 0 -2.2 0M47.2 291.3a1.1 1.1 0 1 0 2.2 0a1.1 1.1 0 1 0 -2.2 0M49.2 291.9a1.1 1.1 0 1 0 2.2 0a1.1 1.1 0 1 0 -2.2 0M50.7 291.9a1.1 1.1 0 1 0 2.2 0a1.1 1.1 0 1 0 -2.2 0M51.8 291.5a1.1 1.1 0 1 0 2.2 0a1.1 1.1 0 1 0 -2.2 0M53 291a1.1 1.1 0 1 0 2.2 0a1.1 1.1 0 1 0 -2.2 0M54.5 290.5a1.1 1.1 0 1 0 2.2 0a1.1 1.1 0 1 0 -2.2 0M56.2 289.9a1.1 1.1 0 1 0 2.2 0a1.1 1.1 0 1 0 -2.2 0M57.8 289.3a1.1 1.1 0 1 0 2.2 0a1.1 1.1 0 1 0 -2.2 0M59.5 288.8a1.1 1.1 0 1 0 2.2 0a1.1 1.1 0 1 0 -2.2 0M61 288.3a1.1 1.1 0 1 0 2.2 0a1.1 1.1 0 1 0 -2.2 0M62.4 287.9a1.1 1.1 0 1 0 2.2 0a1.1 1.1 0 1 0 -2.2 0M63.6 287.5a1.1 1.1 0 1 0 2.2 0a1.1 1.1 0 1 0 -2.2 0" fill="#fde0a8"/>
<path d="M37.6 300.4L38.2 300.1L39 299.8L39.9 299.4L41 299L42 298.8L42.9 298.8L43.9 298.9L45 299L46 299.2L47 299.4L48.1 299.6L49.2 299.9L50.2 300.2L51.2 300.5L52.1 300.6L52.8 300.6L53.4 300.4L53.9 300.2L54.5 300L55.1 299.8L55.8 299.6L56.6 299.3L57.5 299.1L58.3 298.8L59.1 298.6L59.9 298.4L60.8 298.2L61.6 298L62.4 297.8L63.1 297.6L63.7 297.4L64.1 297.2L64.5 296.9L64.9 296.7L65.1 296.6" fill="none" stroke="#fcd38c" stroke-width="1.9" stroke-linejoin="round" stroke-linecap="round"/>
<path d="M36.5 300.4a1.1 1.1 0 1 0 2.2 0a1.1 1.1 0 1 0 -2.2 0M37.9 299.8a1.1 1.1 0 1 0 2.2 0a1.1 1.1 0 1 0 -2.2 0M39.9 299a1.1 1.1 0 1 0 2.2 0a1.1 1.1 0 1 0 -2.2 0M41.8 298.8a1.1 1.1 0 1 0 2.2 0a1.1 1.1 0 1 0 -2.2 0M43.9 299a1.1 1.1 0 1 0 2.2 0a1.1 1.1 0 1 0 -2.2 0M45.9 299.4a1.1 1.1 0 1 0 2.2 0a1.1 1.1 0 1 0 -2.2 0M48.1 299.9a1.1 1.1 0 1 0 2.2 0a1.1 1.1 0 1 0 -2.2 0M50.1 300.5a1.1 1.1 0 1 0 2.2 0a1.1 1.1 0 1 0 -2.2 0M51.7 300.6a1.1 1.1 0 1 0 2.2 0a1.1 1.1 0 1 0 -2.2 0M52.8 300.2a1.1 1.1 0 1 0 2.2 0a1.1 1.1 0 1 0 -2.2 0M54 299.8a1.1 1.1 0 1 0 2.2 0a1.1 1.1 0 1 0 -2.2 0M55.5 299.3a1.1 1.1 0 1 0 2.2 0a1.1 1.1 0 1 0 -2.2 0M57.2 298.8a1.1 1.1 0 1 0 2.2 0a1.1 1.1 0 1 0 -2.2 0M58.8 298.4a1.1 1.1 0 1 0 2.2 0a1.1 1.1 0 1 0 -2.2 0M60.5 298a1.1 1.1 0 1 0 2.2 0a1.1 1.1 0 1 0 -2.2 0M62 297.6a1.1 1.1 0 1 0 2.2 0a1.1 1.1 0 1 0 -2.2 0M63 297.2a1.1 1.1 0 1 0 2.2 0a1.1 1.1 0 1 0 -2.2 0M63.8 296.7a1.1 1.1 0 1 0 2.2 0a1.1 1.1 0 1 0 -2.2 0" fill="#fcd38c"/>
<path d="M37.6 309.2L38.2 308.9L39 308.6L39.9 308.2L41 307.8L42 307.6L42.9 307.6L43.9 307.7L45 307.8L46 308L47 308.2L48.1 308.4L49.2 308.7L50.2 309L51.2 309.3L52.1 309.4L52.8 309.4L53.4 309.2L53.9 309L54.5 308.7L55.1 308.5L55.8 308.3L56.6 308.1L57.5 307.8L58.3 307.6L59.1 307.4L59.9 307.2L60.7 307L61.6 306.8L62.4 306.6L63.1 306.4L63.8 306.3L64.5 306.2L65.2 306.1L65.7 306L66.1 306" fill="none" stroke="#ead03a" stroke-width="1.9" stroke-linejoin="round" stroke-linecap="round"/>
<path d="M36.5 309.2a1.1 1.1 0 1 0 2.2 0a1.1 1.1 0 1 0 -2.2 0M37.9 308.6a1.1 1.1 0 1 0 2.2 0a1.1 1.1 0 1 0 -2.2 0M39.9 307.8a1.1 1.1 0 1 0 2.2 0a1.1 1.1 0 1 0 -2.2 0M41.8 307.6a1.1 1.1 0 1 0 2.2 0a1.1 1.1 0 1 0 -2.2 0M43.9 307.8a1.1 1.1 0 1 0 2.2 0a1.1 1.1 0 1 0 -2.2 0M45.9 308.2a1.1 1.1 0 1 0 2.2 0a1.1 1.1 0 1 0 -2.2 0M48.1 308.7a1.1 1.1 0 1 0 2.2 0a1.1 1.1 0 1 0 -2.2 0M50.1 309.3a1.1 1.1 0 1 0 2.2 0a1.1 1.1 0 1 0 -2.2 0M51.7 309.4a1.1 1.1 0 1 0 2.2 0a1.1 1.1 0 1 0 -2.2 0M52.8 309a1.1 1.1 0 1 0 2.2 0a1.1 1.1 0 1 0 -2.2 0M54 308.5a1.1 1.1 0 1 0 2.2 0a1.1 1.1 0 1 0 -2.2 0M55.5 308.1a1.1 1.1 0 1 0 2.2 0a1.1 1.1 0 1 0 -2.2 0M57.2 307.6a1.1 1.1 0 1 0 2.2 0a1.1 1.1 0 1 0 -2.2 0M58.8 307.2a1.1 1.1 0 1 0 2.2 0a1.1 1.1 0 1 0 -2.2 0M60.5 306.8a1.1 1.1 0 1 0 2.2 0a1.1 1.1 0 1 0 -2.2 0M62 306.4a1.1 1.1 0 1 0 2.2 0a1.1 1.1 0 1 0 -2.2 0M63.4 306.2a1.1 1.1 0 1 0 2.2 0a1.1 1.1 0 1 0 -2.2 0M64.6 306a1.1 1.1 0 1 0 2.2 0a1.1 1.1 0 1 0 -2.2 0" fill="#ead03a"/>
<path d="M37.6 317L38.2 316.7L38.9 316.4L39.9 316L40.8 315.6L41.8 315.4L42.7 315.4L43.7 315.5L44.7 315.6L45.7 315.8L46.7 316L47.7 316.2L48.8 316.5L49.8 316.8L50.7 317.1L51.6 317.2L52.3 317.2L52.9 317.1L53.4 316.9L54 316.7L54.6 316.5L55.3 316.4L56.1 316.3L57 316.1L57.8 316L58.6 315.9L59.4 315.8L60.2 315.6L61.1 315.5L61.9 315.3L62.6 315.2L63.3 315L64 314.8L64.7 314.7L65.2 314.5L65.6 314.4" fill="none" stroke="#f6ac02" stroke-width="1.9" stroke-linejoin="round" stroke-linecap="round"/>
<path d="M36.5 317a1.1 1.1 0 1 0 2.2 0a1.1 1.1 0 1 0 -2.2 0M37.8 316.4a1.1 1.1 0 1 0 2.2 0a1.1 1.1 0 1 0 -2.2 0M39.7 315.6a1.1 1.1 0 1 0 2.2 0a1.1 1.1 0 1 0 -2.2 0M41.6 315.4a1.1 1.1 0 1 0 2.2 0a1.1 1.1 0 1 0 -2.2 0M43.6 315.6a1.1 1.1 0 1 0 2.2 0a1.1 1.1 0 1 0 -2.2 0M45.6 316a1.1 1.1 0 1 0 2.2 0a1.1 1.1 0 1 0 -2.2 0M47.7 316.5a1.1 1.1 0 1 0 2.2 0a1.1 1.1 0 1 0 -2.2 0M49.6 317.1a1.1 1.1 0 1 0 2.2 0a1.1 1.1 0 1 0 -2.2 0M51.2 317.2a1.1 1.1 0 1 0 2.2 0a1.1 1.1 0 1 0 -2.2 0M52.3 316.9a1.1 1.1 0 1 0 2.2 0a1.1 1.1 0 1 0 -2.2 0M53.5 316.5a1.1 1.1 0 1 0 2.2 0a1.1 1.1 0 1 0 -2.2 0M55 316.3a1.1 1.1 0 1 0 2.2 0a1.1 1.1 0 1 0 -2.2 0M56.7 316a1.1 1.1 0 1 0 2.2 0a1.1 1.1 0 1 0 -2.2 0M58.3 315.8a1.1 1.1 0 1 0 2.2 0a1.1 1.1 0 1 0 -2.2 0M60 315.5a1.1 1.1 0 1 0 2.2 0a1.1 1.1 0 1 0 -2.2 0M61.5 315.2a1.1 1.1 0 1 0 2.2 0a1.1 1.1 0 1 0 -2.2 0M62.9 314.8a1.1 1.1 0 1 0 2.2 0a1.1 1.1 0 1 0 -2.2 0M64.1 314.5a1.1 1.1 0 1 0 2.2 0a1.1 1.1 0 1 0 -2.2 0" fill="#f6ac02"/>
</g>
<line x1="34.2" y1="196.4" x2="34.2" y2="318.6" stroke="#9a9a9a" stroke-width="1.1"/>
<line x1="33.7" y1="318.6" x2="97.3" y2="318.6" stroke="#333" stroke-width="0.8"/>
<line x1="34.2" y1="318.6" x2="34.2" y2="316.6" stroke="#333" stroke-width="0.7"/>
<text x="34.2" y="328.4" font-size="7.9" text-anchor="middle" stroke="#111" stroke-width="0.2">0</text>
<line x1="44.7" y1="318.6" x2="44.7" y2="317.4" stroke="#333" stroke-width="0.7"/>
<line x1="55.2" y1="318.6" x2="55.2" y2="316.6" stroke="#333" stroke-width="0.7"/>
<text x="55.2" y="328.4" font-size="7.9" text-anchor="middle" stroke="#111" stroke-width="0.2">30</text>
<line x1="65.7" y1="318.6" x2="65.7" y2="317.4" stroke="#333" stroke-width="0.7"/>
<line x1="76.2" y1="318.6" x2="76.2" y2="316.6" stroke="#333" stroke-width="0.7"/>
<text x="76.2" y="328.4" font-size="7.9" text-anchor="middle" stroke="#111" stroke-width="0.2">60</text>
<line x1="86.7" y1="318.6" x2="86.7" y2="317.4" stroke="#333" stroke-width="0.7"/>
<line x1="97.2" y1="318.6" x2="97.2" y2="316.6" stroke="#333" stroke-width="0.7"/>
<text x="97.2" y="328.4" font-size="7.9" text-anchor="middle" stroke="#111" stroke-width="0.2">90</text>
<text x="36.08" y="206.7" font-size="8.35" textLength="36.84" lengthAdjust="spacingAndGlyphs" stroke="#111" stroke-width="0.2">4% L6CO</text>
<text x="50.19" y="341.5" font-size="8.3" textLength="31.13" lengthAdjust="spacingAndGlyphs" stroke="#111" stroke-width="0.2">Z′ (ohm)</text>
<text x="27.9" y="276.62" font-size="8.3" textLength="38.13" lengthAdjust="spacingAndGlyphs" transform="rotate(-90 27.9 276.62)" stroke="#111" stroke-width="0.2">−Z″ (ohm)</text>
<g clip-path="url(#clipd2)">
<path d="M117.8 223.6L118.4 223.4L119.3 223.1L120.3 222.7L121.3 222.4L122.3 222.3L123.2 222.3L124.1 222.5L125 222.7L125.9 223L126.8 223.2L127.6 223.4L128.4 223.6L129.2 223.8L130 223.9L130.8 223.9L131.6 223.8L132.4 223.6L133.2 223.3L134 222.9" fill="none" stroke="#1f3d6e" stroke-width="2.2" stroke-linejoin="round" stroke-linecap="round"/>
<path d="M134 222.9L134.8 222.5L135.7 222L136.6 221.4L137.5 220.7L138.5 219.9L139.3 219.2L140.1 218.4L140.8 217.5L141.5 216.7L142.1 215.8L142.8 215L143.5 214.2L144.3 213.5L145 212.7L145.6 212.1L146 211.7" fill="none" stroke="#1f3d6e" stroke-width="1.1" stroke-linejoin="round" stroke-linecap="round"/>
<path d="M116.7 223.6a1.1 1.1 0 1 0 2.2 0a1.1 1.1 0 1 0 -2.2 0M118.2 223.1a1.1 1.1 0 1 0 2.2 0a1.1 1.1 0 1 0 -2.2 0M120.2 222.4a1.1 1.1 0 1 0 2.2 0a1.1 1.1 0 1 0 -2.2 0M122.1 222.3a1.1 1.1 0 1 0 2.2 0a1.1 1.1 0 1 0 -2.2 0M123.9 222.7a1.1 1.1 0 1 0 2.2 0a1.1 1.1 0 1 0 -2.2 0M125.7 223.2a1.1 1.1 0 1 0 2.2 0a1.1 1.1 0 1 0 -2.2 0M127.3 223.6a1.1 1.1 0 1 0 2.2 0a1.1 1.1 0 1 0 -2.2 0M128.9 223.9a1.1 1.1 0 1 0 2.2 0a1.1 1.1 0 1 0 -2.2 0M130.5 223.8a1.1 1.1 0 1 0 2.2 0a1.1 1.1 0 1 0 -2.2 0M132.1 223.3a1.1 1.1 0 1 0 2.2 0a1.1 1.1 0 1 0 -2.2 0M133.6 222.5a1.25 1.25 0 1 0 2.5 0a1.25 1.25 0 1 0 -2.5 0M135.4 221.4a1.25 1.25 0 1 0 2.5 0a1.25 1.25 0 1 0 -2.5 0M137.2 219.9a1.25 1.25 0 1 0 2.5 0a1.25 1.25 0 1 0 -2.5 0M138.8 218.4a1.25 1.25 0 1 0 2.5 0a1.25 1.25 0 1 0 -2.5 0M140.2 216.7a1.25 1.25 0 1 0 2.5 0a1.25 1.25 0 1 0 -2.5 0M141.6 215a1.25 1.25 0 1 0 2.5 0a1.25 1.25 0 1 0 -2.5 0M143 213.5a1.25 1.25 0 1 0 2.5 0a1.25 1.25 0 1 0 -2.5 0M144.3 212.1a1.25 1.25 0 1 0 2.5 0a1.25 1.25 0 1 0 -2.5 0" fill="#1f3d6e"/>
<path d="M117.8 232.2L118.3 232L119.1 231.6L119.9 231.2L120.9 230.9L121.8 230.7L122.7 230.7L123.7 230.8L124.7 231L125.8 231.2L126.8 231.4L127.9 231.6L129 231.9L130.2 232.1L131.3 232.3L132.3 232.4L133.2 232.4L133.9 232.4L134.6 232.3L135.4 232" fill="none" stroke="#2e5c9e" stroke-width="2.2" stroke-linejoin="round" stroke-linecap="round"/>
<path d="M135.4 232L136.3 231.7L137.5 231.2L138.7 230.5L140.1 229.8L141.5 229L142.9 228.3L144.2 227.5L145.6 226.8L146.9 226L148.2 225.3L149.5 224.5L150.7 223.8L152.1 223L153.3 222.3L154.3 221.6L155.1 221.2" fill="none" stroke="#2e5c9e" stroke-width="1.1" stroke-linejoin="round" stroke-linecap="round"/>
<path d="M116.7 232.2a1.1 1.1 0 1 0 2.2 0a1.1 1.1 0 1 0 -2.2 0M118 231.6a1.1 1.1 0 1 0 2.2 0a1.1 1.1 0 1 0 -2.2 0M119.8 230.9a1.1 1.1 0 1 0 2.2 0a1.1 1.1 0 1 0 -2.2 0M121.6 230.7a1.1 1.1 0 1 0 2.2 0a1.1 1.1 0 1 0 -2.2 0M123.6 231a1.1 1.1 0 1 0 2.2 0a1.1 1.1 0 1 0 -2.2 0M125.7 231.4a1.1 1.1 0 1 0 2.2 0a1.1 1.1 0 1 0 -2.2 0M127.9 231.9a1.1 1.1 0 1 0 2.2 0a1.1 1.1 0 1 0 -2.2 0M130.2 232.3a1.1 1.1 0 1 0 2.2 0a1.1 1.1 0 1 0 -2.2 0M132.1 232.4a1.1 1.1 0 1 0 2.2 0a1.1 1.1 0 1 0 -2.2 0M133.5 232.3a1.1 1.1 0 1 0 2.2 0a1.1 1.1 0 1 0 -2.2 0M135.1 231.7a1.25 1.25 0 1 0 2.5 0a1.25 1.25 0 1 0 -2.5 0M137.5 230.5a1.25 1.25 0 1 0 2.5 0a1.25 1.25 0 1 0 -2.5 0M140.3 229a1.25 1.25 0 1 0 2.5 0a1.25 1.25 0 1 0 -2.5 0M143 227.5a1.25 1.25 0 1 0 2.5 0a1.25 1.25 0 1 0 -2.5 0M145.6 226a1.25 1.25 0 1 0 2.5 0a1.25 1.25 0 1 0 -2.5 0M148.2 224.5a1.25 1.25 0 1 0 2.5 0a1.25 1.25 0 1 0 -2.5 0M150.8 223a1.25 1.25 0 1 0 2.5 0a1.25 1.25 0 1 0 -2.5 0M153.1 221.6a1.25 1.25 0 1 0 2.5 0a1.25 1.25 0 1 0 -2.5 0" fill="#2e5c9e"/>
<path d="M117.8 240.8L118.3 240.6L119.1 240.2L119.9 239.8L120.9 239.5L121.8 239.3L122.7 239.3L123.7 239.4L124.7 239.6L125.8 239.8L126.8 240L127.9 240.2L129 240.5L130.2 240.7L131.3 240.9L132.3 241L133.1 241L133.8 241L134.5 240.9L135.3 240.7" fill="none" stroke="#5a84c2" stroke-width="2.2" stroke-linejoin="round" stroke-linecap="round"/>
<path d="M135.3 240.7L136.3 240.3L137.6 239.7L139 238.9L140.6 238L142.2 237.1L143.7 236.2L145.2 235.4L146.7 234.5L148.2 233.5L149.7 232.6L151.1 231.8L152.6 230.9L154.1 230L155.5 229.1L156.7 228.3L157.5 227.8" fill="none" stroke="#5a84c2" stroke-width="1.1" stroke-linejoin="round" stroke-linecap="round"/>
<path d="M116.7 240.8a1.1 1.1 0 1 0 2.2 0a1.1 1.1 0 1 0 -2.2 0M118 240.2a1.1 1.1 0 1 0 2.2 0a1.1 1.1 0 1 0 -2.2 0M119.8 239.5a1.1 1.1 0 1 0 2.2 0a1.1 1.1 0 1 0 -2.2 0M121.6 239.3a1.1 1.1 0 1 0 2.2 0a1.1 1.1 0 1 0 -2.2 0M123.6 239.6a1.1 1.1 0 1 0 2.2 0a1.1 1.1 0 1 0 -2.2 0M125.7 240a1.1 1.1 0 1 0 2.2 0a1.1 1.1 0 1 0 -2.2 0M127.9 240.5a1.1 1.1 0 1 0 2.2 0a1.1 1.1 0 1 0 -2.2 0M130.2 240.9a1.1 1.1 0 1 0 2.2 0a1.1 1.1 0 1 0 -2.2 0M132 241a1.1 1.1 0 1 0 2.2 0a1.1 1.1 0 1 0 -2.2 0M133.4 240.9a1.1 1.1 0 1 0 2.2 0a1.1 1.1 0 1 0 -2.2 0M135.1 240.3a1.25 1.25 0 1 0 2.5 0a1.25 1.25 0 1 0 -2.5 0M137.8 238.9a1.25 1.25 0 1 0 2.5 0a1.25 1.25 0 1 0 -2.5 0M140.9 237.1a1.25 1.25 0 1 0 2.5 0a1.25 1.25 0 1 0 -2.5 0M144 235.4a1.25 1.25 0 1 0 2.5 0a1.25 1.25 0 1 0 -2.5 0M147 233.5a1.25 1.25 0 1 0 2.5 0a1.25 1.25 0 1 0 -2.5 0M149.9 231.8a1.25 1.25 0 1 0 2.5 0a1.25 1.25 0 1 0 -2.5 0M152.8 230a1.25 1.25 0 1 0 2.5 0a1.25 1.25 0 1 0 -2.5 0M155.4 228.3a1.25 1.25 0 1 0 2.5 0a1.25 1.25 0 1 0 -2.5 0" fill="#5a84c2"/>
<path d="M117.8 249.4L118.3 249.2L119.1 248.8L119.9 248.4L120.9 248.1L121.8 247.9L122.7 247.9L123.7 248L124.7 248.2L125.8 248.4L126.8 248.6L127.9 248.8L129 249.1L130.2 249.3L131.3 249.5L132.3 249.6L133.1 249.6L133.9 249.6L134.5 249.5L135.3 249.3" fill="none" stroke="#80a9d6" stroke-width="2.2" stroke-linejoin="round" stroke-linecap="round"/>
<path d="M135.3 249.3L136.3 248.9L137.5 248.3L138.9 247.6L140.5 246.7L142 245.8L143.5 245L144.9 244.1L146.4 243.2L147.9 242.4L149.3 241.5L150.7 240.6L152 239.8L153.5 238.9L154.8 238L156 237.3L156.8 236.8" fill="none" stroke="#80a9d6" stroke-width="1.1" stroke-linejoin="round" stroke-linecap="round"/>
<path d="M116.7 249.4a1.1 1.1 0 1 0 2.2 0a1.1 1.1 0 1 0 -2.2 0M118 248.8a1.1 1.1 0 1 0 2.2 0a1.1 1.1 0 1 0 -2.2 0M119.8 248.1a1.1 1.1 0 1 0 2.2 0a1.1 1.1 0 1 0 -2.2 0M121.6 247.9a1.1 1.1 0 1 0 2.2 0a1.1 1.1 0 1 0 -2.2 0M123.6 248.2a1.1 1.1 0 1 0 2.2 0a1.1 1.1 0 1 0 -2.2 0M125.7 248.6a1.1 1.1 0 1 0 2.2 0a1.1 1.1 0 1 0 -2.2 0M127.9 249.1a1.1 1.1 0 1 0 2.2 0a1.1 1.1 0 1 0 -2.2 0M130.2 249.5a1.1 1.1 0 1 0 2.2 0a1.1 1.1 0 1 0 -2.2 0M132 249.6a1.1 1.1 0 1 0 2.2 0a1.1 1.1 0 1 0 -2.2 0M133.4 249.5a1.1 1.1 0 1 0 2.2 0a1.1 1.1 0 1 0 -2.2 0M135.1 248.9a1.25 1.25 0 1 0 2.5 0a1.25 1.25 0 1 0 -2.5 0M137.7 247.6a1.25 1.25 0 1 0 2.5 0a1.25 1.25 0 1 0 -2.5 0M140.7 245.8a1.25 1.25 0 1 0 2.5 0a1.25 1.25 0 1 0 -2.5 0M143.7 244.1a1.25 1.25 0 1 0 2.5 0a1.25 1.25 0 1 0 -2.5 0M146.6 242.4a1.25 1.25 0 1 0 2.5 0a1.25 1.25 0 1 0 -2.5 0M149.4 240.6a1.25 1.25 0 1 0 2.5 0a1.25 1.25 0 1 0 -2.5 0M152.2 238.9a1.25 1.25 0 1 0 2.5 0a1.25 1.25 0 1 0 -2.5 0M154.7 237.3a1.25 1.25 0 1 0 2.5 0a1.25 1.25 0 1 0 -2.5 0" fill="#80a9d6"/>
<path d="M117.8 258L118.3 257.8L119.1 257.4L119.9 257L120.9 256.7L121.8 256.5L122.7 256.5L123.7 256.6L124.7 256.8L125.8 257L126.8 257.2L127.9 257.4L129 257.7L130.2 257.9L131.3 258.1L132.3 258.2L133.1 258.2L133.9 258.2L134.5 258.1L135.3 257.8" fill="none" stroke="#a8c8e6" stroke-width="2.2" stroke-linejoin="round" stroke-linecap="round"/>
<path d="M135.3 257.8L136.3 257.5L137.5 257L138.9 256.3L140.5 255.6L142 254.8L143.5 254L144.9 253.3L146.4 252.5L147.9 251.8L149.3 251L150.7 250.3L152 249.5L153.5 248.7L154.8 248L156 247.4L156.8 246.9" fill="none" stroke="#a8c8e6" stroke-width="1.1" stroke-linejoin="round" stroke-linecap="round"/>
<path d="M116.7 258a1.1 1.1 0 1 0 2.2 0a1.1 1.1 0 1 0 -2.2 0M118 257.4a1.1 1.1 0 1 0 2.2 0a1.1 1.1 0 1 0 -2.2 0M119.8 256.7a1.1 1.1 0 1 0 2.2 0a1.1 1.1 0 1 0 -2.2 0M121.6 256.5a1.1 1.1 0 1 0 2.2 0a1.1 1.1 0 1 0 -2.2 0M123.6 256.8a1.1 1.1 0 1 0 2.2 0a1.1 1.1 0 1 0 -2.2 0M125.7 257.2a1.1 1.1 0 1 0 2.2 0a1.1 1.1 0 1 0 -2.2 0M127.9 257.7a1.1 1.1 0 1 0 2.2 0a1.1 1.1 0 1 0 -2.2 0M130.2 258.1a1.1 1.1 0 1 0 2.2 0a1.1 1.1 0 1 0 -2.2 0M132 258.2a1.1 1.1 0 1 0 2.2 0a1.1 1.1 0 1 0 -2.2 0M133.4 258.1a1.1 1.1 0 1 0 2.2 0a1.1 1.1 0 1 0 -2.2 0M135.1 257.5a1.25 1.25 0 1 0 2.5 0a1.25 1.25 0 1 0 -2.5 0M137.7 256.3a1.25 1.25 0 1 0 2.5 0a1.25 1.25 0 1 0 -2.5 0M140.7 254.8a1.25 1.25 0 1 0 2.5 0a1.25 1.25 0 1 0 -2.5 0M143.7 253.3a1.25 1.25 0 1 0 2.5 0a1.25 1.25 0 1 0 -2.5 0M146.6 251.8a1.25 1.25 0 1 0 2.5 0a1.25 1.25 0 1 0 -2.5 0M149.4 250.3a1.25 1.25 0 1 0 2.5 0a1.25 1.25 0 1 0 -2.5 0M152.2 248.7a1.25 1.25 0 1 0 2.5 0a1.25 1.25 0 1 0 -2.5 0M154.7 247.4a1.25 1.25 0 1 0 2.5 0a1.25 1.25 0 1 0 -2.5 0" fill="#a8c8e6"/>
<path d="M117.8 266.4L118.3 266.2L119.1 265.8L119.9 265.4L120.9 265.1L121.8 264.9L122.7 264.9L123.7 265L124.7 265.2L125.8 265.4L126.8 265.6L127.9 265.8L129 266.1L130.2 266.3L131.3 266.5L132.3 266.6L133.1 266.6L133.9 266.6L134.5 266.4L135.3 266.2" fill="none" stroke="#c8dcef" stroke-width="2.2" stroke-linejoin="round" stroke-linecap="round"/>
<path d="M135.3 266.2L136.3 265.9L137.5 265.4L138.9 264.8L140.5 264.2L142 263.4L143.5 262.8L144.9 262.1L146.4 261.4L147.9 260.7L149.3 260L150.7 259.3L152 258.7L153.5 258L154.8 257.3L156 256.7L156.8 256.3" fill="none" stroke="#c8dcef" stroke-width="1.1" stroke-linejoin="round" stroke-linecap="round"/>
<path d="M116.7 266.4a1.1 1.1 0 1 0 2.2 0a1.1 1.1 0 1 0 -2.2 0M118 265.8a1.1 1.1 0 1 0 2.2 0a1.1 1.1 0 1 0 -2.2 0M119.8 265.1a1.1 1.1 0 1 0 2.2 0a1.1 1.1 0 1 0 -2.2 0M121.6 264.9a1.1 1.1 0 1 0 2.2 0a1.1 1.1 0 1 0 -2.2 0M123.6 265.2a1.1 1.1 0 1 0 2.2 0a1.1 1.1 0 1 0 -2.2 0M125.7 265.6a1.1 1.1 0 1 0 2.2 0a1.1 1.1 0 1 0 -2.2 0M127.9 266.1a1.1 1.1 0 1 0 2.2 0a1.1 1.1 0 1 0 -2.2 0M130.2 266.5a1.1 1.1 0 1 0 2.2 0a1.1 1.1 0 1 0 -2.2 0M132 266.6a1.1 1.1 0 1 0 2.2 0a1.1 1.1 0 1 0 -2.2 0M133.4 266.4a1.1 1.1 0 1 0 2.2 0a1.1 1.1 0 1 0 -2.2 0M135.1 265.9a1.25 1.25 0 1 0 2.5 0a1.25 1.25 0 1 0 -2.5 0M137.7 264.8a1.25 1.25 0 1 0 2.5 0a1.25 1.25 0 1 0 -2.5 0M140.7 263.4a1.25 1.25 0 1 0 2.5 0a1.25 1.25 0 1 0 -2.5 0M143.7 262.1a1.25 1.25 0 1 0 2.5 0a1.25 1.25 0 1 0 -2.5 0M146.6 260.7a1.25 1.25 0 1 0 2.5 0a1.25 1.25 0 1 0 -2.5 0M149.4 259.3a1.25 1.25 0 1 0 2.5 0a1.25 1.25 0 1 0 -2.5 0M152.2 258a1.25 1.25 0 1 0 2.5 0a1.25 1.25 0 1 0 -2.5 0M154.7 256.7a1.25 1.25 0 1 0 2.5 0a1.25 1.25 0 1 0 -2.5 0" fill="#c8dcef"/>
<path d="M117.8 274.9L118.3 274.7L119.1 274.3L119.9 273.9L120.9 273.6L121.8 273.4L122.7 273.4L123.7 273.5L124.7 273.7L125.8 273.9L126.8 274.1L127.9 274.3L129 274.6L130.2 274.8L131.3 275L132.3 275.1L133.1 275.1L133.9 275.1L134.5 274.9L135.3 274.7" fill="none" stroke="#d6d6d6" stroke-width="2.2" stroke-linejoin="round" stroke-linecap="round"/>
<path d="M135.3 274.7L136.3 274.4L137.5 273.9L138.9 273.3L140.5 272.7L142 271.9L143.5 271.3L144.9 270.6L146.4 269.9L147.9 269.2L149.3 268.5L150.7 267.8L152 267.2L153.5 266.5L154.8 265.8L156 265.2L156.8 264.8" fill="none" stroke="#d6d6d6" stroke-width="1.1" stroke-linejoin="round" stroke-linecap="round"/>
<path d="M116.7 274.9a1.1 1.1 0 1 0 2.2 0a1.1 1.1 0 1 0 -2.2 0M118 274.3a1.1 1.1 0 1 0 2.2 0a1.1 1.1 0 1 0 -2.2 0M119.8 273.6a1.1 1.1 0 1 0 2.2 0a1.1 1.1 0 1 0 -2.2 0M121.6 273.4a1.1 1.1 0 1 0 2.2 0a1.1 1.1 0 1 0 -2.2 0M123.6 273.7a1.1 1.1 0 1 0 2.2 0a1.1 1.1 0 1 0 -2.2 0M125.7 274.1a1.1 1.1 0 1 0 2.2 0a1.1 1.1 0 1 0 -2.2 0M127.9 274.6a1.1 1.1 0 1 0 2.2 0a1.1 1.1 0 1 0 -2.2 0M130.2 275a1.1 1.1 0 1 0 2.2 0a1.1 1.1 0 1 0 -2.2 0M132 275.1a1.1 1.1 0 1 0 2.2 0a1.1 1.1 0 1 0 -2.2 0M133.4 274.9a1.1 1.1 0 1 0 2.2 0a1.1 1.1 0 1 0 -2.2 0M135.1 274.4a1.25 1.25 0 1 0 2.5 0a1.25 1.25 0 1 0 -2.5 0M137.7 273.3a1.25 1.25 0 1 0 2.5 0a1.25 1.25 0 1 0 -2.5 0M140.7 271.9a1.25 1.25 0 1 0 2.5 0a1.25 1.25 0 1 0 -2.5 0M143.7 270.6a1.25 1.25 0 1 0 2.5 0a1.25 1.25 0 1 0 -2.5 0M146.6 269.2a1.25 1.25 0 1 0 2.5 0a1.25 1.25 0 1 0 -2.5 0M149.4 267.8a1.25 1.25 0 1 0 2.5 0a1.25 1.25 0 1 0 -2.5 0M152.2 266.5a1.25 1.25 0 1 0 2.5 0a1.25 1.25 0 1 0 -2.5 0M154.7 265.2a1.25 1.25 0 1 0 2.5 0a1.25 1.25 0 1 0 -2.5 0" fill="#d6d6d6"/>
<path d="M117.8 283.6L118.3 283.4L119.1 283L119.9 282.6L120.9 282.3L121.8 282.1L122.7 282.1L123.7 282.2L124.7 282.4L125.8 282.6L126.8 282.8L127.9 283L129 283.3L130.2 283.5L131.3 283.7L132.3 283.8L133.1 283.8L133.9 283.8L134.5 283.6L135.3 283.4" fill="none" stroke="#fde8c2" stroke-width="2.2" stroke-linejoin="round" stroke-linecap="round"/>
<path d="M135.3 283.4L136.3 283.1L137.5 282.6L138.9 282L140.5 281.4L142 280.6L143.5 280L144.9 279.3L146.4 278.6L147.9 277.9L149.3 277.2L150.7 276.5L152 275.9L153.5 275.2L154.8 274.5L156 273.9L156.8 273.5" fill="none" stroke="#fde8c2" stroke-width="1.1" stroke-linejoin="round" stroke-linecap="round"/>
<path d="M116.7 283.6a1.1 1.1 0 1 0 2.2 0a1.1 1.1 0 1 0 -2.2 0M118 283a1.1 1.1 0 1 0 2.2 0a1.1 1.1 0 1 0 -2.2 0M119.8 282.3a1.1 1.1 0 1 0 2.2 0a1.1 1.1 0 1 0 -2.2 0M121.6 282.1a1.1 1.1 0 1 0 2.2 0a1.1 1.1 0 1 0 -2.2 0M123.6 282.4a1.1 1.1 0 1 0 2.2 0a1.1 1.1 0 1 0 -2.2 0M125.7 282.8a1.1 1.1 0 1 0 2.2 0a1.1 1.1 0 1 0 -2.2 0M127.9 283.3a1.1 1.1 0 1 0 2.2 0a1.1 1.1 0 1 0 -2.2 0M130.2 283.7a1.1 1.1 0 1 0 2.2 0a1.1 1.1 0 1 0 -2.2 0M132 283.8a1.1 1.1 0 1 0 2.2 0a1.1 1.1 0 1 0 -2.2 0M133.4 283.6a1.1 1.1 0 1 0 2.2 0a1.1 1.1 0 1 0 -2.2 0M135.1 283.1a1.25 1.25 0 1 0 2.5 0a1.25 1.25 0 1 0 -2.5 0M137.7 282a1.25 1.25 0 1 0 2.5 0a1.25 1.25 0 1 0 -2.5 0M140.7 280.6a1.25 1.25 0 1 0 2.5 0a1.25 1.25 0 1 0 -2.5 0M143.7 279.3a1.25 1.25 0 1 0 2.5 0a1.25 1.25 0 1 0 -2.5 0M146.6 277.9a1.25 1.25 0 1 0 2.5 0a1.25 1.25 0 1 0 -2.5 0M149.4 276.5a1.25 1.25 0 1 0 2.5 0a1.25 1.25 0 1 0 -2.5 0M152.2 275.2a1.25 1.25 0 1 0 2.5 0a1.25 1.25 0 1 0 -2.5 0M154.7 273.9a1.25 1.25 0 1 0 2.5 0a1.25 1.25 0 1 0 -2.5 0" fill="#fde8c2"/>
<path d="M117.8 292.2L118.3 292L119.1 291.6L119.9 291.2L120.9 290.9L121.8 290.7L122.7 290.7L123.7 290.8L124.7 291L125.8 291.2L126.8 291.4L127.9 291.6L129 291.9L130.2 292.1L131.3 292.3L132.3 292.4L133.2 292.4L133.9 292.4L134.6 292.2L135.3 292" fill="none" stroke="#fde0a8" stroke-width="2.2" stroke-linejoin="round" stroke-linecap="round"/>
<path d="M135.3 292L136.3 291.7L137.5 291.3L138.8 290.7L140.3 290L141.7 289.4L143.1 288.7L144.5 288.1L145.9 287.4L147.3 286.8L148.6 286.1L149.9 285.5L151.3 284.8L152.6 284.2L153.9 283.5L155 283L155.8 282.6" fill="none" stroke="#fde0a8" stroke-width="1.1" stroke-linejoin="round" stroke-linecap="round"/>
<path d="M116.7 292.2a1.1 1.1 0 1 0 2.2 0a1.1 1.1 0 1 0 -2.2 0M118 291.6a1.1 1.1 0 1 0 2.2 0a1.1 1.1 0 1 0 -2.2 0M119.8 290.9a1.1 1.1 0 1 0 2.2 0a1.1 1.1 0 1 0 -2.2 0M121.6 290.7a1.1 1.1 0 1 0 2.2 0a1.1 1.1 0 1 0 -2.2 0M123.6 291a1.1 1.1 0 1 0 2.2 0a1.1 1.1 0 1 0 -2.2 0M125.7 291.4a1.1 1.1 0 1 0 2.2 0a1.1 1.1 0 1 0 -2.2 0M127.9 291.9a1.1 1.1 0 1 0 2.2 0a1.1 1.1 0 1 0 -2.2 0M130.2 292.3a1.1 1.1 0 1 0 2.2 0a1.1 1.1 0 1 0 -2.2 0M132.1 292.4a1.1 1.1 0 1 0 2.2 0a1.1 1.1 0 1 0 -2.2 0M133.5 292.2a1.1 1.1 0 1 0 2.2 0a1.1 1.1 0 1 0 -2.2 0M135.1 291.7a1.25 1.25 0 1 0 2.5 0a1.25 1.25 0 1 0 -2.5 0M137.6 290.7a1.25 1.25 0 1 0 2.5 0a1.25 1.25 0 1 0 -2.5 0M140.5 289.4a1.25 1.25 0 1 0 2.5 0a1.25 1.25 0 1 0 -2.5 0M143.3 288.1a1.25 1.25 0 1 0 2.5 0a1.25 1.25 0 1 0 -2.5 0M146 286.8a1.25 1.25 0 1 0 2.5 0a1.25 1.25 0 1 0 -2.5 0M148.7 285.5a1.25 1.25 0 1 0 2.5 0a1.25 1.25 0 1 0 -2.5 0M151.4 284.2a1.25 1.25 0 1 0 2.5 0a1.25 1.25 0 1 0 -2.5 0M153.8 283a1.25 1.25 0 1 0 2.5 0a1.25 1.25 0 1 0 -2.5 0" fill="#fde0a8"/>
<path d="M117.8 300.8L118.3 300.6L119.1 300.2L119.9 299.8L120.9 299.5L121.8 299.3L122.7 299.3L123.7 299.4L124.7 299.6L125.8 299.8L126.8 300L127.9 300.2L129 300.5L130.2 300.7L131.3 300.9L132.3 301L133.2 301L133.9 300.9L134.6 300.8L135.4 300.6" fill="none" stroke="#fcd38c" stroke-width="2.2" stroke-linejoin="round" stroke-linecap="round"/>
<path d="M135.4 300.6L136.3 300.3L137.5 299.9L138.8 299.3L140.2 298.7L141.6 298.1L142.9 297.5L144.3 296.9L145.7 296.3L147 295.6L148.3 295L149.6 294.4L150.9 293.8L152.2 293.2L153.5 292.6L154.5 292.1L155.3 291.7" fill="none" stroke="#fcd38c" stroke-width="1.1" stroke-linejoin="round" stroke-linecap="round"/>
<path d="M116.7 300.8a1.1 1.1 0 1 0 2.2 0a1.1 1.1 0 1 0 -2.2 0M118 300.2a1.1 1.1 0 1 0 2.2 0a1.1 1.1 0 1 0 -2.2 0M119.8 299.5a1.1 1.1 0 1 0 2.2 0a1.1 1.1 0 1 0 -2.2 0M121.6 299.3a1.1 1.1 0 1 0 2.2 0a1.1 1.1 0 1 0 -2.2 0M123.6 299.6a1.1 1.1 0 1 0 2.2 0a1.1 1.1 0 1 0 -2.2 0M125.7 300a1.1 1.1 0 1 0 2.2 0a1.1 1.1 0 1 0 -2.2 0M127.9 300.5a1.1 1.1 0 1 0 2.2 0a1.1 1.1 0 1 0 -2.2 0M130.2 300.9a1.1 1.1 0 1 0 2.2 0a1.1 1.1 0 1 0 -2.2 0M132.1 301a1.1 1.1 0 1 0 2.2 0a1.1 1.1 0 1 0 -2.2 0M133.5 300.8a1.1 1.1 0 1 0 2.2 0a1.1 1.1 0 1 0 -2.2 0M135.1 300.3a1.25 1.25 0 1 0 2.5 0a1.25 1.25 0 1 0 -2.5 0M137.5 299.3a1.25 1.25 0 1 0 2.5 0a1.25 1.25 0 1 0 -2.5 0M140.3 298.1a1.25 1.25 0 1 0 2.5 0a1.25 1.25 0 1 0 -2.5 0M143 296.9a1.25 1.25 0 1 0 2.5 0a1.25 1.25 0 1 0 -2.5 0M145.8 295.6a1.25 1.25 0 1 0 2.5 0a1.25 1.25 0 1 0 -2.5 0M148.3 294.4a1.25 1.25 0 1 0 2.5 0a1.25 1.25 0 1 0 -2.5 0M151 293.2a1.25 1.25 0 1 0 2.5 0a1.25 1.25 0 1 0 -2.5 0M153.3 292.1a1.25 1.25 0 1 0 2.5 0a1.25 1.25 0 1 0 -2.5 0" fill="#fcd38c"/>
<path d="M117.8 309.6L118.3 309.4L119.1 309L119.9 308.6L120.9 308.3L121.8 308.1L122.7 308.1L123.7 308.2L124.7 308.4L125.8 308.6L126.8 308.8L127.9 309L129 309.3L130.2 309.5L131.3 309.7L132.3 309.8L133.2 309.8L133.9 309.7L134.6 309.6L135.3 309.4" fill="none" stroke="#ead03a" stroke-width="2.2" stroke-linejoin="round" stroke-linecap="round"/>
<path d="M135.3 309.4L136.3 309.1L137.5 308.7L138.8 308.2L140.3 307.7L141.7 307.1L143.1 306.6L144.5 306.1L145.9 305.5L147.3 305L148.6 304.4L149.9 303.9L151.3 303.4L152.6 302.8L153.9 302.3L155 301.8L155.8 301.5" fill="none" stroke="#ead03a" stroke-width="1.1" stroke-linejoin="round" stroke-linecap="round"/>
<path d="M116.7 309.6a1.1 1.1 0 1 0 2.2 0a1.1 1.1 0 1 0 -2.2 0M118 309a1.1 1.1 0 1 0 2.2 0a1.1 1.1 0 1 0 -2.2 0M119.8 308.3a1.1 1.1 0 1 0 2.2 0a1.1 1.1 0 1 0 -2.2 0M121.6 308.1a1.1 1.1 0 1 0 2.2 0a1.1 1.1 0 1 0 -2.2 0M123.6 308.4a1.1 1.1 0 1 0 2.2 0a1.1 1.1 0 1 0 -2.2 0M125.7 308.8a1.1 1.1 0 1 0 2.2 0a1.1 1.1 0 1 0 -2.2 0M127.9 309.3a1.1 1.1 0 1 0 2.2 0a1.1 1.1 0 1 0 -2.2 0M130.2 309.7a1.1 1.1 0 1 0 2.2 0a1.1 1.1 0 1 0 -2.2 0M132.1 309.8a1.1 1.1 0 1 0 2.2 0a1.1 1.1 0 1 0 -2.2 0M133.5 309.6a1.1 1.1 0 1 0 2.2 0a1.1 1.1 0 1 0 -2.2 0M135.1 309.1a1.25 1.25 0 1 0 2.5 0a1.25 1.25 0 1 0 -2.5 0M137.6 308.2a1.25 1.25 0 1 0 2.5 0a1.25 1.25 0 1 0 -2.5 0M140.5 307.1a1.25 1.25 0 1 0 2.5 0a1.25 1.25 0 1 0 -2.5 0M143.3 306.1a1.25 1.25 0 1 0 2.5 0a1.25 1.25 0 1 0 -2.5 0M146 305a1.25 1.25 0 1 0 2.5 0a1.25 1.25 0 1 0 -2.5 0M148.7 303.9a1.25 1.25 0 1 0 2.5 0a1.25 1.25 0 1 0 -2.5 0M151.4 302.8a1.25 1.25 0 1 0 2.5 0a1.25 1.25 0 1 0 -2.5 0M153.8 301.8a1.25 1.25 0 1 0 2.5 0a1.25 1.25 0 1 0 -2.5 0" fill="#ead03a"/>
<path d="M117.8 317.4L118.3 317.2L119.1 316.8L119.9 316.4L120.9 316.1L121.8 315.9L122.7 315.9L123.7 316L124.7 316.2L125.8 316.4L126.8 316.6L127.9 316.8L129 317.1L130.2 317.3L131.3 317.5L132.3 317.6L133.2 317.6L133.9 317.5L134.6 317.3L135.4 317.1" fill="none" stroke="#f6ac02" stroke-width="2.4" stroke-linejoin="round" stroke-linecap="round"/>
<path d="M135.4 317.1L136.3 316.9L137.4 316.6L138.7 316.2L140.1 315.8L141.4 315.4L142.8 315L144.1 314.6L145.4 314.2L146.7 313.8L148 313.4L149.2 313L150.5 312.6L151.8 312.2L153 311.8L154.1 311.4L154.8 311.2" fill="none" stroke="#f6ac02" stroke-width="1.1" stroke-linejoin="round" stroke-linecap="round"/>
<path d="M116.7 317.4a1.1 1.1 0 1 0 2.2 0a1.1 1.1 0 1 0 -2.2 0M118 316.8a1.1 1.1 0 1 0 2.2 0a1.1 1.1 0 1 0 -2.2 0M119.8 316.1a1.1 1.1 0 1 0 2.2 0a1.1 1.1 0 1 0 -2.2 0M121.6 315.9a1.1 1.1 0 1 0 2.2 0a1.1 1.1 0 1 0 -2.2 0M123.6 316.2a1.1 1.1 0 1 0 2.2 0a1.1 1.1 0 1 0 -2.2 0M125.7 316.6a1.1 1.1 0 1 0 2.2 0a1.1 1.1 0 1 0 -2.2 0M127.9 317.1a1.1 1.1 0 1 0 2.2 0a1.1 1.1 0 1 0 -2.2 0M130.2 317.5a1.1 1.1 0 1 0 2.2 0a1.1 1.1 0 1 0 -2.2 0M132.1 317.6a1.1 1.1 0 1 0 2.2 0a1.1 1.1 0 1 0 -2.2 0M133.5 317.3a1.1 1.1 0 1 0 2.2 0a1.1 1.1 0 1 0 -2.2 0M135.1 316.9a1.25 1.25 0 1 0 2.5 0a1.25 1.25 0 1 0 -2.5 0M137.5 316.2a1.25 1.25 0 1 0 2.5 0a1.25 1.25 0 1 0 -2.5 0M140.2 315.4a1.25 1.25 0 1 0 2.5 0a1.25 1.25 0 1 0 -2.5 0M142.8 314.6a1.25 1.25 0 1 0 2.5 0a1.25 1.25 0 1 0 -2.5 0M145.5 313.8a1.25 1.25 0 1 0 2.5 0a1.25 1.25 0 1 0 -2.5 0M148 313a1.25 1.25 0 1 0 2.5 0a1.25 1.25 0 1 0 -2.5 0M150.6 312.2a1.25 1.25 0 1 0 2.5 0a1.25 1.25 0 1 0 -2.5 0M152.8 311.4a1.25 1.25 0 1 0 2.5 0a1.25 1.25 0 1 0 -2.5 0" fill="#f6ac02"/>
</g>
<line x1="114.4" y1="196.4" x2="114.4" y2="318.6" stroke="#222" stroke-width="0.8"/>
<line x1="114" y1="318.6" x2="177.6" y2="318.6" stroke="#333" stroke-width="0.8"/>
<line x1="114.4" y1="318.6" x2="114.4" y2="316.6" stroke="#333" stroke-width="0.7"/>
<text x="114.4" y="328.4" font-size="7.9" text-anchor="middle" stroke="#111" stroke-width="0.2">0</text>
<line x1="124.9" y1="318.6" x2="124.9" y2="317.4" stroke="#333" stroke-width="0.7"/>
<line x1="135.4" y1="318.6" x2="135.4" y2="316.6" stroke="#333" stroke-width="0.7"/>
<text x="135.4" y="328.4" font-size="7.9" text-anchor="middle" stroke="#111" stroke-width="0.2">30</text>
<line x1="145.9" y1="318.6" x2="145.9" y2="317.4" stroke="#333" stroke-width="0.7"/>
<line x1="156.4" y1="318.6" x2="156.4" y2="316.6" stroke="#333" stroke-width="0.7"/>
<text x="156.4" y="328.4" font-size="7.9" text-anchor="middle" stroke="#111" stroke-width="0.2">60</text>
<line x1="166.9" y1="318.6" x2="166.9" y2="317.4" stroke="#333" stroke-width="0.7"/>
<line x1="177.4" y1="318.6" x2="177.4" y2="316.6" stroke="#333" stroke-width="0.7"/>
<text x="177.4" y="328.4" font-size="7.9" text-anchor="middle" stroke="#111" stroke-width="0.2">90</text>
<text x="116.48" y="206.7" font-size="8.35" textLength="51.03" lengthAdjust="spacingAndGlyphs" stroke="#111" stroke-width="0.2">4% L6CO@S</text>
<text x="131.19" y="341.5" font-size="8.3" textLength="31.23" lengthAdjust="spacingAndGlyphs" stroke="#111" stroke-width="0.2">Z′ (ohm)</text>
<text x="109.6" y="276.72" font-size="8.3" textLength="38.03" lengthAdjust="spacingAndGlyphs" transform="rotate(-90 109.6 276.72)" stroke="#111" stroke-width="0.2">−Z″ (ohm)</text>
<rect x="168" y="241.9" width="6.2" height="2.93" fill="#1f3d6e" stroke="none" stroke-width="0.6"/>
<rect x="168" y="244.68" width="6.2" height="2.93" fill="#2e5c9e" stroke="none" stroke-width="0.6"/>
<rect x="168" y="247.47" width="6.2" height="2.93" fill="#5a84c2" stroke="none" stroke-width="0.6"/>
<rect x="168" y="250.25" width="6.2" height="2.93" fill="#80a9d6" stroke="none" stroke-width="0.6"/>
<rect x="168" y="253.03" width="6.2" height="2.93" fill="#a8c8e6" stroke="none" stroke-width="0.6"/>
<rect x="168" y="255.82" width="6.2" height="2.93" fill="#c8dcef" stroke="none" stroke-width="0.6"/>
<rect x="168" y="258.6" width="6.2" height="2.93" fill="#d6d6d6" stroke="none" stroke-width="0.6"/>
<rect x="168" y="261.38" width="6.2" height="2.93" fill="#fde8c2" stroke="none" stroke-width="0.6"/>
<rect x="168" y="264.17" width="6.2" height="2.93" fill="#fde0a8" stroke="none" stroke-width="0.6"/>
<rect x="168" y="266.95" width="6.2" height="2.93" fill="#fcd38c" stroke="none" stroke-width="0.6"/>
<rect x="168" y="269.73" width="6.2" height="2.93" fill="#ead03a" stroke="none" stroke-width="0.6"/>
<rect x="168" y="272.52" width="6.2" height="2.93" fill="#f6ac02" stroke="none" stroke-width="0.6"/>
<rect x="168" y="241.9" width="6.2" height="33.4" fill="none" stroke="#8a8a8a" stroke-width="0.5"/>
<text x="162.39" y="237.9" font-size="8.3" textLength="20.03" lengthAdjust="spacingAndGlyphs" stroke="#111" stroke-width="0.2">4.3 V</text>
<text x="165.39" y="286.3" font-size="8.2" textLength="13.02" lengthAdjust="spacingAndGlyphs" stroke="#111" stroke-width="0.2">3 V</text>
<clipPath id="sem196"><rect x="232" y="196.1" width="110" height="60.5"/></clipPath>
<g clip-path="url(#sem196)">
<g filter="url(#semtexA)">
<rect x="232" y="196.1" width="110" height="13.7" fill="#b6b6b6" stroke="none" stroke-width="0.6"/>
<rect x="232" y="209.8" width="110" height="21.7" fill="#4e4e4e" stroke="none" stroke-width="0.6"/>
<path d="M232 227 L238 224 L244 226 L250 221 L256 219.5 L262 222 L268 223.5 L274 219 L283 214.5 L290 219 L296 223 L304 224.5 L312 222.5 L318 225 L324 222 L331 224.5 L336 223 L342 224 L342 231.5 L232 231.5 Z" fill="#666"/>
</g>
<rect x="232" y="231.5" width="110" height="3.1" fill="#232323" stroke="none" stroke-width="0.6"/>
<rect x="232" y="234.6" width="110" height="6.7" fill="#575757" stroke="none" stroke-width="0.6"/>
<rect x="232" y="241.3" width="110" height="15.3" fill="#3b3b3b" stroke="none" stroke-width="0.6"/>
<rect x="232" y="196.1" width="110" height="6.17" fill="#d0d0d0" opacity="0.35"/>
<path d="M232 241.4 L342 241.4" stroke="#7c7c7c" stroke-width="0.8"/>
<ellipse cx="237.5" cy="247" rx="2.5" ry="2" fill="#7a7a7a" filter="url(#bl2)"/>
<path d="M280 256.6 L322 244.5 L335 244.5 L296 256.6 Z" fill="#545454" opacity="0.7" filter="url(#bl3)"/>
<line x1="239.8" y1="250.4" x2="260.2" y2="250.4" stroke="#e4e4e4" stroke-width="1.8"/>
<text x="299.05" y="253.3" font-size="9.1" textLength="40.61" lengthAdjust="spacingAndGlyphs" fill="#ffffff" stroke="#ffffff" stroke-width="0.2">4% L6CO</text>
</g>
<text x="300.38" y="216.4" font-size="8.4" textLength="16.94" lengthAdjust="spacingAndGlyphs" fill="#ffffff" stroke="#ffffff" stroke-width="0.2">Gap</text>
<path d="M299.7 219.4 L295.2 226.6" stroke="#fff" stroke-width="1.2"/>
<path d="M292.6 230.6 L292.9 224.9 L297.6 227.8 Z" fill="#fff"/>
<clipPath id="sem260"><rect x="232" y="260.6" width="110" height="60.1"/></clipPath>
<g clip-path="url(#sem260)">
<g filter="url(#semtexB)">
<rect x="232" y="260.6" width="110" height="15.4" fill="#b6b6b6" stroke="none" stroke-width="0.6"/>
<rect x="232" y="276" width="110" height="19.4" fill="#4c4c4c" stroke="none" stroke-width="0.6"/>
</g>
<rect x="232" y="295.4" width="110" height="6.5" fill="#454545" stroke="none" stroke-width="0.6"/>
<rect x="232" y="301.9" width="110" height="18.8" fill="#383838" stroke="none" stroke-width="0.6"/>
<rect x="232" y="260.6" width="110" height="6.93" fill="#d0d0d0" opacity="0.35"/>
<path d="M232 295.5 L342 295.5" stroke="#606060" stroke-width="0.7"/>
<path d="M232 301.9 L342 301.9" stroke="#858585" stroke-width="0.8"/>
<path d="M262 320.7 L300 303 L306 303 L272 320.7 Z" fill="#4c4c4c" opacity="0.7" filter="url(#bl3)"/>
<line x1="239.8" y1="314" x2="260.2" y2="314" stroke="#e4e4e4" stroke-width="1.8"/>
<text x="283.65" y="316.9" font-size="9.1" textLength="55.91" lengthAdjust="spacingAndGlyphs" fill="#ffffff" stroke="#ffffff" stroke-width="0.2">4% L6CO@S</text>
</g>
<rect x="406.2" y="194.1" width="46.7" height="10.8" fill="#e2e2e2" stroke="none" stroke-width="0.6"/>
<text x="421.8" y="202.6" font-size="8" textLength="16.5" lengthAdjust="spacingAndGlyphs" stroke="#111" stroke-width="0.2">20%</text>
<rect x="456.8" y="194.1" width="46.7" height="10.8" fill="#d4d4d4" stroke="none" stroke-width="0.6"/>
<text x="472.4" y="202.6" font-size="8" textLength="16.5" lengthAdjust="spacingAndGlyphs" stroke="#111" stroke-width="0.2">40%</text>
<rect x="507.3" y="194.1" width="46.7" height="10.8" fill="#c9c9c9" stroke="none" stroke-width="0.6"/>
<text x="522.9" y="202.6" font-size="8" textLength="16.5" lengthAdjust="spacingAndGlyphs" stroke="#111" stroke-width="0.2">60%</text>
<rect x="557.9" y="194.1" width="46.7" height="10.8" fill="#bdbdbd" stroke="none" stroke-width="0.6"/>
<text x="573.5" y="202.6" font-size="8" textLength="16.5" lengthAdjust="spacingAndGlyphs" stroke="#111" stroke-width="0.2">80%</text>
<rect x="608.8" y="194.1" width="46.7" height="10.8" fill="#b4b4b4" stroke="none" stroke-width="0.6"/>
<text x="622.1" y="202.6" font-size="8" textLength="21.1" lengthAdjust="spacingAndGlyphs" stroke="#111" stroke-width="0.2">100%</text>
<text x="385.3" y="202.7" font-size="8" textLength="18" lengthAdjust="spacingAndGlyphs" stroke="#111" stroke-width="0.2">SOC</text>
<rect x="390.9" y="207.4" width="11.7" height="56.8" fill="#fbdca2" stroke="none" stroke-width="0.6"/>
<rect x="391" y="267.3" width="11.4" height="56.6" fill="#c6d9ee" stroke="none" stroke-width="0.6"/>
<text x="400.3" y="246.08" font-size="7.7" textLength="20.07" lengthAdjust="spacingAndGlyphs" transform="rotate(-90 400.3 246.08)" stroke="#111" stroke-width="0.2">L6CO</text>
<text x="400.3" y="312.28" font-size="7.7" textLength="33.17" lengthAdjust="spacingAndGlyphs" transform="rotate(-90 400.3 312.28)" stroke="#111" stroke-width="0.2">L6CO@S</text>
<g clip-path="url(#cf00)">
<rect x="406.2" y="207.3" width="46.7" height="56.5" fill="#96f800" stroke="none" stroke-width="0.6"/>
<g filter="url(#bl1)">
<rect x="410" y="220.3" width="39.1" height="42.9" fill="#24f600" stroke="none" stroke-width="0.6"/>
<rect x="412.6" y="205.3" width="5" height="12.3" fill="#30f00a" stroke="none" stroke-width="0.6"/>
<rect x="440.2" y="205.3" width="5.2" height="12.3" fill="#18f0a8" stroke="none" stroke-width="0.6"/>
</g>
<path d="M446.7 258.5a1.8 1.8 0 1 0 3.6 0a1.8 1.8 0 1 0 -3.6 0" fill="#70ff80" filter="url(#bl2)"/>
<path d="M447.4 258.5a1.15 1.15 0 1 0 2.3 0a1.15 1.15 0 1 0 -2.3 0" fill="#08f4f0" filter="url(#bl2)"/>
</g>
<g clip-path="url(#cf01)">
<rect x="406.2" y="267.2" width="46.7" height="56.5" fill="#a8f800" stroke="none" stroke-width="0.6"/>
<g filter="url(#bl1)">
<rect x="412.2" y="275.7" width="35.2" height="43" fill="#3cf600" stroke="none" stroke-width="0.6"/>
<rect x="407.7" y="271.2" width="4" height="40" fill="#c0f800" stroke="none" stroke-width="0.6"/>
<rect x="448.4" y="273.2" width="3.5" height="40" fill="#b8f800" stroke="none" stroke-width="0.6"/>
<rect x="409.2" y="317.2" width="40.7" height="6" fill="#70f400" stroke="none" stroke-width="0.6" opacity="0.8"/>
<rect x="413" y="265.2" width="4.8" height="8.5" fill="#70f000" stroke="none" stroke-width="0.6"/>
<rect x="440.7" y="265.2" width="4.8" height="8.5" fill="#30f0a0" stroke="none" stroke-width="0.6"/>
<ellipse cx="428.7" cy="271.4" rx="5.6" ry="3" fill="#e0f800"/>
</g>
<path d="M437.4 295.4a1.8 1.8 0 1 0 3.6 0a1.8 1.8 0 1 0 -3.6 0" fill="#70ff80" filter="url(#bl2)"/>
<path d="M438.1 295.4a1.15 1.15 0 1 0 2.3 0a1.15 1.15 0 1 0 -2.3 0" fill="#08f4f0" filter="url(#bl2)"/>
<g filter="url(#bl2)">
<rect x="405.2" y="266.2" width="2.3" height="58.5" fill="#2a64ff" stroke="none" stroke-width="0.6"/>
<rect x="405.2" y="266.2" width="48.7" height="2.2" fill="#2a64ff" stroke="none" stroke-width="0.6"/>
</g>
<rect x="407.3" y="268.2" width="0.6" height="56.5" fill="#20d0ff" stroke="none" stroke-width="0.6" opacity="0.6"/>
</g>
<g clip-path="url(#cf10)">
<rect x="456.8" y="207.3" width="46.7" height="56.5" fill="#96f800" stroke="none" stroke-width="0.6"/>
<g filter="url(#bl1)">
<rect x="460.6" y="220.3" width="39.1" height="42.9" fill="#24f600" stroke="none" stroke-width="0.6"/>
<rect x="463.2" y="205.3" width="5" height="12.3" fill="#30f00a" stroke="none" stroke-width="0.6"/>
<rect x="490.8" y="205.3" width="5.2" height="12.3" fill="#28f080" stroke="none" stroke-width="0.6"/>
</g>
<path d="M465.6 228.8a1.7 1.7 0 1 0 3.4 0a1.7 1.7 0 1 0 -3.4 0" fill="#70ff80" filter="url(#bl2)"/>
<path d="M466.2 228.8a1.05 1.05 0 1 0 2.1 0a1.05 1.05 0 1 0 -2.1 0" fill="#08f4f0" filter="url(#bl2)"/>
<path d="M496.1 256.1a1.7 1.7 0 1 0 3.4 0a1.7 1.7 0 1 0 -3.4 0" fill="#70ff80" filter="url(#bl2)"/>
<path d="M496.8 256.1a1.05 1.05 0 1 0 2.1 0a1.05 1.05 0 1 0 -2.1 0" fill="#08f4f0" filter="url(#bl2)"/>
</g>
<g clip-path="url(#cf11)">
<rect x="456.8" y="267.2" width="46.7" height="56.5" fill="#a8f800" stroke="none" stroke-width="0.6"/>
<g filter="url(#bl1)">
<rect x="462.8" y="275.7" width="35.2" height="43" fill="#3cf600" stroke="none" stroke-width="0.6"/>
<rect x="458.3" y="271.2" width="4" height="40" fill="#c0f800" stroke="none" stroke-width="0.6"/>
<rect x="499" y="273.2" width="3.5" height="40" fill="#b8f800" stroke="none" stroke-width="0.6"/>
<rect x="459.8" y="317.2" width="40.7" height="6" fill="#70f400" stroke="none" stroke-width="0.6" opacity="0.8"/>
<rect x="463.6" y="265.2" width="4.8" height="8.5" fill="#70f000" stroke="none" stroke-width="0.6"/>
<rect x="491.3" y="265.2" width="4.8" height="8.5" fill="#30f0a0" stroke="none" stroke-width="0.6"/>
<ellipse cx="479.3" cy="271.4" rx="6.8" ry="3.2" fill="#e0f800"/>
<ellipse cx="479.3" cy="271.4" rx="3.6" ry="2.24" fill="#f4f000"/>
</g>
<path d="M486.5 295.2a1.8 1.8 0 1 0 3.6 0a1.8 1.8 0 1 0 -3.6 0" fill="#70ff80" filter="url(#bl2)"/>
<path d="M487.2 295.2a1.15 1.15 0 1 0 2.3 0a1.15 1.15 0 1 0 -2.3 0" fill="#08f4f0" filter="url(#bl2)"/>
<g filter="url(#bl2)">
<rect x="455.8" y="266.2" width="2.3" height="58.5" fill="#2a64ff" stroke="none" stroke-width="0.6"/>
<rect x="455.8" y="266.2" width="48.7" height="2.2" fill="#2a64ff" stroke="none" stroke-width="0.6"/>
</g>
<rect x="457.9" y="268.2" width="0.6" height="56.5" fill="#20d0ff" stroke="none" stroke-width="0.6" opacity="0.6"/>
</g>
<g clip-path="url(#cf20)">
<rect x="507.3" y="207.3" width="46.7" height="56.5" fill="#96f800" stroke="none" stroke-width="0.6"/>
<g filter="url(#bl1)">
<rect x="511.1" y="220.3" width="39.1" height="42.9" fill="#24f600" stroke="none" stroke-width="0.6"/>
<rect x="513.7" y="205.3" width="5" height="12.3" fill="#30f00a" stroke="none" stroke-width="0.6"/>
<rect x="541.3" y="205.3" width="5.2" height="12.3" fill="#28f080" stroke="none" stroke-width="0.6"/>
</g>
<path d="M522.6 227.6a1.75 1.75 0 1 0 3.5 0a1.75 1.75 0 1 0 -3.5 0" fill="#70ff80" filter="url(#bl2)"/>
<path d="M523.3 227.6a1.1 1.1 0 1 0 2.2 0a1.1 1.1 0 1 0 -2.2 0" fill="#08f4f0" filter="url(#bl2)"/>
<path d="M528 229.2a1.75 1.75 0 1 0 3.5 0a1.75 1.75 0 1 0 -3.5 0" fill="#70ff80" filter="url(#bl2)"/>
<path d="M528.7 229.2a1.1 1.1 0 1 0 2.2 0a1.1 1.1 0 1 0 -2.2 0" fill="#08f4f0" filter="url(#bl2)"/>
<path d="M509.9 237.4a1.75 1.75 0 1 0 3.5 0a1.75 1.75 0 1 0 -3.5 0" fill="#70ff80" filter="url(#bl2)"/>
<path d="M510.5 237.4a1.1 1.1 0 1 0 2.2 0a1.1 1.1 0 1 0 -2.2 0" fill="#08f4f0" filter="url(#bl2)"/>
<path d="M515.6 238.5a1.75 1.75 0 1 0 3.5 0a1.75 1.75 0 1 0 -3.5 0" fill="#70ff80" filter="url(#bl2)"/>
<path d="M516.3 238.5a1.1 1.1 0 1 0 2.2 0a1.1 1.1 0 1 0 -2.2 0" fill="#08f4f0" filter="url(#bl2)"/>
<path d="M521.5 235a1.75 1.75 0 1 0 3.5 0a1.75 1.75 0 1 0 -3.5 0" fill="#70ff80" filter="url(#bl2)"/>
<path d="M522.2 235a1.1 1.1 0 1 0 2.2 0a1.1 1.1 0 1 0 -2.2 0" fill="#08f4f0" filter="url(#bl2)"/>
<path d="M533.1 236.9a1.75 1.75 0 1 0 3.5 0a1.75 1.75 0 1 0 -3.5 0" fill="#70ff80" filter="url(#bl2)"/>
<path d="M533.8 236.9a1.1 1.1 0 1 0 2.2 0a1.1 1.1 0 1 0 -2.2 0" fill="#08f4f0" filter="url(#bl2)"/>
<path d="M539.8 235a1.75 1.75 0 1 0 3.5 0a1.75 1.75 0 1 0 -3.5 0" fill="#70ff80" filter="url(#bl2)"/>
<path d="M540.4 235a1.1 1.1 0 1 0 2.2 0a1.1 1.1 0 1 0 -2.2 0" fill="#08f4f0" filter="url(#bl2)"/>
<path d="M544.9 237.4a1.75 1.75 0 1 0 3.5 0a1.75 1.75 0 1 0 -3.5 0" fill="#70ff80" filter="url(#bl2)"/>
<path d="M545.5 237.4a1.1 1.1 0 1 0 2.2 0a1.1 1.1 0 1 0 -2.2 0" fill="#08f4f0" filter="url(#bl2)"/>
<path d="M536.6 246.7a1.75 1.75 0 1 0 3.5 0a1.75 1.75 0 1 0 -3.5 0" fill="#70ff80" filter="url(#bl2)"/>
<path d="M537.3 246.7a1.1 1.1 0 1 0 2.2 0a1.1 1.1 0 1 0 -2.2 0" fill="#08f4f0" filter="url(#bl2)"/>
<path d="M526.1 251.4a1.75 1.75 0 1 0 3.5 0a1.75 1.75 0 1 0 -3.5 0" fill="#70ff80" filter="url(#bl2)"/>
<path d="M526.8 251.4a1.1 1.1 0 1 0 2.2 0a1.1 1.1 0 1 0 -2.2 0" fill="#08f4f0" filter="url(#bl2)"/>
<path d="M527.4 251.4a0.47 0.47 0 1 0 0.94 0a0.47 0.47 0 1 0 -0.94 0" fill="#40a8ff" filter="url(#bl2)"/>
<path d="M516.9 252.6a1.75 1.75 0 1 0 3.5 0a1.75 1.75 0 1 0 -3.5 0" fill="#70ff80" filter="url(#bl2)"/>
<path d="M517.5 252.6a1.1 1.1 0 1 0 2.2 0a1.1 1.1 0 1 0 -2.2 0" fill="#08f4f0" filter="url(#bl2)"/>
<path d="M523.9 254.9a1.75 1.75 0 1 0 3.5 0a1.75 1.75 0 1 0 -3.5 0" fill="#70ff80" filter="url(#bl2)"/>
<path d="M524.5 254.9a1.1 1.1 0 1 0 2.2 0a1.1 1.1 0 1 0 -2.2 0" fill="#08f4f0" filter="url(#bl2)"/>
<path d="M511 245.5a1.75 1.75 0 1 0 3.5 0a1.75 1.75 0 1 0 -3.5 0" fill="#70ff80" filter="url(#bl2)"/>
<path d="M511.6 245.5a1.1 1.1 0 1 0 2.2 0a1.1 1.1 0 1 0 -2.2 0" fill="#08f4f0" filter="url(#bl2)"/>
<path d="M513.4 254.9a1.75 1.75 0 1 0 3.5 0a1.75 1.75 0 1 0 -3.5 0" fill="#70ff80" filter="url(#bl2)"/>
<path d="M514 254.9a1.1 1.1 0 1 0 2.2 0a1.1 1.1 0 1 0 -2.2 0" fill="#08f4f0" filter="url(#bl2)"/>
<path d="M530.9 256.1a1.75 1.75 0 1 0 3.5 0a1.75 1.75 0 1 0 -3.5 0" fill="#70ff80" filter="url(#bl2)"/>
<path d="M531.5 256.1a1.1 1.1 0 1 0 2.2 0a1.1 1.1 0 1 0 -2.2 0" fill="#08f4f0" filter="url(#bl2)"/>
<path d="M539 254.9a1.75 1.75 0 1 0 3.5 0a1.75 1.75 0 1 0 -3.5 0" fill="#70ff80" filter="url(#bl2)"/>
<path d="M539.7 254.9a1.1 1.1 0 1 0 2.2 0a1.1 1.1 0 1 0 -2.2 0" fill="#08f4f0" filter="url(#bl2)"/>
<path d="M547.2 254.9a1.75 1.75 0 1 0 3.5 0a1.75 1.75 0 1 0 -3.5 0" fill="#70ff80" filter="url(#bl2)"/>
<path d="M547.9 254.9a1.1 1.1 0 1 0 2.2 0a1.1 1.1 0 1 0 -2.2 0" fill="#08f4f0" filter="url(#bl2)"/>
<path d="M542.5 249.1a1.75 1.75 0 1 0 3.5 0a1.75 1.75 0 1 0 -3.5 0" fill="#70ff80" filter="url(#bl2)"/>
<path d="M543.2 249.1a1.1 1.1 0 1 0 2.2 0a1.1 1.1 0 1 0 -2.2 0" fill="#08f4f0" filter="url(#bl2)"/>
<path d="M520.4 245.5a1.75 1.75 0 1 0 3.5 0a1.75 1.75 0 1 0 -3.5 0" fill="#70ff80" filter="url(#bl2)"/>
<path d="M521 245.5a1.1 1.1 0 1 0 2.2 0a1.1 1.1 0 1 0 -2.2 0" fill="#08f4f0" filter="url(#bl2)"/>
<path d="M521.6 245.5a0.47 0.47 0 1 0 0.94 0a0.47 0.47 0 1 0 -0.94 0" fill="#40a8ff" filter="url(#bl2)"/>
<path d="M538 245.5a1.75 1.75 0 1 0 3.5 0a1.75 1.75 0 1 0 -3.5 0" fill="#70ff80" filter="url(#bl2)"/>
<path d="M538.6 245.5a1.1 1.1 0 1 0 2.2 0a1.1 1.1 0 1 0 -2.2 0" fill="#08f4f0" filter="url(#bl2)"/>
</g>
<g clip-path="url(#cf21)">
<rect x="507.3" y="267.2" width="46.7" height="56.5" fill="#a8f800" stroke="none" stroke-width="0.6"/>
<g filter="url(#bl1)">
<rect x="513.3" y="275.7" width="35.2" height="43" fill="#3cf600" stroke="none" stroke-width="0.6"/>
<rect x="508.8" y="271.2" width="4" height="40" fill="#c0f800" stroke="none" stroke-width="0.6"/>
<rect x="549.5" y="273.2" width="3.5" height="40" fill="#b8f800" stroke="none" stroke-width="0.6"/>
<rect x="510.3" y="317.2" width="40.7" height="6" fill="#70f400" stroke="none" stroke-width="0.6" opacity="0.8"/>
<rect x="514.1" y="265.2" width="4.8" height="8.5" fill="#70f000" stroke="none" stroke-width="0.6"/>
<rect x="541.8" y="265.2" width="4.8" height="8.5" fill="#30f0a0" stroke="none" stroke-width="0.6"/>
<ellipse cx="529.8" cy="271.4" rx="8" ry="3.4" fill="#e0f800"/>
<ellipse cx="529.8" cy="271.4" rx="4.5" ry="2.4" fill="#f4f000"/>
</g>
<path d="M515.5 283.7a1.8 1.8 0 1 0 3.6 0a1.8 1.8 0 1 0 -3.6 0" fill="#70ff80" filter="url(#bl2)"/>
<path d="M516.1 283.7a1.15 1.15 0 1 0 2.3 0a1.15 1.15 0 1 0 -2.3 0" fill="#08f4f0" filter="url(#bl2)"/>
<path d="M521.5 284a1.8 1.8 0 1 0 3.6 0a1.8 1.8 0 1 0 -3.6 0" fill="#70ff80" filter="url(#bl2)"/>
<path d="M522.1 284a1.15 1.15 0 1 0 2.3 0a1.15 1.15 0 1 0 -2.3 0" fill="#08f4f0" filter="url(#bl2)"/>
<path d="M532.5 286.2a1.8 1.8 0 1 0 3.6 0a1.8 1.8 0 1 0 -3.6 0" fill="#70ff80" filter="url(#bl2)"/>
<path d="M533.1 286.2a1.15 1.15 0 1 0 2.3 0a1.15 1.15 0 1 0 -2.3 0" fill="#08f4f0" filter="url(#bl2)"/>
<path d="M538.5 281.2a1.8 1.8 0 1 0 3.6 0a1.8 1.8 0 1 0 -3.6 0" fill="#70ff80" filter="url(#bl2)"/>
<path d="M539.1 281.2a1.15 1.15 0 1 0 2.3 0a1.15 1.15 0 1 0 -2.3 0" fill="#08f4f0" filter="url(#bl2)"/>
<path d="M539.5 295.2a1.8 1.8 0 1 0 3.6 0a1.8 1.8 0 1 0 -3.6 0" fill="#70ff80" filter="url(#bl2)"/>
<path d="M540.1 295.2a1.15 1.15 0 1 0 2.3 0a1.15 1.15 0 1 0 -2.3 0" fill="#08f4f0" filter="url(#bl2)"/>
<path d="M537 297.7a1.8 1.8 0 1 0 3.6 0a1.8 1.8 0 1 0 -3.6 0" fill="#70ff80" filter="url(#bl2)"/>
<path d="M537.6 297.7a1.15 1.15 0 1 0 2.3 0a1.15 1.15 0 1 0 -2.3 0" fill="#08f4f0" filter="url(#bl2)"/>
<path d="M521.5 300.2a1.8 1.8 0 1 0 3.6 0a1.8 1.8 0 1 0 -3.6 0" fill="#70ff80" filter="url(#bl2)"/>
<path d="M522.1 300.2a1.15 1.15 0 1 0 2.3 0a1.15 1.15 0 1 0 -2.3 0" fill="#08f4f0" filter="url(#bl2)"/>
<path d="M523.5 303.2a1.8 1.8 0 1 0 3.6 0a1.8 1.8 0 1 0 -3.6 0" fill="#70ff80" filter="url(#bl2)"/>
<path d="M524.1 303.2a1.15 1.15 0 1 0 2.3 0a1.15 1.15 0 1 0 -2.3 0" fill="#08f4f0" filter="url(#bl2)"/>
<path d="M525.5 309.2a1.8 1.8 0 1 0 3.6 0a1.8 1.8 0 1 0 -3.6 0" fill="#70ff80" filter="url(#bl2)"/>
<path d="M526.1 309.2a1.15 1.15 0 1 0 2.3 0a1.15 1.15 0 1 0 -2.3 0" fill="#08f4f0" filter="url(#bl2)"/>
<g filter="url(#bl2)">
<rect x="506.3" y="266.2" width="2.3" height="58.5" fill="#2a64ff" stroke="none" stroke-width="0.6"/>
<rect x="506.3" y="266.2" width="48.7" height="2.2" fill="#2a64ff" stroke="none" stroke-width="0.6"/>
</g>
<rect x="508.4" y="268.2" width="0.6" height="56.5" fill="#20d0ff" stroke="none" stroke-width="0.6" opacity="0.6"/>
</g>
<g clip-path="url(#cf30)">
<rect x="557.9" y="207.3" width="46.7" height="56.5" fill="#96f800" stroke="none" stroke-width="0.6"/>
<g filter="url(#bl1)">
<rect x="561.7" y="220.3" width="39.1" height="42.9" fill="#24f600" stroke="none" stroke-width="0.6"/>
<rect x="564.3" y="205.3" width="5" height="12.3" fill="#30f00a" stroke="none" stroke-width="0.6"/>
<rect x="591.9" y="205.3" width="5.2" height="12.3" fill="#28f080" stroke="none" stroke-width="0.6"/>
</g>
<path d="M561.2 237.4a1.8 1.8 0 1 0 3.6 0a1.8 1.8 0 1 0 -3.6 0" fill="#70ff80" filter="url(#bl2)"/>
<path d="M561.9 237.4a1.15 1.15 0 1 0 2.3 0a1.15 1.15 0 1 0 -2.3 0" fill="#08f4f0" filter="url(#bl2)"/>
<path d="M565.9 235a1.8 1.8 0 1 0 3.6 0a1.8 1.8 0 1 0 -3.6 0" fill="#70ff80" filter="url(#bl2)"/>
<path d="M566.5 235a1.15 1.15 0 1 0 2.3 0a1.15 1.15 0 1 0 -2.3 0" fill="#08f4f0" filter="url(#bl2)"/>
<path d="M560 245.5a1.8 1.8 0 1 0 3.6 0a1.8 1.8 0 1 0 -3.6 0" fill="#70ff80" filter="url(#bl2)"/>
<path d="M560.6 245.5a1.15 1.15 0 1 0 2.3 0a1.15 1.15 0 1 0 -2.3 0" fill="#08f4f0" filter="url(#bl2)"/>
<path d="M575.3 246.7a1.8 1.8 0 1 0 3.6 0a1.8 1.8 0 1 0 -3.6 0" fill="#70ff80" filter="url(#bl2)"/>
<path d="M576 246.7a1.15 1.15 0 1 0 2.3 0a1.15 1.15 0 1 0 -2.3 0" fill="#08f4f0" filter="url(#bl2)"/>
<path d="M573 256.1a1.8 1.8 0 1 0 3.6 0a1.8 1.8 0 1 0 -3.6 0" fill="#70ff80" filter="url(#bl2)"/>
<path d="M573.6 256.1a1.15 1.15 0 1 0 2.3 0a1.15 1.15 0 1 0 -2.3 0" fill="#08f4f0" filter="url(#bl2)"/>
<path d="M580 254.9a1.8 1.8 0 1 0 3.6 0a1.8 1.8 0 1 0 -3.6 0" fill="#70ff80" filter="url(#bl2)"/>
<path d="M580.6 254.9a1.15 1.15 0 1 0 2.3 0a1.15 1.15 0 1 0 -2.3 0" fill="#08f4f0" filter="url(#bl2)"/>
<path d="M594 250.2a1.8 1.8 0 1 0 3.6 0a1.8 1.8 0 1 0 -3.6 0" fill="#70ff80" filter="url(#bl2)"/>
<path d="M594.6 250.2a1.15 1.15 0 1 0 2.3 0a1.15 1.15 0 1 0 -2.3 0" fill="#08f4f0" filter="url(#bl2)"/>
<path d="M597.5 247.9a1.8 1.8 0 1 0 3.6 0a1.8 1.8 0 1 0 -3.6 0" fill="#70ff80" filter="url(#bl2)"/>
<path d="M598.1 247.9a1.15 1.15 0 1 0 2.3 0a1.15 1.15 0 1 0 -2.3 0" fill="#08f4f0" filter="url(#bl2)"/>
<path d="M594 231.5a1.8 1.8 0 1 0 3.6 0a1.8 1.8 0 1 0 -3.6 0" fill="#70ff80" filter="url(#bl2)"/>
<path d="M594.6 231.5a1.15 1.15 0 1 0 2.3 0a1.15 1.15 0 1 0 -2.3 0" fill="#08f4f0" filter="url(#bl2)"/>
<path d="M580 226.9a1.8 1.8 0 1 0 3.6 0a1.8 1.8 0 1 0 -3.6 0" fill="#70ff80" filter="url(#bl2)"/>
<path d="M580.6 226.9a1.15 1.15 0 1 0 2.3 0a1.15 1.15 0 1 0 -2.3 0" fill="#08f4f0" filter="url(#bl2)"/>
<path d="M587 246.7a1.8 1.8 0 1 0 3.6 0a1.8 1.8 0 1 0 -3.6 0" fill="#70ff80" filter="url(#bl2)"/>
<path d="M587.6 246.7a1.15 1.15 0 1 0 2.3 0a1.15 1.15 0 1 0 -2.3 0" fill="#08f4f0" filter="url(#bl2)"/>
<path d="M565.1 252.3a1.8 1.8 0 1 0 3.6 0a1.8 1.8 0 1 0 -3.6 0" fill="#70ff80" filter="url(#bl2)"/>
<path d="M565.8 252.3a1.15 1.15 0 1 0 2.3 0a1.15 1.15 0 1 0 -2.3 0" fill="#08f4f0" filter="url(#bl2)"/>
<path d="M584.1 229.3a1.8 1.8 0 1 0 3.6 0a1.8 1.8 0 1 0 -3.6 0" fill="#70ff80" filter="url(#bl2)"/>
<path d="M584.8 229.3a1.15 1.15 0 1 0 2.3 0a1.15 1.15 0 1 0 -2.3 0" fill="#08f4f0" filter="url(#bl2)"/>
<path d="M578.2 234.3 L579.18 233.83 L580.4 233.5 L581.41 234.02 L582.4 234.6 L583.4 234.42 L584.4 234.3 L585.37 235.07 L586.4 235.9 L587.6 236.06 L588.9 236.1 L590.41 236.29 L591.7 236.7 L592.41 237.66 L592.5 238.7 L591.66 239.49 L590.4 239.9 L589.16 239.49 L587.9 238.9 L586.78 238.81 L585.7 238.7 L584.62 238.08 L583.5 237.5 L582.2 237.58 L580.9 237.7 L579.67 237.47 L578.7 236.9 L578.31 235.55 L578.2 234.3 Z" fill="#7cff6a" stroke="#7cff6a" stroke-width="3.9" stroke-linejoin="round" filter="url(#bl3)"/>
<path d="M578.2 234.3 L579.18 233.83 L580.4 233.5 L581.41 234.02 L582.4 234.6 L583.4 234.42 L584.4 234.3 L585.37 235.07 L586.4 235.9 L587.6 236.06 L588.9 236.1 L590.41 236.29 L591.7 236.7 L592.41 237.66 L592.5 238.7 L591.66 239.49 L590.4 239.9 L589.16 239.49 L587.9 238.9 L586.78 238.81 L585.7 238.7 L584.62 238.08 L583.5 237.5 L582.2 237.58 L580.9 237.7 L579.67 237.47 L578.7 236.9 L578.31 235.55 L578.2 234.3 Z" fill="#10f0ff" stroke="#10f0ff" stroke-width="2.3" stroke-linejoin="round" filter="url(#bl2)"/>
<path d="M578.2 234.3 L579.18 233.83 L580.4 233.5 L581.41 234.02 L582.4 234.6 L583.4 234.42 L584.4 234.3 L585.37 235.07 L586.4 235.9 L587.6 236.06 L588.9 236.1 L590.41 236.29 L591.7 236.7 L592.41 237.66 L592.5 238.7 L591.66 239.49 L590.4 239.9 L589.16 239.49 L587.9 238.9 L586.78 238.81 L585.7 238.7 L584.62 238.08 L583.5 237.5 L582.2 237.58 L580.9 237.7 L579.67 237.47 L578.7 236.9 L578.31 235.55 L578.2 234.3 Z" fill="#0a14f0" stroke="#0a14f0" stroke-width="0.5" stroke-linejoin="round" filter="url(#bl2)"/>
<path d="M569.4 224.1 L569.7 223.98 L570.14 223.79 L570.58 223.65 L570.9 223.7 L571.08 224.03 L571.19 224.56 L571.21 225.11 L571.1 225.5 L570.79 225.7 L570.32 225.81 L569.84 225.81 L569.5 225.7 L569.37 225.39 L569.35 224.91 L569.38 224.43 L569.4 224.1 Z" fill="#7cff6a" stroke="#7cff6a" stroke-width="3.6" stroke-linejoin="round" filter="url(#bl3)"/>
<path d="M569.4 224.1 L569.7 223.98 L570.14 223.79 L570.58 223.65 L570.9 223.7 L571.08 224.03 L571.19 224.56 L571.21 225.11 L571.1 225.5 L570.79 225.7 L570.32 225.81 L569.84 225.81 L569.5 225.7 L569.37 225.39 L569.35 224.91 L569.38 224.43 L569.4 224.1 Z" fill="#10f0ff" stroke="#10f0ff" stroke-width="2" stroke-linejoin="round" filter="url(#bl2)"/>
<path d="M569.4 224.1 L569.7 223.98 L570.14 223.79 L570.58 223.65 L570.9 223.7 L571.08 224.03 L571.19 224.56 L571.21 225.11 L571.1 225.5 L570.79 225.7 L570.32 225.81 L569.84 225.81 L569.5 225.7 L569.37 225.39 L569.35 224.91 L569.38 224.43 L569.4 224.1 Z" fill="#0a14f0" stroke="#0a14f0" stroke-width="0.5" stroke-linejoin="round" filter="url(#bl2)"/>
<path d="M595.2 224.9 L595.49 224.91 L595.91 224.91 L596.32 224.95 L596.6 225.1 L596.71 225.42 L596.73 225.87 L596.65 226.31 L596.5 226.6 L596.21 226.72 L595.79 226.74 L595.38 226.67 L595.1 226.5 L595.02 226.17 L595.06 225.69 L595.15 225.22 L595.2 224.9 Z" fill="#7cff6a" stroke="#7cff6a" stroke-width="3.4" stroke-linejoin="round" filter="url(#bl3)"/>
<path d="M595.2 224.9 L595.49 224.91 L595.91 224.91 L596.32 224.95 L596.6 225.1 L596.71 225.42 L596.73 225.87 L596.65 226.31 L596.5 226.6 L596.21 226.72 L595.79 226.74 L595.38 226.67 L595.1 226.5 L595.02 226.17 L595.06 225.69 L595.15 225.22 L595.2 224.9 Z" fill="#10f0ff" stroke="#10f0ff" stroke-width="1.8" stroke-linejoin="round" filter="url(#bl2)"/>
<path d="M595.2 224.9 L595.49 224.91 L595.91 224.91 L596.32 224.95 L596.6 225.1 L596.71 225.42 L596.73 225.87 L596.65 226.31 L596.5 226.6 L596.21 226.72 L595.79 226.74 L595.38 226.67 L595.1 226.5 L595.02 226.17 L595.06 225.69 L595.15 225.22 L595.2 224.9 Z" fill="#0a14f0" stroke="#0a14f0" stroke-width="0.5" stroke-linejoin="round" filter="url(#bl2)"/>
<path d="M587.7 246.1 L587.98 245.95 L588.38 245.7 L588.79 245.58 L589.1 245.8 L589.29 246.5 L589.41 247.54 L589.47 248.71 L589.5 249.8 L589.5 250.88 L589.45 252.01 L589.35 253.02 L589.2 253.7 L588.94 254.02 L588.59 254.08 L588.25 253.9 L588 253.5 L587.88 252.8 L587.83 251.81 L587.82 250.72 L587.8 249.7 L587.77 248.7 L587.74 247.66 L587.72 246.74 L587.7 246.1 Z" fill="#7cff6a" stroke="#7cff6a" stroke-width="3.4" stroke-linejoin="round" filter="url(#bl3)"/>
<path d="M587.7 246.1 L587.98 245.95 L588.38 245.7 L588.79 245.58 L589.1 245.8 L589.29 246.5 L589.41 247.54 L589.47 248.71 L589.5 249.8 L589.5 250.88 L589.45 252.01 L589.35 253.02 L589.2 253.7 L588.94 254.02 L588.59 254.08 L588.25 253.9 L588 253.5 L587.88 252.8 L587.83 251.81 L587.82 250.72 L587.8 249.7 L587.77 248.7 L587.74 247.66 L587.72 246.74 L587.7 246.1 Z" fill="#10f0ff" stroke="#10f0ff" stroke-width="1.8" stroke-linejoin="round" filter="url(#bl2)"/>
<path d="M587.7 246.1 L587.98 245.95 L588.38 245.7 L588.79 245.58 L589.1 245.8 L589.29 246.5 L589.41 247.54 L589.47 248.71 L589.5 249.8 L589.5 250.88 L589.45 252.01 L589.35 253.02 L589.2 253.7 L588.94 254.02 L588.59 254.08 L588.25 253.9 L588 253.5 L587.88 252.8 L587.83 251.81 L587.82 250.72 L587.8 249.7 L587.77 248.7 L587.74 247.66 L587.72 246.74 L587.7 246.1 Z" fill="#0a14f0" stroke="#0a14f0" stroke-width="0.5" stroke-linejoin="round" filter="url(#bl2)"/>
<path d="M579.4 250.8 L579.62 250.69 L579.94 250.53 L580.26 250.42 L580.5 250.5 L580.65 250.88 L580.74 251.47 L580.77 252.07 L580.7 252.5 L580.47 252.73 L580.12 252.84 L579.76 252.84 L579.5 252.7 L579.4 252.33 L579.37 251.76 L579.39 251.19 L579.4 250.8 Z" fill="#7cff6a" stroke="#7cff6a" stroke-width="3.2" stroke-linejoin="round" filter="url(#bl3)"/>
<path d="M579.4 250.8 L579.62 250.69 L579.94 250.53 L580.26 250.42 L580.5 250.5 L580.65 250.88 L580.74 251.47 L580.77 252.07 L580.7 252.5 L580.47 252.73 L580.12 252.84 L579.76 252.84 L579.5 252.7 L579.4 252.33 L579.37 251.76 L579.39 251.19 L579.4 250.8 Z" fill="#10f0ff" stroke="#10f0ff" stroke-width="1.6" stroke-linejoin="round" filter="url(#bl2)"/>
<path d="M579.4 250.8 L579.62 250.69 L579.94 250.53 L580.26 250.42 L580.5 250.5 L580.65 250.88 L580.74 251.47 L580.77 252.07 L580.7 252.5 L580.47 252.73 L580.12 252.84 L579.76 252.84 L579.5 252.7 L579.4 252.33 L579.37 251.76 L579.39 251.19 L579.4 250.8 Z" fill="#0a14f0" stroke="#0a14f0" stroke-width="0.5" stroke-linejoin="round" filter="url(#bl2)"/>
<path d="M562.9 241.8 L563.14 241.72 L563.49 241.61 L563.85 241.54 L564.1 241.6 L564.23 241.89 L564.3 242.33 L564.29 242.78 L564.2 243.1 L563.97 243.26 L563.61 243.33 L563.25 243.31 L563 243.2 L562.9 242.92 L562.87 242.51 L562.89 242.09 L562.9 241.8 Z" fill="#7cff6a" stroke="#7cff6a" stroke-width="3.2" stroke-linejoin="round" filter="url(#bl3)"/>
<path d="M562.9 241.8 L563.14 241.72 L563.49 241.61 L563.85 241.54 L564.1 241.6 L564.23 241.89 L564.3 242.33 L564.29 242.78 L564.2 243.1 L563.97 243.26 L563.61 243.33 L563.25 243.31 L563 243.2 L562.9 242.92 L562.87 242.51 L562.89 242.09 L562.9 241.8 Z" fill="#10f0ff" stroke="#10f0ff" stroke-width="1.6" stroke-linejoin="round" filter="url(#bl2)"/>
<path d="M562.9 241.8 L563.14 241.72 L563.49 241.61 L563.85 241.54 L564.1 241.6 L564.23 241.89 L564.3 242.33 L564.29 242.78 L564.2 243.1 L563.97 243.26 L563.61 243.33 L563.25 243.31 L563 243.2 L562.9 242.92 L562.87 242.51 L562.89 242.09 L562.9 241.8 Z" fill="#0a14f0" stroke="#0a14f0" stroke-width="0.5" stroke-linejoin="round" filter="url(#bl2)"/>
</g>
<g clip-path="url(#cf31)">
<rect x="557.9" y="267.2" width="46.7" height="56.5" fill="#a8f800" stroke="none" stroke-width="0.6"/>
<g filter="url(#bl1)">
<rect x="563.9" y="275.7" width="35.2" height="43" fill="#3cf600" stroke="none" stroke-width="0.6"/>
<rect x="559.4" y="271.2" width="4" height="40" fill="#c0f800" stroke="none" stroke-width="0.6"/>
<rect x="600.1" y="273.2" width="3.5" height="40" fill="#b8f800" stroke="none" stroke-width="0.6"/>
<rect x="560.9" y="317.2" width="40.7" height="6" fill="#70f400" stroke="none" stroke-width="0.6" opacity="0.8"/>
<rect x="564.7" y="265.2" width="4.8" height="8.5" fill="#70f000" stroke="none" stroke-width="0.6"/>
<rect x="592.4" y="265.2" width="4.8" height="8.5" fill="#30f0a0" stroke="none" stroke-width="0.6"/>
<ellipse cx="580.4" cy="271.4" rx="9.2" ry="3.6" fill="#e0f800"/>
<ellipse cx="580.4" cy="271.4" rx="5.4" ry="2.56" fill="#f4f000"/>
<ellipse cx="580.4" cy="271.8" rx="6.8" ry="2.4" fill="#ffc800"/>
<rect x="559.9" y="270.2" width="2.6" height="22" fill="#d8f400" stroke="none" stroke-width="0.6"/>
</g>
<path d="M572.1 292.2a1.8 1.8 0 1 0 3.6 0a1.8 1.8 0 1 0 -3.6 0" fill="#70ff80" filter="url(#bl2)"/>
<path d="M572.8 292.2a1.15 1.15 0 1 0 2.3 0a1.15 1.15 0 1 0 -2.3 0" fill="#08f4f0" filter="url(#bl2)"/>
<path d="M582.1 291.2a1.8 1.8 0 1 0 3.6 0a1.8 1.8 0 1 0 -3.6 0" fill="#70ff80" filter="url(#bl2)"/>
<path d="M582.8 291.2a1.15 1.15 0 1 0 2.3 0a1.15 1.15 0 1 0 -2.3 0" fill="#08f4f0" filter="url(#bl2)"/>
<path d="M576.1 297.2a1.8 1.8 0 1 0 3.6 0a1.8 1.8 0 1 0 -3.6 0" fill="#70ff80" filter="url(#bl2)"/>
<path d="M576.8 297.2a1.15 1.15 0 1 0 2.3 0a1.15 1.15 0 1 0 -2.3 0" fill="#08f4f0" filter="url(#bl2)"/>
<path d="M585.1 298.2a1.8 1.8 0 1 0 3.6 0a1.8 1.8 0 1 0 -3.6 0" fill="#70ff80" filter="url(#bl2)"/>
<path d="M585.8 298.2a1.15 1.15 0 1 0 2.3 0a1.15 1.15 0 1 0 -2.3 0" fill="#08f4f0" filter="url(#bl2)"/>
<path d="M570.1 303.2a1.8 1.8 0 1 0 3.6 0a1.8 1.8 0 1 0 -3.6 0" fill="#70ff80" filter="url(#bl2)"/>
<path d="M570.8 303.2a1.15 1.15 0 1 0 2.3 0a1.15 1.15 0 1 0 -2.3 0" fill="#08f4f0" filter="url(#bl2)"/>
<path d="M572.1 306.2a1.8 1.8 0 1 0 3.6 0a1.8 1.8 0 1 0 -3.6 0" fill="#70ff80" filter="url(#bl2)"/>
<path d="M572.8 306.2a1.15 1.15 0 1 0 2.3 0a1.15 1.15 0 1 0 -2.3 0" fill="#08f4f0" filter="url(#bl2)"/>
<path d="M589.1 304.2a1.8 1.8 0 1 0 3.6 0a1.8 1.8 0 1 0 -3.6 0" fill="#70ff80" filter="url(#bl2)"/>
<path d="M589.8 304.2a1.15 1.15 0 1 0 2.3 0a1.15 1.15 0 1 0 -2.3 0" fill="#08f4f0" filter="url(#bl2)"/>
<path d="M581.1 310.2a1.8 1.8 0 1 0 3.6 0a1.8 1.8 0 1 0 -3.6 0" fill="#70ff80" filter="url(#bl2)"/>
<path d="M581.8 310.2a1.15 1.15 0 1 0 2.3 0a1.15 1.15 0 1 0 -2.3 0" fill="#08f4f0" filter="url(#bl2)"/>
<path d="M592.1 280.2a1.8 1.8 0 1 0 3.6 0a1.8 1.8 0 1 0 -3.6 0" fill="#70ff80" filter="url(#bl2)"/>
<path d="M592.8 280.2a1.15 1.15 0 1 0 2.3 0a1.15 1.15 0 1 0 -2.3 0" fill="#08f4f0" filter="url(#bl2)"/>
<path d="M594.1 283.2a1.8 1.8 0 1 0 3.6 0a1.8 1.8 0 1 0 -3.6 0" fill="#70ff80" filter="url(#bl2)"/>
<path d="M594.8 283.2a1.15 1.15 0 1 0 2.3 0a1.15 1.15 0 1 0 -2.3 0" fill="#08f4f0" filter="url(#bl2)"/>
<g filter="url(#bl2)">
<rect x="556.9" y="266.2" width="2.3" height="58.5" fill="#2a64ff" stroke="none" stroke-width="0.6"/>
<rect x="556.9" y="266.2" width="48.7" height="2.2" fill="#2a64ff" stroke="none" stroke-width="0.6"/>
</g>
<rect x="559" y="268.2" width="0.6" height="56.5" fill="#20d0ff" stroke="none" stroke-width="0.6" opacity="0.6"/>
</g>
<g clip-path="url(#cf40)">
<rect x="608.8" y="207.3" width="46.7" height="56.5" fill="#96f800" stroke="none" stroke-width="0.6"/>
<g filter="url(#bl1)">
<rect x="612.6" y="220.3" width="39.1" height="42.9" fill="#24f600" stroke="none" stroke-width="0.6"/>
<rect x="615.2" y="205.3" width="5" height="12.3" fill="#30f00a" stroke="none" stroke-width="0.6"/>
<rect x="642.8" y="205.3" width="5.2" height="12.3" fill="#18f0a8" stroke="none" stroke-width="0.6"/>
</g>
<path d="M628.4 232.4 L629.85 231.47 L631.8 230.3 L633.76 229.31 L635.8 228.3 L637.81 227.19 L639.8 226.1 L641.78 225.1 L643.6 224.3 L645.02 223.85 L646.3 223.7 L647.74 223.71 L648.9 224.3 L649.3 226.04 L649.4 228.3 L649.57 230.63 L649.6 233 L649.37 235.19 L649 237.3 L648.53 239.42 L648 241.3 L647.58 242.74 L646.9 243.6 L645.54 243.43 L643.8 242.9 L641.71 242.68 L639.6 242.3 L637.89 241.39 L636.3 240.3 L634.61 239.33 L633 238.3 L631.56 237.14 L630.3 235.8 L629.18 233.94 L628.4 232.4 Z" fill="#7cff6a" stroke="#7cff6a" stroke-width="4.6" stroke-linejoin="round" filter="url(#bl3)"/>
<path d="M628.4 232.4 L629.85 231.47 L631.8 230.3 L633.76 229.31 L635.8 228.3 L637.81 227.19 L639.8 226.1 L641.78 225.1 L643.6 224.3 L645.02 223.85 L646.3 223.7 L647.74 223.71 L648.9 224.3 L649.3 226.04 L649.4 228.3 L649.57 230.63 L649.6 233 L649.37 235.19 L649 237.3 L648.53 239.42 L648 241.3 L647.58 242.74 L646.9 243.6 L645.54 243.43 L643.8 242.9 L641.71 242.68 L639.6 242.3 L637.89 241.39 L636.3 240.3 L634.61 239.33 L633 238.3 L631.56 237.14 L630.3 235.8 L629.18 233.94 L628.4 232.4 Z" fill="#10f0ff" stroke="#10f0ff" stroke-width="3" stroke-linejoin="round" filter="url(#bl2)"/>
<path d="M628.4 232.4 L629.85 231.47 L631.8 230.3 L633.76 229.31 L635.8 228.3 L637.81 227.19 L639.8 226.1 L641.78 225.1 L643.6 224.3 L645.02 223.85 L646.3 223.7 L647.74 223.71 L648.9 224.3 L649.3 226.04 L649.4 228.3 L649.57 230.63 L649.6 233 L649.37 235.19 L649 237.3 L648.53 239.42 L648 241.3 L647.58 242.74 L646.9 243.6 L645.54 243.43 L643.8 242.9 L641.71 242.68 L639.6 242.3 L637.89 241.39 L636.3 240.3 L634.61 239.33 L633 238.3 L631.56 237.14 L630.3 235.8 L629.18 233.94 L628.4 232.4 Z" fill="#0a14f0" stroke="#0a14f0" stroke-width="0.5" stroke-linejoin="round" filter="url(#bl2)"/>
<path d="M615.6 233.7 L616.82 233.78 L618.2 234.1 L619.03 234.94 L619.4 236.1 L618.93 237.58 L618.4 239.1 L618.58 240.28 L619.2 241.5 L620.32 243.28 L621.7 244.9 L623.13 245.56 L624.6 246 L626.05 246.71 L627.4 247.6 L628.54 248.74 L629.5 250.1 L630.43 251.79 L630.9 253.5 L630.33 254.99 L629.3 256.2 L628.23 256.97 L627 257.3 L625.63 257.01 L624.2 256.5 L622.71 256.34 L621.4 255.9 L620.56 254.59 L620 252.9 L619.75 251.02 L619.4 249.2 L618.37 247.92 L617.2 246.7 L616.21 245.24 L615.4 243.5 L614.83 241.27 L614.6 238.8 L615.05 235.96 L615.6 233.7 Z" fill="#7cff6a" stroke="#7cff6a" stroke-width="4.4" stroke-linejoin="round" filter="url(#bl3)"/>
<path d="M615.6 233.7 L616.82 233.78 L618.2 234.1 L619.03 234.94 L619.4 236.1 L618.93 237.58 L618.4 239.1 L618.58 240.28 L619.2 241.5 L620.32 243.28 L621.7 244.9 L623.13 245.56 L624.6 246 L626.05 246.71 L627.4 247.6 L628.54 248.74 L629.5 250.1 L630.43 251.79 L630.9 253.5 L630.33 254.99 L629.3 256.2 L628.23 256.97 L627 257.3 L625.63 257.01 L624.2 256.5 L622.71 256.34 L621.4 255.9 L620.56 254.59 L620 252.9 L619.75 251.02 L619.4 249.2 L618.37 247.92 L617.2 246.7 L616.21 245.24 L615.4 243.5 L614.83 241.27 L614.6 238.8 L615.05 235.96 L615.6 233.7 Z" fill="#10f0ff" stroke="#10f0ff" stroke-width="2.8" stroke-linejoin="round" filter="url(#bl2)"/>
<path d="M615.6 233.7 L616.82 233.78 L618.2 234.1 L619.03 234.94 L619.4 236.1 L618.93 237.58 L618.4 239.1 L618.58 240.28 L619.2 241.5 L620.32 243.28 L621.7 244.9 L623.13 245.56 L624.6 246 L626.05 246.71 L627.4 247.6 L628.54 248.74 L629.5 250.1 L630.43 251.79 L630.9 253.5 L630.33 254.99 L629.3 256.2 L628.23 256.97 L627 257.3 L625.63 257.01 L624.2 256.5 L622.71 256.34 L621.4 255.9 L620.56 254.59 L620 252.9 L619.75 251.02 L619.4 249.2 L618.37 247.92 L617.2 246.7 L616.21 245.24 L615.4 243.5 L614.83 241.27 L614.6 238.8 L615.05 235.96 L615.6 233.7 Z" fill="#0a14f0" stroke="#0a14f0" stroke-width="0.5" stroke-linejoin="round" filter="url(#bl2)"/>
<path d="M638 249.3 L639.12 248.83 L640.6 248.5 L641.99 249.04 L643.4 249.7 L644.84 249.71 L646.2 249.9 L647.5 251.04 L648.4 252.5 L648.5 253.95 L648 255.3 L646.87 256.4 L645.4 257.1 L643.84 257.09 L642.3 256.7 L640.93 256.24 L639.8 255.5 L639.08 254.35 L638.6 252.9 L638.22 250.94 L638 249.3 Z" fill="#7cff6a" stroke="#7cff6a" stroke-width="4.1" stroke-linejoin="round" filter="url(#bl3)"/>
<path d="M638 249.3 L639.12 248.83 L640.6 248.5 L641.99 249.04 L643.4 249.7 L644.84 249.71 L646.2 249.9 L647.5 251.04 L648.4 252.5 L648.5 253.95 L648 255.3 L646.87 256.4 L645.4 257.1 L643.84 257.09 L642.3 256.7 L640.93 256.24 L639.8 255.5 L639.08 254.35 L638.6 252.9 L638.22 250.94 L638 249.3 Z" fill="#10f0ff" stroke="#10f0ff" stroke-width="2.5" stroke-linejoin="round" filter="url(#bl2)"/>
<path d="M638 249.3 L639.12 248.83 L640.6 248.5 L641.99 249.04 L643.4 249.7 L644.84 249.71 L646.2 249.9 L647.5 251.04 L648.4 252.5 L648.5 253.95 L648 255.3 L646.87 256.4 L645.4 257.1 L643.84 257.09 L642.3 256.7 L640.93 256.24 L639.8 255.5 L639.08 254.35 L638.6 252.9 L638.22 250.94 L638 249.3 Z" fill="#0a14f0" stroke="#0a14f0" stroke-width="0.5" stroke-linejoin="round" filter="url(#bl2)"/>
<path d="M617.9 221.7 L618.36 221.45 L619.02 221.08 L619.73 220.74 L620.3 220.6 L620.75 220.73 L621.16 221.03 L621.43 221.41 L621.5 221.8 L621.28 222.27 L620.84 222.84 L620.31 223.31 L619.8 223.5 L619.29 223.25 L618.74 222.71 L618.25 222.11 L617.9 221.7 Z" fill="#7cff6a" stroke="#7cff6a" stroke-width="3.4" stroke-linejoin="round" filter="url(#bl3)"/>
<path d="M617.9 221.7 L618.36 221.45 L619.02 221.08 L619.73 220.74 L620.3 220.6 L620.75 220.73 L621.16 221.03 L621.43 221.41 L621.5 221.8 L621.28 222.27 L620.84 222.84 L620.31 223.31 L619.8 223.5 L619.29 223.25 L618.74 222.71 L618.25 222.11 L617.9 221.7 Z" fill="#10f0ff" stroke="#10f0ff" stroke-width="1.8" stroke-linejoin="round" filter="url(#bl2)"/>
<path d="M617.9 221.7 L618.36 221.45 L619.02 221.08 L619.73 220.74 L620.3 220.6 L620.75 220.73 L621.16 221.03 L621.43 221.41 L621.5 221.8 L621.28 222.27 L620.84 222.84 L620.31 223.31 L619.8 223.5 L619.29 223.25 L618.74 222.71 L618.25 222.11 L617.9 221.7 Z" fill="#1a60ff" stroke="#1a60ff" stroke-width="0.5" stroke-linejoin="round" filter="url(#bl2)"/>
<path d="M633.3 242.8 L633.64 242.64 L634.13 242.39 L634.63 242.23 L635 242.3 L635.22 242.76 L635.36 243.49 L635.4 244.25 L635.3 244.8 L634.98 245.14 L634.49 245.36 L633.97 245.43 L633.6 245.3 L633.42 244.83 L633.34 244.08 L633.32 243.32 L633.3 242.8 Z" fill="#7cff6a" stroke="#7cff6a" stroke-width="3.2" stroke-linejoin="round" filter="url(#bl3)"/>
<path d="M633.3 242.8 L633.64 242.64 L634.13 242.39 L634.63 242.23 L635 242.3 L635.22 242.76 L635.36 243.49 L635.4 244.25 L635.3 244.8 L634.98 245.14 L634.49 245.36 L633.97 245.43 L633.6 245.3 L633.42 244.83 L633.34 244.08 L633.32 243.32 L633.3 242.8 Z" fill="#10f0ff" stroke="#10f0ff" stroke-width="1.6" stroke-linejoin="round" filter="url(#bl2)"/>
<path d="M633.3 242.8 L633.64 242.64 L634.13 242.39 L634.63 242.23 L635 242.3 L635.22 242.76 L635.36 243.49 L635.4 244.25 L635.3 244.8 L634.98 245.14 L634.49 245.36 L633.97 245.43 L633.6 245.3 L633.42 244.83 L633.34 244.08 L633.32 243.32 L633.3 242.8 Z" fill="#0a14f0" stroke="#0a14f0" stroke-width="0.5" stroke-linejoin="round" filter="url(#bl2)"/>
<path d="M622.4 237.1 L622.68 236.98 L623.08 236.8 L623.49 236.67 L623.8 236.7 L623.99 236.99 L624.13 237.46 L624.18 237.95 L624.1 238.3 L623.82 238.49 L623.38 238.59 L622.93 238.6 L622.6 238.5 L622.45 238.23 L622.41 237.81 L622.41 237.39 L622.4 237.1 Z" fill="#7cff6a" stroke="#7cff6a" stroke-width="3.1" stroke-linejoin="round" filter="url(#bl3)"/>
<path d="M622.4 237.1 L622.68 236.98 L623.08 236.8 L623.49 236.67 L623.8 236.7 L623.99 236.99 L624.13 237.46 L624.18 237.95 L624.1 238.3 L623.82 238.49 L623.38 238.59 L622.93 238.6 L622.6 238.5 L622.45 238.23 L622.41 237.81 L622.41 237.39 L622.4 237.1 Z" fill="#10f0ff" stroke="#10f0ff" stroke-width="1.5" stroke-linejoin="round" filter="url(#bl2)"/>
<path d="M622.4 237.1 L622.68 236.98 L623.08 236.8 L623.49 236.67 L623.8 236.7 L623.99 236.99 L624.13 237.46 L624.18 237.95 L624.1 238.3 L623.82 238.49 L623.38 238.59 L622.93 238.6 L622.6 238.5 L622.45 238.23 L622.41 237.81 L622.41 237.39 L622.4 237.1 Z" fill="#0a14f0" stroke="#0a14f0" stroke-width="0.5" stroke-linejoin="round" filter="url(#bl2)"/>
<path d="M611 230.3a1.8 1.8 0 1 0 3.6 0a1.8 1.8 0 1 0 -3.6 0" fill="#70ff80" filter="url(#bl2)"/>
<path d="M611.6 230.3a1.15 1.15 0 1 0 2.3 0a1.15 1.15 0 1 0 -2.3 0" fill="#08f4f0" filter="url(#bl2)"/>
<path d="M612 252.3a1.8 1.8 0 1 0 3.6 0a1.8 1.8 0 1 0 -3.6 0" fill="#70ff80" filter="url(#bl2)"/>
<path d="M612.6 252.3a1.15 1.15 0 1 0 2.3 0a1.15 1.15 0 1 0 -2.3 0" fill="#08f4f0" filter="url(#bl2)"/>
<path d="M650.5 247.3a1.8 1.8 0 1 0 3.6 0a1.8 1.8 0 1 0 -3.6 0" fill="#70ff80" filter="url(#bl2)"/>
<path d="M651.1 247.3a1.15 1.15 0 1 0 2.3 0a1.15 1.15 0 1 0 -2.3 0" fill="#08f4f0" filter="url(#bl2)"/>
<path d="M634 251.3a1.8 1.8 0 1 0 3.6 0a1.8 1.8 0 1 0 -3.6 0" fill="#70ff80" filter="url(#bl2)"/>
<path d="M634.6 251.3a1.15 1.15 0 1 0 2.3 0a1.15 1.15 0 1 0 -2.3 0" fill="#08f4f0" filter="url(#bl2)"/>
<path d="M628 242.3a1.8 1.8 0 1 0 3.6 0a1.8 1.8 0 1 0 -3.6 0" fill="#70ff80" filter="url(#bl2)"/>
<path d="M628.6 242.3a1.15 1.15 0 1 0 2.3 0a1.15 1.15 0 1 0 -2.3 0" fill="#08f4f0" filter="url(#bl2)"/>
<path d="M650.5 237.3a1.8 1.8 0 1 0 3.6 0a1.8 1.8 0 1 0 -3.6 0" fill="#70ff80" filter="url(#bl2)"/>
<path d="M651.1 237.3a1.15 1.15 0 1 0 2.3 0a1.15 1.15 0 1 0 -2.3 0" fill="#08f4f0" filter="url(#bl2)"/>
<path d="M622 227.3a1.8 1.8 0 1 0 3.6 0a1.8 1.8 0 1 0 -3.6 0" fill="#70ff80" filter="url(#bl2)"/>
<path d="M622.6 227.3a1.15 1.15 0 1 0 2.3 0a1.15 1.15 0 1 0 -2.3 0" fill="#08f4f0" filter="url(#bl2)"/>
<path d="M635 247.3a1.8 1.8 0 1 0 3.6 0a1.8 1.8 0 1 0 -3.6 0" fill="#70ff80" filter="url(#bl2)"/>
<path d="M635.6 247.3a1.15 1.15 0 1 0 2.3 0a1.15 1.15 0 1 0 -2.3 0" fill="#08f4f0" filter="url(#bl2)"/>
<path d="M631 247.8a1.8 1.8 0 1 0 3.6 0a1.8 1.8 0 1 0 -3.6 0" fill="#70ff80" filter="url(#bl2)"/>
<path d="M631.6 247.8a1.15 1.15 0 1 0 2.3 0a1.15 1.15 0 1 0 -2.3 0" fill="#08f4f0" filter="url(#bl2)"/>
</g>
<g clip-path="url(#cf41)">
<rect x="608.8" y="267.2" width="46.7" height="56.5" fill="#a8f800" stroke="none" stroke-width="0.6"/>
<g filter="url(#bl1)">
<rect x="614.8" y="275.7" width="35.2" height="43" fill="#3cf600" stroke="none" stroke-width="0.6"/>
<rect x="610.3" y="271.2" width="4" height="40" fill="#c0f800" stroke="none" stroke-width="0.6"/>
<rect x="651" y="273.2" width="3.5" height="40" fill="#b8f800" stroke="none" stroke-width="0.6"/>
<rect x="611.8" y="317.2" width="40.7" height="6" fill="#70f400" stroke="none" stroke-width="0.6" opacity="0.8"/>
<rect x="615.6" y="265.2" width="4.8" height="8.5" fill="#70f000" stroke="none" stroke-width="0.6"/>
<rect x="643.3" y="265.2" width="4.8" height="8.5" fill="#30f0a0" stroke="none" stroke-width="0.6"/>
<ellipse cx="631.3" cy="271.4" rx="10.1" ry="3.75" fill="#e0f800"/>
<ellipse cx="631.3" cy="271.4" rx="6.08" ry="2.68" fill="#f4f000"/>
<ellipse cx="631.3" cy="271.8" rx="7.8" ry="2.4" fill="#ffc800"/>
<rect x="610.8" y="270.2" width="2.6" height="22" fill="#d8f400" stroke="none" stroke-width="0.6"/>
<rect x="611" y="270.7" width="2.2" height="10" fill="#ffd400" stroke="none" stroke-width="0.6"/>
</g>
<path d="M624 294.2a1.8 1.8 0 1 0 3.6 0a1.8 1.8 0 1 0 -3.6 0" fill="#70ff80" filter="url(#bl2)"/>
<path d="M624.6 294.2a1.15 1.15 0 1 0 2.3 0a1.15 1.15 0 1 0 -2.3 0" fill="#08f4f0" filter="url(#bl2)"/>
<path d="M637 300.2a1.8 1.8 0 1 0 3.6 0a1.8 1.8 0 1 0 -3.6 0" fill="#70ff80" filter="url(#bl2)"/>
<path d="M637.6 300.2a1.15 1.15 0 1 0 2.3 0a1.15 1.15 0 1 0 -2.3 0" fill="#08f4f0" filter="url(#bl2)"/>
<path d="M621 304.2a1.8 1.8 0 1 0 3.6 0a1.8 1.8 0 1 0 -3.6 0" fill="#70ff80" filter="url(#bl2)"/>
<path d="M621.6 304.2a1.15 1.15 0 1 0 2.3 0a1.15 1.15 0 1 0 -2.3 0" fill="#08f4f0" filter="url(#bl2)"/>
<path d="M639 307.2a1.8 1.8 0 1 0 3.6 0a1.8 1.8 0 1 0 -3.6 0" fill="#70ff80" filter="url(#bl2)"/>
<path d="M639.6 307.2a1.15 1.15 0 1 0 2.3 0a1.15 1.15 0 1 0 -2.3 0" fill="#08f4f0" filter="url(#bl2)"/>
<path d="M630 315.2a1.8 1.8 0 1 0 3.6 0a1.8 1.8 0 1 0 -3.6 0" fill="#70ff80" filter="url(#bl2)"/>
<path d="M630.6 315.2a1.15 1.15 0 1 0 2.3 0a1.15 1.15 0 1 0 -2.3 0" fill="#08f4f0" filter="url(#bl2)"/>
<path d="M647 281.2a1.8 1.8 0 1 0 3.6 0a1.8 1.8 0 1 0 -3.6 0" fill="#70ff80" filter="url(#bl2)"/>
<path d="M647.6 281.2a1.15 1.15 0 1 0 2.3 0a1.15 1.15 0 1 0 -2.3 0" fill="#08f4f0" filter="url(#bl2)"/>
<path d="M629 289.2a1.8 1.8 0 1 0 3.6 0a1.8 1.8 0 1 0 -3.6 0" fill="#70ff80" filter="url(#bl2)"/>
<path d="M629.6 289.2a1.15 1.15 0 1 0 2.3 0a1.15 1.15 0 1 0 -2.3 0" fill="#08f4f0" filter="url(#bl2)"/>
<path d="M631.1 300.7a2.2 2.2 0 1 0 4.4 0a2.2 2.2 0 1 0 -4.4 0" fill="#70ff80" filter="url(#bl2)"/>
<path d="M631.8 300.7a1.55 1.55 0 1 0 3.1 0a1.55 1.55 0 1 0 -3.1 0" fill="#08f4f0" filter="url(#bl2)"/>
<path d="M632.6 300.7a0.72 0.72 0 1 0 1.43 0a0.72 0.72 0 1 0 -1.43 0" fill="#1a40ff" filter="url(#bl2)"/>
<g filter="url(#bl2)">
<rect x="607.8" y="266.2" width="2.3" height="58.5" fill="#2a64ff" stroke="none" stroke-width="0.6"/>
<rect x="607.8" y="266.2" width="48.7" height="2.2" fill="#2a64ff" stroke="none" stroke-width="0.6"/>
</g>
<rect x="609.9" y="268.2" width="0.6" height="56.5" fill="#20d0ff" stroke="none" stroke-width="0.6" opacity="0.6"/>
</g>
<rect x="666.5" y="239.4" width="5.4" height="38.1" fill="url(#jet)" stroke="none" stroke-width="0.6"/>
<text x="662.3" y="229.1" font-size="8" textLength="16.4" lengthAdjust="spacingAndGlyphs" stroke="#111" stroke-width="0.2">High</text>
<text x="662.62" y="293.9" font-size="7.6" textLength="14.46" lengthAdjust="spacingAndGlyphs" stroke="#111" stroke-width="0.2">Low</text>
<text x="679.2" y="233.52" font-size="7.7" textLength="51.07" lengthAdjust="spacingAndGlyphs" transform="rotate(90 679.2 233.52)" stroke="#111" stroke-width="0.2">Ultrasonic sign</text>
<g clip-path="url(#clipg)">
<path d="M35 384.3L298 384.3" fill="none" stroke="#c6dff2" stroke-width="5" stroke-linejoin="round" stroke-linecap="round"/>
<path d="M39.7 381.9a0.35 0.35 0 1 0 0.7 0a0.35 0.35 0 1 0 -0.7 0M40.2 386.5a0.35 0.35 0 1 0 0.7 0a0.35 0.35 0 1 0 -0.7 0M44.7 382.2a0.35 0.35 0 1 0 0.7 0a0.35 0.35 0 1 0 -0.7 0M45.9 382.2a0.35 0.35 0 1 0 0.7 0a0.35 0.35 0 1 0 -0.7 0M48.2 386.5a0.35 0.35 0 1 0 0.7 0a0.35 0.35 0 1 0 -0.7 0M49 382.2a0.35 0.35 0 1 0 0.7 0a0.35 0.35 0 1 0 -0.7 0M52.8 386.6a0.35 0.35 0 1 0 0.7 0a0.35 0.35 0 1 0 -0.7 0M58.1 382.1a0.35 0.35 0 1 0 0.7 0a0.35 0.35 0 1 0 -0.7 0M59.1 386.5a0.35 0.35 0 1 0 0.7 0a0.35 0.35 0 1 0 -0.7 0M61.6 382.2a0.35 0.35 0 1 0 0.7 0a0.35 0.35 0 1 0 -0.7 0M62.6 381.7a0.35 0.35 0 1 0 0.7 0a0.35 0.35 0 1 0 -0.7 0M64.8 381.6a0.35 0.35 0 1 0 0.7 0a0.35 0.35 0 1 0 -0.7 0M67.9 386.6a0.35 0.35 0 1 0 0.7 0a0.35 0.35 0 1 0 -0.7 0M68.8 382a0.35 0.35 0 1 0 0.7 0a0.35 0.35 0 1 0 -0.7 0M69.7 386.7a0.35 0.35 0 1 0 0.7 0a0.35 0.35 0 1 0 -0.7 0M70.6 386.8a0.35 0.35 0 1 0 0.7 0a0.35 0.35 0 1 0 -0.7 0M71.6 386.9a0.35 0.35 0 1 0 0.7 0a0.35 0.35 0 1 0 -0.7 0M73.6 381.9a0.35 0.35 0 1 0 0.7 0a0.35 0.35 0 1 0 -0.7 0M74.7 386.9a0.35 0.35 0 1 0 0.7 0a0.35 0.35 0 1 0 -0.7 0M75.7 386.8a0.35 0.35 0 1 0 0.7 0a0.35 0.35 0 1 0 -0.7 0M82.9 386.8a0.35 0.35 0 1 0 0.7 0a0.35 0.35 0 1 0 -0.7 0M83.5 381.7a0.35 0.35 0 1 0 0.7 0a0.35 0.35 0 1 0 -0.7 0M84.5 387a0.35 0.35 0 1 0 0.7 0a0.35 0.35 0 1 0 -0.7 0M85.1 381.9a0.35 0.35 0 1 0 0.7 0a0.35 0.35 0 1 0 -0.7 0M86.1 382a0.35 0.35 0 1 0 0.7 0a0.35 0.35 0 1 0 -0.7 0M86.8 387a0.35 0.35 0 1 0 0.7 0a0.35 0.35 0 1 0 -0.7 0M90.9 381.9a0.35 0.35 0 1 0 0.7 0a0.35 0.35 0 1 0 -0.7 0M92 381.7a0.35 0.35 0 1 0 0.7 0a0.35 0.35 0 1 0 -0.7 0M92.9 382a0.35 0.35 0 1 0 0.7 0a0.35 0.35 0 1 0 -0.7 0M93.6 381.8a0.35 0.35 0 1 0 0.7 0a0.35 0.35 0 1 0 -0.7 0M94.9 386.7a0.35 0.35 0 1 0 0.7 0a0.35 0.35 0 1 0 -0.7 0M98.6 386.7a0.35 0.35 0 1 0 0.7 0a0.35 0.35 0 1 0 -0.7 0M99.3 386.5a0.35 0.35 0 1 0 0.7 0a0.35 0.35 0 1 0 -0.7 0M99.8 386.7a0.35 0.35 0 1 0 0.7 0a0.35 0.35 0 1 0 -0.7 0M101.3 386.6a0.35 0.35 0 1 0 0.7 0a0.35 0.35 0 1 0 -0.7 0M103.2 381.8a0.35 0.35 0 1 0 0.7 0a0.35 0.35 0 1 0 -0.7 0M104.2 381.9a0.35 0.35 0 1 0 0.7 0a0.35 0.35 0 1 0 -0.7 0M107.2 386.9a0.35 0.35 0 1 0 0.7 0a0.35 0.35 0 1 0 -0.7 0M110.6 386.7a0.35 0.35 0 1 0 0.7 0a0.35 0.35 0 1 0 -0.7 0M111.6 381.9a0.35 0.35 0 1 0 0.7 0a0.35 0.35 0 1 0 -0.7 0M112.5 381.9a0.35 0.35 0 1 0 0.7 0a0.35 0.35 0 1 0 -0.7 0M114.2 381.8a0.35 0.35 0 1 0 0.7 0a0.35 0.35 0 1 0 -0.7 0M115 386.4a0.35 0.35 0 1 0 0.7 0a0.35 0.35 0 1 0 -0.7 0M117.5 386.8a0.35 0.35 0 1 0 0.7 0a0.35 0.35 0 1 0 -0.7 0M118.3 381.6a0.35 0.35 0 1 0 0.7 0a0.35 0.35 0 1 0 -0.7 0M123.3 386.9a0.35 0.35 0 1 0 0.7 0a0.35 0.35 0 1 0 -0.7 0M124.2 381.8a0.35 0.35 0 1 0 0.7 0a0.35 0.35 0 1 0 -0.7 0M125.3 382.1a0.35 0.35 0 1 0 0.7 0a0.35 0.35 0 1 0 -0.7 0M126.2 382a0.35 0.35 0 1 0 0.7 0a0.35 0.35 0 1 0 -0.7 0M126.8 381.9a0.35 0.35 0 1 0 0.7 0a0.35 0.35 0 1 0 -0.7 0M133.9 386.9a0.35 0.35 0 1 0 0.7 0a0.35 0.35 0 1 0 -0.7 0M134.7 386.9a0.35 0.35 0 1 0 0.7 0a0.35 0.35 0 1 0 -0.7 0M137.3 381.7a0.35 0.35 0 1 0 0.7 0a0.35 0.35 0 1 0 -0.7 0M139 386.6a0.35 0.35 0 1 0 0.7 0a0.35 0.35 0 1 0 -0.7 0M141.3 382.1a0.35 0.35 0 1 0 0.7 0a0.35 0.35 0 1 0 -0.7 0M143.1 382a0.35 0.35 0 1 0 0.7 0a0.35 0.35 0 1 0 -0.7 0M144.7 382a0.35 0.35 0 1 0 0.7 0a0.35 0.35 0 1 0 -0.7 0M145.4 382a0.35 0.35 0 1 0 0.7 0a0.35 0.35 0 1 0 -0.7 0M147.4 382a0.35 0.35 0 1 0 0.7 0a0.35 0.35 0 1 0 -0.7 0M148.5 382.2a0.35 0.35 0 1 0 0.7 0a0.35 0.35 0 1 0 -0.7 0M152.1 382a0.35 0.35 0 1 0 0.7 0a0.35 0.35 0 1 0 -0.7 0M152.8 386.4a0.35 0.35 0 1 0 0.7 0a0.35 0.35 0 1 0 -0.7 0M153.5 381.6a0.35 0.35 0 1 0 0.7 0a0.35 0.35 0 1 0 -0.7 0M155.9 386.5a0.35 0.35 0 1 0 0.7 0a0.35 0.35 0 1 0 -0.7 0M157.1 382.1a0.35 0.35 0 1 0 0.7 0a0.35 0.35 0 1 0 -0.7 0M158.7 382a0.35 0.35 0 1 0 0.7 0a0.35 0.35 0 1 0 -0.7 0M159.9 381.9a0.35 0.35 0 1 0 0.7 0a0.35 0.35 0 1 0 -0.7 0M161.3 381.9a0.35 0.35 0 1 0 0.7 0a0.35 0.35 0 1 0 -0.7 0M165.3 386.6a0.35 0.35 0 1 0 0.7 0a0.35 0.35 0 1 0 -0.7 0M166.4 381.9a0.35 0.35 0 1 0 0.7 0a0.35 0.35 0 1 0 -0.7 0M169.2 381.8a0.35 0.35 0 1 0 0.7 0a0.35 0.35 0 1 0 -0.7 0M171.8 382.1a0.35 0.35 0 1 0 0.7 0a0.35 0.35 0 1 0 -0.7 0M173.2 381.8a0.35 0.35 0 1 0 0.7 0a0.35 0.35 0 1 0 -0.7 0M175.4 386.9a0.35 0.35 0 1 0 0.7 0a0.35 0.35 0 1 0 -0.7 0M176.8 381.9a0.35 0.35 0 1 0 0.7 0a0.35 0.35 0 1 0 -0.7 0M178.1 386.8a0.35 0.35 0 1 0 0.7 0a0.35 0.35 0 1 0 -0.7 0M179.5 386.5a0.35 0.35 0 1 0 0.7 0a0.35 0.35 0 1 0 -0.7 0M181 386.9a0.35 0.35 0 1 0 0.7 0a0.35 0.35 0 1 0 -0.7 0M182.7 382.1a0.35 0.35 0 1 0 0.7 0a0.35 0.35 0 1 0 -0.7 0M183.6 382.1a0.35 0.35 0 1 0 0.7 0a0.35 0.35 0 1 0 -0.7 0M186.3 381.7a0.35 0.35 0 1 0 0.7 0a0.35 0.35 0 1 0 -0.7 0M191.3 382a0.35 0.35 0 1 0 0.7 0a0.35 0.35 0 1 0 -0.7 0M192.2 382.1a0.35 0.35 0 1 0 0.7 0a0.35 0.35 0 1 0 -0.7 0M194 381.6a0.35 0.35 0 1 0 0.7 0a0.35 0.35 0 1 0 -0.7 0M197.5 382.1a0.35 0.35 0 1 0 0.7 0a0.35 0.35 0 1 0 -0.7 0M199 382.1a0.35 0.35 0 1 0 0.7 0a0.35 0.35 0 1 0 -0.7 0M202.6 386.9a0.35 0.35 0 1 0 0.7 0a0.35 0.35 0 1 0 -0.7 0M203.1 386.9a0.35 0.35 0 1 0 0.7 0a0.35 0.35 0 1 0 -0.7 0M207 386.5a0.35 0.35 0 1 0 0.7 0a0.35 0.35 0 1 0 -0.7 0M208.5 382a0.35 0.35 0 1 0 0.7 0a0.35 0.35 0 1 0 -0.7 0M209.6 386.5a0.35 0.35 0 1 0 0.7 0a0.35 0.35 0 1 0 -0.7 0M210.5 386.8a0.35 0.35 0 1 0 0.7 0a0.35 0.35 0 1 0 -0.7 0M212.9 382a0.35 0.35 0 1 0 0.7 0a0.35 0.35 0 1 0 -0.7 0M213.5 381.9a0.35 0.35 0 1 0 0.7 0a0.35 0.35 0 1 0 -0.7 0M216.8 386.6a0.35 0.35 0 1 0 0.7 0a0.35 0.35 0 1 0 -0.7 0M221.1 386.4a0.35 0.35 0 1 0 0.7 0a0.35 0.35 0 1 0 -0.7 0M222.9 386.8a0.35 0.35 0 1 0 0.7 0a0.35 0.35 0 1 0 -0.7 0M224 386.6a0.35 0.35 0 1 0 0.7 0a0.35 0.35 0 1 0 -0.7 0M225.2 387a0.35 0.35 0 1 0 0.7 0a0.35 0.35 0 1 0 -0.7 0M225.9 381.9a0.35 0.35 0 1 0 0.7 0a0.35 0.35 0 1 0 -0.7 0M229.1 387a0.35 0.35 0 1 0 0.7 0a0.35 0.35 0 1 0 -0.7 0M231 382.2a0.35 0.35 0 1 0 0.7 0a0.35 0.35 0 1 0 -0.7 0M236.2 386.4a0.35 0.35 0 1 0 0.7 0a0.35 0.35 0 1 0 -0.7 0M237.4 386.9a0.35 0.35 0 1 0 0.7 0a0.35 0.35 0 1 0 -0.7 0M238.9 386.6a0.35 0.35 0 1 0 0.7 0a0.35 0.35 0 1 0 -0.7 0M241 382a0.35 0.35 0 1 0 0.7 0a0.35 0.35 0 1 0 -0.7 0M242.8 381.6a0.35 0.35 0 1 0 0.7 0a0.35 0.35 0 1 0 -0.7 0M243.9 386.6a0.35 0.35 0 1 0 0.7 0a0.35 0.35 0 1 0 -0.7 0M245.8 382a0.35 0.35 0 1 0 0.7 0a0.35 0.35 0 1 0 -0.7 0M247.6 381.8a0.35 0.35 0 1 0 0.7 0a0.35 0.35 0 1 0 -0.7 0M248.5 386.8a0.35 0.35 0 1 0 0.7 0a0.35 0.35 0 1 0 -0.7 0M249.1 381.9a0.35 0.35 0 1 0 0.7 0a0.35 0.35 0 1 0 -0.7 0M250.1 381.6a0.35 0.35 0 1 0 0.7 0a0.35 0.35 0 1 0 -0.7 0M250.9 386.7a0.35 0.35 0 1 0 0.7 0a0.35 0.35 0 1 0 -0.7 0M253.4 382a0.35 0.35 0 1 0 0.7 0a0.35 0.35 0 1 0 -0.7 0M254.4 381.9a0.35 0.35 0 1 0 0.7 0a0.35 0.35 0 1 0 -0.7 0M255.2 386.9a0.35 0.35 0 1 0 0.7 0a0.35 0.35 0 1 0 -0.7 0M257.3 381.8a0.35 0.35 0 1 0 0.7 0a0.35 0.35 0 1 0 -0.7 0M258.7 382a0.35 0.35 0 1 0 0.7 0a0.35 0.35 0 1 0 -0.7 0M259.5 386.8a0.35 0.35 0 1 0 0.7 0a0.35 0.35 0 1 0 -0.7 0M264.6 386.8a0.35 0.35 0 1 0 0.7 0a0.35 0.35 0 1 0 -0.7 0M265.6 382a0.35 0.35 0 1 0 0.7 0a0.35 0.35 0 1 0 -0.7 0M266.6 386.6a0.35 0.35 0 1 0 0.7 0a0.35 0.35 0 1 0 -0.7 0M268.8 386.9a0.35 0.35 0 1 0 0.7 0a0.35 0.35 0 1 0 -0.7 0M269.5 386.7a0.35 0.35 0 1 0 0.7 0a0.35 0.35 0 1 0 -0.7 0M270.8 382.2a0.35 0.35 0 1 0 0.7 0a0.35 0.35 0 1 0 -0.7 0M273 381.7a0.35 0.35 0 1 0 0.7 0a0.35 0.35 0 1 0 -0.7 0M273.9 386.9a0.35 0.35 0 1 0 0.7 0a0.35 0.35 0 1 0 -0.7 0M277.6 386.7a0.35 0.35 0 1 0 0.7 0a0.35 0.35 0 1 0 -0.7 0M280.9 386.9a0.35 0.35 0 1 0 0.7 0a0.35 0.35 0 1 0 -0.7 0M283.4 381.8a0.35 0.35 0 1 0 0.7 0a0.35 0.35 0 1 0 -0.7 0M285 382.2a0.35 0.35 0 1 0 0.7 0a0.35 0.35 0 1 0 -0.7 0M286.7 382.2a0.35 0.35 0 1 0 0.7 0a0.35 0.35 0 1 0 -0.7 0M288.4 386.5a0.35 0.35 0 1 0 0.7 0a0.35 0.35 0 1 0 -0.7 0M292.2 381.8a0.35 0.35 0 1 0 0.7 0a0.35 0.35 0 1 0 -0.7 0M293.2 381.7a0.35 0.35 0 1 0 0.7 0a0.35 0.35 0 1 0 -0.7 0M297.2 381.9a0.35 0.35 0 1 0 0.7 0a0.35 0.35 0 1 0 -0.7 0" fill="#ee6e70"/>
<path d="M35.1 384.8a0.4 0.4 0 1 0 0.8 0a0.4 0.4 0 1 0 -0.8 0M36.2 386a0.4 0.4 0 1 0 0.8 0a0.4 0.4 0 1 0 -0.8 0M37.5 382.5a0.4 0.4 0 1 0 0.8 0a0.4 0.4 0 1 0 -0.8 0M38.7 384.9a0.4 0.4 0 1 0 0.8 0a0.4 0.4 0 1 0 -0.8 0M39.3 384.2a0.4 0.4 0 1 0 0.8 0a0.4 0.4 0 1 0 -0.8 0M39.8 383.2a0.4 0.4 0 1 0 0.8 0a0.4 0.4 0 1 0 -0.8 0M41 382.9a0.4 0.4 0 1 0 0.8 0a0.4 0.4 0 1 0 -0.8 0M41.6 382.4a0.4 0.4 0 1 0 0.8 0a0.4 0.4 0 1 0 -0.8 0M42.2 383.2a0.4 0.4 0 1 0 0.8 0a0.4 0.4 0 1 0 -0.8 0M43.4 383.5a0.4 0.4 0 1 0 0.8 0a0.4 0.4 0 1 0 -0.8 0M44.4 385a0.4 0.4 0 1 0 0.8 0a0.4 0.4 0 1 0 -0.8 0M45.6 383.5a0.4 0.4 0 1 0 0.8 0a0.4 0.4 0 1 0 -0.8 0M46.3 383.7a0.4 0.4 0 1 0 0.8 0a0.4 0.4 0 1 0 -0.8 0M47.3 384.7a0.4 0.4 0 1 0 0.8 0a0.4 0.4 0 1 0 -0.8 0M47.8 383.8a0.4 0.4 0 1 0 0.8 0a0.4 0.4 0 1 0 -0.8 0M48.7 383.1a0.4 0.4 0 1 0 0.8 0a0.4 0.4 0 1 0 -0.8 0M49.5 383.9a0.4 0.4 0 1 0 0.8 0a0.4 0.4 0 1 0 -0.8 0M50.3 383.8a0.4 0.4 0 1 0 0.8 0a0.4 0.4 0 1 0 -0.8 0M51.2 385.1a0.4 0.4 0 1 0 0.8 0a0.4 0.4 0 1 0 -0.8 0M52.4 382.9a0.4 0.4 0 1 0 0.8 0a0.4 0.4 0 1 0 -0.8 0M53.2 384.4a0.4 0.4 0 1 0 0.8 0a0.4 0.4 0 1 0 -0.8 0M53.8 385.2a0.4 0.4 0 1 0 0.8 0a0.4 0.4 0 1 0 -0.8 0M55 382.5a0.4 0.4 0 1 0 0.8 0a0.4 0.4 0 1 0 -0.8 0M55.6 383.7a0.4 0.4 0 1 0 0.8 0a0.4 0.4 0 1 0 -0.8 0M56.8 383.7a0.4 0.4 0 1 0 0.8 0a0.4 0.4 0 1 0 -0.8 0M57.7 383.6a0.4 0.4 0 1 0 0.8 0a0.4 0.4 0 1 0 -0.8 0M58.7 385.1a0.4 0.4 0 1 0 0.8 0a0.4 0.4 0 1 0 -0.8 0M59.3 386.1a0.4 0.4 0 1 0 0.8 0a0.4 0.4 0 1 0 -0.8 0M60.1 383.3a0.4 0.4 0 1 0 0.8 0a0.4 0.4 0 1 0 -0.8 0M61.3 384.1a0.4 0.4 0 1 0 0.8 0a0.4 0.4 0 1 0 -0.8 0M62.3 385.4a0.4 0.4 0 1 0 0.8 0a0.4 0.4 0 1 0 -0.8 0M63.4 386a0.4 0.4 0 1 0 0.8 0a0.4 0.4 0 1 0 -0.8 0M64.5 382.8a0.4 0.4 0 1 0 0.8 0a0.4 0.4 0 1 0 -0.8 0M65.3 382.9a0.4 0.4 0 1 0 0.8 0a0.4 0.4 0 1 0 -0.8 0M66.3 383a0.4 0.4 0 1 0 0.8 0a0.4 0.4 0 1 0 -0.8 0M67.6 385a0.4 0.4 0 1 0 0.8 0a0.4 0.4 0 1 0 -0.8 0M68.4 383a0.4 0.4 0 1 0 0.8 0a0.4 0.4 0 1 0 -0.8 0M69.3 383.7a0.4 0.4 0 1 0 0.8 0a0.4 0.4 0 1 0 -0.8 0M70.3 384.3a0.4 0.4 0 1 0 0.8 0a0.4 0.4 0 1 0 -0.8 0M71.3 385.3a0.4 0.4 0 1 0 0.8 0a0.4 0.4 0 1 0 -0.8 0M72 386.1a0.4 0.4 0 1 0 0.8 0a0.4 0.4 0 1 0 -0.8 0M73.3 383.7a0.4 0.4 0 1 0 0.8 0a0.4 0.4 0 1 0 -0.8 0M74.4 383.6a0.4 0.4 0 1 0 0.8 0a0.4 0.4 0 1 0 -0.8 0M75.4 385.4a0.4 0.4 0 1 0 0.8 0a0.4 0.4 0 1 0 -0.8 0M76.6 383.7a0.4 0.4 0 1 0 0.8 0a0.4 0.4 0 1 0 -0.8 0M77.8 385a0.4 0.4 0 1 0 0.8 0a0.4 0.4 0 1 0 -0.8 0M79 384.4a0.4 0.4 0 1 0 0.8 0a0.4 0.4 0 1 0 -0.8 0M79.7 385.6a0.4 0.4 0 1 0 0.8 0a0.4 0.4 0 1 0 -0.8 0M80.5 385a0.4 0.4 0 1 0 0.8 0a0.4 0.4 0 1 0 -0.8 0M81.6 383.1a0.4 0.4 0 1 0 0.8 0a0.4 0.4 0 1 0 -0.8 0M82.6 384.9a0.4 0.4 0 1 0 0.8 0a0.4 0.4 0 1 0 -0.8 0M83.1 383a0.4 0.4 0 1 0 0.8 0a0.4 0.4 0 1 0 -0.8 0M84.2 384.8a0.4 0.4 0 1 0 0.8 0a0.4 0.4 0 1 0 -0.8 0M84.8 385.8a0.4 0.4 0 1 0 0.8 0a0.4 0.4 0 1 0 -0.8 0M85.7 384a0.4 0.4 0 1 0 0.8 0a0.4 0.4 0 1 0 -0.8 0M86.4 385.8a0.4 0.4 0 1 0 0.8 0a0.4 0.4 0 1 0 -0.8 0M87.6 385.7a0.4 0.4 0 1 0 0.8 0a0.4 0.4 0 1 0 -0.8 0M88.5 386.1a0.4 0.4 0 1 0 0.8 0a0.4 0.4 0 1 0 -0.8 0M89.3 383.5a0.4 0.4 0 1 0 0.8 0a0.4 0.4 0 1 0 -0.8 0M90.5 383.5a0.4 0.4 0 1 0 0.8 0a0.4 0.4 0 1 0 -0.8 0M91.7 384.8a0.4 0.4 0 1 0 0.8 0a0.4 0.4 0 1 0 -0.8 0M92.5 384.2a0.4 0.4 0 1 0 0.8 0a0.4 0.4 0 1 0 -0.8 0M93.3 385.8a0.4 0.4 0 1 0 0.8 0a0.4 0.4 0 1 0 -0.8 0M94.5 384.4a0.4 0.4 0 1 0 0.8 0a0.4 0.4 0 1 0 -0.8 0M95.8 384.3a0.4 0.4 0 1 0 0.8 0a0.4 0.4 0 1 0 -0.8 0M96.9 383.9a0.4 0.4 0 1 0 0.8 0a0.4 0.4 0 1 0 -0.8 0M97.5 384.7a0.4 0.4 0 1 0 0.8 0a0.4 0.4 0 1 0 -0.8 0M98.2 383.4a0.4 0.4 0 1 0 0.8 0a0.4 0.4 0 1 0 -0.8 0M99 384.2a0.4 0.4 0 1 0 0.8 0a0.4 0.4 0 1 0 -0.8 0M99.5 382.9a0.4 0.4 0 1 0 0.8 0a0.4 0.4 0 1 0 -0.8 0M100.2 386a0.4 0.4 0 1 0 0.8 0a0.4 0.4 0 1 0 -0.8 0M100.9 383.4a0.4 0.4 0 1 0 0.8 0a0.4 0.4 0 1 0 -0.8 0M101.9 384.2a0.4 0.4 0 1 0 0.8 0a0.4 0.4 0 1 0 -0.8 0M102.9 385.2a0.4 0.4 0 1 0 0.8 0a0.4 0.4 0 1 0 -0.8 0M103.8 383.7a0.4 0.4 0 1 0 0.8 0a0.4 0.4 0 1 0 -0.8 0M104.6 385.2a0.4 0.4 0 1 0 0.8 0a0.4 0.4 0 1 0 -0.8 0M105.1 383.4a0.4 0.4 0 1 0 0.8 0a0.4 0.4 0 1 0 -0.8 0M106.4 385.8a0.4 0.4 0 1 0 0.8 0a0.4 0.4 0 1 0 -0.8 0M106.9 385.4a0.4 0.4 0 1 0 0.8 0a0.4 0.4 0 1 0 -0.8 0M108 384.2a0.4 0.4 0 1 0 0.8 0a0.4 0.4 0 1 0 -0.8 0M109.1 385.8a0.4 0.4 0 1 0 0.8 0a0.4 0.4 0 1 0 -0.8 0M110.2 383.6a0.4 0.4 0 1 0 0.8 0a0.4 0.4 0 1 0 -0.8 0M111.2 384.2a0.4 0.4 0 1 0 0.8 0a0.4 0.4 0 1 0 -0.8 0M112.2 384.3a0.4 0.4 0 1 0 0.8 0a0.4 0.4 0 1 0 -0.8 0M113.1 382.6a0.4 0.4 0 1 0 0.8 0a0.4 0.4 0 1 0 -0.8 0M113.8 382.7a0.4 0.4 0 1 0 0.8 0a0.4 0.4 0 1 0 -0.8 0M114.7 382.7a0.4 0.4 0 1 0 0.8 0a0.4 0.4 0 1 0 -0.8 0M115.8 383.2a0.4 0.4 0 1 0 0.8 0a0.4 0.4 0 1 0 -0.8 0M117.1 385.1a0.4 0.4 0 1 0 0.8 0a0.4 0.4 0 1 0 -0.8 0M118 383.1a0.4 0.4 0 1 0 0.8 0a0.4 0.4 0 1 0 -0.8 0M118.6 384.5a0.4 0.4 0 1 0 0.8 0a0.4 0.4 0 1 0 -0.8 0M119.7 383.5a0.4 0.4 0 1 0 0.8 0a0.4 0.4 0 1 0 -0.8 0M120.3 383.9a0.4 0.4 0 1 0 0.8 0a0.4 0.4 0 1 0 -0.8 0M120.8 382.7a0.4 0.4 0 1 0 0.8 0a0.4 0.4 0 1 0 -0.8 0M121.7 383.7a0.4 0.4 0 1 0 0.8 0a0.4 0.4 0 1 0 -0.8 0M122.9 382.9a0.4 0.4 0 1 0 0.8 0a0.4 0.4 0 1 0 -0.8 0M123.9 384.8a0.4 0.4 0 1 0 0.8 0a0.4 0.4 0 1 0 -0.8 0M125 384.4a0.4 0.4 0 1 0 0.8 0a0.4 0.4 0 1 0 -0.8 0M125.9 383.9a0.4 0.4 0 1 0 0.8 0a0.4 0.4 0 1 0 -0.8 0M126.4 384.9a0.4 0.4 0 1 0 0.8 0a0.4 0.4 0 1 0 -0.8 0M127.3 383.9a0.4 0.4 0 1 0 0.8 0a0.4 0.4 0 1 0 -0.8 0M128.6 382.8a0.4 0.4 0 1 0 0.8 0a0.4 0.4 0 1 0 -0.8 0M129.5 383.9a0.4 0.4 0 1 0 0.8 0a0.4 0.4 0 1 0 -0.8 0M130.7 384a0.4 0.4 0 1 0 0.8 0a0.4 0.4 0 1 0 -0.8 0M131.8 382.7a0.4 0.4 0 1 0 0.8 0a0.4 0.4 0 1 0 -0.8 0M132.7 383.2a0.4 0.4 0 1 0 0.8 0a0.4 0.4 0 1 0 -0.8 0M133.5 385.6a0.4 0.4 0 1 0 0.8 0a0.4 0.4 0 1 0 -0.8 0M134.3 385.1a0.4 0.4 0 1 0 0.8 0a0.4 0.4 0 1 0 -0.8 0M135.2 385.6a0.4 0.4 0 1 0 0.8 0a0.4 0.4 0 1 0 -0.8 0M136.2 384.6a0.4 0.4 0 1 0 0.8 0a0.4 0.4 0 1 0 -0.8 0M137 382.8a0.4 0.4 0 1 0 0.8 0a0.4 0.4 0 1 0 -0.8 0M137.9 386a0.4 0.4 0 1 0 0.8 0a0.4 0.4 0 1 0 -0.8 0M138.7 384a0.4 0.4 0 1 0 0.8 0a0.4 0.4 0 1 0 -0.8 0M139.5 383.1a0.4 0.4 0 1 0 0.8 0a0.4 0.4 0 1 0 -0.8 0M140.1 385.7a0.4 0.4 0 1 0 0.8 0a0.4 0.4 0 1 0 -0.8 0M141 384.5a0.4 0.4 0 1 0 0.8 0a0.4 0.4 0 1 0 -0.8 0M142 382.5a0.4 0.4 0 1 0 0.8 0a0.4 0.4 0 1 0 -0.8 0M142.8 385.3a0.4 0.4 0 1 0 0.8 0a0.4 0.4 0 1 0 -0.8 0M143.8 384.2a0.4 0.4 0 1 0 0.8 0a0.4 0.4 0 1 0 -0.8 0M144.4 384.9a0.4 0.4 0 1 0 0.8 0a0.4 0.4 0 1 0 -0.8 0M145 383.2a0.4 0.4 0 1 0 0.8 0a0.4 0.4 0 1 0 -0.8 0M146 385.9a0.4 0.4 0 1 0 0.8 0a0.4 0.4 0 1 0 -0.8 0M147.1 383.1a0.4 0.4 0 1 0 0.8 0a0.4 0.4 0 1 0 -0.8 0M148.1 383a0.4 0.4 0 1 0 0.8 0a0.4 0.4 0 1 0 -0.8 0M149.2 384a0.4 0.4 0 1 0 0.8 0a0.4 0.4 0 1 0 -0.8 0M149.7 382.6a0.4 0.4 0 1 0 0.8 0a0.4 0.4 0 1 0 -0.8 0M150.5 382.6a0.4 0.4 0 1 0 0.8 0a0.4 0.4 0 1 0 -0.8 0M151.8 384.4a0.4 0.4 0 1 0 0.8 0a0.4 0.4 0 1 0 -0.8 0M152.5 385.5a0.4 0.4 0 1 0 0.8 0a0.4 0.4 0 1 0 -0.8 0M153.2 382.6a0.4 0.4 0 1 0 0.8 0a0.4 0.4 0 1 0 -0.8 0M154.3 384.1a0.4 0.4 0 1 0 0.8 0a0.4 0.4 0 1 0 -0.8 0M155.5 386a0.4 0.4 0 1 0 0.8 0a0.4 0.4 0 1 0 -0.8 0M156.2 385.9a0.4 0.4 0 1 0 0.8 0a0.4 0.4 0 1 0 -0.8 0M156.8 386.1a0.4 0.4 0 1 0 0.8 0a0.4 0.4 0 1 0 -0.8 0M157.5 382.5a0.4 0.4 0 1 0 0.8 0a0.4 0.4 0 1 0 -0.8 0M158.4 384.6a0.4 0.4 0 1 0 0.8 0a0.4 0.4 0 1 0 -0.8 0M159.6 383.6a0.4 0.4 0 1 0 0.8 0a0.4 0.4 0 1 0 -0.8 0M160.2 384.2a0.4 0.4 0 1 0 0.8 0a0.4 0.4 0 1 0 -0.8 0M160.9 383.9a0.4 0.4 0 1 0 0.8 0a0.4 0.4 0 1 0 -0.8 0M162 385.4a0.4 0.4 0 1 0 0.8 0a0.4 0.4 0 1 0 -0.8 0M163 383.4a0.4 0.4 0 1 0 0.8 0a0.4 0.4 0 1 0 -0.8 0M163.7 385.1a0.4 0.4 0 1 0 0.8 0a0.4 0.4 0 1 0 -0.8 0M164.9 385.8a0.4 0.4 0 1 0 0.8 0a0.4 0.4 0 1 0 -0.8 0M166 382.4a0.4 0.4 0 1 0 0.8 0a0.4 0.4 0 1 0 -0.8 0M166.9 385.5a0.4 0.4 0 1 0 0.8 0a0.4 0.4 0 1 0 -0.8 0M168.1 385.2a0.4 0.4 0 1 0 0.8 0a0.4 0.4 0 1 0 -0.8 0M168.8 385.5a0.4 0.4 0 1 0 0.8 0a0.4 0.4 0 1 0 -0.8 0M169.6 382.9a0.4 0.4 0 1 0 0.8 0a0.4 0.4 0 1 0 -0.8 0M170.4 382.5a0.4 0.4 0 1 0 0.8 0a0.4 0.4 0 1 0 -0.8 0M171.4 382.5a0.4 0.4 0 1 0 0.8 0a0.4 0.4 0 1 0 -0.8 0M172.3 383.4a0.4 0.4 0 1 0 0.8 0a0.4 0.4 0 1 0 -0.8 0M172.8 384.4a0.4 0.4 0 1 0 0.8 0a0.4 0.4 0 1 0 -0.8 0M173.3 384.6a0.4 0.4 0 1 0 0.8 0a0.4 0.4 0 1 0 -0.8 0M174.4 382.8a0.4 0.4 0 1 0 0.8 0a0.4 0.4 0 1 0 -0.8 0M175 385.1a0.4 0.4 0 1 0 0.8 0a0.4 0.4 0 1 0 -0.8 0M175.6 383.6a0.4 0.4 0 1 0 0.8 0a0.4 0.4 0 1 0 -0.8 0M176.5 384a0.4 0.4 0 1 0 0.8 0a0.4 0.4 0 1 0 -0.8 0M177.8 384.7a0.4 0.4 0 1 0 0.8 0a0.4 0.4 0 1 0 -0.8 0M178.4 382.4a0.4 0.4 0 1 0 0.8 0a0.4 0.4 0 1 0 -0.8 0M179.1 385.1a0.4 0.4 0 1 0 0.8 0a0.4 0.4 0 1 0 -0.8 0M179.8 383.2a0.4 0.4 0 1 0 0.8 0a0.4 0.4 0 1 0 -0.8 0M180.6 385.3a0.4 0.4 0 1 0 0.8 0a0.4 0.4 0 1 0 -0.8 0M181.8 384.9a0.4 0.4 0 1 0 0.8 0a0.4 0.4 0 1 0 -0.8 0M182.3 384.3a0.4 0.4 0 1 0 0.8 0a0.4 0.4 0 1 0 -0.8 0M183.2 382.5a0.4 0.4 0 1 0 0.8 0a0.4 0.4 0 1 0 -0.8 0M184 385.9a0.4 0.4 0 1 0 0.8 0a0.4 0.4 0 1 0 -0.8 0M185.1 384.2a0.4 0.4 0 1 0 0.8 0a0.4 0.4 0 1 0 -0.8 0M186 382.7a0.4 0.4 0 1 0 0.8 0a0.4 0.4 0 1 0 -0.8 0M187 384.8a0.4 0.4 0 1 0 0.8 0a0.4 0.4 0 1 0 -0.8 0M187.5 385a0.4 0.4 0 1 0 0.8 0a0.4 0.4 0 1 0 -0.8 0M188.4 384.3a0.4 0.4 0 1 0 0.8 0a0.4 0.4 0 1 0 -0.8 0M189.4 384.1a0.4 0.4 0 1 0 0.8 0a0.4 0.4 0 1 0 -0.8 0M190.4 386a0.4 0.4 0 1 0 0.8 0a0.4 0.4 0 1 0 -0.8 0M191 383a0.4 0.4 0 1 0 0.8 0a0.4 0.4 0 1 0 -0.8 0M191.9 383.5a0.4 0.4 0 1 0 0.8 0a0.4 0.4 0 1 0 -0.8 0M192.9 385.7a0.4 0.4 0 1 0 0.8 0a0.4 0.4 0 1 0 -0.8 0M193.7 386.1a0.4 0.4 0 1 0 0.8 0a0.4 0.4 0 1 0 -0.8 0M194.8 384.9a0.4 0.4 0 1 0 0.8 0a0.4 0.4 0 1 0 -0.8 0M196 385a0.4 0.4 0 1 0 0.8 0a0.4 0.4 0 1 0 -0.8 0M197.1 384.7a0.4 0.4 0 1 0 0.8 0a0.4 0.4 0 1 0 -0.8 0M197.8 386.1a0.4 0.4 0 1 0 0.8 0a0.4 0.4 0 1 0 -0.8 0M198.6 382.4a0.4 0.4 0 1 0 0.8 0a0.4 0.4 0 1 0 -0.8 0M199.5 383.2a0.4 0.4 0 1 0 0.8 0a0.4 0.4 0 1 0 -0.8 0M200.3 383.6a0.4 0.4 0 1 0 0.8 0a0.4 0.4 0 1 0 -0.8 0M201.5 385a0.4 0.4 0 1 0 0.8 0a0.4 0.4 0 1 0 -0.8 0M202.2 382.8a0.4 0.4 0 1 0 0.8 0a0.4 0.4 0 1 0 -0.8 0M202.8 386a0.4 0.4 0 1 0 0.8 0a0.4 0.4 0 1 0 -0.8 0M203.4 382.6a0.4 0.4 0 1 0 0.8 0a0.4 0.4 0 1 0 -0.8 0M204.6 385.7a0.4 0.4 0 1 0 0.8 0a0.4 0.4 0 1 0 -0.8 0M205.4 384a0.4 0.4 0 1 0 0.8 0a0.4 0.4 0 1 0 -0.8 0M206.7 383.5a0.4 0.4 0 1 0 0.8 0a0.4 0.4 0 1 0 -0.8 0M207.2 382.8a0.4 0.4 0 1 0 0.8 0a0.4 0.4 0 1 0 -0.8 0M208.2 383.1a0.4 0.4 0 1 0 0.8 0a0.4 0.4 0 1 0 -0.8 0M209.2 385.2a0.4 0.4 0 1 0 0.8 0a0.4 0.4 0 1 0 -0.8 0M210.1 382.7a0.4 0.4 0 1 0 0.8 0a0.4 0.4 0 1 0 -0.8 0M211.4 383.3a0.4 0.4 0 1 0 0.8 0a0.4 0.4 0 1 0 -0.8 0M212.6 384.2a0.4 0.4 0 1 0 0.8 0a0.4 0.4 0 1 0 -0.8 0M213.1 383.7a0.4 0.4 0 1 0 0.8 0a0.4 0.4 0 1 0 -0.8 0M214 383.6a0.4 0.4 0 1 0 0.8 0a0.4 0.4 0 1 0 -0.8 0M214.6 385.8a0.4 0.4 0 1 0 0.8 0a0.4 0.4 0 1 0 -0.8 0M215.6 385.7a0.4 0.4 0 1 0 0.8 0a0.4 0.4 0 1 0 -0.8 0M216.4 385.5a0.4 0.4 0 1 0 0.8 0a0.4 0.4 0 1 0 -0.8 0M217.3 385a0.4 0.4 0 1 0 0.8 0a0.4 0.4 0 1 0 -0.8 0M217.8 383.9a0.4 0.4 0 1 0 0.8 0a0.4 0.4 0 1 0 -0.8 0M218.6 382.8a0.4 0.4 0 1 0 0.8 0a0.4 0.4 0 1 0 -0.8 0M219.4 385a0.4 0.4 0 1 0 0.8 0a0.4 0.4 0 1 0 -0.8 0M220.7 386a0.4 0.4 0 1 0 0.8 0a0.4 0.4 0 1 0 -0.8 0M221.9 386.2a0.4 0.4 0 1 0 0.8 0a0.4 0.4 0 1 0 -0.8 0M222.5 383.7a0.4 0.4 0 1 0 0.8 0a0.4 0.4 0 1 0 -0.8 0M223.6 382.7a0.4 0.4 0 1 0 0.8 0a0.4 0.4 0 1 0 -0.8 0M224.8 384.4a0.4 0.4 0 1 0 0.8 0a0.4 0.4 0 1 0 -0.8 0M225.5 385.1a0.4 0.4 0 1 0 0.8 0a0.4 0.4 0 1 0 -0.8 0M226.4 383.1a0.4 0.4 0 1 0 0.8 0a0.4 0.4 0 1 0 -0.8 0M227.6 383.3a0.4 0.4 0 1 0 0.8 0a0.4 0.4 0 1 0 -0.8 0M228.2 382.7a0.4 0.4 0 1 0 0.8 0a0.4 0.4 0 1 0 -0.8 0M228.8 385.5a0.4 0.4 0 1 0 0.8 0a0.4 0.4 0 1 0 -0.8 0M230 382.7a0.4 0.4 0 1 0 0.8 0a0.4 0.4 0 1 0 -0.8 0M230.6 385.5a0.4 0.4 0 1 0 0.8 0a0.4 0.4 0 1 0 -0.8 0M231.6 385.6a0.4 0.4 0 1 0 0.8 0a0.4 0.4 0 1 0 -0.8 0M232.1 383a0.4 0.4 0 1 0 0.8 0a0.4 0.4 0 1 0 -0.8 0M233 385.7a0.4 0.4 0 1 0 0.8 0a0.4 0.4 0 1 0 -0.8 0M234 384.7a0.4 0.4 0 1 0 0.8 0a0.4 0.4 0 1 0 -0.8 0M234.7 384a0.4 0.4 0 1 0 0.8 0a0.4 0.4 0 1 0 -0.8 0M235.9 385.5a0.4 0.4 0 1 0 0.8 0a0.4 0.4 0 1 0 -0.8 0M237 383a0.4 0.4 0 1 0 0.8 0a0.4 0.4 0 1 0 -0.8 0M237.9 386.1a0.4 0.4 0 1 0 0.8 0a0.4 0.4 0 1 0 -0.8 0M238.5 384a0.4 0.4 0 1 0 0.8 0a0.4 0.4 0 1 0 -0.8 0M239 384.8a0.4 0.4 0 1 0 0.8 0a0.4 0.4 0 1 0 -0.8 0M240.1 382.7a0.4 0.4 0 1 0 0.8 0a0.4 0.4 0 1 0 -0.8 0M240.7 384a0.4 0.4 0 1 0 0.8 0a0.4 0.4 0 1 0 -0.8 0M241.6 383.6a0.4 0.4 0 1 0 0.8 0a0.4 0.4 0 1 0 -0.8 0M242.4 382.7a0.4 0.4 0 1 0 0.8 0a0.4 0.4 0 1 0 -0.8 0M243.6 382.7a0.4 0.4 0 1 0 0.8 0a0.4 0.4 0 1 0 -0.8 0M244.3 383.5a0.4 0.4 0 1 0 0.8 0a0.4 0.4 0 1 0 -0.8 0M245.5 384.5a0.4 0.4 0 1 0 0.8 0a0.4 0.4 0 1 0 -0.8 0M246.3 383.8a0.4 0.4 0 1 0 0.8 0a0.4 0.4 0 1 0 -0.8 0M247.2 386.1a0.4 0.4 0 1 0 0.8 0a0.4 0.4 0 1 0 -0.8 0M248.2 385.2a0.4 0.4 0 1 0 0.8 0a0.4 0.4 0 1 0 -0.8 0M248.7 382.5a0.4 0.4 0 1 0 0.8 0a0.4 0.4 0 1 0 -0.8 0M249.7 385.4a0.4 0.4 0 1 0 0.8 0a0.4 0.4 0 1 0 -0.8 0M250.5 383.7a0.4 0.4 0 1 0 0.8 0a0.4 0.4 0 1 0 -0.8 0M251.1 382.9a0.4 0.4 0 1 0 0.8 0a0.4 0.4 0 1 0 -0.8 0M252 383.4a0.4 0.4 0 1 0 0.8 0a0.4 0.4 0 1 0 -0.8 0M253 383.9a0.4 0.4 0 1 0 0.8 0a0.4 0.4 0 1 0 -0.8 0M254.1 384.8a0.4 0.4 0 1 0 0.8 0a0.4 0.4 0 1 0 -0.8 0M254.9 385.9a0.4 0.4 0 1 0 0.8 0a0.4 0.4 0 1 0 -0.8 0M255.5 383.7a0.4 0.4 0 1 0 0.8 0a0.4 0.4 0 1 0 -0.8 0M256.4 383.2a0.4 0.4 0 1 0 0.8 0a0.4 0.4 0 1 0 -0.8 0M257 382.7a0.4 0.4 0 1 0 0.8 0a0.4 0.4 0 1 0 -0.8 0M257.8 385.5a0.4 0.4 0 1 0 0.8 0a0.4 0.4 0 1 0 -0.8 0M258.4 382.9a0.4 0.4 0 1 0 0.8 0a0.4 0.4 0 1 0 -0.8 0M259.2 384.8a0.4 0.4 0 1 0 0.8 0a0.4 0.4 0 1 0 -0.8 0M260.4 385.9a0.4 0.4 0 1 0 0.8 0a0.4 0.4 0 1 0 -0.8 0M261.4 384.5a0.4 0.4 0 1 0 0.8 0a0.4 0.4 0 1 0 -0.8 0M262.2 382.9a0.4 0.4 0 1 0 0.8 0a0.4 0.4 0 1 0 -0.8 0M263.2 384.7a0.4 0.4 0 1 0 0.8 0a0.4 0.4 0 1 0 -0.8 0M264.2 382.5a0.4 0.4 0 1 0 0.8 0a0.4 0.4 0 1 0 -0.8 0M265.2 384.7a0.4 0.4 0 1 0 0.8 0a0.4 0.4 0 1 0 -0.8 0M266.3 384.6a0.4 0.4 0 1 0 0.8 0a0.4 0.4 0 1 0 -0.8 0M267.2 384.5a0.4 0.4 0 1 0 0.8 0a0.4 0.4 0 1 0 -0.8 0M268.5 385a0.4 0.4 0 1 0 0.8 0a0.4 0.4 0 1 0 -0.8 0M269.2 383.5a0.4 0.4 0 1 0 0.8 0a0.4 0.4 0 1 0 -0.8 0M270.4 384.2a0.4 0.4 0 1 0 0.8 0a0.4 0.4 0 1 0 -0.8 0M271.2 384.7a0.4 0.4 0 1 0 0.8 0a0.4 0.4 0 1 0 -0.8 0M271.8 386.2a0.4 0.4 0 1 0 0.8 0a0.4 0.4 0 1 0 -0.8 0M272.6 384.4a0.4 0.4 0 1 0 0.8 0a0.4 0.4 0 1 0 -0.8 0M273.5 385a0.4 0.4 0 1 0 0.8 0a0.4 0.4 0 1 0 -0.8 0M274.1 383.4a0.4 0.4 0 1 0 0.8 0a0.4 0.4 0 1 0 -0.8 0M275.1 385.8a0.4 0.4 0 1 0 0.8 0a0.4 0.4 0 1 0 -0.8 0M276.1 384a0.4 0.4 0 1 0 0.8 0a0.4 0.4 0 1 0 -0.8 0M277.3 383.5a0.4 0.4 0 1 0 0.8 0a0.4 0.4 0 1 0 -0.8 0M278.4 384.4a0.4 0.4 0 1 0 0.8 0a0.4 0.4 0 1 0 -0.8 0M279.5 382.7a0.4 0.4 0 1 0 0.8 0a0.4 0.4 0 1 0 -0.8 0M280.6 382.8a0.4 0.4 0 1 0 0.8 0a0.4 0.4 0 1 0 -0.8 0M281.5 382.6a0.4 0.4 0 1 0 0.8 0a0.4 0.4 0 1 0 -0.8 0M282.3 384.8a0.4 0.4 0 1 0 0.8 0a0.4 0.4 0 1 0 -0.8 0M283 384a0.4 0.4 0 1 0 0.8 0a0.4 0.4 0 1 0 -0.8 0M283.8 383.7a0.4 0.4 0 1 0 0.8 0a0.4 0.4 0 1 0 -0.8 0M284.6 382.7a0.4 0.4 0 1 0 0.8 0a0.4 0.4 0 1 0 -0.8 0M285.7 385.8a0.4 0.4 0 1 0 0.8 0a0.4 0.4 0 1 0 -0.8 0M286.3 384a0.4 0.4 0 1 0 0.8 0a0.4 0.4 0 1 0 -0.8 0M287.2 384.9a0.4 0.4 0 1 0 0.8 0a0.4 0.4 0 1 0 -0.8 0M288 383.8a0.4 0.4 0 1 0 0.8 0a0.4 0.4 0 1 0 -0.8 0M289.1 382.8a0.4 0.4 0 1 0 0.8 0a0.4 0.4 0 1 0 -0.8 0M289.7 386.2a0.4 0.4 0 1 0 0.8 0a0.4 0.4 0 1 0 -0.8 0M290.5 383.4a0.4 0.4 0 1 0 0.8 0a0.4 0.4 0 1 0 -0.8 0M291.8 384a0.4 0.4 0 1 0 0.8 0a0.4 0.4 0 1 0 -0.8 0M292.8 385.9a0.4 0.4 0 1 0 0.8 0a0.4 0.4 0 1 0 -0.8 0M293.4 386a0.4 0.4 0 1 0 0.8 0a0.4 0.4 0 1 0 -0.8 0M294.2 385.9a0.4 0.4 0 1 0 0.8 0a0.4 0.4 0 1 0 -0.8 0M295.1 383.5a0.4 0.4 0 1 0 0.8 0a0.4 0.4 0 1 0 -0.8 0M295.8 384.2a0.4 0.4 0 1 0 0.8 0a0.4 0.4 0 1 0 -0.8 0M296.8 382.9a0.4 0.4 0 1 0 0.8 0a0.4 0.4 0 1 0 -0.8 0M297.5 383.3a0.4 0.4 0 1 0 0.8 0a0.4 0.4 0 1 0 -0.8 0" fill="#6aa2d6"/>
<path d="M35.5 411.8L36.7 413L37.9 412.9L39.1 413.3L40.3 414.1L41.5 414.4L42.7 414.7L43.9 414.7L45.1 415.1L46.3 415.4L47.5 415.6L48.7 415.5L49.9 415.8L51.1 416L52.3 416.3L53.5 416.7L54.7 416.8L55.9 416.6L57.1 416.7L58.3 416.7L59.5 416.6L60.7 416.8L61.9 417.2L63.1 417.2L64.3 417.4L65.5 417.8L66.7 417.7L67.9 417.9L69.1 417.7L70.3 417.7L71.5 418.1L72.7 418.1L73.9 418.5L75.1 418.9L76.3 418.9L77.5 418.7L78.7 419.3L79.9 419.4L81.1 419.5L82.3 419.8L83.5 419.9L84.7 420.1L85.9 420L87.1 420.7L88.3 420.9L89.5 420.5L90.7 421.1L91.9 421.3L93.1 421.4L94.3 421.6L95.5 421.8L96.7 422.4L97.9 422.3L99.1 422.7L100.3 422.6L101.5 423.2L102.7 423.4L103.9 423.3L105.1 423.5L106.3 424L107.5 424L108.7 424L109.9 424L111.1 424.2L112.3 424.6L113.5 424.4L114.7 425.1L115.9 424.8L117.1 425.4L118.3 425.1L119.5 425.7L120.7 425.6L121.9 425.6L123.1 425.8L124.3 426L125.5 426.1L126.7 426L127.9 426.1L129.1 426.4L130.3 426.8L131.5 426.7L132.7 426.5L133.9 427.1L135.1 427.2L136.3 427.4L137.5 427.1L138.7 427.6L139.9 427.2L141.1 427.7L142.3 427.6L143.5 427.7L144.7 428.2L145.9 427.8L147.1 428.2L148.3 428.6L149.5 428.3L150.7 428.4L151.9 428.9L153.1 428.7L154.3 429.1L155.5 428.7L156.7 429L157.9 429L159.1 429.5L160.3 429.2L161.5 429.9L162.7 429.3L163.9 429.9L165.1 429.5L166.3 429.8L167.5 430.3L168.7 429.9L169.9 430.1L171.1 430.5L172.3 430.4L173.5 430.3L174.7 431L175.9 430.6L177.1 430.6L178.3 430.9L179.5 431.2L180.7 431.4L181.9 431.1L183.1 431.3L184.3 431.2L185.5 431.6L186.7 431.9L187.9 432L189.1 432.3L190.3 432.3L191.5 432.4L192.7 432.4L193.9 432.4L195.1 432.3L196.3 432.8L197.5 432.6L198.7 432.6L199.9 433L201.1 433.4L202.3 433L203.5 433.4L204.7 433.4L205.9 433.6L207.1 433.5L208.3 434.2L209.5 433.8L210.7 434.2L211.9 434.2L213.1 434L214.3 434.6L215.5 434.4L216.7 434.5L217.9 434.6L219.1 434.8L220.3 434.9L221.5 435.4L222.7 435.5L223.9 435.9L225.1 436L226.3 436.2L227.5 435.8L228.7 436.1L229.9 436.1L231.1 436.5L232.3 436.6L233.5 436.9L234.7 436.9L235.9 436.8L237.1 437L238.3 437.2L239.5 437L240.7 437.2L241.9 437.5L243.1 437.5L244.3 438L245.5 437.8L246.7 437.9L247.9 438L249.1 438.2L250.3 438.3L251.5 438.7L252.7 438.8L253.9 438.8L255.1 439.1L256.3 439L257.5 439.6L258.7 439.7L259.9 439.7L261.1 439.6L262.3 439.8L263.5 440L264.7 439.7L265.9 440.1L267.1 440.3L268.3 440.2L269.5 440.3L270.7 440.9L271.9 440.7L273.1 440.9L274.3 441.3L275.5 441.3L276.7 441.2L277.9 441.8L279.1 441.5L280.3 441.3L281.5 441.9L282.7 441.6L283.9 441.9L285.1 442.4L286.3 442.4L287.5 442.1L288.7 442.5L289.9 442.6L291.1 442.8L292.3 442.7L293.5 443.1L294.7 442.9L295.9 443.1" fill="none" stroke="#9b9b9b" stroke-width="3.7" stroke-linejoin="round" stroke-linecap="round"/>
<path d="M35 403.1L36.2 403.5L37.4 403.6L38.6 403.9L39.8 404.1L41 403.9L42.2 404L43.4 404.8L44.6 404.5L45.8 404.6L47 405.3L48.2 405.1L49.4 405.5L50.6 405.3L51.8 405.6L53 405.4L54.2 405.8L55.4 406.1L56.6 406L57.8 406.2L59 406.3L60.2 406L61.4 406.6L62.6 406.5L63.8 406.5L65 406.4L66.2 407.1L67.4 406.9L68.6 407.2L69.8 407.4L71 407.4L72.2 407.6L73.4 407.4L74.6 407.7L75.8 407.6L77 408L78.2 408.1L79.4 407.7L80.6 407.8L81.8 408L83 408.6L84.2 408.3L85.4 408.6L86.6 408.4L87.8 408.7L89 408.7L90.2 408.8L91.4 409L92.6 409.1L93.8 409.4L95 409.4L96.2 409.7L97.4 409.7L98.6 409.9L99.8 409.8L101 409.5L102.2 410.1L103.4 410.3L104.6 410.4L105.8 410.3L107 410.5L108.2 410.2L109.4 410.8L110.6 410.7L111.8 410.6L113 410.6L114.2 411.3L115.4 411.5L116.6 411L117.8 411.6L119 411.5L120.2 411.4L121.4 411.6L122.6 412.1L123.8 412.3L125 411.8L126.2 412.4L127.4 412.1L128.6 412.7L129.8 412.5L131 413.1L132.2 413.3L133.4 413.1L134.6 413.5L135.8 413.2L137 413.1L138.2 413.6L139.4 413.4L140.6 413.6L141.8 413.9L143 414.2L144.2 414L145.4 414L146.6 414.7L147.8 414.4L149 415L150.2 415.1L151.4 414.9L152.6 415L153.8 415.2L155 415.4L156.2 415.5L157.4 415.6L158.6 415.8L159.8 416.1L161 415.9L162.2 416L163.4 416.3L164.6 416.1L165.8 416.3L167 416.8L168.2 416.6L169.4 416.8L170.6 416.5L171.8 416.9L173 417.2L174.2 416.9L175.4 417.4L176.6 417.6L177.8 417.3L179 417.8L180.2 417.8L181.4 418.1L182.6 418L183.8 418.3L185 418.5L186.2 418.1L187.4 418.2L188.6 418.8L189.8 419.1L191 418.7L192.2 419L193.4 419.2L194.6 419.1L195.8 419.3L197 419.4L198.2 419.5L199.4 419.8L200.6 419.7L201.8 419.9L203 420.3L204.2 419.9L205.4 420.4L206.6 420.6L207.8 420.5L209 420.5L210.2 421L211.4 420.8L212.6 420.9L213.8 421.1L215 421.5L216.2 421.2L217.4 421.4L218.6 421.6L219.8 422L221 421.9L222.2 422.3L223.4 421.9L224.6 422.2L225.8 422.5L227 422.8L228.2 422.6L229.4 422.6L230.6 422.6L231.8 423L233 422.9L234.2 423.5L235.4 423.6L236.6 423.3L237.8 423.5L239 423.9L240.2 423.9L241.4 424.2L242.6 424L243.8 423.9L245 424.2L246.2 424.6L247.4 424.4L248.6 424.6L249.8 424.7L251 424.8L252.2 424.9L253.4 425.4L254.6 425L255.8 425L257 425.8L258.2 425.8L259.4 426L260.6 425.8L261.8 426.2L263 426.3L264.2 425.9L265.4 426.4L266.6 426.6L267.8 426.6L269 426.6L270.2 426.5L271.4 426.7L272.6 426.7L273.8 426.7L275 427.2L276.2 427.1L277.4 427.5L278.6 427.1L279.8 427.8L281 427.8L282.2 428.1L283.4 428.2L284.6 428.3L285.8 428.1L287 427.9L288.2 428.5L289.4 428.2L290.6 428.4L291.8 428.7L293 428.8L294.2 428.8L295.4 429.3L296.6 429.1" fill="none" stroke="#e3262b" stroke-width="3.7" stroke-linejoin="round" stroke-linecap="round"/>
<path d="M35 400.5L36.2 400.5L37.4 400.8L38.6 400.8L39.8 400.8L41 401.1L42.2 401.6L43.4 401.6L44.6 401.7L45.8 401.4L47 401.7L48.2 401.5L49.4 401.5L50.6 401.5L51.8 401.7L53 402.2L54.2 402.2L55.4 402.2L56.6 402.3L57.8 401.9L59 402L60.2 402.3L61.4 402.4L62.6 402.5L63.8 402.6L65 402.1L66.2 402.5L67.4 402.5L68.6 402.5L69.8 402.3L71 402.5L72.2 402.3L73.4 402.9L74.6 402.9L75.8 402.7L77 402.6L78.2 403L79.4 402.8L80.6 403.1L81.8 403.1L83 402.9L84.2 402.9L85.4 403L86.6 402.9L87.8 402.8L89 402.9L90.2 403.3L91.4 402.8L92.6 402.8L93.8 403.2L95 403L96.2 403.2L97.4 403.2L98.6 403.1L99.8 403.6L101 403.1L102.2 403.3L103.4 403.2L104.6 403.5L105.8 403.3L107 403.4L108.2 403.7L109.4 403.5L110.6 403.7L111.8 404L113 403.4L114.2 403.5L115.4 403.6L116.6 404.1L117.8 404L119 403.8L120.2 403.9L121.4 403.9L122.6 404.1L123.8 403.9L125 404.4L126.2 404.6L127.4 404.7L128.6 404.6L129.8 404.8L131 404.2L132.2 404.5L133.4 405L134.6 405L135.8 404.8L137 405.2L138.2 405L139.4 405.2L140.6 404.9L141.8 404.9L143 405.1L144.2 405L145.4 405.2L146.6 405.7L147.8 405.3L149 405.1L150.2 405.2L151.4 405.3L152.6 405.8L153.8 405.6L155 405.6L156.2 405.5L157.4 406.2L158.6 405.8L159.8 405.7L161 405.7L162.2 405.7L163.4 405.8L164.6 406.2L165.8 405.9L167 405.9L168.2 406.3L169.4 406.1L170.6 406.7L171.8 406.2L173 406.5L174.2 406.7L175.4 406.5L176.6 407L177.8 406.7L179 406.5L180.2 406.7L181.4 406.5L182.6 406.8L183.8 406.7L185 407.2L186.2 407.3L187.4 407.1L188.6 406.8L189.8 407L191 407L192.2 407.1L193.4 407.1L194.6 407.6L195.8 407.2L197 407.2L198.2 407.8L199.4 407.6L200.6 408L201.8 407.6L203 408L204.2 407.9L205.4 408L206.6 408.1L207.8 407.9L209 407.7L210.2 407.8L211.4 408.4L212.6 408.4L213.8 408.5L215 408.1L216.2 408.4L217.4 408.6L218.6 408.5L219.8 408.7L221 408.5L222.2 408.7L223.4 408.8L224.6 408.5L225.8 409L227 409.1L228.2 408.5L229.4 409.2L230.6 409.3L231.8 409.1L233 408.7L234.2 409.4L235.4 408.9L236.6 409.5L237.8 409.4L239 409L240.2 409.1L241.4 409.5L242.6 409.5L243.8 409.7L245 409.9L246.2 409.4L247.4 409.3L248.6 410L249.8 409.5L251 410.1L252.2 409.6L253.4 410.2L254.6 410.2L255.8 410.3L257 410.1L258.2 410.4L259.4 410L260.6 410.4L261.8 410.2L263 410.7L264.2 410.6L265.4 410.5L266.6 410.6L267.8 410.3L269 410.3L270.2 410.8L271.4 410.7L272.6 411.1L273.8 410.9L275 410.7L276.2 410.9L277.4 411.2L278.6 411.1L279.8 410.8L281 411.4L282.2 411.5L283.4 411L284.6 411.4L285.8 411.3L287 411.7L288.2 411.4L289.4 411.4L290.6 411.6L291.8 412L293 411.4L294.2 411.5L295.4 411.9L296.6 412.2" fill="none" stroke="#2178bc" stroke-width="3.7" stroke-linejoin="round" stroke-linecap="round"/>
</g>
<path d="M32.8 407.3a2.1 2.1 0 1 0 4.2 0a2.1 2.1 0 1 0 -4.2 0" fill="#9b9b9b"/>
<path d="M33.3 392.6a2 2 0 1 0 4 0a2 2 0 1 0 -4 0" fill="#e3262b"/>
<path d="M31.9 391.8a2.7 2.7 0 1 0 5.4 0a2.7 2.7 0 1 0 -5.4 0" fill="#2178bc"/>
<path d="M33 403a1.8 1.8 0 1 0 3.6 0a1.8 1.8 0 1 0 -3.6 0" fill="#e3262b"/>
<line x1="33.8" y1="373.6" x2="298.7" y2="373.6" stroke="#555" stroke-width="0.9"/>
<line x1="34.2" y1="373.6" x2="34.2" y2="503.6" stroke="#262626" stroke-width="0.8"/>
<line x1="298.3" y1="373.6" x2="298.3" y2="503.6" stroke="#262626" stroke-width="0.8"/>
<line x1="33.8" y1="503.6" x2="298.7" y2="503.6" stroke="#262626" stroke-width="0.8"/>
<line x1="31.7" y1="503.6" x2="34.2" y2="503.6" stroke="#222" stroke-width="0.8"/>
<text x="30.3" y="506.5" font-size="9.18" text-anchor="end" stroke="#111" stroke-width="0.2" textLength="9.12" lengthAdjust="spacingAndGlyphs">30</text>
<line x1="31.7" y1="477.6" x2="34.2" y2="477.6" stroke="#222" stroke-width="0.8"/>
<text x="30.3" y="480.5" font-size="9.18" text-anchor="end" stroke="#111" stroke-width="0.2" textLength="9.12" lengthAdjust="spacingAndGlyphs">60</text>
<line x1="31.7" y1="451.6" x2="34.2" y2="451.6" stroke="#222" stroke-width="0.8"/>
<text x="30.3" y="454.5" font-size="9.18" text-anchor="end" stroke="#111" stroke-width="0.2" textLength="9.12" lengthAdjust="spacingAndGlyphs">90</text>
<line x1="31.7" y1="425.6" x2="34.2" y2="425.6" stroke="#222" stroke-width="0.8"/>
<text x="30.3" y="428.5" font-size="9.18" text-anchor="end" stroke="#111" stroke-width="0.2" textLength="13.68" lengthAdjust="spacingAndGlyphs">120</text>
<line x1="31.7" y1="399.6" x2="34.2" y2="399.6" stroke="#222" stroke-width="0.8"/>
<text x="30.3" y="402.5" font-size="9.18" text-anchor="end" stroke="#111" stroke-width="0.2" textLength="13.68" lengthAdjust="spacingAndGlyphs">150</text>
<line x1="31.7" y1="373.6" x2="34.2" y2="373.6" stroke="#222" stroke-width="0.8"/>
<text x="30.3" y="376.5" font-size="9.18" text-anchor="end" stroke="#111" stroke-width="0.2" textLength="13.68" lengthAdjust="spacingAndGlyphs">180</text>
<line x1="32.8" y1="490.6" x2="34.2" y2="490.6" stroke="#222" stroke-width="0.8"/>
<line x1="32.8" y1="464.6" x2="34.2" y2="464.6" stroke="#222" stroke-width="0.8"/>
<line x1="32.8" y1="438.6" x2="34.2" y2="438.6" stroke="#222" stroke-width="0.8"/>
<line x1="32.8" y1="412.6" x2="34.2" y2="412.6" stroke="#222" stroke-width="0.8"/>
<line x1="32.8" y1="386.6" x2="34.2" y2="386.6" stroke="#222" stroke-width="0.8"/>
<line x1="298.3" y1="503.3" x2="300.8" y2="503.3" stroke="#222" stroke-width="0.8"/>
<text x="303" y="506.2" font-size="9.18" stroke="#111" stroke-width="0.2" textLength="9.12" lengthAdjust="spacingAndGlyphs">60</text>
<line x1="298.3" y1="488.23" x2="299.7" y2="488.23" stroke="#222" stroke-width="0.8"/>
<line x1="298.3" y1="473.15" x2="300.8" y2="473.15" stroke="#222" stroke-width="0.8"/>
<text x="303" y="476.05" font-size="9.18" stroke="#111" stroke-width="0.2" textLength="9.12" lengthAdjust="spacingAndGlyphs">70</text>
<line x1="298.3" y1="458.08" x2="299.7" y2="458.08" stroke="#222" stroke-width="0.8"/>
<line x1="298.3" y1="443" x2="300.8" y2="443" stroke="#222" stroke-width="0.8"/>
<text x="303" y="445.9" font-size="9.18" stroke="#111" stroke-width="0.2" textLength="9.12" lengthAdjust="spacingAndGlyphs">80</text>
<line x1="298.3" y1="427.93" x2="299.7" y2="427.93" stroke="#222" stroke-width="0.8"/>
<line x1="298.3" y1="412.85" x2="300.8" y2="412.85" stroke="#222" stroke-width="0.8"/>
<text x="303" y="415.75" font-size="9.18" stroke="#111" stroke-width="0.2" textLength="9.12" lengthAdjust="spacingAndGlyphs">90</text>
<line x1="298.3" y1="397.78" x2="299.7" y2="397.78" stroke="#222" stroke-width="0.8"/>
<line x1="298.3" y1="382.7" x2="300.8" y2="382.7" stroke="#222" stroke-width="0.8"/>
<text x="303" y="385.6" font-size="9.18" stroke="#111" stroke-width="0.2" textLength="13.68" lengthAdjust="spacingAndGlyphs">100</text>
<line x1="34.2" y1="503.6" x2="34.2" y2="506.1" stroke="#222" stroke-width="0.8"/>
<text x="34.2" y="513.5" font-size="9.18" text-anchor="middle" stroke="#111" stroke-width="0.2" textLength="4.56" lengthAdjust="spacingAndGlyphs">0</text>
<line x1="71.93" y1="503.6" x2="71.93" y2="506.1" stroke="#222" stroke-width="0.8"/>
<text x="71.93" y="513.5" font-size="9.18" text-anchor="middle" stroke="#111" stroke-width="0.2" textLength="13.68" lengthAdjust="spacingAndGlyphs">200</text>
<line x1="109.66" y1="503.6" x2="109.66" y2="506.1" stroke="#222" stroke-width="0.8"/>
<text x="109.66" y="513.5" font-size="9.18" text-anchor="middle" stroke="#111" stroke-width="0.2" textLength="13.68" lengthAdjust="spacingAndGlyphs">400</text>
<line x1="147.39" y1="503.6" x2="147.39" y2="506.1" stroke="#222" stroke-width="0.8"/>
<text x="147.39" y="513.5" font-size="9.18" text-anchor="middle" stroke="#111" stroke-width="0.2" textLength="13.68" lengthAdjust="spacingAndGlyphs">600</text>
<line x1="185.11" y1="503.6" x2="185.11" y2="506.1" stroke="#222" stroke-width="0.8"/>
<text x="185.11" y="513.5" font-size="9.18" text-anchor="middle" stroke="#111" stroke-width="0.2" textLength="13.68" lengthAdjust="spacingAndGlyphs">800</text>
<line x1="222.84" y1="503.6" x2="222.84" y2="506.1" stroke="#222" stroke-width="0.8"/>
<text x="222.84" y="513.5" font-size="9.18" text-anchor="middle" stroke="#111" stroke-width="0.2" textLength="18.24" lengthAdjust="spacingAndGlyphs">1000</text>
<line x1="260.57" y1="503.6" x2="260.57" y2="506.1" stroke="#222" stroke-width="0.8"/>
<text x="260.57" y="513.5" font-size="9.18" text-anchor="middle" stroke="#111" stroke-width="0.2" textLength="18.24" lengthAdjust="spacingAndGlyphs">1200</text>
<line x1="298.3" y1="503.6" x2="298.3" y2="506.1" stroke="#222" stroke-width="0.8"/>
<text x="298.3" y="513.5" font-size="9.18" text-anchor="middle" stroke="#111" stroke-width="0.2" textLength="18.24" lengthAdjust="spacingAndGlyphs">1400</text>
<line x1="53.06" y1="503.6" x2="53.06" y2="505" stroke="#222" stroke-width="0.8"/>
<line x1="90.79" y1="503.6" x2="90.79" y2="505" stroke="#222" stroke-width="0.8"/>
<line x1="128.52" y1="503.6" x2="128.52" y2="505" stroke="#222" stroke-width="0.8"/>
<line x1="166.25" y1="503.6" x2="166.25" y2="505" stroke="#222" stroke-width="0.8"/>
<line x1="203.98" y1="503.6" x2="203.98" y2="505" stroke="#222" stroke-width="0.8"/>
<line x1="241.71" y1="503.6" x2="241.71" y2="505" stroke="#222" stroke-width="0.8"/>
<line x1="279.44" y1="503.6" x2="279.44" y2="505" stroke="#222" stroke-width="0.8"/>
<text x="139.47" y="527" font-size="8.5" textLength="52.75" lengthAdjust="spacingAndGlyphs" stroke="#111" stroke-width="0.2">Cycle number</text>
<text x="11.5" y="490.73" font-size="8.5" textLength="106.35" lengthAdjust="spacingAndGlyphs" transform="rotate(-90 11.5 490.73)" stroke="#111" stroke-width="0.2">Specific capacity (mAh g<tspan dy="-3" font-size="5.6">−1</tspan><tspan dy="3">)</tspan></text>
<text x="324.2" y="485.82" font-size="8.5" textLength="96.55" lengthAdjust="spacingAndGlyphs" transform="rotate(-90 324.2 485.82)" stroke="#111" stroke-width="0.2">Coulombic efficiency (%)</text>
<rect x="49" y="431.9" width="56.7" height="65.9" fill="#1c1c1c" stroke="none" stroke-width="0.6"/>
<path d="M50.9 448.5 L103.1 447.6 L103.1 495.3 L50.9 495.5 Z" fill="url(#pouch)"/>
<g filter="url(#bl3)" opacity="0.7">
<path d="M52 451 L101.5 449.2 L101.5 494.5 L52 494.5 Z" fill="none" stroke="#c8c8c6" stroke-width="1.5"/>
<path d="M60 462 Q72 455 85 463 Q92 472 86 484" fill="none" stroke="#dedede" stroke-width="2"/>
<path d="M58 480 Q64 490 76 488" fill="none" stroke="#cfcfcd" stroke-width="1.6"/>
</g>
<rect x="61.6" y="433.3" width="2.8" height="16" fill="#b9b6ae" stroke="none" stroke-width="0.6"/>
<rect x="78.3" y="433" width="3" height="15.6" fill="#b2afa7" stroke="none" stroke-width="0.6"/>
<rect x="62.2" y="433.3" width="1" height="16" fill="#d8d6d0" stroke="none" stroke-width="0.6"/>
<rect x="79" y="433" width="1" height="15.6" fill="#d4d2cc" stroke="none" stroke-width="0.6"/>
<path d="M117 466.6a2.2 2.2 0 1 0 4.4 0a2.2 2.2 0 1 0 -4.4 0" fill="#9b9b9b"/>
<text x="130.47" y="469.5" font-size="8.5" textLength="30.05" lengthAdjust="spacingAndGlyphs" stroke="#111" stroke-width="0.2">Gr||LFP</text>
<path d="M117 477.8a2.2 2.2 0 1 0 4.4 0a2.2 2.2 0 1 0 -4.4 0" fill="#e3262b"/>
<text x="130.47" y="480.7" font-size="8.5" textLength="72.25" lengthAdjust="spacingAndGlyphs" stroke="#111" stroke-width="0.2">Gr||LFP+4% L6CO</text>
<path d="M117 488.7a2.2 2.2 0 1 0 4.4 0a2.2 2.2 0 1 0 -4.4 0" fill="#2178bc"/>
<text x="130.47" y="491.6" font-size="8.5" textLength="86.25" lengthAdjust="spacingAndGlyphs" stroke="#111" stroke-width="0.2">Gr||LFP+4% L6CO@S</text>
<text x="270.37" y="406.7" font-size="8.55" textLength="24.86" lengthAdjust="spacingAndGlyphs" stroke="#111" stroke-width="0.2">91.4%</text>
<text x="270.37" y="438" font-size="8.55" textLength="24.86" lengthAdjust="spacingAndGlyphs" stroke="#111" stroke-width="0.2">78.9%</text>
<text x="270.37" y="455.4" font-size="8.55" textLength="24.86" lengthAdjust="spacingAndGlyphs" stroke="#111" stroke-width="0.2">72.1%</text>
<text x="228.77" y="481.4" font-size="8.5" textLength="40.95" lengthAdjust="spacingAndGlyphs" stroke="#111" stroke-width="0.2">Rate: 0.5C</text>
<text x="228.77" y="491" font-size="8.55" textLength="63.66" lengthAdjust="spacingAndGlyphs" stroke="#111" stroke-width="0.2">Voltage: 2–3.8 V</text>
<path d="M56.7 424.2 Q50 428.8 37.6 428.7" fill="none" stroke="#111" stroke-width="0.75"/>
<path d="M37.1 428.7 L40.81 427.43 L40.79 430.03 Z" fill="#111"/>
<path d="M277.4 388.5 Q283 393.5 295.2 393.1" fill="none" stroke="#111" stroke-width="0.75"/>
<path d="M295.7 393.08 L292.04 394.5 L291.96 391.91 Z" fill="#111"/>
<g clip-path="url(#cliph)">
<path d="M397.5 388.3L398.2 388.2L399.2 388.2L400.3 388.1L401.7 388L403.2 387.9L405 387.8L407 387.7L409.3 387.6L411.7 387.5L414.4 387.4L417.1 387.3L420 387.2L422.9 387.1L425.7 387L428.8 386.9L432 386.9L435.7 386.8L440 386.7L444.8 386.6L450.2 386.5L455.9 386.4L462 386.3L468.4 386.2L475 386.1L482 386L489.4 385.9L497.2 385.9L505 385.8L512.7 385.8L520 385.7L526.4 385.7L531.9 385.6L537.2 385.6L543.1 385.6L550.5 385.5L560 385.5L573.1 385.5L589.6 385.4L607.5 385.4L624.8 385.4L639.6 385.3L650 385.3" fill="none" stroke="#f29496" stroke-width="3" stroke-linejoin="round" stroke-linecap="round"/>
<path d="M397.5 389.5L398.2 389.4L399.2 389.4L400.3 389.3L401.7 389.2L403.2 389.1L405 389L407 388.9L409.3 388.8L411.7 388.7L414.4 388.6L417.1 388.5L420 388.4L422.9 388.3L425.7 388.2L428.8 388.1L432 388.1L435.7 388L440 387.9L444.8 387.8L450.2 387.7L455.9 387.6L462 387.5L468.4 387.4L475 387.3L482 387.2L489.4 387.1L497.2 387.1L505 387L512.7 387L520 386.9L526.4 386.9L531.9 386.8L537.2 386.8L543.1 386.8L550.5 386.7L560 386.7L573.1 386.7L589.6 386.6L607.5 386.6L624.8 386.6L639.6 386.5L650 386.5" fill="none" stroke="#e44a4e" stroke-width="0.7" stroke-linejoin="round" stroke-linecap="round"/>
<path d="M397.5 383.2L650.5 383.2" fill="none" stroke="#5d9ed8" stroke-width="4.2" stroke-linejoin="round" stroke-linecap="round"/>
<path d="M397.5 383.4L650.5 383.4" fill="none" stroke="#9ac6ec" stroke-width="2.4" stroke-linejoin="round" stroke-linecap="round"/>
<path d="M396.2 383.3a1.8 1.8 0 1 0 3.6 0a1.8 1.8 0 1 0 -3.6 0M399 383.6a1.8 1.8 0 1 0 3.6 0a1.8 1.8 0 1 0 -3.6 0M401.7 383.3a1.8 1.8 0 1 0 3.6 0a1.8 1.8 0 1 0 -3.6 0M404.6 383a1.8 1.8 0 1 0 3.6 0a1.8 1.8 0 1 0 -3.6 0M407.4 383.4a1.8 1.8 0 1 0 3.6 0a1.8 1.8 0 1 0 -3.6 0M410.6 383a1.8 1.8 0 1 0 3.6 0a1.8 1.8 0 1 0 -3.6 0M413 383a1.8 1.8 0 1 0 3.6 0a1.8 1.8 0 1 0 -3.6 0M416.2 383.5a1.8 1.8 0 1 0 3.6 0a1.8 1.8 0 1 0 -3.6 0M418.3 383.7a1.8 1.8 0 1 0 3.6 0a1.8 1.8 0 1 0 -3.6 0M421.8 383.4a1.8 1.8 0 1 0 3.6 0a1.8 1.8 0 1 0 -3.6 0M424.7 383a1.8 1.8 0 1 0 3.6 0a1.8 1.8 0 1 0 -3.6 0M426.7 383.3a1.8 1.8 0 1 0 3.6 0a1.8 1.8 0 1 0 -3.6 0M428.8 383.1a1.8 1.8 0 1 0 3.6 0a1.8 1.8 0 1 0 -3.6 0M431.2 382.9a1.8 1.8 0 1 0 3.6 0a1.8 1.8 0 1 0 -3.6 0M433.9 383.3a1.8 1.8 0 1 0 3.6 0a1.8 1.8 0 1 0 -3.6 0M437.1 383.3a1.8 1.8 0 1 0 3.6 0a1.8 1.8 0 1 0 -3.6 0M440.1 383.3a1.8 1.8 0 1 0 3.6 0a1.8 1.8 0 1 0 -3.6 0M443.1 383.3a1.8 1.8 0 1 0 3.6 0a1.8 1.8 0 1 0 -3.6 0M445.5 383.7a1.8 1.8 0 1 0 3.6 0a1.8 1.8 0 1 0 -3.6 0M449 383.6a1.8 1.8 0 1 0 3.6 0a1.8 1.8 0 1 0 -3.6 0M452 383.2a1.8 1.8 0 1 0 3.6 0a1.8 1.8 0 1 0 -3.6 0M454.4 383.1a1.8 1.8 0 1 0 3.6 0a1.8 1.8 0 1 0 -3.6 0M456.5 383.5a1.8 1.8 0 1 0 3.6 0a1.8 1.8 0 1 0 -3.6 0M459.1 383.6a1.8 1.8 0 1 0 3.6 0a1.8 1.8 0 1 0 -3.6 0M461.7 383.7a1.8 1.8 0 1 0 3.6 0a1.8 1.8 0 1 0 -3.6 0M464.9 382.9a1.8 1.8 0 1 0 3.6 0a1.8 1.8 0 1 0 -3.6 0M467.3 383.6a1.8 1.8 0 1 0 3.6 0a1.8 1.8 0 1 0 -3.6 0M470 383.7a1.8 1.8 0 1 0 3.6 0a1.8 1.8 0 1 0 -3.6 0M472.6 383a1.8 1.8 0 1 0 3.6 0a1.8 1.8 0 1 0 -3.6 0M475.5 383.5a1.8 1.8 0 1 0 3.6 0a1.8 1.8 0 1 0 -3.6 0M477.9 383a1.8 1.8 0 1 0 3.6 0a1.8 1.8 0 1 0 -3.6 0M480.4 383.7a1.8 1.8 0 1 0 3.6 0a1.8 1.8 0 1 0 -3.6 0M483.5 383a1.8 1.8 0 1 0 3.6 0a1.8 1.8 0 1 0 -3.6 0M485.9 383a1.8 1.8 0 1 0 3.6 0a1.8 1.8 0 1 0 -3.6 0M488 383.5a1.8 1.8 0 1 0 3.6 0a1.8 1.8 0 1 0 -3.6 0M490.3 383.3a1.8 1.8 0 1 0 3.6 0a1.8 1.8 0 1 0 -3.6 0M492.9 383.1a1.8 1.8 0 1 0 3.6 0a1.8 1.8 0 1 0 -3.6 0M496 383a1.8 1.8 0 1 0 3.6 0a1.8 1.8 0 1 0 -3.6 0M499 383a1.8 1.8 0 1 0 3.6 0a1.8 1.8 0 1 0 -3.6 0M501.6 383.1a1.8 1.8 0 1 0 3.6 0a1.8 1.8 0 1 0 -3.6 0M504 383.7a1.8 1.8 0 1 0 3.6 0a1.8 1.8 0 1 0 -3.6 0M507.2 383.1a1.8 1.8 0 1 0 3.6 0a1.8 1.8 0 1 0 -3.6 0M510.6 383.1a1.8 1.8 0 1 0 3.6 0a1.8 1.8 0 1 0 -3.6 0M513.2 383.6a1.8 1.8 0 1 0 3.6 0a1.8 1.8 0 1 0 -3.6 0M516.1 383a1.8 1.8 0 1 0 3.6 0a1.8 1.8 0 1 0 -3.6 0M519.6 383.1a1.8 1.8 0 1 0 3.6 0a1.8 1.8 0 1 0 -3.6 0M522 383.5a1.8 1.8 0 1 0 3.6 0a1.8 1.8 0 1 0 -3.6 0M524.5 383.1a1.8 1.8 0 1 0 3.6 0a1.8 1.8 0 1 0 -3.6 0M526.6 383a1.8 1.8 0 1 0 3.6 0a1.8 1.8 0 1 0 -3.6 0M529.5 383.1a1.8 1.8 0 1 0 3.6 0a1.8 1.8 0 1 0 -3.6 0M532.4 383.2a1.8 1.8 0 1 0 3.6 0a1.8 1.8 0 1 0 -3.6 0M535.1 383.7a1.8 1.8 0 1 0 3.6 0a1.8 1.8 0 1 0 -3.6 0M537.8 383.4a1.8 1.8 0 1 0 3.6 0a1.8 1.8 0 1 0 -3.6 0M541.1 383a1.8 1.8 0 1 0 3.6 0a1.8 1.8 0 1 0 -3.6 0M543.3 383.6a1.8 1.8 0 1 0 3.6 0a1.8 1.8 0 1 0 -3.6 0M546.5 383.1a1.8 1.8 0 1 0 3.6 0a1.8 1.8 0 1 0 -3.6 0M548.8 383.5a1.8 1.8 0 1 0 3.6 0a1.8 1.8 0 1 0 -3.6 0M552.2 383.1a1.8 1.8 0 1 0 3.6 0a1.8 1.8 0 1 0 -3.6 0M555.7 383.6a1.8 1.8 0 1 0 3.6 0a1.8 1.8 0 1 0 -3.6 0M558.6 383.2a1.8 1.8 0 1 0 3.6 0a1.8 1.8 0 1 0 -3.6 0M560.7 382.9a1.8 1.8 0 1 0 3.6 0a1.8 1.8 0 1 0 -3.6 0M564.2 383.1a1.8 1.8 0 1 0 3.6 0a1.8 1.8 0 1 0 -3.6 0M567.2 383.1a1.8 1.8 0 1 0 3.6 0a1.8 1.8 0 1 0 -3.6 0M570.5 383.4a1.8 1.8 0 1 0 3.6 0a1.8 1.8 0 1 0 -3.6 0M572.9 383a1.8 1.8 0 1 0 3.6 0a1.8 1.8 0 1 0 -3.6 0M576 383a1.8 1.8 0 1 0 3.6 0a1.8 1.8 0 1 0 -3.6 0M578.3 383.3a1.8 1.8 0 1 0 3.6 0a1.8 1.8 0 1 0 -3.6 0M581.6 383.4a1.8 1.8 0 1 0 3.6 0a1.8 1.8 0 1 0 -3.6 0M584 383.6a1.8 1.8 0 1 0 3.6 0a1.8 1.8 0 1 0 -3.6 0M586.3 382.9a1.8 1.8 0 1 0 3.6 0a1.8 1.8 0 1 0 -3.6 0M588.7 383.3a1.8 1.8 0 1 0 3.6 0a1.8 1.8 0 1 0 -3.6 0M590.8 383a1.8 1.8 0 1 0 3.6 0a1.8 1.8 0 1 0 -3.6 0M593.4 383.4a1.8 1.8 0 1 0 3.6 0a1.8 1.8 0 1 0 -3.6 0M595.6 383.2a1.8 1.8 0 1 0 3.6 0a1.8 1.8 0 1 0 -3.6 0M598.9 383.7a1.8 1.8 0 1 0 3.6 0a1.8 1.8 0 1 0 -3.6 0M601.9 383.5a1.8 1.8 0 1 0 3.6 0a1.8 1.8 0 1 0 -3.6 0M604.8 383a1.8 1.8 0 1 0 3.6 0a1.8 1.8 0 1 0 -3.6 0M606.8 382.9a1.8 1.8 0 1 0 3.6 0a1.8 1.8 0 1 0 -3.6 0M610.2 383.5a1.8 1.8 0 1 0 3.6 0a1.8 1.8 0 1 0 -3.6 0M613.6 382.9a1.8 1.8 0 1 0 3.6 0a1.8 1.8 0 1 0 -3.6 0M616.6 383.3a1.8 1.8 0 1 0 3.6 0a1.8 1.8 0 1 0 -3.6 0M619.7 383.2a1.8 1.8 0 1 0 3.6 0a1.8 1.8 0 1 0 -3.6 0M623.2 383a1.8 1.8 0 1 0 3.6 0a1.8 1.8 0 1 0 -3.6 0M626 383.5a1.8 1.8 0 1 0 3.6 0a1.8 1.8 0 1 0 -3.6 0M629.3 383.5a1.8 1.8 0 1 0 3.6 0a1.8 1.8 0 1 0 -3.6 0M632.4 383.5a1.8 1.8 0 1 0 3.6 0a1.8 1.8 0 1 0 -3.6 0M635.8 383.2a1.8 1.8 0 1 0 3.6 0a1.8 1.8 0 1 0 -3.6 0M638.8 383.6a1.8 1.8 0 1 0 3.6 0a1.8 1.8 0 1 0 -3.6 0M642.1 383.2a1.8 1.8 0 1 0 3.6 0a1.8 1.8 0 1 0 -3.6 0M645.3 383.6a1.8 1.8 0 1 0 3.6 0a1.8 1.8 0 1 0 -3.6 0M648.2 383.4a1.8 1.8 0 1 0 3.6 0a1.8 1.8 0 1 0 -3.6 0" fill="none" stroke="#6aa8de" stroke-width="0.3"/>
<path d="M396 416.6L397.2 416.9L398.4 417L399.6 417.1L400.8 417.3L402 417.8L403.2 417.9L404.4 418.3L405.6 418.3L406.8 418.7L408 418.8L409.2 419.2L410.4 419.4L411.6 419.5L412.8 419.8L414 420L415.2 420L416.4 420.4L417.6 420.7L418.8 420.7L420 421.1L421.2 421.3L422.4 421.5L423.6 421.5L424.8 421.6L426 422.1L427.2 422.3L428.4 422.4L429.6 422.4L430.8 422.7L432 423.1L433.2 423.1L434.4 423.6L435.6 423.6L436.8 423.7L438 424.1L439.2 424.2L440.4 424.6L441.6 424.8L442.8 424.8L444 425.1L445.2 425.3L446.4 425.5L447.6 425.8L448.8 425.6L450 425.9L451.2 426.2L452.4 426.3L453.6 426.6L454.8 426.6L456 427.1L457.2 427.1L458.4 427.2L459.6 427.6L460.8 427.6L462 427.7L463.2 428L464.4 428.1L465.6 428.3L466.8 428.7L468 428.9L469.2 428.8L470.4 429.2L471.6 429.1L472.8 429.4L474 429.8L475.2 429.9L476.4 429.9L477.6 430.1L478.8 430.3L480 430.3L481.2 430.8L482.4 430.6L483.6 430.9L484.8 431.2L486 431.2L487.2 431.6L488.4 431.4L489.6 431.8L490.8 431.9L492 432L493.2 432.2L494.4 432.2L495.6 432.5L496.8 432.6L498 432.6L499.2 432.7L500.4 432.9L501.6 432.9L502.8 432.9L504 433.3L505.2 433.3L506.4 433.5L507.6 433.7L508.8 433.6L510 433.7L511.2 433.8L512.4 434.2L513.6 434.2L514.8 434.3L516 434.5L517.2 434.8L518.4 434.7L519.6 434.9L520.8 435.2L522 435.3L523.2 435.3L524.4 435.5L525.6 435.7L526.8 435.7L528 435.9L529.2 436L530.4 436.4L531.6 436.3L532.8 436.6L534 436.8L535.2 437L536.4 436.9L537.6 437.1L538.8 437.2L540 437.3L541.2 437.5L542.4 437.8L543.6 438L544.8 437.9L546 437.9L547.2 438.2L548.4 438.2L549.6 438.4L550.8 438.8L552 438.7L553.2 439.1L554.4 439.1L555.6 439.5L556.8 439.6L558 439.5L559.2 439.7L560.4 440.1L561.6 440.2L562.8 440.3L564 440.6L565.2 440.8L566.4 440.8L567.6 441L568.8 441L570 441.3L571.2 441.4L572.4 441.8L573.6 441.9L574.8 441.9L576 442.3L577.2 442.3L578.4 442.5L579.6 442.9L580.8 443L582 443.4L583.2 443.5L584.4 443.7L585.6 443.7L586.8 444.2L588 444.1L589.2 444.5L590.4 444.8L591.6 445L592.8 445.2L594 445.2L595.2 445.5L596.4 445.8L597.6 445.7L598.8 446.2L600 446.4L601.2 446.4L602.4 446.7L603.6 446.8L604.8 446.9L606 447.3L607.2 447.2L608.4 447.7L609.6 447.9L610.8 447.8L612 448.3L613.2 448.1L614.4 448.6L615.6 448.5L616.8 449L618 448.9L619.2 449.3L620.4 449.1L621.6 449.3L622.8 449.7L624 449.8L625.2 449.9L626.4 449.9L627.6 450.1L628.8 450.3L630 450.4L631.2 450.9L632.4 451L633.6 451.2L634.8 451.3L636 451.3L637.2 451.3L638.4 451.7L639.6 451.6L640.8 452L642 452.1L643.2 452.3L644.4 452.2L645.6 452.4L646.8 452.7L648 452.7L649.2 453L650.4 453" fill="none" stroke="#9b9b9b" stroke-width="4.2" stroke-linejoin="round" stroke-linecap="round"/>
<path d="M396 408.5L397.2 408.6L398.4 408.9L399.6 408.8L400.8 409.2L402 409.2L403.2 409.2L404.4 409.6L405.6 409.5L406.8 409.8L408 409.8L409.2 409.9L410.4 410.1L411.6 410.4L412.8 410.2L414 410.4L415.2 410.7L416.4 410.9L417.6 410.8L418.8 410.9L420 411.2L421.2 410.9L422.4 411.3L423.6 411.2L424.8 411.2L426 411.3L427.2 411.4L428.4 411.7L429.6 411.6L430.8 411.8L432 411.9L433.2 411.9L434.4 412L435.6 411.9L436.8 412L438 412.1L439.2 412.4L440.4 412.4L441.6 412.4L442.8 412.6L444 412.6L445.2 412.6L446.4 412.9L447.6 412.9L448.8 412.8L450 413L451.2 413.1L452.4 413.3L453.6 413.3L454.8 413.2L456 413.6L457.2 413.3L458.4 413.5L459.6 413.7L460.8 413.6L462 413.8L463.2 413.7L464.4 414L465.6 414.1L466.8 414.1L468 414.3L469.2 414.2L470.4 414.4L471.6 414.4L472.8 414.5L474 414.5L475.2 414.7L476.4 414.9L477.6 414.7L478.8 414.9L480 414.7L481.2 415.1L482.4 415.1L483.6 415.3L484.8 415.3L486 415.2L487.2 415.3L488.4 415.4L489.6 415.2L490.8 415.5L492 415.4L493.2 415.5L494.4 415.5L495.6 415.9L496.8 415.7L498 415.8L499.2 415.9L500.4 416.2L501.6 415.9L502.8 416.1L504 416.3L505.2 416.5L506.4 416.5L507.6 416.6L508.8 416.5L510 416.6L511.2 416.7L512.4 417L513.6 417.1L514.8 416.9L516 417L517.2 417.1L518.4 417.3L519.6 417.5L520.8 417.6L522 417.6L523.2 417.7L524.4 418L525.6 418.1L526.8 418.3L528 418.6L529.2 418.7L530.4 418.8L531.6 419L532.8 419.2L534 419.1L535.2 419.6L536.4 419.7L537.6 419.9L538.8 420.1L540 420.1L541.2 420.3L542.4 420.3L543.6 420.7L544.8 420.7L546 420.9L547.2 421.1L548.4 421.3L549.6 421.5L550.8 421.6L552 421.7L553.2 422L554.4 422.1L555.6 422.4L556.8 422.4L558 422.9L559.2 423L560.4 422.9L561.6 423.1L562.8 423.3L564 423.4L565.2 423.5L566.4 423.9L567.6 424L568.8 423.9L570 424L571.2 424L572.4 424.1L573.6 424.2L574.8 424.3L576 424.6L577.2 424.4L578.4 424.4L579.6 424.8L580.8 424.7L582 424.6L583.2 424.8L584.4 424.6L585.6 424.9L586.8 425.1L588 425.1L589.2 425.1L590.4 425L591.6 425L592.8 425L594 425.3L595.2 425.3L596.4 425.4L597.6 425.3L598.8 425.3L600 425.6L601.2 425.8L602.4 425.8L603.6 425.9L604.8 426L606 426.1L607.2 426L608.4 426.2L609.6 426.2L610.8 426.2L612 426.3L613.2 426.6L614.4 426.7L615.6 427L616.8 427.2L618 427.1L619.2 427.4L620.4 427.5L621.6 427.6L622.8 427.5L624 427.5L625.2 427.6L626.4 427.7L627.6 427.7L628.8 428L630 428.2L631.2 428.2L632.4 428.1L633.6 428.3L634.8 428.4L636 428.2L637.2 428.5L638.4 428.7L639.6 428.8L640.8 428.9L642 428.9L643.2 428.9L644.4 429.3L645.6 429.3L646.8 429.7L648 430L649.2 429.9L650.4 430.1" fill="none" stroke="#e3262b" stroke-width="4.2" stroke-linejoin="round" stroke-linecap="round"/>
<path d="M396 405.9L397.2 406.3L398.4 406L399.6 406.3L400.8 406.1L402 406.2L403.2 406.6L404.4 406.4L405.6 406.6L406.8 406.6L408 406.7L409.2 406.8L410.4 406.7L411.6 407L412.8 406.8L414 406.9L415.2 406.9L416.4 407.1L417.6 407.2L418.8 407.5L420 407.4L421.2 407.3L422.4 407.4L423.6 407.8L424.8 407.5L426 407.8L427.2 407.8L428.4 408L429.6 407.9L430.8 408.1L432 408.1L433.2 408.3L434.4 408.4L435.6 408.4L436.8 408.3L438 408.3L439.2 408.7L440.4 408.6L441.6 408.6L442.8 409L444 408.9L445.2 409L446.4 409.2L447.6 409L448.8 409.1L450 409.4L451.2 409.2L452.4 409.5L453.6 409.3L454.8 409.6L456 409.7L457.2 409.9L458.4 409.9L459.6 409.9L460.8 409.8L462 409.9L463.2 410.1L464.4 410.2L465.6 410.1L466.8 410.5L468 410.4L469.2 410.5L470.4 410.4L471.6 410.5L472.8 410.5L474 410.7L475.2 410.7L476.4 410.9L477.6 410.9L478.8 411.2L480 411.3L481.2 411.1L482.4 411.2L483.6 411.2L484.8 411.5L486 411.7L487.2 411.4L488.4 411.7L489.6 411.6L490.8 411.6L492 412L493.2 411.9L494.4 411.9L495.6 412.1L496.8 412L498 412.2L499.2 412.3L500.4 412.3L501.6 412.5L502.8 412.4L504 412.4L505.2 412.5L506.4 412.6L507.6 412.8L508.8 412.8L510 413L511.2 413L512.4 413.1L513.6 413.3L514.8 413L516 413L517.2 413.1L518.4 413.3L519.6 413.4L520.8 413.5L522 413.4L523.2 413.7L524.4 413.4L525.6 413.7L526.8 413.5L528 413.8L529.2 413.5L530.4 413.9L531.6 413.9L532.8 414L534 413.8L535.2 413.7L536.4 414L537.6 413.8L538.8 413.7L540 413.9L541.2 413.9L542.4 413.9L543.6 413.8L544.8 413.8L546 414L547.2 414L548.4 413.9L549.6 414.1L550.8 414.2L552 414.3L553.2 414.2L554.4 414.2L555.6 414.2L556.8 414.2L558 414.3L559.2 414.4L560.4 414.3L561.6 414.6L562.8 414.7L564 414.7L565.2 414.5L566.4 414.7L567.6 414.8L568.8 414.7L570 415.2L571.2 415.1L572.4 415.1L573.6 415.2L574.8 415.1L576 415.2L577.2 415.4L578.4 415.5L579.6 415.5L580.8 415.4L582 415.7L583.2 415.9L584.4 415.9L585.6 416L586.8 416.1L588 415.9L589.2 416L590.4 416.1L591.6 416.4L592.8 416.2L594 416.5L595.2 416.5L596.4 416.5L597.6 416.6L598.8 416.8L600 416.8L601.2 416.7L602.4 417L603.6 416.8L604.8 416.9L606 417.2L607.2 417.3L608.4 417.1L609.6 417.2L610.8 417.4L612 417.6L613.2 417.6L614.4 417.7L615.6 417.7L616.8 417.8L618 417.8L619.2 417.8L620.4 417.9L621.6 418L622.8 418.1L624 418.3L625.2 418.1L626.4 418.1L627.6 418.5L628.8 418.4L630 418.5L631.2 418.5L632.4 418.8L633.6 418.7L634.8 418.7L636 419L637.2 419L638.4 419L639.6 419.3L640.8 419.2L642 419.2L643.2 419.5L644.4 419.5L645.6 419.6L646.8 419.5L648 419.8L649.2 419.8L650.4 419.9" fill="none" stroke="#2178bc" stroke-width="4.2" stroke-linejoin="round" stroke-linecap="round"/>
</g>
<path d="M392.4 404.6a2 2 0 1 0 4 0a2 2 0 1 0 -4 0M393.8 408.3a2 2 0 1 0 4 0a2 2 0 1 0 -4 0" fill="#9b9b9b"/>
<path d="M392.1 400.4a2.1 2.1 0 1 0 4.2 0a2.1 2.1 0 1 0 -4.2 0" fill="#e3262b"/>
<path d="M394.3 396.9L395 395.2L396.9 392.6" fill="none" stroke="#2178bc" stroke-width="4" stroke-linejoin="round" stroke-linecap="round"/>
<line x1="393.2" y1="374" x2="651.4" y2="374" stroke="#8e8e8e" stroke-width="1"/>
<line x1="393.6" y1="374" x2="393.6" y2="503.6" stroke="#262626" stroke-width="0.8"/>
<line x1="651" y1="374" x2="651" y2="503.6" stroke="#262626" stroke-width="0.8"/>
<line x1="393.2" y1="503.6" x2="651.4" y2="503.6" stroke="#262626" stroke-width="0.8"/>
<line x1="391.1" y1="503.6" x2="393.6" y2="503.6" stroke="#222" stroke-width="0.8"/>
<text x="389.4" y="506.5" font-size="8.96" text-anchor="end" stroke="#111" stroke-width="0.2" textLength="13.34" lengthAdjust="spacingAndGlyphs">100</text>
<line x1="391.1" y1="477.68" x2="393.6" y2="477.68" stroke="#222" stroke-width="0.8"/>
<text x="389.4" y="480.58" font-size="8.96" text-anchor="end" stroke="#111" stroke-width="0.2" textLength="13.34" lengthAdjust="spacingAndGlyphs">120</text>
<line x1="391.1" y1="451.76" x2="393.6" y2="451.76" stroke="#222" stroke-width="0.8"/>
<text x="389.4" y="454.66" font-size="8.96" text-anchor="end" stroke="#111" stroke-width="0.2" textLength="13.34" lengthAdjust="spacingAndGlyphs">140</text>
<line x1="391.1" y1="425.84" x2="393.6" y2="425.84" stroke="#222" stroke-width="0.8"/>
<text x="389.4" y="428.74" font-size="8.96" text-anchor="end" stroke="#111" stroke-width="0.2" textLength="13.34" lengthAdjust="spacingAndGlyphs">160</text>
<line x1="391.1" y1="399.92" x2="393.6" y2="399.92" stroke="#222" stroke-width="0.8"/>
<text x="389.4" y="402.82" font-size="8.96" text-anchor="end" stroke="#111" stroke-width="0.2" textLength="13.34" lengthAdjust="spacingAndGlyphs">180</text>
<line x1="391.1" y1="374" x2="393.6" y2="374" stroke="#222" stroke-width="0.8"/>
<text x="389.4" y="376.9" font-size="8.96" text-anchor="end" stroke="#111" stroke-width="0.2" textLength="13.34" lengthAdjust="spacingAndGlyphs">200</text>
<line x1="392.2" y1="490.64" x2="393.6" y2="490.64" stroke="#222" stroke-width="0.8"/>
<line x1="392.2" y1="464.72" x2="393.6" y2="464.72" stroke="#222" stroke-width="0.8"/>
<line x1="392.2" y1="438.8" x2="393.6" y2="438.8" stroke="#222" stroke-width="0.8"/>
<line x1="392.2" y1="412.88" x2="393.6" y2="412.88" stroke="#222" stroke-width="0.8"/>
<line x1="392.2" y1="386.96" x2="393.6" y2="386.96" stroke="#222" stroke-width="0.8"/>
<line x1="651" y1="503.3" x2="653.5" y2="503.3" stroke="#222" stroke-width="0.8"/>
<text x="655.3" y="506.2" font-size="8.96" stroke="#111" stroke-width="0.2" textLength="8.9" lengthAdjust="spacingAndGlyphs">60</text>
<line x1="651" y1="488.23" x2="652.4" y2="488.23" stroke="#222" stroke-width="0.8"/>
<line x1="651" y1="473.15" x2="653.5" y2="473.15" stroke="#222" stroke-width="0.8"/>
<text x="655.3" y="476.05" font-size="8.96" stroke="#111" stroke-width="0.2" textLength="8.9" lengthAdjust="spacingAndGlyphs">70</text>
<line x1="651" y1="458.08" x2="652.4" y2="458.08" stroke="#222" stroke-width="0.8"/>
<line x1="651" y1="443" x2="653.5" y2="443" stroke="#222" stroke-width="0.8"/>
<text x="655.3" y="445.9" font-size="8.96" stroke="#111" stroke-width="0.2" textLength="8.9" lengthAdjust="spacingAndGlyphs">80</text>
<line x1="651" y1="427.93" x2="652.4" y2="427.93" stroke="#222" stroke-width="0.8"/>
<line x1="651" y1="412.85" x2="653.5" y2="412.85" stroke="#222" stroke-width="0.8"/>
<text x="655.3" y="415.75" font-size="8.96" stroke="#111" stroke-width="0.2" textLength="8.9" lengthAdjust="spacingAndGlyphs">90</text>
<line x1="651" y1="397.78" x2="652.4" y2="397.78" stroke="#222" stroke-width="0.8"/>
<line x1="651" y1="382.7" x2="653.5" y2="382.7" stroke="#222" stroke-width="0.8"/>
<text x="655.3" y="385.6" font-size="8.96" stroke="#111" stroke-width="0.2" textLength="13.34" lengthAdjust="spacingAndGlyphs">100</text>
<line x1="393.6" y1="503.6" x2="393.6" y2="506.1" stroke="#222" stroke-width="0.8"/>
<text x="393.6" y="514" font-size="8.96" text-anchor="middle" stroke="#111" stroke-width="0.2" textLength="4.45" lengthAdjust="spacingAndGlyphs">0</text>
<line x1="436.5" y1="503.6" x2="436.5" y2="506.1" stroke="#222" stroke-width="0.8"/>
<text x="436.5" y="514" font-size="8.96" text-anchor="middle" stroke="#111" stroke-width="0.2" textLength="8.9" lengthAdjust="spacingAndGlyphs">50</text>
<line x1="479.4" y1="503.6" x2="479.4" y2="506.1" stroke="#222" stroke-width="0.8"/>
<text x="479.4" y="514" font-size="8.96" text-anchor="middle" stroke="#111" stroke-width="0.2" textLength="13.34" lengthAdjust="spacingAndGlyphs">100</text>
<line x1="522.3" y1="503.6" x2="522.3" y2="506.1" stroke="#222" stroke-width="0.8"/>
<text x="522.3" y="514" font-size="8.96" text-anchor="middle" stroke="#111" stroke-width="0.2" textLength="13.34" lengthAdjust="spacingAndGlyphs">150</text>
<line x1="565.2" y1="503.6" x2="565.2" y2="506.1" stroke="#222" stroke-width="0.8"/>
<text x="565.2" y="514" font-size="8.96" text-anchor="middle" stroke="#111" stroke-width="0.2" textLength="13.34" lengthAdjust="spacingAndGlyphs">200</text>
<line x1="608.1" y1="503.6" x2="608.1" y2="506.1" stroke="#222" stroke-width="0.8"/>
<text x="608.1" y="514" font-size="8.96" text-anchor="middle" stroke="#111" stroke-width="0.2" textLength="13.34" lengthAdjust="spacingAndGlyphs">250</text>
<line x1="651" y1="503.6" x2="651" y2="506.1" stroke="#222" stroke-width="0.8"/>
<text x="651" y="514" font-size="8.96" text-anchor="middle" stroke="#111" stroke-width="0.2" textLength="13.34" lengthAdjust="spacingAndGlyphs">300</text>
<line x1="415.05" y1="503.6" x2="415.05" y2="505" stroke="#222" stroke-width="0.8"/>
<line x1="457.95" y1="503.6" x2="457.95" y2="505" stroke="#222" stroke-width="0.8"/>
<line x1="500.85" y1="503.6" x2="500.85" y2="505" stroke="#222" stroke-width="0.8"/>
<line x1="543.75" y1="503.6" x2="543.75" y2="505" stroke="#222" stroke-width="0.8"/>
<line x1="586.65" y1="503.6" x2="586.65" y2="505" stroke="#222" stroke-width="0.8"/>
<line x1="629.55" y1="503.6" x2="629.55" y2="505" stroke="#222" stroke-width="0.8"/>
<text x="496.8" y="527.7" font-size="8" textLength="50.5" lengthAdjust="spacingAndGlyphs" stroke="#111" stroke-width="0.2">Cycle number</text>
<text x="372.5" y="490.73" font-size="8.5" textLength="106.85" lengthAdjust="spacingAndGlyphs" transform="rotate(-90 372.5 490.73)" stroke="#111" stroke-width="0.2">Specific capacity (mAh g<tspan dy="-3" font-size="5.6">−1</tspan><tspan dy="3">)</tspan></text>
<text x="676.8" y="485.82" font-size="8.5" textLength="96.05" lengthAdjust="spacingAndGlyphs" transform="rotate(-90 676.8 485.82)" stroke="#111" stroke-width="0.2">Coulombic efficiency (%)</text>
<path d="M406.6 467.4a2.2 2.2 0 1 0 4.4 0a2.2 2.2 0 1 0 -4.4 0" fill="#9b9b9b"/>
<text x="420" y="470.3" font-size="8.1" textLength="30.21" lengthAdjust="spacingAndGlyphs" stroke="#111" stroke-width="0.2">Gr||LCO</text>
<path d="M406.6 478.6a2.2 2.2 0 1 0 4.4 0a2.2 2.2 0 1 0 -4.4 0" fill="#e3262b"/>
<text x="420" y="481.5" font-size="8.1" textLength="69.51" lengthAdjust="spacingAndGlyphs" stroke="#111" stroke-width="0.2">Gr||LCO+4% L6CO</text>
<path d="M406.6 489.8a2.2 2.2 0 1 0 4.4 0a2.2 2.2 0 1 0 -4.4 0" fill="#2178bc"/>
<text x="420" y="492.7" font-size="8.1" textLength="84.01" lengthAdjust="spacingAndGlyphs" stroke="#111" stroke-width="0.2">Gr||LCO+4% L6CO@S</text>
<text x="622.7" y="413.8" font-size="8.1" textLength="23.51" lengthAdjust="spacingAndGlyphs" stroke="#111" stroke-width="0.2">93.8%</text>
<text x="622.7" y="441.5" font-size="8.1" textLength="23.51" lengthAdjust="spacingAndGlyphs" stroke="#111" stroke-width="0.2">89.3%</text>
<text x="622.7" y="465.5" font-size="8.1" textLength="23.51" lengthAdjust="spacingAndGlyphs" stroke="#111" stroke-width="0.2">83.2%</text>
<text x="570.6" y="483.4" font-size="8.1" textLength="39.11" lengthAdjust="spacingAndGlyphs" stroke="#111" stroke-width="0.2">Rate: 0.5C</text>
<text x="570.6" y="494" font-size="8.1" textLength="67.11" lengthAdjust="spacingAndGlyphs" stroke="#111" stroke-width="0.2">Voltage: 2.5–4.4 V</text>
<path d="M412.8 428.7 Q408 432.8 396.6 432.7" fill="none" stroke="#111" stroke-width="0.75"/>
<path d="M396.1 432.7 L399.81 431.43 L399.79 434.03 Z" fill="#111"/>
<path d="M631.3 389.8 Q637 393.8 648.1 393.8" fill="none" stroke="#111" stroke-width="0.75"/>
<path d="M648.6 393.8 L644.9 395.1 L644.9 392.5 Z" fill="#111"/>
</svg>
</body></html>
